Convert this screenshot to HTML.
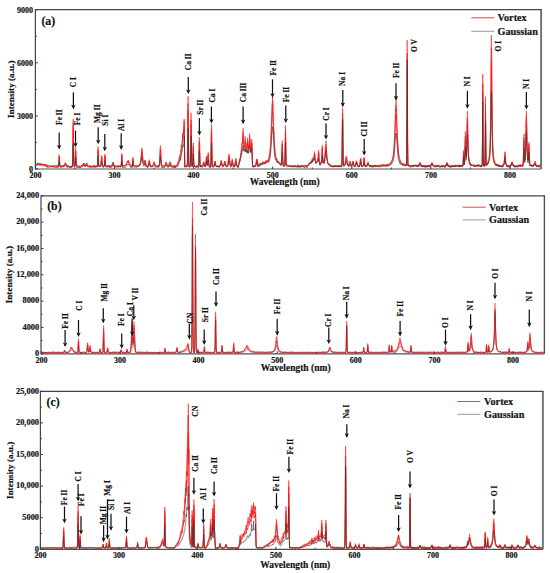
<!DOCTYPE html>
<html><head><meta charset="utf-8"><style>
html,body{margin:0;padding:0;background:#fff;width:550px;height:573px;overflow:hidden}
svg{display:block}
.b{font-family:"Liberation Serif",serif;font-weight:bold;fill:#111;stroke:#111;stroke-width:0.18px}
</style></head><body>
<svg width="550" height="573" viewBox="0 0 550 573">
<rect width="550" height="573" fill="#fff"/>
<g fill="none" stroke-width="0.95" stroke-linejoin="round">
<path d="M36.0,164.1 36.3,165.1 36.7,164.8 37.0,165.1 37.3,164.1 37.6,164.0 38.0,164.3 38.0,164.0 38.3,163.4 38.6,163.9 39.0,164.1 39.3,164.5 39.6,163.8 40.0,163.8 40.3,164.9 40.6,164.2 41.0,164.1 41.3,164.4 41.6,164.8 41.9,164.3 42.3,164.7 42.6,164.7 42.9,164.4 43.0,165.0 43.3,164.6 43.6,164.7 43.9,164.6 44.2,164.9 44.6,165.6 44.9,164.9 45.2,165.5 45.6,165.1 45.9,165.4 46.2,165.6 46.6,165.5 46.9,165.1 47.0,166.2 47.2,166.2 47.5,165.5 47.9,165.4 48.2,166.2 48.5,165.8 48.9,165.4 49.2,165.7 49.5,165.5 49.9,166.2 50.2,166.1 50.5,165.9 50.9,166.7 51.2,165.8 51.5,166.1 51.8,166.0 52.2,166.5 52.5,165.7 52.8,165.8 53.2,165.5 53.5,166.2 53.8,166.2 54.1,166.1 54.5,166.2 54.8,166.3 55.1,166.6 55.5,166.9 55.8,166.4 56.1,166.9 56.5,166.4 56.8,166.9 57.1,166.9 57.5,165.9 57.8,165.9 58.1,166.3 58.4,166.1 58.8,163.1 59.0,158.8 59.1,158.6 59.2,157.1 59.4,158.2 59.4,160.1 59.8,165.9 60.1,166.5 60.4,166.5 60.8,166.3 61.1,167.1 61.4,167.0 61.7,166.6 62.1,166.4 62.4,166.0 62.7,166.2 63.1,167.1 63.4,166.6 63.7,166.1 64.0,166.6 64.4,165.8 64.7,164.8 65.0,164.1 65.3,163.7 65.4,163.7 65.5,163.7 65.7,164.3 65.7,163.8 66.0,164.5 66.4,165.6 66.7,166.4 67.0,165.9 67.3,166.5 67.7,166.2 68.0,166.5 68.3,166.4 68.7,166.6 69.0,166.7 69.3,166.6 69.7,167.0 70.0,166.4 70.3,166.4 70.7,167.1 71.0,166.9 71.3,166.9 71.6,166.3 72.0,167.2 72.3,166.9 72.6,162.5 73.0,141.7 73.0,134.1 73.2,128.7 73.3,130.7 73.3,133.6 73.6,154.6 74.0,165.5 74.3,165.8 74.6,166.2 74.9,166.2 75.3,162.3 75.5,153.8 75.6,153.1 75.7,151.3 75.8,153.5 75.9,155.9 76.3,163.7 76.6,165.6 76.9,165.5 77.2,166.4 77.6,165.9 77.9,166.7 78.2,166.4 78.6,167.1 78.9,167.1 79.2,167.0 79.6,167.5 79.9,167.1 80.2,166.9 80.5,166.3 80.9,166.5 81.2,166.3 81.5,166.3 81.9,166.6 82.2,166.5 82.5,165.2 82.9,165.3 83.2,164.8 83.5,164.0 83.5,163.4 83.7,164.2 83.8,163.6 84.2,164.8 84.5,165.2 84.8,165.8 85.2,166.2 85.5,164.9 85.8,165.1 86.2,164.0 86.5,163.3 86.5,163.6 86.6,164.0 86.8,163.4 86.8,163.9 87.2,164.9 87.5,165.2 87.8,166.1 88.1,166.1 88.5,166.7 88.8,165.7 89.1,166.2 89.5,166.4 89.8,165.8 90.1,166.9 90.5,166.0 90.8,167.0 91.1,166.9 91.4,167.2 91.8,166.9 92.1,166.5 92.4,166.2 92.8,166.2 93.1,167.0 93.4,166.1 93.8,166.0 94.1,166.8 94.4,166.5 94.7,166.6 95.1,166.9 95.4,166.2 95.7,166.6 96.1,166.3 96.4,166.9 96.7,166.1 97.0,166.4 97.4,166.3 97.7,161.4 98.0,153.1 98.0,151.6 98.1,151.7 98.2,153.0 98.4,156.9 98.7,164.5 99.0,166.6 99.4,166.2 99.7,165.8 100.0,166.1 100.3,165.8 100.7,165.7 101.0,164.2 101.3,160.9 101.5,159.4 101.7,158.1 101.7,157.6 101.8,159.1 102.0,160.2 102.3,163.4 102.7,165.8 103.0,166.3 103.3,166.5 103.7,166.7 104.0,166.0 104.3,165.3 104.6,162.4 104.8,158.2 105.0,156.8 105.0,156.3 105.2,158.1 105.3,161.5 105.6,165.6 106.0,166.3 106.3,166.0 106.6,166.4 107.0,165.9 107.3,165.9 107.6,166.4 107.9,165.9 108.3,166.0 108.6,166.6 108.9,166.1 109.3,166.9 109.6,166.2 109.9,167.1 110.2,166.7 110.6,166.2 110.9,166.5 111.2,166.6 111.6,166.3 111.9,166.3 112.2,165.2 112.6,164.9 112.8,163.4 112.9,164.1 113.0,163.1 113.2,163.7 113.2,163.2 113.5,164.0 113.9,165.5 114.2,166.4 114.5,165.9 114.9,166.2 115.2,166.3 115.5,166.5 115.9,166.1 116.2,166.3 116.5,166.8 116.8,166.5 117.2,166.2 117.5,166.6 117.8,166.9 118.2,166.3 118.5,165.7 118.8,165.9 119.2,166.6 119.5,165.7 119.8,165.8 120.2,166.4 120.5,165.7 120.8,166.6 121.1,165.6 121.5,161.5 121.7,158.0 121.8,155.9 122.0,157.9 122.1,161.5 122.5,166.0 122.8,166.5 123.1,165.8 123.5,166.4 123.8,166.5 124.1,165.8 124.4,166.0 124.8,165.8 125.1,165.9 125.4,165.8 125.8,165.1 126.1,164.9 126.4,163.9 126.8,163.8 127.1,162.9 127.4,162.7 127.7,161.4 127.8,161.9 128.0,161.2 128.1,161.9 128.2,161.7 128.4,162.9 128.7,162.3 129.1,163.8 129.4,164.2 129.7,164.8 130.1,165.0 130.4,166.0 130.7,166.5 131.0,165.7 131.4,166.4 131.7,166.0 132.0,165.7 132.4,165.0 132.7,161.6 132.8,160.9 132.9,160.1 133.0,159.8 133.1,160.4 133.3,164.3 133.7,165.9 134.0,166.1 134.3,165.8 134.7,165.5 135.0,166.0 135.3,166.4 135.7,166.2 136.0,166.4 136.3,166.1 136.7,165.8 137.0,166.5 137.3,165.9 137.6,166.0 138.0,166.7 138.3,166.2 138.6,166.4 139.0,166.0 139.3,166.0 139.6,164.7 139.9,164.8 140.3,163.4 140.6,162.4 140.9,159.9 141.3,156.9 141.6,153.5 141.8,152.0 141.9,152.7 141.9,151.8 142.1,152.4 142.3,154.9 142.6,158.2 142.9,160.8 143.2,162.5 143.6,163.3 143.9,163.9 144.2,164.7 144.6,163.1 144.8,161.8 144.9,162.4 145.0,162.0 145.2,161.7 145.2,162.6 145.6,163.2 145.9,165.3 146.2,166.2 146.6,165.5 146.9,166.5 147.2,166.2 147.5,166.2 147.9,166.5 148.2,165.7 148.5,164.4 148.9,162.2 149.2,161.8 149.2,161.2 149.3,161.5 149.4,161.7 149.5,162.5 149.8,164.3 150.2,165.9 150.5,166.2 150.8,167.0 151.2,166.3 151.5,165.9 151.8,166.5 152.2,165.7 152.5,166.4 152.8,165.3 153.2,164.3 153.5,163.4 153.8,163.1 153.8,163.2 154.0,163.4 154.1,162.6 154.2,162.9 154.5,163.5 154.8,165.2 155.1,165.4 155.5,165.9 155.8,166.5 156.1,166.3 156.4,166.3 156.8,166.3 157.1,166.0 157.4,166.5 157.8,165.9 158.1,166.3 158.4,166.2 158.8,166.6 159.1,166.4 159.4,164.7 159.8,161.1 160.1,154.4 160.2,151.6 160.4,150.3 160.4,149.8 160.6,150.4 160.7,154.2 161.1,160.3 161.4,164.5 161.7,165.5 162.1,165.9 162.4,165.7 162.7,166.6 163.1,166.1 163.4,166.6 163.7,166.9 164.0,166.9 164.4,166.9 164.7,166.4 165.0,165.2 165.4,165.2 165.7,163.4 165.8,163.7 166.0,164.0 166.0,163.9 166.2,163.5 166.3,164.1 166.7,163.9 167.0,164.4 167.3,165.0 167.7,166.0 168.0,165.2 168.3,165.3 168.7,165.4 169.0,164.7 169.3,164.8 169.7,163.4 169.8,163.2 170.0,164.1 170.0,163.1 170.2,163.3 170.3,163.9 170.6,165.1 171.0,165.1 171.3,166.0 171.6,166.5 172.0,166.7 172.3,166.9 172.6,165.9 172.9,166.5 173.3,165.9 173.6,166.7 173.9,165.7 174.3,165.6 174.6,166.2 174.9,166.4 175.3,165.7 175.5,166.8 175.6,166.3 175.9,166.3 176.2,165.9 176.6,166.5 176.9,165.9 177.2,165.7 177.6,164.7 177.9,164.0 178.0,164.9 178.2,164.0 178.6,163.3 178.9,161.5 179.2,160.7 179.6,159.2 179.9,158.7 180.2,157.0 180.5,157.5 180.7,157.9 180.9,155.1 181.2,154.1 181.5,149.7 181.9,146.5 182.2,144.6 182.5,142.7 182.8,140.5 182.9,134.6 183.2,134.4 183.5,131.8 183.8,129.5 184.2,132.5 184.2,127.2 184.5,146.7 184.8,166.4 184.8,166.8 185.2,166.3 185.5,166.8 185.8,165.5 186.2,165.7 186.5,165.6 186.8,165.7 187.1,166.4 187.5,163.2 187.8,136.7 187.9,118.9 188.1,110.5 188.1,110.9 188.2,118.3 188.5,143.4 188.8,163.7 189.1,166.3 189.4,166.3 189.8,166.2 190.1,166.7 190.4,164.0 190.8,146.9 190.9,130.6 191.1,124.8 191.2,130.6 191.4,146.8 191.8,164.8 192.1,166.8 192.4,166.5 192.8,164.7 193.1,152.9 193.2,151.0 193.3,148.0 193.4,149.4 193.4,149.8 193.7,161.6 194.1,165.8 194.4,165.9 194.7,166.8 195.1,165.9 195.4,166.6 195.7,166.2 196.1,166.7 196.4,166.0 196.7,165.8 197.0,166.2 197.4,166.2 197.7,166.4 198.0,165.7 198.4,166.1 198.7,165.2 199.0,157.6 199.2,145.7 199.3,143.0 199.4,143.1 199.6,146.4 199.7,151.9 200.0,164.3 200.3,165.7 200.7,166.0 201.0,166.5 201.3,165.6 201.7,166.4 202.0,167.0 202.3,166.0 202.7,166.0 203.0,166.0 203.3,164.0 203.6,163.0 203.7,163.3 203.8,162.8 203.9,162.6 204.0,162.7 204.3,164.2 204.6,166.0 205.0,165.9 205.3,166.7 205.6,166.2 205.9,163.3 206.3,159.6 206.3,159.5 206.5,158.1 206.6,159.0 206.7,159.1 206.9,161.9 207.3,165.4 207.6,163.0 207.9,158.2 208.1,156.3 208.2,155.9 208.3,156.4 208.3,157.0 208.6,160.4 208.9,163.9 209.2,166.2 209.6,166.2 209.9,166.9 210.2,166.4 210.6,166.6 210.9,163.4 211.2,147.0 211.3,138.4 211.5,134.1 211.6,134.0 211.7,138.5 211.9,154.2 212.2,165.1 212.6,166.3 212.9,166.7 213.2,166.5 213.5,166.1 213.9,166.7 214.2,165.1 214.5,164.4 214.8,162.7 214.9,162.4 215.0,162.6 215.2,163.8 215.2,162.8 215.5,164.9 215.8,165.9 216.2,166.6 216.5,166.8 216.8,165.8 217.2,166.8 217.5,165.9 217.8,165.8 218.2,166.1 218.5,166.9 218.8,166.9 219.2,167.0 219.5,166.3 219.8,166.4 220.1,166.0 220.5,165.6 220.8,163.6 221.1,162.8 221.2,162.6 221.3,162.2 221.4,162.4 221.5,162.2 221.8,163.8 222.1,164.6 222.4,165.8 222.8,165.9 223.1,165.6 223.4,165.9 223.8,165.5 224.1,165.0 224.4,163.6 224.8,162.2 224.8,162.2 224.9,162.3 225.1,162.4 225.1,162.8 225.4,164.6 225.8,164.9 226.1,166.0 226.4,166.7 226.7,167.0 227.1,166.4 227.4,166.2 227.7,166.0 228.1,163.5 228.4,161.6 228.7,158.4 228.8,157.5 229.0,157.7 229.1,157.1 229.2,157.8 229.4,158.5 229.7,161.3 230.0,164.3 230.4,165.7 230.7,166.5 231.0,165.8 231.4,165.6 231.7,163.2 232.0,161.9 232.1,161.4 232.2,161.0 232.3,160.3 232.7,162.0 233.0,164.1 233.3,165.7 233.7,165.7 234.0,166.1 234.3,166.3 234.7,166.9 235.0,165.0 235.3,162.4 235.7,160.2 235.8,160.4 235.9,160.4 236.0,161.2 236.3,163.5 236.6,165.7 237.0,166.3 237.3,167.2 237.6,167.4 238.0,166.9 238.3,167.6 238.5,166.7 238.6,165.9 238.9,164.5 239.3,163.1 239.6,160.9 239.9,161.7 240.0,161.2 240.3,158.6 240.6,157.2 240.9,153.8 241.3,153.8 241.5,152.6 241.6,151.1 241.9,147.7 242.2,143.7 242.5,142.3 242.6,142.7 242.9,138.5 242.9,137.4 243.1,136.1 243.2,137.3 243.2,138.6 243.6,146.0 243.9,147.6 244.0,149.0 244.2,150.5 244.6,146.1 244.9,147.5 245.2,144.8 245.2,144.4 245.3,143.0 245.4,144.3 245.6,146.4 245.9,146.1 246.2,150.3 246.5,150.7 246.5,152.0 246.9,148.6 247.2,147.2 247.3,146.7 247.5,144.4 247.5,144.0 247.7,144.9 247.9,150.4 248.2,149.3 248.5,153.0 248.5,152.0 248.8,151.3 249.2,146.0 249.4,144.2 249.5,142.7 249.6,140.5 249.8,144.9 249.8,144.9 250.2,146.9 250.5,150.7 250.7,151.1 250.8,149.3 251.2,148.9 251.5,148.6 251.7,147.1 251.8,144.6 251.8,143.9 251.9,147.0 252.2,155.3 252.5,164.8 252.5,166.3 252.8,166.2 253.1,165.7 253.5,166.0 253.8,165.8 254.1,165.9 254.5,165.5 254.8,166.1 255.1,165.8 255.4,166.5 255.8,165.8 256.1,163.9 256.4,161.1 256.8,160.4 256.8,160.5 256.9,159.5 257.1,160.9 257.1,160.2 257.4,162.0 257.8,164.0 258.0,166.0 258.1,165.2 258.4,165.4 258.8,165.3 259.1,165.2 259.4,165.2 259.7,164.7 260.1,163.9 260.4,164.1 260.7,163.4 261.1,164.1 261.4,163.2 261.7,164.2 262.0,163.1 262.1,163.2 262.4,163.4 262.6,163.0 262.7,163.3 262.7,163.1 262.9,163.0 263.0,163.1 263.4,162.6 263.7,163.1 264.0,162.4 264.4,163.8 264.7,163.1 265.0,162.2 265.4,162.4 265.7,162.7 266.0,162.7 266.3,162.6 266.7,161.8 267.0,161.6 267.3,162.0 267.7,161.2 268.0,161.5 268.0,160.3 268.3,161.0 268.6,159.7 269.0,159.7 269.3,158.4 269.6,156.3 270.0,154.6 270.3,150.9 270.6,147.1 271.0,140.2 271.0,139.2 271.3,135.5 271.6,126.0 271.9,123.4 272.3,112.1 272.4,112.3 272.5,110.8 272.6,113.8 272.6,114.8 272.9,116.3 273.3,127.5 273.6,134.1 273.9,140.1 274.0,141.3 274.3,145.5 274.6,150.1 274.9,153.6 275.2,156.1 275.6,158.5 275.9,159.1 276.2,159.6 276.6,160.6 276.9,160.6 277.0,161.0 277.2,160.7 277.6,161.9 277.9,162.0 278.2,162.3 278.6,163.1 278.9,163.4 279.2,163.3 279.5,163.3 279.9,164.0 280.2,164.5 280.5,164.0 280.9,164.2 281.0,164.4 281.2,164.6 281.5,161.2 281.9,152.1 282.1,147.7 282.2,146.6 282.2,146.2 282.4,147.7 282.5,151.6 282.8,160.5 283.0,163.5 283.2,165.2 283.5,166.1 283.8,165.0 284.2,166.1 284.5,165.2 284.8,164.9 285.1,152.6 285.4,139.2 285.5,134.6 285.5,134.6 285.6,139.1 285.8,150.4 286.1,164.4 286.5,165.5 286.8,165.8 287.1,165.6 287.5,165.6 287.8,166.1 288.1,166.2 288.4,165.6 288.8,166.5 289.1,166.0 289.4,166.2 289.8,166.6 290.1,166.6 290.4,166.5 290.8,166.7 291.1,165.9 291.4,166.5 291.8,166.7 292.1,166.6 292.4,165.7 292.7,166.0 293.1,166.0 293.4,166.2 293.7,166.5 294.1,166.4 294.4,167.0 294.7,167.2 295.1,166.8 295.4,166.1 295.7,166.1 296.0,166.2 296.4,166.9 296.7,166.0 297.0,166.7 297.4,166.2 297.7,166.8 298.0,166.0 298.4,166.2 298.7,166.1 299.0,166.3 299.3,165.7 299.7,166.3 300.0,166.6 300.3,165.7 300.7,165.6 301.0,165.8 301.3,166.0 301.6,166.7 302.0,165.9 302.3,165.7 302.6,166.4 303.0,166.2 303.3,165.9 303.6,166.4 304.0,165.9 304.3,166.5 304.6,165.8 304.9,165.9 305.3,165.6 305.6,165.5 305.9,166.3 306.3,166.5 306.6,166.3 306.9,166.1 307.0,166.7 307.3,165.7 307.6,165.6 307.9,165.2 308.2,164.5 308.6,164.5 308.9,164.5 309.2,163.6 309.6,163.2 309.9,163.4 310.0,163.7 310.2,163.2 310.6,163.3 310.9,161.8 311.2,162.4 311.6,162.0 311.9,161.1 312.2,161.1 312.5,160.8 312.5,161.8 312.9,160.5 313.2,159.6 313.5,160.3 313.9,159.2 314.2,156.8 314.4,155.4 314.5,154.7 314.5,155.0 314.6,156.3 314.9,157.6 315.2,160.7 315.5,162.3 315.8,163.5 316.0,163.2 316.2,163.4 316.5,162.6 316.8,161.9 317.2,161.8 317.5,161.7 317.8,161.3 318.1,160.7 318.4,154.9 318.5,154.4 318.6,154.0 318.8,153.9 318.8,155.7 319.1,161.9 319.5,161.9 319.8,162.9 320.0,164.0 320.1,165.0 320.5,163.9 320.8,163.2 321.1,162.9 321.4,162.0 321.8,161.0 322.1,152.2 322.1,151.6 322.3,149.4 322.4,150.9 322.4,151.0 322.8,159.6 323.1,162.4 323.4,161.7 323.8,162.6 324.0,162.0 324.1,163.1 324.4,161.3 324.8,158.7 325.0,156.8 325.1,155.7 325.4,152.4 325.7,148.8 325.8,148.2 325.9,148.2 326.1,147.2 326.1,148.3 326.4,152.0 326.7,155.6 327.1,159.1 327.4,160.9 327.7,162.6 328.1,163.4 328.4,163.7 328.7,164.2 329.0,165.0 329.4,165.2 329.7,165.2 330.0,165.1 330.4,165.1 330.7,165.8 331.0,166.1 331.4,165.9 331.7,166.0 332.0,165.8 332.3,166.6 332.7,166.8 333.0,166.2 333.3,166.3 333.7,166.4 334.0,166.2 334.3,166.4 334.6,166.1 335.0,166.9 335.3,166.9 335.6,166.2 336.0,165.9 336.3,166.2 336.6,167.2 337.0,166.3 337.3,166.7 337.6,166.7 337.9,166.1 338.3,166.5 338.6,165.4 338.9,165.0 339.3,166.0 339.6,165.8 339.9,165.7 340.3,165.9 340.6,166.3 340.9,166.2 341.2,166.4 341.6,166.6 341.9,164.1 342.2,147.1 342.4,125.8 342.6,119.6 342.6,119.2 342.8,126.1 342.9,142.0 343.2,163.2 343.6,166.3 343.9,165.7 344.2,165.4 344.6,165.9 344.9,164.9 345.2,164.2 345.5,162.7 345.9,160.5 346.1,159.0 346.2,158.1 346.3,158.4 346.4,159.3 346.5,160.2 346.9,161.0 347.2,163.3 347.5,165.0 347.9,165.3 348.2,166.0 348.5,165.1 348.8,165.6 349.2,165.6 349.5,164.4 349.8,163.5 349.9,163.9 350.0,163.6 350.1,162.8 350.2,163.2 350.5,163.7 350.8,164.7 351.1,166.1 351.5,166.0 351.8,166.4 352.1,164.6 352.5,163.6 352.8,163.3 352.9,162.7 353.0,162.9 353.1,163.0 353.1,162.9 353.5,163.4 353.8,165.0 354.1,166.4 354.4,166.4 354.8,166.5 355.1,167.1 355.4,165.6 355.8,164.7 356.1,163.0 356.4,162.4 356.4,162.6 356.5,162.7 356.6,162.6 356.8,162.5 357.1,163.9 357.4,165.4 357.8,166.4 358.1,166.7 358.4,165.7 358.7,165.7 359.1,166.8 359.4,166.6 359.7,165.1 360.1,163.1 360.4,160.0 360.4,159.9 360.6,159.6 360.7,160.3 360.8,159.6 361.1,163.0 361.4,165.3 361.7,166.5 362.0,166.4 362.4,166.5 362.7,166.4 363.0,166.2 363.4,165.3 363.7,163.1 363.9,161.0 364.0,159.6 364.1,160.1 364.2,159.9 364.4,161.2 364.7,165.0 365.0,166.7 365.3,166.7 365.7,166.6 366.0,166.6 366.3,166.1 366.7,166.8 367.0,166.1 367.3,165.1 367.6,164.0 367.9,163.7 368.0,164.1 368.0,163.2 368.1,163.6 368.3,164.1 368.6,165.0 369.0,165.3 369.3,165.9 369.6,165.8 370.0,165.7 370.3,166.1 370.6,165.3 370.9,165.7 371.3,166.0 371.6,165.7 371.9,165.6 372.3,166.7 372.6,166.8 372.9,167.3 373.3,166.4 373.6,167.2 373.9,166.7 374.2,166.6 374.6,165.9 374.9,166.3 375.2,165.8 375.6,165.5 375.9,166.6 376.2,165.7 376.6,165.9 376.9,166.9 377.2,167.0 377.6,166.3 377.9,166.8 378.2,166.4 378.5,166.7 378.9,166.7 379.2,166.6 379.5,166.6 379.9,166.5 380.2,166.8 380.5,165.8 380.9,165.8 381.2,166.2 381.5,165.8 381.8,165.4 382.2,165.4 382.5,166.2 382.8,166.2 383.2,165.2 383.5,165.7 383.8,165.4 384.1,165.1 384.5,165.0 384.8,166.2 385.1,165.1 385.5,165.7 385.8,166.0 386.1,165.9 386.5,165.9 386.8,165.1 387.1,165.2 387.4,165.0 387.8,165.3 388.1,165.2 388.4,164.7 388.8,165.0 389.1,164.4 389.4,164.6 389.8,164.2 390.1,164.4 390.4,164.2 390.8,163.5 391.1,163.3 391.4,163.7 391.7,162.7 392.1,161.8 392.4,160.5 392.7,159.2 393.1,158.0 393.4,157.0 393.7,154.6 394.1,150.6 394.4,146.0 394.7,137.7 395.0,135.1 395.4,126.2 395.7,115.9 395.9,117.3 396.0,114.2 396.0,114.6 396.1,113.8 396.4,116.5 396.7,126.5 397.0,132.5 397.4,140.4 397.7,145.2 398.0,150.2 398.3,154.6 398.7,156.1 399.0,158.2 399.3,160.2 399.7,161.6 400.0,161.3 400.3,162.2 400.6,162.6 401.0,164.2 401.3,163.8 401.6,163.8 402.0,164.3 402.3,164.6 402.6,164.9 403.0,164.9 403.3,164.4 403.6,164.9 403.9,165.4 404.3,164.9 404.6,165.1 404.9,165.2 405.3,165.4 405.6,165.3 405.9,165.2 406.3,166.1 406.6,164.2 406.9,121.6 407.1,86.4 407.2,66.2 407.2,68.3 407.4,86.7 407.6,144.3 407.9,166.0 408.2,165.3 408.6,166.0 408.9,166.0 409.2,166.2 409.6,165.9 409.9,166.9 410.2,167.4 410.6,166.8 410.9,166.8 411.2,166.5 411.5,167.0 411.9,167.3 412.2,167.1 412.5,166.6 412.9,166.7 413.2,165.8 413.5,165.9 413.9,166.6 414.2,166.5 414.5,165.9 414.8,165.3 415.2,165.1 415.5,166.2 415.8,165.0 416.2,166.1 416.5,165.2 416.8,165.4 417.1,165.1 417.5,165.8 417.8,165.1 418.1,165.4 418.5,165.8 418.8,165.4 419.1,164.8 419.5,165.5 419.8,164.2 419.9,164.0 420.0,163.5 420.1,164.4 420.1,163.3 420.4,164.5 420.8,164.9 421.1,165.7 421.4,165.7 421.8,167.1 422.1,165.8 422.4,166.4 422.8,165.8 423.1,165.5 423.4,166.0 423.8,166.0 424.1,166.3 424.4,166.0 424.7,166.2 425.1,166.2 425.4,167.4 425.7,167.4 426.1,166.8 426.4,167.4 426.7,167.1 427.1,167.1 427.4,167.0 427.7,166.3 428.0,165.6 428.4,166.0 428.7,166.1 429.0,165.8 429.4,166.6 429.7,166.3 430.0,167.3 430.4,166.4 430.7,165.9 431.0,165.2 431.3,165.0 431.7,164.2 431.9,163.6 432.0,163.6 432.1,163.3 432.3,164.2 432.7,165.1 433.0,165.4 433.3,166.0 433.6,166.2 434.0,166.5 434.3,166.7 434.6,166.3 435.0,166.7 435.3,165.8 435.6,165.7 436.0,166.5 436.3,166.0 436.6,166.3 436.9,165.5 437.3,166.6 437.6,166.6 437.9,165.7 438.3,166.1 438.6,165.6 438.9,166.0 439.3,165.9 439.6,166.3 439.9,166.7 440.2,166.7 440.6,166.5 440.9,167.1 441.2,166.7 441.6,165.8 441.9,166.7 442.2,166.1 442.6,166.4 442.9,165.3 443.2,166.1 443.6,166.6 443.9,166.4 444.2,166.6 444.5,166.9 444.9,167.1 445.2,167.1 445.5,165.8 445.9,166.3 446.2,165.4 446.5,164.0 446.9,163.7 447.0,164.6 447.1,163.2 447.2,163.6 447.5,165.5 447.8,166.0 448.2,165.3 448.5,166.6 448.8,166.3 449.2,166.4 449.5,166.5 449.8,166.4 450.1,166.9 450.5,166.6 450.8,167.8 451.1,167.1 451.5,166.9 451.8,166.3 452.1,165.9 452.5,166.5 452.8,166.6 453.1,165.2 453.4,166.3 453.8,166.3 454.1,165.8 454.4,166.3 454.8,166.4 455.1,166.1 455.4,166.5 455.8,165.8 456.1,165.3 456.4,166.1 456.8,166.2 457.1,165.8 457.4,165.6 457.7,165.7 458.1,166.7 458.4,167.0 458.7,165.7 459.1,166.9 459.4,165.7 459.7,166.1 460.1,166.8 460.4,166.2 460.7,166.3 461.0,165.3 461.4,165.6 461.7,165.5 462.0,166.2 462.4,165.2 462.7,165.9 463.0,165.9 463.4,158.5 463.4,156.0 463.6,154.6 463.7,154.0 463.8,155.8 464.0,162.0 464.3,164.5 464.7,161.8 465.0,150.3 465.2,141.4 465.3,139.4 465.4,139.5 465.6,141.8 465.7,145.3 466.0,157.8 466.3,156.3 466.6,149.7 467.0,137.6 467.2,125.3 467.3,124.4 467.4,122.2 467.6,125.9 467.6,129.5 468.0,144.3 468.3,152.4 468.6,157.9 469.0,160.3 469.3,162.9 469.6,163.6 469.9,164.5 470.3,164.9 470.6,163.9 470.9,165.6 471.3,165.9 471.6,165.5 471.9,165.1 472.3,165.7 472.6,165.3 472.9,165.9 473.2,165.7 473.6,166.3 473.9,165.7 474.2,165.4 474.6,165.6 474.9,165.6 475.2,165.9 475.6,166.2 475.9,166.7 476.2,165.5 476.6,165.8 476.9,166.1 477.2,165.9 477.5,165.7 477.9,164.8 478.2,165.2 478.5,165.3 478.9,166.4 479.2,165.9 479.5,166.4 479.9,165.6 480.2,167.0 480.5,166.7 480.8,166.4 481.2,166.7 481.5,166.0 481.8,165.8 482.2,165.5 482.5,138.4 482.6,108.3 482.8,92.3 482.8,93.7 482.9,108.2 483.1,145.5 483.5,165.5 483.8,165.0 484.1,165.0 484.5,164.8 484.8,165.4 485.1,152.9 485.4,121.9 485.5,110.9 485.5,110.7 485.6,122.7 485.8,143.0 486.1,165.1 486.4,163.7 486.8,164.4 487.1,163.7 487.4,163.2 487.8,163.3 488.1,162.5 488.4,161.9 488.8,161.0 489.1,159.9 489.4,157.8 489.8,153.4 490.1,148.0 490.4,137.4 490.7,118.2 491.1,85.8 491.2,67.4 491.4,61.1 491.6,67.7 491.7,86.1 492.1,118.5 492.4,138.0 492.7,148.6 493.1,155.0 493.4,158.0 493.7,159.8 494.0,161.4 494.4,162.3 494.7,163.3 495.0,164.0 495.4,164.4 495.7,164.8 496.0,164.8 496.4,164.9 496.7,165.1 497.0,164.9 497.3,165.3 497.7,165.9 498.0,164.6 498.3,165.4 498.7,165.5 499.0,165.3 499.3,165.3 499.6,164.8 500.0,166.1 500.3,165.6 500.6,166.3 501.0,166.3 501.3,166.3 501.6,166.1 502.0,166.7 502.3,166.6 502.6,166.0 502.9,165.9 503.3,166.0 503.6,164.6 503.9,164.6 504.3,162.9 504.6,159.1 504.9,155.7 504.9,155.5 505.0,155.5 505.1,155.6 505.3,156.5 505.6,162.1 505.9,163.1 506.2,165.3 506.6,165.3 506.9,166.3 507.2,165.4 507.6,165.9 507.9,165.8 508.2,166.2 508.6,166.2 508.9,165.2 509.2,166.1 509.6,165.4 509.9,166.7 510.2,167.1 510.5,166.0 510.9,165.9 511.2,164.8 511.5,164.1 511.9,163.2 511.9,163.3 512.0,162.8 512.1,163.7 512.2,162.5 512.5,163.1 512.9,164.1 513.2,165.6 513.5,165.4 513.8,165.7 514.2,166.6 514.5,167.1 514.8,167.4 515.2,167.0 515.5,166.9 515.8,167.1 516.1,166.8 516.5,166.5 516.8,165.5 517.1,165.2 517.5,166.5 517.8,165.8 518.1,166.1 518.5,166.1 518.8,165.5 519.1,166.1 519.5,165.1 519.8,166.3 520.1,165.8 520.4,164.8 520.8,164.9 521.1,165.9 521.4,165.6 521.8,166.2 522.1,165.9 522.4,166.3 522.8,164.9 523.1,164.0 523.4,158.2 523.7,145.9 523.9,142.5 524.0,141.0 524.1,141.1 524.1,143.4 524.4,151.4 524.7,161.4 525.1,159.3 525.4,155.1 525.7,146.8 526.0,132.9 526.2,124.6 526.4,121.7 526.4,121.9 526.5,124.5 526.7,130.3 527.0,145.6 527.4,153.5 527.7,158.7 528.0,161.4 528.4,159.4 528.7,150.2 528.8,148.8 528.9,147.2 529.0,147.9 529.0,148.8 529.4,156.7 529.7,164.2 530.0,165.6 530.3,166.0 530.7,165.7 531.0,166.1 531.3,166.0 531.7,165.2 532.0,165.6 532.3,165.9 532.6,165.8 533.0,165.7 533.3,165.4 533.6,165.5 534.0,164.4 534.3,163.7 534.6,163.9 534.9,163.3 535.0,163.9 535.0,164.0 535.1,164.2 535.3,163.5 535.6,164.1 536.0,164.5 536.3,166.2 536.6,166.4 536.9,166.0 537.3,166.1 537.6,166.4 537.9,166.5 538.3,166.5 538.6,166.8 538.9,165.6 539.2,165.4 539.6,165.9 539.9,166.3 540.2,166.1" stroke="#f01010" stroke-opacity="0.62"/>
<path d="M36.0,164.6 36.3,164.5 36.7,164.3 37.0,164.0 37.3,163.7 37.6,163.8 38.0,163.8 38.0,164.2 38.3,164.1 38.6,164.2 39.0,164.2 39.3,164.1 39.6,163.5 40.0,163.9 40.3,163.7 40.6,165.1 41.0,164.1 41.3,165.1 41.6,164.2 41.9,165.1 42.3,164.3 42.6,164.4 42.9,164.7 43.0,163.7 43.3,163.9 43.6,165.2 43.9,164.5 44.2,164.1 44.6,164.9 44.9,164.9 45.2,164.1 45.6,164.6 45.9,164.4 46.2,164.7 46.6,165.2 46.9,164.8 47.0,166.3 47.2,165.8 47.5,165.8 47.9,166.6 48.2,166.2 48.5,166.0 48.9,166.2 49.2,165.9 49.5,165.8 49.9,165.6 50.2,166.3 50.5,166.6 50.9,166.8 51.2,166.7 51.5,166.4 51.8,166.1 52.2,166.5 52.5,166.5 52.8,166.0 53.2,165.9 53.5,166.1 53.8,166.2 54.1,166.6 54.5,166.3 54.8,165.5 55.1,166.3 55.5,166.1 55.8,166.2 56.1,166.0 56.5,166.3 56.8,166.2 57.1,166.7 57.5,165.9 57.8,166.5 58.1,165.9 58.4,166.2 58.8,162.8 59.0,157.1 59.1,156.5 59.2,156.1 59.4,157.0 59.4,159.2 59.8,165.0 60.1,166.3 60.4,166.5 60.8,166.9 61.1,166.4 61.4,166.6 61.7,165.6 62.1,166.2 62.4,165.5 62.7,165.2 63.1,166.0 63.4,166.1 63.7,165.0 64.0,165.0 64.4,165.2 64.7,164.4 65.0,163.8 65.3,163.0 65.4,163.3 65.5,164.0 65.7,164.7 65.7,164.8 66.0,164.5 66.4,164.4 66.7,165.3 67.0,166.0 67.3,166.3 67.7,166.3 68.0,165.6 68.3,166.1 68.7,166.2 69.0,166.4 69.3,166.0 69.7,166.9 70.0,166.8 70.3,166.3 70.7,166.5 71.0,167.3 71.3,166.8 71.6,167.7 72.0,167.1 72.3,166.9 72.6,162.3 73.0,137.7 73.0,129.9 73.2,123.5 73.3,126.3 73.3,129.9 73.6,153.0 74.0,165.6 74.3,165.9 74.6,165.7 74.9,165.7 75.3,161.8 75.5,152.0 75.6,151.0 75.7,150.4 75.8,152.7 75.9,155.0 76.3,164.1 76.6,166.1 76.9,166.4 77.2,166.5 77.6,166.1 77.9,166.2 78.2,166.2 78.6,166.5 78.9,166.6 79.2,165.9 79.6,166.4 79.9,166.7 80.2,166.6 80.5,166.8 80.9,167.0 81.2,166.3 81.5,166.5 81.9,166.0 82.2,165.4 82.5,165.1 82.9,164.3 83.2,164.2 83.5,163.4 83.5,163.2 83.7,163.4 83.8,163.0 84.2,164.0 84.5,165.1 84.8,165.6 85.2,165.8 85.5,165.6 85.8,164.7 86.2,164.3 86.5,163.0 86.5,163.0 86.6,163.3 86.8,163.9 86.8,164.3 87.2,164.8 87.5,166.1 87.8,166.3 88.1,166.3 88.5,166.7 88.8,166.5 89.1,165.9 89.5,166.4 89.8,166.1 90.1,165.9 90.5,165.8 90.8,166.7 91.1,165.7 91.4,166.3 91.8,166.3 92.1,166.1 92.4,166.4 92.8,166.2 93.1,166.8 93.4,166.2 93.8,166.3 94.1,165.5 94.4,165.9 94.7,166.2 95.1,166.3 95.4,165.9 95.7,166.2 96.1,166.8 96.4,167.0 96.7,166.2 97.0,166.4 97.4,166.4 97.7,160.2 98.0,151.6 98.0,149.4 98.1,149.1 98.2,151.2 98.4,155.5 98.7,164.2 99.0,166.0 99.4,165.7 99.7,165.8 100.0,165.8 100.3,165.6 100.7,165.4 101.0,163.6 101.3,159.8 101.5,156.9 101.7,156.2 101.7,157.1 101.8,157.3 102.0,159.7 102.3,163.9 102.7,166.1 103.0,167.0 103.3,167.1 103.7,166.2 104.0,166.0 104.3,166.0 104.6,162.3 104.8,157.2 105.0,156.1 105.0,155.5 105.2,157.5 105.3,160.6 105.6,165.8 106.0,166.4 106.3,166.4 106.6,166.3 107.0,166.8 107.3,165.8 107.6,165.6 107.9,165.7 108.3,166.3 108.6,165.6 108.9,165.3 109.3,166.1 109.6,166.3 109.9,166.2 110.2,165.7 110.6,166.1 110.9,165.6 111.2,165.4 111.6,166.2 111.9,165.8 112.2,164.5 112.6,164.3 112.8,162.7 112.9,163.0 113.0,162.5 113.2,162.6 113.2,162.5 113.5,164.1 113.9,164.6 114.2,165.4 114.5,165.8 114.9,165.9 115.2,166.7 115.5,166.5 115.9,165.7 116.2,166.5 116.5,166.3 116.8,166.4 117.2,166.7 117.5,166.6 117.8,166.7 118.2,166.4 118.5,166.5 118.8,166.4 119.2,166.3 119.5,165.9 119.8,165.9 120.2,166.2 120.5,166.6 120.8,166.0 121.1,165.9 121.5,160.5 121.7,156.5 121.8,154.8 122.0,156.6 122.1,160.6 122.5,165.1 122.8,165.7 123.1,165.9 123.5,165.9 123.8,165.9 124.1,165.4 124.4,165.5 124.8,165.4 125.1,165.3 125.4,165.0 125.8,164.6 126.1,164.5 126.4,163.6 126.8,163.1 127.1,162.7 127.4,162.2 127.7,162.2 127.8,161.8 128.0,161.9 128.1,160.6 128.2,160.9 128.4,161.6 128.7,161.7 129.1,162.2 129.4,163.6 129.7,164.1 130.1,164.6 130.4,164.7 130.7,165.0 131.0,165.2 131.4,165.9 131.7,166.3 132.0,166.4 132.4,165.2 132.7,160.9 132.8,159.2 132.9,158.0 133.0,159.5 133.1,159.8 133.3,164.3 133.7,165.5 134.0,165.7 134.3,166.0 134.7,166.3 135.0,166.6 135.3,166.4 135.7,165.9 136.0,165.9 136.3,166.4 136.7,166.7 137.0,166.2 137.3,165.8 137.6,166.4 138.0,166.4 138.3,166.0 138.6,165.9 139.0,165.9 139.3,165.7 139.6,164.7 139.9,164.5 140.3,164.1 140.6,162.4 140.9,159.7 141.3,156.4 141.6,151.8 141.8,151.0 141.9,150.2 141.9,149.6 142.1,150.8 142.3,153.0 142.6,157.0 142.9,160.2 143.2,161.9 143.6,163.1 143.9,164.4 144.2,163.5 144.6,161.8 144.8,160.7 144.9,160.0 145.0,160.4 145.2,160.4 145.2,160.7 145.6,162.1 145.9,163.9 146.2,165.9 146.6,165.7 146.9,165.9 147.2,166.4 147.5,166.2 147.9,166.4 148.2,166.4 148.5,164.6 148.9,163.1 149.2,160.9 149.2,160.9 149.3,161.4 149.4,162.0 149.5,161.6 149.8,163.1 150.2,165.2 150.5,165.7 150.8,166.6 151.2,165.9 151.5,165.7 151.8,166.2 152.2,166.0 152.5,165.5 152.8,165.1 153.2,164.7 153.5,163.4 153.8,163.4 153.8,162.9 154.0,162.9 154.1,163.1 154.2,163.2 154.5,163.8 154.8,163.9 155.1,165.1 155.5,166.2 155.8,166.4 156.1,166.6 156.4,166.6 156.8,167.0 157.1,166.7 157.4,166.5 157.8,165.9 158.1,166.9 158.4,166.6 158.8,166.3 159.1,166.5 159.4,165.2 159.8,159.9 160.1,153.1 160.2,149.5 160.4,148.6 160.4,148.4 160.6,149.7 160.7,152.6 161.1,159.8 161.4,164.1 161.7,165.5 162.1,165.3 162.4,165.3 162.7,166.1 163.1,165.7 163.4,166.1 163.7,166.2 164.0,166.6 164.4,165.8 164.7,165.5 165.0,165.5 165.4,164.5 165.7,163.7 165.8,163.1 166.0,162.9 166.0,162.4 166.2,163.5 166.3,163.6 166.7,164.3 167.0,165.5 167.3,165.6 167.7,166.1 168.0,167.0 168.3,166.0 168.7,166.4 169.0,165.4 169.3,165.2 169.7,164.3 169.8,163.5 170.0,162.9 170.0,162.2 170.2,162.7 170.3,162.7 170.6,163.4 171.0,164.0 171.3,165.7 171.6,165.8 172.0,165.9 172.3,166.2 172.6,166.2 172.9,165.7 173.3,165.8 173.6,166.2 173.9,165.6 174.3,166.5 174.6,165.7 174.9,166.7 175.3,166.6 175.5,166.9 175.6,167.1 175.9,166.1 176.2,166.1 176.6,166.0 176.9,165.5 177.2,164.6 177.6,164.4 177.9,164.0 178.0,164.2 178.2,163.2 178.6,161.3 178.9,160.2 179.2,159.6 179.6,157.9 179.9,155.3 180.2,155.7 180.5,153.5 180.7,153.4 180.9,152.2 181.2,150.1 181.5,147.9 181.9,143.8 182.2,143.7 182.5,137.7 182.8,140.2 182.9,134.9 183.2,135.2 183.5,133.3 183.8,130.5 184.2,130.4 184.2,121.2 184.5,143.0 184.8,167.1 184.8,167.2 185.2,166.7 185.5,167.0 185.8,166.7 186.2,166.1 186.5,165.8 186.8,166.2 187.1,165.5 187.5,160.9 187.8,131.9 187.9,112.1 188.1,103.3 188.1,104.2 188.2,112.9 188.5,141.0 188.8,165.0 189.1,167.0 189.4,166.2 189.8,166.7 190.1,166.0 190.4,164.2 190.8,143.3 190.9,125.5 191.1,119.7 191.2,126.0 191.4,144.4 191.8,163.8 192.1,166.0 192.4,167.0 192.8,163.5 193.1,151.2 193.2,148.5 193.3,145.8 193.4,147.1 193.4,148.9 193.7,161.0 194.1,165.5 194.4,166.5 194.7,166.1 195.1,165.9 195.4,167.1 195.7,166.9 196.1,166.5 196.4,166.4 196.7,166.2 197.0,166.2 197.4,166.0 197.7,165.8 198.0,166.5 198.4,167.2 198.7,166.6 199.0,157.2 199.2,144.3 199.3,140.9 199.4,141.0 199.6,144.7 199.7,151.9 200.0,165.1 200.3,166.9 200.7,167.0 201.0,166.4 201.3,166.7 201.7,166.5 202.0,166.5 202.3,166.4 202.7,166.3 203.0,165.2 203.3,164.3 203.6,162.6 203.7,163.5 203.8,162.9 203.9,163.0 204.0,162.9 204.3,164.3 204.6,165.3 205.0,166.9 205.3,167.0 205.6,166.1 205.9,163.3 206.3,158.4 206.3,157.9 206.5,157.0 206.6,157.4 206.7,157.9 206.9,160.7 207.3,164.3 207.6,162.5 207.9,156.6 208.1,155.2 208.2,153.7 208.3,153.8 208.3,155.7 208.6,158.8 208.9,164.1 209.2,166.1 209.6,166.2 209.9,167.3 210.2,166.6 210.6,166.9 210.9,163.3 211.2,144.0 211.3,134.9 211.5,129.3 211.6,130.7 211.7,134.6 211.9,152.7 212.2,164.4 212.6,165.7 212.9,166.5 213.2,166.4 213.5,166.3 213.9,165.7 214.2,164.3 214.5,163.7 214.8,161.3 214.9,161.4 215.0,161.3 215.2,161.9 215.2,161.1 215.5,162.9 215.8,165.3 216.2,165.4 216.5,166.3 216.8,165.8 217.2,166.0 217.5,166.0 217.8,165.9 218.2,166.6 218.5,166.3 218.8,166.1 219.2,165.5 219.5,165.6 219.8,165.5 220.1,165.6 220.5,164.6 220.8,162.2 221.1,161.5 221.2,162.3 221.3,161.2 221.4,161.5 221.5,161.9 221.8,163.5 222.1,164.3 222.4,166.0 222.8,165.5 223.1,166.5 223.4,165.5 223.8,165.3 224.1,164.5 224.4,163.1 224.8,161.5 224.8,162.5 224.9,161.6 225.1,162.3 225.1,162.5 225.4,163.9 225.8,164.3 226.1,165.5 226.4,166.3 226.7,166.7 227.1,166.2 227.4,166.6 227.7,165.5 228.1,162.9 228.4,159.8 228.7,156.7 228.8,156.1 229.0,156.3 229.1,155.7 229.2,156.3 229.4,158.2 229.7,161.0 230.0,163.9 230.4,165.4 230.7,166.2 231.0,165.6 231.4,165.3 231.7,162.3 232.0,160.8 232.1,161.1 232.2,160.9 232.3,161.1 232.7,162.5 233.0,164.8 233.3,166.3 233.7,165.9 234.0,167.0 234.3,166.5 234.7,166.5 235.0,165.0 235.3,162.8 235.7,160.0 235.8,159.4 235.9,159.4 236.0,159.6 236.3,162.3 236.6,165.1 237.0,165.1 237.3,165.9 237.6,165.8 238.0,166.0 238.3,166.1 238.5,165.9 238.6,164.6 238.9,162.9 239.3,161.5 239.6,159.8 239.9,160.2 240.0,159.4 240.3,158.1 240.6,156.3 240.9,153.4 241.3,152.2 241.5,149.7 241.6,150.2 241.9,147.2 242.2,142.9 242.5,143.4 242.6,140.6 242.9,135.7 242.9,133.9 243.1,131.7 243.2,134.3 243.2,134.3 243.6,142.4 243.9,143.5 244.0,146.4 244.2,145.5 244.6,146.1 244.9,142.4 245.2,141.0 245.2,140.5 245.3,140.5 245.4,144.3 245.6,143.2 245.9,149.6 246.2,150.3 246.5,149.2 246.5,149.1 246.9,147.4 247.2,143.3 247.3,144.9 247.5,141.1 247.5,141.8 247.7,144.0 247.9,145.3 248.2,148.6 248.5,147.6 248.5,148.5 248.8,147.5 249.2,144.9 249.4,141.6 249.5,139.2 249.6,136.6 249.8,140.8 249.8,142.8 250.2,144.3 250.5,148.0 250.7,150.2 250.8,150.4 251.2,150.5 251.5,144.4 251.7,145.3 251.8,142.0 251.8,142.4 251.9,145.8 252.2,153.2 252.5,165.1 252.5,165.5 252.8,166.5 253.1,165.8 253.5,166.2 253.8,166.3 254.1,166.8 254.5,166.1 254.8,166.0 255.1,165.9 255.4,166.5 255.8,165.2 256.1,163.8 256.4,161.7 256.8,159.7 256.8,159.6 256.9,160.0 257.1,160.1 257.1,160.3 257.4,162.1 257.8,164.9 258.0,165.5 258.1,166.5 258.4,165.7 258.8,166.0 259.1,166.0 259.4,165.9 259.7,164.3 260.1,165.3 260.4,163.8 260.7,164.8 261.1,164.1 261.4,163.1 261.7,163.4 262.0,163.8 262.1,163.6 262.4,163.4 262.6,162.9 262.7,163.0 262.7,163.2 262.9,162.0 263.0,162.9 263.4,162.9 263.7,162.8 264.0,162.6 264.4,162.5 264.7,162.4 265.0,162.1 265.4,162.6 265.7,161.6 266.0,162.6 266.3,161.1 266.7,160.5 267.0,160.6 267.3,160.6 267.7,161.1 268.0,161.3 268.0,160.4 268.3,160.0 268.6,159.1 269.0,159.1 269.3,156.6 269.6,155.3 270.0,152.5 270.3,149.1 270.6,145.0 271.0,140.5 271.0,137.8 271.3,130.4 271.6,120.9 271.9,115.4 272.3,103.6 272.4,110.1 272.5,105.1 272.6,103.4 272.6,100.9 272.9,106.2 273.3,119.5 273.6,127.4 273.9,134.2 274.0,136.9 274.3,141.1 274.6,146.7 274.9,150.8 275.2,154.8 275.6,157.0 275.9,157.3 276.2,159.2 276.6,159.5 276.9,160.5 277.0,161.1 277.2,161.8 277.6,161.8 277.9,162.6 278.2,161.9 278.6,161.6 278.9,162.3 279.2,162.8 279.5,163.4 279.9,163.9 280.2,163.7 280.5,164.7 280.9,164.7 281.0,164.7 281.2,164.7 281.5,160.5 281.9,150.1 282.1,144.1 282.2,143.9 282.2,143.8 282.4,144.6 282.5,149.0 282.8,159.7 283.0,163.2 283.2,164.5 283.5,165.4 283.8,165.1 284.2,165.9 284.5,166.1 284.8,165.1 285.1,150.7 285.4,134.5 285.5,130.1 285.5,129.3 285.6,134.7 285.8,147.4 286.1,164.6 286.5,164.8 286.8,165.3 287.1,165.4 287.5,166.0 287.8,165.2 288.1,165.9 288.4,165.8 288.8,165.4 289.1,165.8 289.4,165.6 289.8,165.0 290.1,165.3 290.4,165.0 290.8,166.0 291.1,165.7 291.4,165.9 291.8,166.3 292.1,166.7 292.4,165.8 292.7,166.4 293.1,165.9 293.4,166.4 293.7,166.3 294.1,166.5 294.4,166.2 294.7,165.8 295.1,166.8 295.4,165.6 295.7,166.2 296.0,166.5 296.4,165.8 296.7,166.3 297.0,166.5 297.4,166.4 297.7,166.1 298.0,166.4 298.4,166.9 298.7,166.6 299.0,166.0 299.3,166.6 299.7,166.7 300.0,166.3 300.3,166.5 300.7,165.6 301.0,165.5 301.3,166.2 301.6,165.3 302.0,165.2 302.3,165.2 302.6,166.4 303.0,166.3 303.3,165.5 303.6,165.9 304.0,165.3 304.3,165.8 304.6,165.1 304.9,165.7 305.3,166.1 305.6,165.9 305.9,166.1 306.3,165.5 306.6,166.0 306.9,166.6 307.0,166.0 307.3,166.2 307.6,165.5 307.9,165.6 308.2,164.9 308.6,163.9 308.9,163.6 309.2,163.8 309.6,163.1 309.9,163.1 310.0,162.7 310.2,162.9 310.6,161.9 310.9,162.1 311.2,161.9 311.6,162.8 311.9,161.3 312.2,160.5 312.5,159.8 312.5,159.6 312.9,159.2 313.2,158.9 313.5,158.3 313.9,157.5 314.2,155.8 314.4,153.6 314.5,154.1 314.5,154.0 314.6,154.1 314.9,156.2 315.2,160.3 315.5,161.3 315.8,161.8 316.0,162.1 316.2,162.4 316.5,162.0 316.8,162.1 317.2,161.8 317.5,159.7 317.8,159.3 318.1,159.4 318.4,152.8 318.5,152.7 318.6,151.9 318.8,152.9 318.8,154.8 319.1,161.1 319.5,161.8 319.8,164.2 320.0,164.2 320.1,163.9 320.5,163.3 320.8,162.3 321.1,161.8 321.4,160.7 321.8,159.6 322.1,150.0 322.1,149.2 322.3,147.1 322.4,149.7 322.4,149.5 322.8,159.2 323.1,163.3 323.4,162.0 323.8,162.5 324.0,162.6 324.1,162.6 324.4,160.2 324.8,157.1 325.0,155.4 325.1,154.6 325.4,149.2 325.7,146.6 325.8,145.5 325.9,144.2 326.1,145.7 326.1,146.1 326.4,150.1 326.7,155.8 327.1,158.6 327.4,160.4 327.7,162.6 328.1,163.7 328.4,163.5 328.7,163.8 329.0,163.7 329.4,164.6 329.7,164.1 330.0,164.3 330.4,164.8 330.7,165.5 331.0,166.2 331.4,166.4 331.7,166.4 332.0,165.9 332.3,167.0 332.7,166.9 333.0,167.0 333.3,167.1 333.7,167.0 334.0,166.8 334.3,166.9 334.6,165.8 335.0,166.9 335.3,165.7 335.6,166.0 336.0,166.3 336.3,166.4 336.6,166.2 337.0,166.5 337.3,166.4 337.6,167.0 337.9,166.2 338.3,166.4 338.6,166.7 338.9,166.5 339.3,165.7 339.6,166.3 339.9,166.7 340.3,166.3 340.6,166.6 340.9,165.9 341.2,166.7 341.6,166.1 341.9,164.7 342.2,144.4 342.4,121.0 342.6,113.2 342.6,113.6 342.8,121.2 342.9,138.1 343.2,163.1 343.6,165.2 343.9,165.2 344.2,165.7 344.6,165.1 344.9,164.1 345.2,163.2 345.5,161.1 345.9,159.8 346.1,157.2 346.2,157.6 346.3,157.0 346.4,157.8 346.5,157.8 346.9,160.2 347.2,162.8 347.5,164.1 347.9,164.7 348.2,166.1 348.5,165.2 348.8,165.9 349.2,165.4 349.5,164.1 349.8,162.9 349.9,162.9 350.0,162.2 350.1,162.8 350.2,162.3 350.5,163.6 350.8,164.4 351.1,165.7 351.5,166.4 351.8,165.5 352.1,164.7 352.5,163.2 352.8,161.5 352.9,162.3 353.0,161.3 353.1,161.6 353.1,162.0 353.5,162.9 353.8,164.7 354.1,165.3 354.4,165.9 354.8,166.2 355.1,166.2 355.4,165.4 355.8,163.4 356.1,162.4 356.4,161.8 356.4,161.3 356.5,161.8 356.6,161.8 356.8,162.2 357.1,162.9 357.4,164.8 357.8,165.8 358.1,166.1 358.4,166.3 358.7,166.3 359.1,167.0 359.4,166.2 359.7,165.6 360.1,162.9 360.4,159.6 360.4,159.0 360.6,158.8 360.7,158.5 360.8,159.1 361.1,162.7 361.4,165.7 361.7,165.9 362.0,166.2 362.4,166.9 362.7,166.8 363.0,166.1 363.4,165.6 363.7,161.9 363.9,158.8 364.0,159.5 364.1,158.3 364.2,159.8 364.4,159.7 364.7,163.7 365.0,165.3 365.3,166.3 365.7,166.0 366.0,165.5 366.3,165.3 366.7,165.7 367.0,165.9 367.3,164.8 367.6,163.7 367.9,164.0 368.0,163.3 368.0,163.3 368.1,163.8 368.3,163.4 368.6,164.7 369.0,165.1 369.3,165.4 369.6,165.5 370.0,166.1 370.3,164.8 370.6,165.8 370.9,165.3 371.3,166.3 371.6,166.1 371.9,166.4 372.3,166.2 372.6,166.5 372.9,166.6 373.3,165.6 373.6,165.7 373.9,166.5 374.2,165.7 374.6,165.9 374.9,165.7 375.2,166.3 375.6,166.7 375.9,165.5 376.2,166.3 376.6,165.3 376.9,165.6 377.2,165.7 377.6,165.5 377.9,165.2 378.2,165.5 378.5,166.0 378.9,165.2 379.2,165.1 379.5,166.0 379.9,165.1 380.2,164.9 380.5,166.1 380.9,166.0 381.2,165.5 381.5,166.0 381.8,166.5 382.2,165.8 382.5,166.0 382.8,165.6 383.2,165.7 383.5,166.0 383.8,165.9 384.1,166.3 384.5,165.7 384.8,165.4 385.1,165.3 385.5,164.7 385.8,165.0 386.1,164.9 386.5,164.1 386.8,164.6 387.1,165.3 387.4,164.9 387.8,164.4 388.1,165.0 388.4,164.4 388.8,164.4 389.1,165.3 389.4,164.9 389.8,164.7 390.1,164.6 390.4,163.5 390.8,163.4 391.1,162.3 391.4,162.3 391.7,161.5 392.1,160.1 392.4,159.9 392.7,158.5 393.1,157.3 393.4,154.9 393.7,152.5 394.1,148.4 394.4,142.8 394.7,136.2 395.0,128.0 395.4,119.5 395.7,112.1 395.9,105.4 396.0,109.8 396.0,111.8 396.1,109.1 396.4,114.1 396.7,124.1 397.0,133.2 397.4,139.7 397.7,143.9 398.0,148.4 398.3,152.5 398.7,154.0 399.0,157.3 399.3,158.3 399.7,159.7 400.0,160.4 400.3,161.0 400.6,162.0 401.0,162.9 401.3,163.1 401.6,163.0 402.0,163.4 402.3,163.7 402.6,164.1 403.0,164.3 403.3,163.8 403.6,163.9 403.9,165.5 404.3,165.2 404.6,165.1 404.9,165.0 405.3,165.9 405.6,166.2 405.9,165.9 406.3,165.5 406.6,163.8 406.9,116.1 407.1,76.9 407.2,53.0 407.2,55.0 407.4,75.5 407.6,140.0 407.9,165.7 408.2,166.2 408.6,166.1 408.9,165.6 409.2,165.5 409.6,166.1 409.9,165.9 410.2,165.6 410.6,165.3 410.9,165.7 411.2,165.2 411.5,165.2 411.9,166.0 412.2,166.3 412.5,165.6 412.9,166.0 413.2,166.3 413.5,166.4 413.9,165.2 414.2,166.4 414.5,165.9 414.8,165.5 415.2,165.5 415.5,165.9 415.8,166.0 416.2,165.5 416.5,166.4 416.8,165.6 417.1,166.8 417.5,167.0 417.8,166.4 418.1,165.7 418.5,165.8 418.8,166.1 419.1,164.9 419.5,164.6 419.8,163.4 419.9,163.0 420.0,163.0 420.1,164.4 420.1,163.9 420.4,164.1 420.8,164.0 421.1,165.0 421.4,165.8 421.8,165.9 422.1,165.2 422.4,165.4 422.8,166.4 423.1,165.6 423.4,166.5 423.8,167.0 424.1,166.6 424.4,166.7 424.7,167.3 425.1,166.4 425.4,166.9 425.7,166.8 426.1,166.9 426.4,165.8 426.7,167.0 427.1,166.3 427.4,165.7 427.7,166.7 428.0,165.7 428.4,165.9 428.7,165.8 429.0,165.2 429.4,165.6 429.7,166.1 430.0,166.2 430.4,166.5 430.7,165.1 431.0,164.8 431.3,164.6 431.7,163.4 431.9,163.9 432.0,163.6 432.1,163.5 432.3,163.2 432.7,164.9 433.0,166.0 433.3,166.1 433.6,165.4 434.0,166.1 434.3,166.0 434.6,165.7 435.0,165.7 435.3,166.5 435.6,165.9 436.0,166.8 436.3,165.8 436.6,165.9 436.9,165.6 437.3,166.1 437.6,166.9 437.9,166.4 438.3,166.2 438.6,165.8 438.9,166.4 439.3,166.2 439.6,166.3 439.9,166.7 440.2,166.6 440.6,167.2 440.9,166.9 441.2,166.8 441.6,166.2 441.9,166.4 442.2,166.1 442.6,166.4 442.9,167.2 443.2,166.5 443.6,166.2 443.9,166.4 444.2,166.6 444.5,166.4 444.9,165.7 445.2,165.0 445.5,164.9 445.9,164.3 446.2,164.7 446.5,164.0 446.9,163.0 447.0,163.3 447.1,162.5 447.2,163.3 447.5,163.3 447.8,164.2 448.2,165.7 448.5,165.6 448.8,166.4 449.2,166.4 449.5,167.1 449.8,166.5 450.1,166.3 450.5,167.1 450.8,166.0 451.1,166.9 451.5,166.9 451.8,166.8 452.1,166.2 452.5,165.7 452.8,165.8 453.1,166.4 453.4,166.4 453.8,166.9 454.1,166.1 454.4,166.4 454.8,166.4 455.1,165.6 455.4,166.8 455.8,165.4 456.1,166.1 456.4,165.4 456.8,165.8 457.1,165.7 457.4,165.9 457.7,166.4 458.1,166.8 458.4,166.8 458.7,166.9 459.1,165.8 459.4,167.0 459.7,166.0 460.1,166.1 460.4,166.3 460.7,165.5 461.0,165.3 461.4,165.6 461.7,165.4 462.0,165.9 462.4,165.9 462.7,165.5 463.0,164.2 463.4,157.3 463.4,154.4 463.6,152.3 463.7,151.8 463.8,154.3 464.0,161.6 464.3,164.3 464.7,160.2 465.0,147.2 465.2,137.8 465.3,136.6 465.4,136.1 465.6,138.7 465.7,142.3 466.0,156.6 466.3,156.3 466.6,148.0 467.0,133.7 467.2,120.5 467.3,118.7 467.4,117.9 467.6,119.8 467.6,124.9 468.0,140.1 468.3,152.0 468.6,156.5 469.0,160.2 469.3,162.2 469.6,163.7 469.9,163.5 470.3,164.5 470.6,165.8 470.9,166.1 471.3,164.9 471.6,165.0 471.9,165.4 472.3,165.4 472.6,165.6 472.9,165.9 473.2,165.4 473.6,165.0 473.9,165.2 474.2,165.4 474.6,165.3 474.9,166.8 475.2,166.6 475.6,166.1 475.9,166.1 476.2,166.6 476.6,165.7 476.9,166.2 477.2,166.6 477.5,165.5 477.9,165.8 478.2,165.6 478.5,166.0 478.9,166.4 479.2,166.1 479.5,165.7 479.9,166.0 480.2,165.5 480.5,165.9 480.8,165.8 481.2,166.1 481.5,165.2 481.8,166.0 482.2,164.2 482.5,135.5 482.6,101.2 482.8,83.7 482.8,84.1 482.9,100.3 483.1,142.5 483.5,165.6 483.8,165.9 484.1,165.0 484.5,165.7 484.8,166.1 485.1,152.0 485.4,117.1 485.5,104.8 485.5,104.3 485.6,117.2 485.8,140.7 486.1,165.1 486.4,164.1 486.8,165.4 487.1,165.2 487.4,163.6 487.8,163.3 488.1,163.9 488.4,161.9 488.8,160.7 489.1,159.1 489.4,157.0 489.8,152.1 490.1,146.2 490.4,134.6 490.7,112.5 491.1,75.1 491.2,55.0 491.4,48.2 491.6,54.8 491.7,75.1 492.1,112.8 492.4,134.6 492.7,145.2 493.1,152.6 493.4,156.4 493.7,158.3 494.0,160.0 494.4,161.1 494.7,163.2 495.0,163.6 495.4,164.1 495.7,164.7 496.0,164.9 496.4,164.2 496.7,164.0 497.0,165.1 497.3,164.5 497.7,164.8 498.0,164.6 498.3,165.7 498.7,166.2 499.0,165.0 499.3,166.1 499.6,165.4 500.0,165.6 500.3,166.3 500.6,165.7 501.0,165.6 501.3,165.9 501.6,166.4 502.0,166.2 502.3,166.2 502.6,164.8 502.9,164.6 503.3,165.5 503.6,164.4 503.9,162.8 504.3,161.8 504.6,158.0 504.9,154.7 504.9,153.7 505.0,152.8 505.1,154.8 505.3,156.6 505.6,160.3 505.9,162.9 506.2,164.4 506.6,164.7 506.9,166.4 507.2,165.8 507.6,165.8 507.9,166.1 508.2,166.1 508.6,166.4 508.9,166.9 509.2,167.7 509.6,166.9 509.9,167.0 510.2,167.5 510.5,166.5 510.9,165.9 511.2,165.4 511.5,163.9 511.9,162.9 511.9,163.6 512.0,162.8 512.1,162.5 512.2,162.5 512.5,163.3 512.9,165.1 513.2,165.1 513.5,165.4 513.8,165.8 514.2,167.0 514.5,166.5 514.8,167.2 515.2,166.3 515.5,165.9 515.8,166.0 516.1,166.6 516.5,166.1 516.8,167.0 517.1,167.2 517.5,166.6 517.8,166.0 518.1,166.6 518.5,166.6 518.8,165.9 519.1,165.4 519.5,165.8 519.8,165.2 520.1,164.9 520.4,166.4 520.8,165.7 521.1,165.5 521.4,166.5 521.8,166.5 522.1,165.6 522.4,165.8 522.8,166.1 523.1,164.7 523.4,157.2 523.7,144.0 523.9,139.1 524.0,137.9 524.1,137.7 524.1,139.1 524.4,149.3 524.7,160.3 525.1,158.8 525.4,153.7 525.7,144.9 526.0,129.4 526.2,119.4 526.4,116.2 526.4,115.5 526.5,119.8 526.7,127.5 527.0,143.1 527.4,152.2 527.7,158.2 528.0,159.9 528.4,156.7 528.7,146.5 528.8,145.8 528.9,144.2 529.0,144.7 529.0,145.7 529.4,154.4 529.7,163.1 530.0,164.5 530.3,165.5 530.7,165.2 531.0,165.2 531.3,166.1 531.7,166.7 532.0,166.1 532.3,166.0 532.6,166.3 533.0,166.1 533.3,166.5 533.6,166.4 534.0,165.4 534.3,163.6 534.6,163.2 534.9,163.0 535.0,162.8 535.0,162.9 535.1,163.9 535.3,163.7 535.6,165.2 536.0,166.0 536.3,165.5 536.6,166.1 536.9,166.9 537.3,165.7 537.6,166.3 537.9,165.9 538.3,166.9 538.6,166.6 538.9,167.3 539.2,167.3 539.6,167.2 539.9,166.2 540.2,166.8" stroke="#e81010" stroke-opacity="0.62"/>
<path d="M36.0,164.0 36.3,164.0 36.7,164.4 37.0,163.6 37.3,163.4 37.6,163.2 38.0,163.1 38.0,163.8 38.3,163.9 38.6,164.1 39.0,163.5 39.3,163.7 39.6,163.5 40.0,164.4 40.3,163.9 40.6,163.5 41.0,164.2 41.3,164.2 41.6,163.9 41.9,164.1 42.3,163.8 42.6,164.0 42.9,164.4 43.0,164.3 43.3,164.7 43.6,164.8 43.9,164.6 44.2,164.6 44.6,164.5 44.9,165.0 45.2,164.5 45.6,164.8 45.9,164.8 46.2,164.9 46.6,164.9 46.9,164.6 47.0,166.3 47.2,166.4 47.5,166.2 47.9,165.7 48.2,165.4 48.5,165.4 48.9,165.7 49.2,165.4 49.5,166.2 49.9,166.1 50.2,166.8 50.5,166.1 50.9,166.6 51.2,166.3 51.5,165.6 51.8,165.8 52.2,166.7 52.5,165.9 52.8,166.5 53.2,165.9 53.5,165.8 53.8,166.1 54.1,166.2 54.5,165.4 54.8,165.4 55.1,165.6 55.5,166.3 55.8,165.9 56.1,165.2 56.5,165.3 56.8,165.1 57.1,165.1 57.5,166.0 57.8,165.3 58.1,165.6 58.4,165.4 58.8,162.1 59.0,156.3 59.1,154.6 59.2,154.7 59.4,155.6 59.4,158.0 59.8,164.3 60.1,165.9 60.4,166.7 60.8,166.5 61.1,165.8 61.4,166.7 61.7,166.1 62.1,166.4 62.4,166.5 62.7,166.1 63.1,165.7 63.4,166.6 63.7,165.6 64.0,165.0 64.4,165.1 64.7,164.0 65.0,163.3 65.3,162.4 65.4,162.5 65.5,163.0 65.7,162.9 65.7,163.2 66.0,163.5 66.4,164.3 66.7,165.5 67.0,165.1 67.3,165.6 67.7,165.8 68.0,165.3 68.3,165.4 68.7,166.5 69.0,166.7 69.3,166.2 69.7,166.0 70.0,166.8 70.3,167.0 70.7,166.0 71.0,166.8 71.3,166.5 71.6,166.1 72.0,165.9 72.3,165.2 72.6,160.2 73.0,134.7 73.0,125.2 73.2,118.9 73.3,121.1 73.3,125.8 73.6,151.8 74.0,164.6 74.3,165.4 74.6,165.9 74.9,164.9 75.3,160.1 75.5,150.1 75.6,149.0 75.7,147.4 75.8,149.8 75.9,153.5 76.3,163.2 76.6,165.1 76.9,165.7 77.2,165.7 77.6,165.4 77.9,165.6 78.2,165.8 78.6,166.2 78.9,165.7 79.2,165.7 79.6,166.5 79.9,166.6 80.2,166.0 80.5,166.1 80.9,166.0 81.2,165.6 81.5,165.4 81.9,165.1 82.2,165.8 82.5,165.1 82.9,164.9 83.2,163.0 83.5,163.2 83.5,163.1 83.7,163.4 83.8,163.1 84.2,164.3 84.5,164.2 84.8,165.5 85.2,165.9 85.5,165.5 85.8,164.7 86.2,163.8 86.5,163.7 86.5,163.4 86.6,162.7 86.8,163.1 86.8,163.5 87.2,164.0 87.5,164.5 87.8,165.6 88.1,166.1 88.5,166.1 88.8,166.5 89.1,166.2 89.5,166.2 89.8,166.2 90.1,165.5 90.5,166.4 90.8,166.8 91.1,166.7 91.4,166.4 91.8,166.3 92.1,166.6 92.4,166.5 92.8,166.2 93.1,166.5 93.4,165.5 93.8,166.2 94.1,165.3 94.4,166.0 94.7,165.6 95.1,165.2 95.4,165.9 95.7,165.8 96.1,166.0 96.4,166.3 96.7,165.3 97.0,165.2 97.4,165.2 97.7,159.2 98.0,149.0 98.0,146.5 98.1,146.9 98.2,149.6 98.4,154.5 98.7,164.8 99.0,165.9 99.4,166.2 99.7,165.6 100.0,165.8 100.3,166.2 100.7,165.9 101.0,164.1 101.3,158.8 101.5,156.3 101.7,155.4 101.7,155.3 101.8,156.3 102.0,158.6 102.3,163.3 102.7,165.6 103.0,166.2 103.3,165.5 103.7,165.2 104.0,165.6 104.3,164.9 104.6,160.5 104.8,155.3 105.0,154.0 105.0,154.0 105.2,155.6 105.3,160.0 105.6,165.8 106.0,166.2 106.3,165.8 106.6,165.8 107.0,166.5 107.3,165.5 107.6,166.3 107.9,166.2 108.3,165.6 108.6,166.1 108.9,165.3 109.3,165.4 109.6,166.0 109.9,165.4 110.2,166.3 110.6,165.7 110.9,166.0 111.2,165.9 111.6,166.4 111.9,165.6 112.2,164.9 112.6,163.8 112.8,163.1 112.9,163.0 113.0,162.6 113.2,162.0 113.2,162.5 113.5,163.3 113.9,164.1 114.2,165.5 114.5,166.0 114.9,165.5 115.2,165.9 115.5,166.1 115.9,166.3 116.2,166.2 116.5,166.2 116.8,166.4 117.2,165.8 117.5,166.2 117.8,166.1 118.2,165.4 118.5,166.3 118.8,166.3 119.2,165.9 119.5,166.3 119.8,166.4 120.2,167.1 120.5,166.5 120.8,166.6 121.1,166.3 121.5,160.6 121.7,155.6 121.8,153.2 122.0,154.9 122.1,159.3 122.5,165.4 122.8,165.9 123.1,165.5 123.5,165.5 123.8,165.1 124.1,165.9 124.4,165.8 124.8,165.7 125.1,165.1 125.4,165.3 125.8,164.3 126.1,164.3 126.4,163.7 126.8,162.7 127.1,161.9 127.4,161.4 127.7,161.2 127.8,161.4 128.0,160.9 128.1,160.6 128.2,161.4 128.4,160.5 128.7,161.9 129.1,161.7 129.4,163.0 129.7,163.9 130.1,163.8 130.4,164.4 130.7,165.5 131.0,166.0 131.4,166.4 131.7,166.2 132.0,166.5 132.4,164.9 132.7,160.6 132.8,158.4 132.9,157.3 133.0,158.5 133.1,158.5 133.3,164.3 133.7,166.1 134.0,165.8 134.3,166.1 134.7,165.8 135.0,165.4 135.3,165.7 135.7,165.9 136.0,166.2 136.3,165.2 136.7,165.8 137.0,165.7 137.3,165.4 137.6,165.3 138.0,165.1 138.3,165.4 138.6,165.3 139.0,165.3 139.3,164.3 139.6,164.6 139.9,163.4 140.3,162.2 140.6,161.1 140.9,158.3 141.3,154.7 141.6,150.3 141.8,148.1 141.9,147.9 141.9,147.8 142.1,149.0 142.3,151.7 142.6,155.5 142.9,159.1 143.2,160.8 143.6,162.6 143.9,163.9 144.2,163.9 144.6,161.5 144.8,160.3 144.9,160.4 145.0,161.0 145.2,161.7 145.2,160.8 145.6,163.1 145.9,164.0 146.2,165.3 146.6,165.4 146.9,165.9 147.2,165.6 147.5,165.7 147.9,166.0 148.2,165.4 148.5,164.5 148.9,161.4 149.2,160.3 149.2,159.9 149.3,159.7 149.4,160.1 149.5,160.2 149.8,162.6 150.2,164.8 150.5,165.8 150.8,165.5 151.2,165.8 151.5,166.3 151.8,166.0 152.2,165.9 152.5,166.2 152.8,165.4 153.2,164.6 153.5,162.6 153.8,162.5 153.8,162.5 154.0,162.5 154.1,161.7 154.2,161.6 154.5,163.0 154.8,163.3 155.1,165.3 155.5,166.0 155.8,165.3 156.1,165.7 156.4,166.1 156.8,165.5 157.1,165.2 157.4,166.0 157.8,165.7 158.1,166.1 158.4,165.1 158.8,165.6 159.1,165.7 159.4,163.5 159.8,158.5 160.1,150.6 160.2,147.4 160.4,146.4 160.4,145.3 160.6,146.9 160.7,151.1 161.1,159.4 161.4,164.4 161.7,165.4 162.1,165.5 162.4,165.7 162.7,165.6 163.1,166.0 163.4,165.8 163.7,166.0 164.0,165.4 164.4,165.4 164.7,165.0 165.0,165.3 165.4,164.6 165.7,163.6 165.8,162.3 166.0,162.3 166.0,163.3 166.2,162.8 166.3,163.2 166.7,163.6 167.0,164.9 167.3,165.6 167.7,165.8 168.0,166.3 168.3,165.1 168.7,165.6 169.0,165.0 169.3,162.9 169.7,162.3 169.8,162.1 170.0,161.4 170.0,161.5 170.2,161.7 170.3,162.6 170.6,163.2 171.0,165.3 171.3,166.0 171.6,166.5 172.0,166.9 172.3,166.4 172.6,165.8 172.9,166.2 173.3,166.1 173.6,166.8 173.9,166.7 174.3,165.9 174.6,166.7 174.9,166.5 175.3,166.4 175.5,166.5 175.6,165.7 175.9,165.5 176.2,165.0 176.6,164.4 176.9,164.0 177.2,163.8 177.6,162.4 177.9,162.6 178.0,162.1 178.2,161.3 178.6,160.5 178.9,158.6 179.2,157.9 179.6,156.7 179.9,155.8 180.2,154.5 180.5,150.6 180.7,151.5 180.9,150.0 181.2,145.4 181.5,143.7 181.9,143.2 182.2,141.4 182.5,138.0 182.8,133.3 182.9,136.5 183.2,134.4 183.5,128.7 183.8,123.4 184.2,119.0 184.2,121.7 184.5,142.0 184.8,166.3 184.8,165.7 185.2,165.9 185.5,166.0 185.8,165.5 186.2,165.6 186.5,166.1 186.8,165.6 187.1,165.5 187.5,161.3 187.8,127.8 187.9,106.5 188.1,96.2 188.1,97.0 188.2,105.6 188.5,137.2 188.8,163.4 189.1,165.2 189.4,166.0 189.8,165.0 190.1,165.3 190.4,162.3 190.8,140.6 190.9,120.9 191.1,112.8 191.2,121.4 191.4,141.1 191.8,163.4 192.1,166.1 192.4,165.8 192.8,162.9 193.1,149.6 193.2,146.5 193.3,142.6 193.4,145.1 193.4,146.3 193.7,159.8 194.1,165.6 194.4,165.9 194.7,166.0 195.1,166.7 195.4,166.0 195.7,166.5 196.1,166.1 196.4,165.5 196.7,166.4 197.0,166.4 197.4,165.4 197.7,166.3 198.0,165.7 198.4,165.8 198.7,165.5 199.0,154.8 199.2,140.9 199.3,137.7 199.4,137.1 199.6,140.7 199.7,149.4 200.0,163.9 200.3,165.9 200.7,165.3 201.0,165.9 201.3,165.6 201.7,165.5 202.0,165.3 202.3,165.9 202.7,165.4 203.0,164.7 203.3,163.4 203.6,161.6 203.7,161.5 203.8,161.6 203.9,161.7 204.0,162.1 204.3,163.3 204.6,165.6 205.0,166.5 205.3,166.3 205.6,165.1 205.9,162.0 206.3,158.1 206.3,157.3 206.5,156.2 206.6,156.4 206.7,156.7 206.9,160.9 207.3,164.4 207.6,161.5 207.9,155.5 208.1,154.0 208.2,152.5 208.3,152.9 208.3,154.6 208.6,158.9 208.9,164.7 209.2,165.9 209.6,166.3 209.9,166.3 210.2,166.4 210.6,166.4 210.9,162.2 211.2,141.5 211.3,130.4 211.5,124.4 211.6,126.2 211.7,130.9 211.9,151.7 212.2,164.9 212.6,166.2 212.9,166.2 213.2,166.1 213.5,166.6 213.9,166.2 214.2,164.4 214.5,162.7 214.8,161.6 214.9,161.2 215.0,161.4 215.2,161.1 215.2,161.8 215.5,163.2 215.8,165.2 216.2,165.8 216.5,166.3 216.8,166.8 217.2,166.0 217.5,166.2 217.8,166.5 218.2,166.9 218.5,166.4 218.8,166.6 219.2,166.1 219.5,166.8 219.8,165.6 220.1,164.7 220.5,163.8 220.8,162.0 221.1,160.7 221.2,160.3 221.3,160.8 221.4,160.3 221.5,160.7 221.8,162.6 222.1,163.4 222.4,164.9 222.8,166.0 223.1,166.1 223.4,165.5 223.8,164.6 224.1,163.9 224.4,162.8 224.8,161.2 224.8,161.0 224.9,161.5 225.1,161.5 225.1,162.2 225.4,163.4 225.8,164.8 226.1,165.5 226.4,166.3 226.7,165.7 227.1,165.6 227.4,165.4 227.7,165.1 228.1,163.1 228.4,158.6 228.7,155.1 228.8,154.5 229.0,153.9 229.1,153.9 229.2,154.0 229.4,155.3 229.7,159.6 230.0,163.2 230.4,164.8 230.7,165.9 231.0,165.4 231.4,163.9 231.7,162.3 232.0,160.2 232.1,159.6 232.2,158.7 232.3,159.4 232.7,161.8 233.0,164.3 233.3,166.2 233.7,166.3 234.0,166.5 234.3,166.0 234.7,166.0 235.0,164.7 235.3,161.3 235.7,158.9 235.8,159.1 235.9,159.6 236.0,158.4 236.3,161.6 236.6,163.7 237.0,165.4 237.3,165.8 237.6,165.5 238.0,165.3 238.3,166.2 238.5,166.1 238.6,165.2 238.9,163.4 239.3,161.9 239.6,160.5 239.9,157.9 240.0,157.9 240.3,157.9 240.6,153.9 240.9,152.4 241.3,150.4 241.5,147.9 241.6,147.5 241.9,144.0 242.2,142.2 242.5,140.4 242.6,139.3 242.9,132.5 242.9,131.1 243.1,128.2 243.2,130.5 243.2,130.9 243.6,139.6 243.9,143.2 244.0,143.6 244.2,141.6 244.6,141.1 244.9,138.1 245.2,138.4 245.2,137.6 245.3,136.4 245.4,138.7 245.6,143.7 245.9,143.7 246.2,148.2 246.5,146.9 246.5,147.2 246.9,148.5 247.2,142.9 247.3,141.6 247.5,137.7 247.5,138.3 247.7,142.2 247.9,143.8 248.2,145.2 248.5,146.3 248.5,147.5 248.8,142.5 249.2,143.3 249.4,138.8 249.5,135.8 249.6,133.5 249.8,136.2 249.8,138.1 250.2,138.9 250.5,143.5 250.7,144.7 250.8,146.5 251.2,144.4 251.5,143.4 251.7,140.1 251.8,139.3 251.8,139.7 251.9,143.0 252.2,152.6 252.5,165.4 252.5,165.5 252.8,165.9 253.1,165.6 253.5,166.6 253.8,166.4 254.1,165.9 254.5,166.1 254.8,166.0 255.1,165.6 255.4,166.4 255.8,165.2 256.1,162.7 256.4,160.2 256.8,158.9 256.8,158.8 256.9,158.9 257.1,159.1 257.1,159.1 257.4,160.5 257.8,162.8 258.0,164.2 258.1,164.3 258.4,165.2 258.8,164.4 259.1,164.3 259.4,164.6 259.7,163.7 260.1,164.1 260.4,163.7 260.7,164.0 261.1,163.2 261.4,163.8 261.7,163.9 262.0,163.4 262.1,162.4 262.4,162.3 262.6,162.7 262.7,161.6 262.7,162.4 262.9,162.4 263.0,162.5 263.4,162.1 263.7,162.3 264.0,161.9 264.4,162.7 264.7,162.1 265.0,162.5 265.4,160.8 265.7,161.8 266.0,160.7 266.3,161.2 266.7,160.7 267.0,160.1 267.3,161.3 267.7,160.9 268.0,159.7 268.0,159.7 268.3,159.0 268.6,158.4 269.0,156.6 269.3,154.8 269.6,153.1 270.0,151.0 270.3,147.3 270.6,143.5 271.0,137.2 271.0,137.4 271.3,128.9 271.6,120.0 271.9,109.2 272.3,102.6 272.4,102.1 272.5,97.3 272.6,99.3 272.6,97.6 272.9,102.2 273.3,116.7 273.6,125.6 273.9,134.0 274.0,132.3 274.3,139.3 274.6,145.6 274.9,147.9 275.2,151.6 275.6,153.7 275.9,156.9 276.2,157.4 276.6,158.2 276.9,159.6 277.0,158.9 277.2,160.6 277.6,161.1 277.9,162.3 278.2,161.3 278.6,161.9 278.9,161.5 279.2,162.1 279.5,162.6 279.9,163.2 280.2,163.6 280.5,163.3 280.9,163.5 281.0,164.3 281.2,164.2 281.5,159.6 281.9,148.8 282.1,142.4 282.2,140.6 282.2,141.0 282.4,142.1 282.5,148.0 282.8,158.9 283.0,162.4 283.2,164.7 283.5,165.2 283.8,165.6 284.2,165.4 284.5,165.1 284.8,164.3 285.1,148.0 285.4,131.0 285.5,125.6 285.5,125.8 285.6,131.3 285.8,145.1 286.1,163.7 286.5,164.8 286.8,165.1 287.1,165.1 287.5,165.1 287.8,164.7 288.1,165.1 288.4,165.5 288.8,165.6 289.1,165.7 289.4,165.3 289.8,165.2 290.1,165.8 290.4,166.1 290.8,165.5 291.1,165.3 291.4,165.4 291.8,165.1 292.1,165.5 292.4,165.7 292.7,165.1 293.1,165.6 293.4,165.8 293.7,165.3 294.1,166.0 294.4,165.8 294.7,165.3 295.1,165.1 295.4,165.1 295.7,165.5 296.0,165.5 296.4,165.0 296.7,165.6 297.0,165.1 297.4,165.1 297.7,164.7 298.0,165.9 298.4,165.0 298.7,166.1 299.0,165.7 299.3,165.9 299.7,166.1 300.0,165.9 300.3,166.6 300.7,166.8 301.0,166.6 301.3,166.4 301.6,165.6 302.0,166.3 302.3,165.6 302.6,166.3 303.0,165.5 303.3,166.0 303.6,166.5 304.0,165.7 304.3,165.9 304.6,165.3 304.9,165.0 305.3,165.3 305.6,166.2 305.9,165.9 306.3,165.6 306.6,165.5 306.9,166.1 307.0,166.5 307.3,165.7 307.6,165.6 307.9,165.5 308.2,164.5 308.6,163.9 308.9,163.8 309.2,162.8 309.6,163.0 309.9,162.8 310.0,162.0 310.2,162.0 310.6,161.5 310.9,161.0 311.2,160.4 311.6,160.7 311.9,159.4 312.2,160.1 312.5,158.2 312.5,158.9 312.9,159.6 313.2,159.5 313.5,157.7 313.9,156.7 314.2,154.4 314.4,152.3 314.5,151.8 314.5,151.5 314.6,152.9 314.9,155.4 315.2,159.8 315.5,160.8 315.8,162.2 316.0,162.7 316.2,162.4 316.5,161.7 316.8,161.2 317.2,161.1 317.5,160.5 317.8,159.0 318.1,157.9 318.4,151.6 318.5,151.1 318.6,150.0 318.8,151.3 318.8,152.6 319.1,159.7 319.5,161.9 319.8,162.6 320.0,163.5 320.1,163.9 320.5,163.2 320.8,162.2 321.1,161.6 321.4,162.0 321.8,159.5 322.1,148.1 322.1,147.0 322.3,145.3 322.4,146.7 322.4,146.7 322.8,157.8 323.1,161.0 323.4,159.8 323.8,160.1 324.0,160.7 324.1,161.0 324.4,158.9 324.8,156.7 325.0,154.2 325.1,153.3 325.4,146.7 325.7,143.6 325.8,143.3 325.9,141.3 326.1,141.5 326.1,140.6 326.4,147.3 326.7,153.1 327.1,156.6 327.4,159.4 327.7,162.1 328.1,163.0 328.4,163.0 328.7,163.8 329.0,164.4 329.4,164.0 329.7,164.1 330.0,165.0 330.4,164.4 330.7,165.0 331.0,165.6 331.4,165.8 331.7,165.6 332.0,165.5 332.3,165.7 332.7,166.7 333.0,166.5 333.3,165.5 333.7,166.0 334.0,165.4 334.3,165.5 334.6,165.0 335.0,165.6 335.3,166.0 335.6,165.2 336.0,165.6 336.3,165.0 336.6,165.9 337.0,165.3 337.3,165.4 337.6,165.9 337.9,165.5 338.3,166.4 338.6,166.5 338.9,166.2 339.3,165.2 339.6,166.1 339.9,166.2 340.3,165.7 340.6,165.0 340.9,165.0 341.2,165.1 341.6,165.9 341.9,163.2 342.2,141.6 342.4,115.4 342.6,108.1 342.6,107.8 342.8,115.9 342.9,134.6 343.2,162.6 343.6,165.0 343.9,164.1 344.2,163.9 344.6,164.4 344.9,163.1 345.2,161.5 345.5,160.5 345.9,157.7 346.1,157.2 346.2,156.0 346.3,155.9 346.4,156.3 346.5,156.2 346.9,159.0 347.2,160.7 347.5,162.0 347.9,163.6 348.2,163.3 348.5,164.0 348.8,164.9 349.2,163.5 349.5,162.2 349.8,161.3 349.9,160.9 350.0,161.8 350.1,161.8 350.2,160.8 350.5,162.4 350.8,164.1 351.1,164.6 351.5,165.9 351.8,165.0 352.1,163.6 352.5,162.5 352.8,161.5 352.9,161.0 353.0,161.3 353.1,161.5 353.1,161.2 353.5,162.4 353.8,164.6 354.1,165.2 354.4,165.7 354.8,166.4 355.1,165.2 355.4,165.3 355.8,163.1 356.1,161.8 356.4,160.5 356.4,160.7 356.5,161.3 356.6,161.5 356.8,161.5 357.1,162.6 357.4,164.5 357.8,165.5 358.1,166.4 358.4,166.3 358.7,165.8 359.1,166.8 359.4,166.8 359.7,166.0 360.1,163.8 360.4,159.2 360.4,158.7 360.6,158.0 360.7,158.6 360.8,158.7 361.1,161.9 361.4,164.5 361.7,166.2 362.0,165.2 362.4,166.1 362.7,165.7 363.0,165.5 363.4,164.5 363.7,160.5 363.9,157.4 364.0,157.5 364.1,157.1 364.2,158.0 364.4,159.3 364.7,163.2 365.0,165.2 365.3,166.3 365.7,165.4 366.0,166.1 366.3,165.4 366.7,165.1 367.0,164.2 367.3,163.8 367.6,162.6 367.9,162.1 368.0,161.3 368.0,161.9 368.1,162.0 368.3,162.4 368.6,164.5 369.0,164.5 369.3,165.8 369.6,166.2 370.0,166.6 370.3,165.8 370.6,166.0 370.9,166.4 371.3,165.5 371.6,165.7 371.9,166.3 372.3,165.3 372.6,165.5 372.9,165.6 373.3,166.0 373.6,165.5 373.9,165.4 374.2,166.4 374.6,165.8 374.9,165.9 375.2,165.0 375.6,165.0 375.9,165.5 376.2,165.1 376.6,165.7 376.9,166.2 377.2,165.5 377.6,165.4 377.9,166.0 378.2,165.6 378.5,164.9 378.9,165.2 379.2,165.8 379.5,165.2 379.9,165.5 380.2,166.0 380.5,165.9 380.9,165.3 381.2,165.4 381.5,164.7 381.8,164.4 382.2,165.1 382.5,164.3 382.8,165.0 383.2,164.5 383.5,164.7 383.8,164.4 384.1,165.1 384.5,164.7 384.8,165.0 385.1,165.0 385.5,165.2 385.8,165.1 386.1,165.5 386.5,166.2 386.8,165.5 387.1,165.7 387.4,164.8 387.8,164.7 388.1,163.8 388.4,164.3 388.8,163.6 389.1,163.5 389.4,162.9 389.8,162.7 390.1,162.4 390.4,162.4 390.8,162.7 391.1,162.1 391.4,161.0 391.7,160.2 392.1,159.3 392.4,159.5 392.7,158.0 393.1,156.5 393.4,153.9 393.7,152.4 394.1,146.6 394.4,141.1 394.7,135.0 395.0,122.6 395.4,111.7 395.7,108.4 395.9,100.7 396.0,98.5 396.0,96.0 396.1,99.7 396.4,102.0 396.7,111.0 397.0,126.3 397.4,135.1 397.7,140.3 398.0,145.2 398.3,151.0 398.7,154.0 399.0,155.6 399.3,157.6 399.7,158.3 400.0,159.9 400.3,161.0 400.6,160.7 401.0,161.2 401.3,161.9 401.6,163.2 402.0,163.0 402.3,163.0 402.6,164.0 403.0,163.6 403.3,163.5 403.6,163.8 403.9,163.8 404.3,163.4 404.6,163.8 404.9,164.5 405.3,164.3 405.6,165.0 405.9,165.1 406.3,164.5 406.6,163.6 406.9,110.4 407.1,65.6 407.2,40.3 407.2,43.4 407.4,66.7 407.6,138.1 407.9,164.5 408.2,165.3 408.6,164.6 408.9,165.3 409.2,165.5 409.6,165.2 409.9,165.4 410.2,165.6 410.6,166.0 410.9,166.1 411.2,165.5 411.5,165.6 411.9,165.5 412.2,165.2 412.5,166.1 412.9,165.4 413.2,165.0 413.5,165.6 413.9,165.6 414.2,165.3 414.5,166.0 414.8,166.0 415.2,165.6 415.5,165.9 415.8,165.0 416.2,165.7 416.5,165.9 416.8,165.2 417.1,165.3 417.5,164.7 417.8,165.6 418.1,165.6 418.5,165.3 418.8,164.6 419.1,163.8 419.5,162.5 419.8,162.6 419.9,163.2 420.0,162.5 420.1,162.1 420.1,162.8 420.4,162.8 420.8,164.5 421.1,165.4 421.4,166.6 421.8,166.5 422.1,166.6 422.4,167.2 422.8,166.8 423.1,166.4 423.4,166.3 423.8,165.9 424.1,165.6 424.4,165.4 424.7,166.3 425.1,166.5 425.4,166.0 425.7,167.0 426.1,165.6 426.4,165.9 426.7,166.4 427.1,165.8 427.4,165.5 427.7,166.5 428.0,165.3 428.4,165.4 428.7,165.3 429.0,165.9 429.4,165.2 429.7,165.1 430.0,165.9 430.4,165.2 430.7,164.5 431.0,164.4 431.3,163.7 431.7,163.1 431.9,162.7 432.0,162.4 432.1,162.9 432.3,163.4 432.7,163.2 433.0,164.2 433.3,165.6 433.6,165.0 434.0,165.8 434.3,166.1 434.6,166.1 435.0,166.3 435.3,166.1 435.6,164.8 436.0,165.8 436.3,165.6 436.6,165.3 436.9,165.1 437.3,165.2 437.6,166.0 437.9,165.6 438.3,165.0 438.6,164.9 438.9,165.5 439.3,165.3 439.6,165.9 439.9,165.6 440.2,165.8 440.6,165.7 440.9,165.9 441.2,166.4 441.6,165.6 441.9,165.7 442.2,165.8 442.6,165.3 442.9,164.8 443.2,165.9 443.6,166.2 443.9,165.2 444.2,165.9 444.5,166.6 444.9,167.1 445.2,166.6 445.5,166.7 445.9,165.5 446.2,165.0 446.5,163.2 446.9,162.4 447.0,162.9 447.1,163.2 447.2,163.2 447.5,163.5 447.8,164.5 448.2,165.9 448.5,166.2 448.8,166.5 449.2,166.2 449.5,165.0 449.8,165.5 450.1,165.7 450.5,164.9 450.8,165.0 451.1,165.0 451.5,165.9 451.8,166.7 452.1,166.4 452.5,165.5 452.8,166.5 453.1,165.8 453.4,166.1 453.8,165.7 454.1,166.5 454.4,166.5 454.8,164.8 455.1,165.7 455.4,165.2 455.8,165.1 456.1,165.6 456.4,166.1 456.8,166.5 457.1,165.3 457.4,165.4 457.7,165.0 458.1,165.4 458.4,165.2 458.7,164.8 459.1,164.9 459.4,165.6 459.7,165.5 460.1,164.9 460.4,165.3 460.7,165.7 461.0,165.9 461.4,166.3 461.7,165.6 462.0,166.0 462.4,165.6 462.7,165.9 463.0,164.5 463.4,155.7 463.4,152.0 463.6,150.5 463.7,150.2 463.8,152.2 464.0,160.4 464.3,163.5 464.7,158.5 465.0,145.1 465.2,133.4 465.3,132.5 465.4,131.4 465.6,133.6 465.7,138.1 466.0,154.3 466.3,153.0 466.6,144.4 467.0,129.2 467.2,115.7 467.3,112.9 467.4,111.3 467.6,114.7 467.6,119.2 468.0,138.0 468.3,148.6 468.6,155.7 469.0,158.2 469.3,160.0 469.6,161.8 469.9,162.4 470.3,162.9 470.6,163.9 470.9,164.3 471.3,164.7 471.6,164.5 471.9,165.4 472.3,165.3 472.6,165.6 472.9,165.0 473.2,165.6 473.6,165.3 473.9,164.5 474.2,164.6 474.6,164.7 474.9,164.6 475.2,164.7 475.6,165.1 475.9,165.7 476.2,165.3 476.6,165.6 476.9,165.1 477.2,165.2 477.5,166.1 477.9,164.9 478.2,165.7 478.5,166.4 478.9,166.1 479.2,166.0 479.5,165.8 479.9,166.4 480.2,166.7 480.5,166.9 480.8,166.9 481.2,165.9 481.5,166.8 481.8,165.9 482.2,165.3 482.5,131.8 482.6,94.0 482.8,74.1 482.8,75.1 482.9,93.2 483.1,140.1 483.5,165.4 483.8,165.9 484.1,165.8 484.5,164.8 484.8,164.9 485.1,148.9 485.4,110.9 485.5,98.5 485.5,96.7 485.6,110.7 485.8,136.8 486.1,164.8 486.4,163.8 486.8,163.9 487.1,163.1 487.4,162.4 487.8,161.3 488.1,160.7 488.4,159.6 488.8,158.7 489.1,157.0 489.4,153.7 489.8,150.4 490.1,143.1 490.4,130.2 490.7,106.4 491.1,65.6 491.2,41.6 491.4,35.1 491.6,41.8 491.7,65.0 492.1,105.1 492.4,130.5 492.7,142.4 493.1,150.7 493.4,153.9 493.7,157.0 494.0,159.5 494.4,160.0 494.7,160.9 495.0,162.6 495.4,163.4 495.7,162.9 496.0,163.0 496.4,163.7 496.7,165.1 497.0,164.4 497.3,165.3 497.7,165.2 498.0,165.8 498.3,165.4 498.7,166.0 499.0,166.4 499.3,166.4 499.6,165.9 500.0,165.8 500.3,166.0 500.6,165.1 501.0,166.3 501.3,166.1 501.6,165.8 502.0,166.4 502.3,165.6 502.6,165.2 502.9,164.9 503.3,165.3 503.6,164.5 503.9,163.4 504.3,160.3 504.6,157.4 504.9,152.7 504.9,152.2 505.0,151.6 505.1,153.6 505.3,154.1 505.6,159.9 505.9,163.4 506.2,164.5 506.6,164.6 506.9,165.6 507.2,165.8 507.6,165.4 507.9,166.5 508.2,165.1 508.6,166.5 508.9,165.7 509.2,165.2 509.6,166.3 509.9,165.9 510.2,166.0 510.5,166.0 510.9,165.4 511.2,163.9 511.5,163.8 511.9,161.8 511.9,163.1 512.0,162.8 512.1,161.9 512.2,162.5 512.5,162.9 512.9,164.0 513.2,165.4 513.5,165.1 513.8,165.9 514.2,166.7 514.5,166.0 514.8,166.6 515.2,166.8 515.5,166.3 515.8,165.8 516.1,166.4 516.5,166.2 516.8,166.2 517.1,165.9 517.5,166.3 517.8,165.9 518.1,164.8 518.5,165.1 518.8,164.9 519.1,164.3 519.5,164.7 519.8,165.5 520.1,165.8 520.4,165.0 520.8,164.8 521.1,164.7 521.4,165.7 521.8,165.6 522.1,166.1 522.4,164.6 522.8,165.6 523.1,163.9 523.4,156.2 523.7,141.1 523.9,136.8 524.0,133.8 524.1,134.9 524.1,136.2 524.4,145.7 524.7,159.5 525.1,156.5 525.4,151.6 525.7,141.4 526.0,125.1 526.2,114.6 526.4,111.0 526.4,110.8 526.5,115.2 526.7,123.4 527.0,140.3 527.4,150.8 527.7,157.5 528.0,160.1 528.4,156.2 528.7,144.2 528.8,144.0 528.9,142.1 529.0,143.3 529.0,143.4 529.4,152.9 529.7,162.6 530.0,164.7 530.3,165.6 530.7,165.4 531.0,166.0 531.3,165.1 531.7,165.5 532.0,165.7 532.3,166.4 532.6,165.5 533.0,166.0 533.3,165.3 533.6,165.9 534.0,164.5 534.3,164.0 534.6,161.7 534.9,162.1 535.0,161.7 535.0,161.3 535.1,161.9 535.3,161.2 535.6,163.0 536.0,164.4 536.3,165.1 536.6,164.9 536.9,165.9 537.3,165.9 537.6,166.3 537.9,167.0 538.3,165.7 538.6,166.2 538.9,166.2 539.2,165.5 539.6,165.4 539.9,165.0 540.2,166.3" stroke="#ff1a1a" stroke-opacity="0.62"/>
<path d="M36.0,165.3 36.3,165.3 36.7,165.6 37.0,165.8 37.3,164.8 37.6,165.0 38.0,164.5 38.0,164.7 38.3,165.0 38.6,165.0 39.0,165.4 39.3,165.1 39.6,165.3 40.0,165.5 40.3,165.8 40.6,165.5 41.0,164.6 41.3,164.9 41.6,164.8 41.9,165.5 42.3,165.7 42.6,165.9 42.9,165.9 43.0,165.8 43.3,166.2 43.6,166.0 43.9,165.7 44.2,166.1 44.6,165.9 44.9,166.2 45.2,166.2 45.6,165.9 45.9,165.9 46.2,165.9 46.6,166.2 46.9,166.1 47.0,167.7 47.2,167.7 47.5,167.9 47.9,167.7 48.2,167.6 48.5,167.6 48.9,167.1 49.2,167.4 49.5,167.0 49.9,166.6 50.2,166.5 50.5,166.9 50.9,166.6 51.2,166.7 51.5,166.9 51.8,166.8 52.2,166.7 52.5,167.2 52.8,167.0 53.2,167.2 53.5,167.1 53.8,167.2 54.1,166.9 54.5,167.4 54.8,167.6 55.1,167.2 55.5,167.5 55.8,167.7 56.1,167.0 56.5,167.1 56.8,167.8 57.1,167.7 57.5,167.5 57.8,167.1 58.1,167.2 58.4,167.4 58.8,165.9 59.0,162.2 59.1,161.3 59.2,161.3 59.4,161.6 59.4,163.0 59.8,166.1 60.1,167.3 60.4,166.9 60.8,167.2 61.1,166.7 61.4,167.3 61.7,167.1 62.1,167.1 62.4,166.9 62.7,167.1 63.1,166.6 63.4,166.7 63.7,166.3 64.0,166.7 64.4,166.1 64.7,165.9 65.0,165.3 65.3,165.7 65.4,165.7 65.5,165.8 65.7,165.5 65.7,165.8 66.0,166.0 66.4,166.3 66.7,166.5 67.0,167.5 67.3,166.8 67.7,166.9 68.0,166.9 68.3,167.3 68.7,166.8 69.0,167.3 69.3,167.3 69.7,167.7 70.0,167.0 70.3,167.3 70.7,167.4 71.0,167.7 71.3,167.2 71.6,167.0 72.0,167.1 72.3,166.9 72.6,164.3 73.0,151.2 73.0,147.5 73.2,143.9 73.3,144.7 73.3,147.3 73.6,160.4 74.0,166.3 74.3,167.2 74.6,167.0 74.9,166.8 75.3,164.4 75.5,158.5 75.6,158.0 75.7,157.2 75.8,158.9 75.9,160.1 76.3,166.4 76.6,167.4 76.9,167.1 77.2,167.6 77.6,167.0 77.9,167.4 78.2,167.7 78.6,167.4 78.9,167.2 79.2,167.2 79.6,167.0 79.9,167.7 80.2,167.1 80.5,167.5 80.9,167.2 81.2,167.1 81.5,167.2 81.9,166.7 82.2,166.6 82.5,166.5 82.9,166.2 83.2,166.1 83.5,166.1 83.5,165.2 83.7,165.7 83.8,165.2 84.2,166.0 84.5,166.0 84.8,166.7 85.2,166.6 85.5,166.0 85.8,165.4 86.2,165.4 86.5,165.9 86.5,165.3 86.6,165.6 86.8,165.4 86.8,165.5 87.2,166.2 87.5,166.0 87.8,166.8 88.1,166.8 88.5,167.1 88.8,166.8 89.1,167.2 89.5,166.8 89.8,167.0 90.1,167.1 90.5,167.3 90.8,167.6 91.1,167.0 91.4,166.9 91.8,167.2 92.1,167.2 92.4,167.0 92.8,167.0 93.1,167.5 93.4,166.8 93.8,166.9 94.1,167.0 94.4,167.0 94.7,167.4 95.1,166.7 95.4,167.3 95.7,167.3 96.1,167.3 96.4,167.0 96.7,166.9 97.0,167.0 97.4,166.9 97.7,163.3 98.0,157.5 98.0,156.5 98.1,155.8 98.2,157.5 98.4,160.8 98.7,165.9 99.0,166.6 99.4,167.1 99.7,167.0 100.0,166.6 100.3,166.4 100.7,166.6 101.0,165.5 101.3,163.6 101.5,161.4 101.7,161.5 101.7,161.7 101.8,161.8 102.0,163.4 102.3,165.9 102.7,166.9 103.0,167.0 103.3,167.2 103.7,167.3 104.0,166.8 104.3,166.3 104.6,164.1 104.8,161.4 105.0,160.4 105.0,160.8 105.2,161.4 105.3,164.2 105.6,166.9 106.0,167.1 106.3,167.3 106.6,166.9 107.0,167.4 107.3,167.0 107.6,167.0 107.9,167.1 108.3,166.7 108.6,167.2 108.9,167.1 109.3,166.9 109.6,167.4 109.9,166.6 110.2,167.5 110.6,166.8 110.9,167.5 111.2,167.1 111.6,166.9 111.9,166.9 112.2,166.7 112.6,165.5 112.8,165.3 112.9,165.2 113.0,164.9 113.2,165.0 113.2,164.6 113.5,165.6 113.9,166.5 114.2,166.5 114.5,166.9 114.9,166.6 115.2,167.1 115.5,166.9 115.9,167.3 116.2,167.2 116.5,166.6 116.8,167.1 117.2,167.2 117.5,167.4 117.8,167.4 118.2,167.3 118.5,167.1 118.8,167.0 119.2,167.1 119.5,166.7 119.8,166.4 120.2,167.2 120.5,167.2 120.8,166.9 121.1,167.1 121.5,163.9 121.7,161.3 121.8,160.7 122.0,161.8 122.1,164.0 122.5,167.5 122.8,167.6 123.1,167.7 123.5,167.6 123.8,168.0 124.1,167.5 124.4,167.9 124.8,167.0 125.1,167.2 125.4,167.4 125.8,166.8 126.1,166.1 126.4,165.3 126.8,165.2 127.1,164.9 127.4,165.0 127.7,164.9 127.8,165.1 128.0,164.2 128.1,164.4 128.2,164.3 128.4,165.0 128.7,164.5 129.1,164.9 129.4,165.2 129.7,165.8 130.1,166.3 130.4,167.2 130.7,166.8 131.0,167.4 131.4,166.9 131.7,166.8 132.0,167.7 132.4,166.1 132.7,163.1 132.8,162.5 132.9,161.7 133.0,162.6 133.1,162.7 133.3,165.5 133.7,166.4 134.0,167.3 134.3,166.9 134.7,167.2 135.0,167.4 135.3,167.7 135.7,167.4 136.0,167.6 136.3,167.5 136.7,167.5 137.0,167.3 137.3,166.6 137.6,166.5 138.0,166.8 138.3,166.5 138.6,166.3 139.0,166.3 139.3,165.6 139.6,166.0 139.9,165.4 140.3,164.9 140.6,163.9 140.9,162.5 141.3,161.0 141.6,158.3 141.8,157.7 141.9,156.8 141.9,157.2 142.1,157.2 142.3,159.1 142.6,161.1 142.9,163.8 143.2,165.2 143.6,165.4 143.9,166.3 144.2,165.5 144.6,164.6 144.8,163.7 144.9,164.1 145.0,163.6 145.2,164.3 145.2,164.4 145.6,165.3 145.9,166.6 146.2,166.8 146.6,167.1 146.9,167.2 147.2,166.8 147.5,167.8 147.9,167.0 148.2,166.9 148.5,166.8 148.9,165.3 149.2,163.9 149.2,164.0 149.3,163.4 149.4,163.2 149.5,163.8 149.8,164.7 150.2,165.9 150.5,167.1 150.8,166.3 151.2,166.8 151.5,167.2 151.8,167.1 152.2,166.6 152.5,166.9 152.8,166.6 153.2,166.4 153.5,166.0 153.8,165.5 153.8,165.1 154.0,165.3 154.1,165.3 154.2,165.4 154.5,165.7 154.8,166.2 155.1,166.5 155.5,166.6 155.8,167.4 156.1,167.0 156.4,166.9 156.8,166.9 157.1,167.1 157.4,167.0 157.8,167.6 158.1,167.4 158.4,167.1 158.8,167.3 159.1,166.8 159.4,166.0 159.8,163.4 160.1,158.7 160.2,156.8 160.4,156.5 160.4,156.5 160.6,157.1 160.7,158.9 161.1,163.7 161.4,166.6 161.7,167.4 162.1,168.0 162.4,167.0 162.7,167.1 163.1,167.6 163.4,167.1 163.7,167.5 164.0,166.9 164.4,167.4 164.7,167.0 165.0,166.7 165.4,165.7 165.7,165.8 165.8,165.8 166.0,165.6 166.0,165.2 166.2,165.1 166.3,164.9 166.7,165.9 167.0,166.1 167.3,166.9 167.7,167.1 168.0,167.2 168.3,167.6 168.7,166.9 169.0,167.1 169.3,165.7 169.7,165.9 169.8,165.4 170.0,165.0 170.0,165.6 170.2,165.1 170.3,165.5 170.6,165.6 171.0,166.8 171.3,167.1 171.6,167.0 172.0,166.9 172.3,167.3 172.6,167.7 172.9,167.7 173.3,167.2 173.6,166.8 173.9,167.6 174.3,166.8 174.6,167.4 174.9,167.2 175.3,167.7 175.5,167.0 175.6,167.5 175.9,167.3 176.2,166.7 176.6,166.8 176.9,166.3 177.2,166.6 177.6,166.8 177.9,166.3 178.0,165.7 178.2,164.9 178.6,163.8 178.9,162.9 179.2,161.4 179.6,161.3 179.9,160.3 180.2,160.8 180.5,158.3 180.7,159.5 180.9,156.1 181.2,155.7 181.5,154.8 181.9,152.0 182.2,151.9 182.5,146.1 182.8,147.5 182.9,145.1 183.2,145.8 183.5,144.6 183.8,145.2 184.2,139.4 184.2,135.8 184.5,151.6 184.8,167.0 184.8,167.1 185.2,166.9 185.5,166.4 185.8,167.1 186.2,166.9 186.5,166.7 186.8,167.3 187.1,166.6 187.5,164.1 187.8,146.2 187.9,134.3 188.1,128.3 188.1,128.8 188.2,133.9 188.5,151.5 188.8,166.2 189.1,167.2 189.4,167.6 189.8,167.4 190.1,167.1 190.4,165.4 190.8,152.4 190.9,140.4 191.1,135.6 191.2,139.5 191.4,152.2 191.8,165.3 192.1,166.8 192.4,166.5 192.8,165.2 193.1,158.0 193.2,155.8 193.3,153.8 193.4,155.5 193.4,155.8 193.7,162.9 194.1,166.7 194.4,166.1 194.7,166.5 195.1,166.7 195.4,166.9 195.7,167.0 196.1,166.6 196.4,167.2 196.7,167.7 197.0,167.2 197.4,167.7 197.7,167.4 198.0,167.6 198.4,167.8 198.7,166.5 199.0,161.2 199.2,153.2 199.3,151.4 199.4,151.1 199.6,153.5 199.7,157.7 200.0,165.6 200.3,167.2 200.7,166.4 201.0,167.1 201.3,166.6 201.7,166.9 202.0,167.2 202.3,166.9 202.7,167.3 203.0,166.4 203.3,165.3 203.6,164.4 203.7,165.1 203.8,164.6 203.9,164.4 204.0,164.5 204.3,166.0 204.6,166.2 205.0,166.8 205.3,166.5 205.6,165.9 205.9,164.9 206.3,161.9 206.3,161.5 206.5,161.8 206.6,162.1 206.7,161.5 206.9,164.6 207.3,165.8 207.6,164.6 207.9,161.4 208.1,160.8 208.2,160.1 208.3,160.3 208.3,160.3 208.6,163.0 208.9,165.2 209.2,167.3 209.6,166.7 209.9,166.7 210.2,167.5 210.6,167.5 210.9,165.3 211.2,152.0 211.3,146.5 211.5,142.7 211.6,143.1 211.7,145.9 211.9,158.9 212.2,166.1 212.6,167.2 212.9,167.1 213.2,167.4 213.5,167.2 213.9,166.9 214.2,166.1 214.5,164.6 214.8,164.2 214.9,163.9 215.0,164.5 215.2,164.7 215.2,163.9 215.5,165.6 215.8,165.9 216.2,166.2 216.5,167.1 216.8,166.8 217.2,166.5 217.5,167.0 217.8,166.5 218.2,167.0 218.5,167.4 218.8,167.3 219.2,166.5 219.5,167.2 219.8,166.2 220.1,165.9 220.5,165.3 220.8,164.1 221.1,163.5 221.2,163.9 221.3,163.6 221.4,163.6 221.5,164.2 221.8,164.6 222.1,166.1 222.4,166.9 222.8,167.0 223.1,167.2 223.4,166.8 223.8,166.2 224.1,165.7 224.4,164.7 224.8,164.1 224.8,164.3 224.9,164.1 225.1,163.9 225.1,164.1 225.4,165.3 225.8,165.7 226.1,166.8 226.4,166.9 226.7,167.0 227.1,166.8 227.4,166.8 227.7,166.3 228.1,165.4 228.4,163.9 228.7,160.9 228.8,160.6 229.0,161.0 229.1,161.1 229.2,161.0 229.4,162.0 229.7,163.4 230.0,165.9 230.4,166.4 230.7,167.3 231.0,167.0 231.4,166.3 231.7,164.8 232.0,163.2 232.1,163.7 232.2,163.8 232.3,163.6 232.7,164.5 233.0,165.8 233.3,166.4 233.7,166.5 234.0,167.0 234.3,167.2 234.7,166.2 235.0,165.5 235.3,164.0 235.7,163.3 235.8,162.7 235.9,162.8 236.0,162.7 236.3,164.0 236.6,165.6 237.0,166.4 237.3,167.0 237.6,167.4 238.0,166.7 238.3,166.8 238.5,167.0 238.6,165.3 238.9,164.5 239.3,163.6 239.6,161.9 239.9,160.8 240.0,160.9 240.3,159.5 240.6,158.2 240.9,158.1 241.3,156.3 241.5,154.8 241.6,153.1 241.9,153.5 242.2,150.0 242.5,149.7 242.6,150.6 242.9,148.4 242.9,147.8 243.1,146.5 243.2,147.2 243.2,146.5 243.6,150.3 243.9,150.2 244.0,150.2 244.2,151.4 244.6,151.5 244.9,150.2 245.2,148.9 245.2,149.3 245.3,150.4 245.4,151.6 245.6,148.8 245.9,151.3 246.2,151.8 246.5,152.6 246.5,152.8 246.9,152.4 247.2,150.7 247.3,152.4 247.5,150.7 247.5,150.2 247.7,153.3 247.9,153.4 248.2,152.5 248.5,153.2 248.5,152.3 248.8,152.2 249.2,148.8 249.4,146.8 249.5,147.0 249.6,145.4 249.8,148.1 249.8,148.6 250.2,148.3 250.5,152.1 250.7,151.1 250.8,152.8 251.2,150.1 251.5,150.3 251.7,148.3 251.8,149.1 251.8,152.0 251.9,151.8 252.2,158.1 252.5,165.9 252.5,166.9 252.8,167.3 253.1,166.9 253.5,166.7 253.8,167.1 254.1,167.3 254.5,166.4 254.8,166.5 255.1,166.5 255.4,166.2 255.8,165.5 256.1,165.0 256.4,162.9 256.8,162.4 256.8,162.1 256.9,162.6 257.1,163.2 257.1,162.4 257.4,163.9 257.8,166.1 258.0,167.0 258.1,166.5 258.4,166.1 258.8,166.2 259.1,166.6 259.4,166.1 259.7,165.7 260.1,165.8 260.4,164.7 260.7,164.9 261.1,165.2 261.4,164.9 261.7,164.2 262.0,164.4 262.1,164.5 262.4,164.4 262.6,163.3 262.7,163.4 262.7,164.2 262.9,163.9 263.0,164.1 263.4,163.8 263.7,164.4 264.0,163.8 264.4,163.7 264.7,162.9 265.0,163.0 265.4,162.9 265.7,163.7 266.0,163.4 266.3,162.9 266.7,162.6 267.0,162.1 267.3,162.6 267.7,162.2 268.0,162.8 268.0,162.7 268.3,162.5 268.6,161.1 269.0,161.5 269.3,161.0 269.6,159.9 270.0,158.4 270.3,156.1 270.6,153.4 271.0,148.7 271.0,148.5 271.3,143.8 271.6,138.8 271.9,132.2 272.3,131.3 272.4,127.0 272.5,126.8 272.6,126.6 272.6,127.5 272.9,129.1 273.3,135.8 273.6,140.3 273.9,147.7 274.0,149.2 274.3,152.8 274.6,154.4 274.9,156.5 275.2,159.2 275.6,159.5 275.9,159.1 276.2,160.9 276.6,160.7 276.9,161.3 277.0,162.7 277.2,161.8 277.6,162.1 277.9,162.2 278.2,162.7 278.6,162.7 278.9,163.5 279.2,163.4 279.5,163.6 279.9,164.4 280.2,165.0 280.5,165.2 280.9,165.7 281.0,165.5 281.2,165.5 281.5,164.5 281.9,158.3 282.1,154.3 282.2,153.5 282.2,152.9 282.4,153.6 282.5,156.1 282.8,163.0 283.0,165.2 283.2,166.4 283.5,166.5 283.8,167.0 284.2,166.5 284.5,166.4 284.8,165.6 285.1,156.7 285.4,145.8 285.5,142.1 285.5,142.2 285.6,146.0 285.8,153.4 286.1,165.1 286.5,166.4 286.8,166.7 287.1,166.6 287.5,166.9 287.8,166.9 288.1,166.8 288.4,166.8 288.8,166.2 289.1,166.5 289.4,166.5 289.8,166.7 290.1,166.5 290.4,166.5 290.8,166.8 291.1,167.0 291.4,166.8 291.8,166.8 292.1,166.3 292.4,167.1 292.7,167.0 293.1,166.8 293.4,166.9 293.7,166.6 294.1,166.3 294.4,166.8 294.7,166.6 295.1,166.7 295.4,166.9 295.7,166.5 296.0,166.6 296.4,167.0 296.7,167.2 297.0,167.1 297.4,167.3 297.7,167.5 298.0,167.4 298.4,166.3 298.7,167.3 299.0,166.4 299.3,166.7 299.7,166.7 300.0,167.4 300.3,166.7 300.7,166.5 301.0,167.3 301.3,166.8 301.6,166.8 302.0,166.7 302.3,166.6 302.6,166.2 303.0,167.0 303.3,166.8 303.6,167.1 304.0,167.9 304.3,167.9 304.6,167.0 304.9,167.2 305.3,166.9 305.6,167.3 305.9,166.9 306.3,166.8 306.6,167.7 306.9,167.5 307.0,167.7 307.3,166.7 307.6,166.2 307.9,166.2 308.2,166.0 308.6,164.8 308.9,164.8 309.2,164.7 309.6,164.1 309.9,164.0 310.0,163.7 310.2,163.6 310.6,162.8 310.9,162.8 311.2,163.4 311.6,162.2 311.9,162.6 312.2,160.7 312.5,161.5 312.5,160.3 312.9,161.3 313.2,160.7 313.5,160.0 313.9,160.2 314.2,158.2 314.4,157.5 314.5,158.2 314.5,158.2 314.6,159.4 314.9,159.2 315.2,160.8 315.5,162.3 315.8,163.4 316.0,163.6 316.2,163.1 316.5,162.7 316.8,162.7 317.2,161.7 317.5,161.1 317.8,160.4 318.1,160.7 318.4,158.7 318.5,159.0 318.6,158.5 318.8,158.7 318.8,159.1 319.1,162.7 319.5,163.6 319.8,163.7 320.0,165.5 320.1,164.5 320.5,163.8 320.8,163.9 321.1,163.5 321.4,163.4 321.8,163.0 322.1,156.7 322.1,156.7 322.3,155.8 322.4,156.1 322.4,157.2 322.8,162.6 323.1,162.0 323.4,162.0 323.8,162.2 324.0,162.2 324.1,163.7 324.4,162.6 324.8,160.6 325.0,158.1 325.1,157.8 325.4,155.1 325.7,151.7 325.8,151.6 325.9,151.1 326.1,151.2 326.1,150.8 326.4,155.4 326.7,158.9 327.1,161.2 327.4,162.7 327.7,163.9 328.1,164.2 328.4,164.4 328.7,165.0 329.0,165.1 329.4,165.4 329.7,166.2 330.0,166.6 330.4,166.2 330.7,166.4 331.0,166.3 331.4,165.9 331.7,166.7 332.0,165.8 332.3,165.9 332.7,166.5 333.0,166.1 333.3,166.6 333.7,166.6 334.0,166.3 334.3,166.8 334.6,166.1 335.0,166.4 335.3,166.2 335.6,166.9 336.0,166.1 336.3,166.3 336.6,166.5 337.0,166.1 337.3,166.9 337.6,166.1 337.9,166.1 338.3,166.0 338.6,166.8 338.9,166.9 339.3,166.9 339.6,166.6 339.9,167.2 340.3,166.6 340.6,166.3 340.9,166.4 341.2,167.0 341.6,166.9 341.9,164.6 342.2,147.1 342.4,127.2 342.6,120.9 342.6,119.9 342.8,126.7 342.9,141.1 343.2,163.7 343.6,165.8 343.9,166.2 344.2,165.5 344.6,165.5 344.9,165.0 345.2,164.8 345.5,164.4 345.9,162.6 346.1,162.1 346.2,161.7 346.3,161.1 346.4,161.1 346.5,161.7 346.9,163.0 347.2,163.6 347.5,164.9 347.9,165.0 348.2,165.7 348.5,166.4 348.8,166.9 349.2,165.7 349.5,164.8 349.8,164.2 349.9,164.3 350.0,164.7 350.1,164.6 350.2,164.5 350.5,165.2 350.8,165.8 351.1,166.3 351.5,167.0 351.8,166.3 352.1,165.8 352.5,165.0 352.8,163.7 352.9,163.5 353.0,163.1 353.1,163.7 353.1,163.7 353.5,164.4 353.8,165.5 354.1,166.5 354.4,166.8 354.8,166.8 355.1,166.7 355.4,166.0 355.8,165.3 356.1,164.1 356.4,163.5 356.4,162.9 356.5,163.4 356.6,162.9 356.8,164.1 357.1,164.3 357.4,165.9 357.8,166.4 358.1,166.5 358.4,167.2 358.7,166.3 359.1,167.0 359.4,166.3 359.7,166.1 360.1,164.8 360.4,162.7 360.4,162.5 360.6,162.1 360.7,162.8 360.8,162.1 361.1,164.1 361.4,165.9 361.7,166.6 362.0,166.6 362.4,166.6 362.7,166.1 363.0,166.3 363.4,165.9 363.7,163.7 363.9,162.4 364.0,162.3 364.1,162.7 364.2,162.7 364.4,162.7 364.7,164.8 365.0,166.1 365.3,166.0 365.7,166.9 366.0,167.0 366.3,166.8 366.7,166.2 367.0,166.2 367.3,165.1 367.6,164.6 367.9,164.3 368.0,164.4 368.0,164.3 368.1,164.5 368.3,164.4 368.6,165.2 369.0,166.0 369.3,166.4 369.6,166.3 370.0,166.6 370.3,166.9 370.6,165.9 370.9,166.6 371.3,166.2 371.6,167.3 371.9,167.1 372.3,166.3 372.6,166.2 372.9,167.0 373.3,166.2 373.6,166.3 373.9,166.1 374.2,165.7 374.6,165.2 374.9,166.1 375.2,165.6 375.6,165.7 375.9,166.4 376.2,166.5 376.6,165.7 376.9,165.9 377.2,166.4 377.6,166.3 377.9,166.9 378.2,166.2 378.5,166.1 378.9,166.5 379.2,167.1 379.5,166.5 379.9,166.9 380.2,166.9 380.5,166.7 380.9,166.0 381.2,166.1 381.5,165.5 381.8,166.0 382.2,165.6 382.5,166.2 382.8,165.2 383.2,165.5 383.5,165.1 383.8,165.4 384.1,166.0 384.5,165.8 384.8,166.1 385.1,166.6 385.5,166.3 385.8,165.8 386.1,166.2 386.5,166.0 386.8,165.8 387.1,165.8 387.4,166.4 387.8,166.1 388.1,165.2 388.4,166.1 388.8,166.0 389.1,165.3 389.4,165.7 389.8,165.7 390.1,165.3 390.4,164.9 390.8,165.0 391.1,163.6 391.4,163.5 391.7,163.6 392.1,163.3 392.4,162.6 392.7,162.0 393.1,161.0 393.4,160.1 393.7,158.8 394.1,156.1 394.4,153.6 394.7,149.4 395.0,144.2 395.4,139.4 395.7,134.6 395.9,134.0 396.0,134.7 396.0,133.3 396.1,135.4 396.4,135.7 396.7,140.1 397.0,144.9 397.4,148.8 397.7,154.8 398.0,156.7 398.3,159.4 398.7,159.8 399.0,161.4 399.3,161.5 399.7,163.4 400.0,162.9 400.3,163.7 400.6,164.4 401.0,164.7 401.3,164.5 401.6,164.5 402.0,165.1 402.3,164.5 402.6,164.7 403.0,165.6 403.3,164.8 403.6,165.5 403.9,165.3 404.3,165.7 404.6,165.4 404.9,164.7 405.3,164.6 405.6,164.8 405.9,164.6 406.3,165.2 406.6,163.2 406.9,117.6 407.1,80.0 407.2,59.5 407.2,61.4 407.4,80.3 407.6,142.0 407.9,164.6 408.2,164.9 408.6,166.1 408.9,165.7 409.2,165.6 409.6,165.5 409.9,166.5 410.2,166.0 410.6,166.4 410.9,166.4 411.2,166.8 411.5,166.3 411.9,165.9 412.2,166.7 412.5,166.1 412.9,165.3 413.2,164.9 413.5,166.3 413.9,165.4 414.2,165.3 414.5,165.8 414.8,164.6 415.2,164.9 415.5,165.4 415.8,166.1 416.2,165.3 416.5,166.0 416.8,166.5 417.1,165.8 417.5,166.3 417.8,165.2 418.1,166.1 418.5,166.2 418.8,166.7 419.1,165.7 419.5,165.9 419.8,165.6 419.9,165.5 420.0,164.9 420.1,164.7 420.1,165.0 420.4,164.6 420.8,164.5 421.1,166.2 421.4,165.6 421.8,165.7 422.1,166.8 422.4,166.0 422.8,165.9 423.1,166.8 423.4,165.4 423.8,165.7 424.1,166.9 424.4,165.6 424.7,166.6 425.1,165.3 425.4,166.1 425.7,166.2 426.1,166.4 426.4,166.4 426.7,166.3 427.1,165.6 427.4,166.7 427.7,165.4 428.0,166.0 428.4,165.7 428.7,166.8 429.0,166.7 429.4,166.3 429.7,166.8 430.0,165.8 430.4,166.6 430.7,166.1 431.0,165.1 431.3,165.4 431.7,164.3 431.9,165.2 432.0,165.1 432.1,164.2 432.3,164.7 432.7,165.2 433.0,165.3 433.3,166.3 433.6,166.7 434.0,167.0 434.3,166.6 434.6,166.8 435.0,166.7 435.3,166.9 435.6,166.7 436.0,167.2 436.3,166.8 436.6,166.5 436.9,165.5 437.3,165.6 437.6,165.1 437.9,165.9 438.3,165.9 438.6,165.7 438.9,166.8 439.3,167.1 439.6,167.3 439.9,166.5 440.2,166.8 440.6,167.2 440.9,166.6 441.2,166.9 441.6,165.9 441.9,167.1 442.2,166.1 442.6,165.9 442.9,166.3 443.2,165.5 443.6,166.2 443.9,166.3 444.2,167.0 444.5,166.6 444.9,167.6 445.2,167.2 445.5,165.6 445.9,165.9 446.2,165.4 446.5,164.3 446.9,165.3 447.0,165.0 447.1,165.6 447.2,164.8 447.5,164.4 447.8,165.8 448.2,166.8 448.5,165.8 448.8,166.6 449.2,166.0 449.5,166.1 449.8,167.0 450.1,166.6 450.5,167.0 450.8,167.1 451.1,167.0 451.5,165.9 451.8,166.9 452.1,165.8 452.5,166.6 452.8,166.5 453.1,165.6 453.4,166.3 453.8,166.8 454.1,166.0 454.4,165.7 454.8,167.1 455.1,166.3 455.4,165.6 455.8,165.7 456.1,165.7 456.4,165.7 456.8,166.1 457.1,165.4 457.4,166.4 457.7,165.5 458.1,165.4 458.4,165.6 458.7,166.5 459.1,165.4 459.4,165.4 459.7,166.8 460.1,166.6 460.4,165.5 460.7,166.0 461.0,165.6 461.4,166.8 461.7,166.9 462.0,165.3 462.4,166.4 462.7,165.6 463.0,166.1 463.4,159.9 463.4,159.3 463.6,156.6 463.7,157.4 463.8,158.2 464.0,163.6 464.3,164.4 464.7,162.5 465.0,155.0 465.2,148.9 465.3,146.9 465.4,147.6 465.6,148.5 465.7,152.1 466.0,160.3 466.3,159.6 466.6,154.0 467.0,144.6 467.2,135.4 467.3,135.1 467.4,133.7 467.6,136.1 467.6,138.8 468.0,150.0 468.3,156.7 468.6,159.3 469.0,161.4 469.3,162.5 469.6,163.6 469.9,162.9 470.3,164.3 470.6,164.1 470.9,164.7 471.3,164.4 471.6,164.6 471.9,165.7 472.3,165.9 472.6,165.2 472.9,165.5 473.2,165.4 473.6,166.1 473.9,166.0 474.2,166.0 474.6,167.1 474.9,166.2 475.2,165.7 475.6,165.8 475.9,165.2 476.2,165.5 476.6,165.3 476.9,165.9 477.2,165.4 477.5,164.9 477.9,164.7 478.2,165.6 478.5,164.7 478.9,164.5 479.2,164.7 479.5,165.3 479.9,165.2 480.2,166.1 480.5,165.8 480.8,166.7 481.2,165.7 481.5,165.8 481.8,166.5 482.2,165.9 482.5,142.7 482.6,115.1 482.8,101.5 482.8,102.1 482.9,115.8 483.1,147.8 483.5,165.4 483.8,166.3 484.1,166.0 484.5,166.7 484.8,165.5 485.1,156.1 485.4,131.4 485.5,121.8 485.5,122.0 485.6,131.2 485.8,148.3 486.1,165.7 486.4,165.8 486.8,164.8 487.1,165.0 487.4,164.6 487.8,163.2 488.1,163.8 488.4,162.2 488.8,162.3 489.1,160.8 489.4,159.9 489.8,157.2 490.1,153.2 490.4,146.8 490.7,132.7 491.1,109.6 491.2,96.3 491.4,91.8 491.6,97.3 491.7,109.8 492.1,133.0 492.4,147.1 492.7,153.0 493.1,157.5 493.4,160.7 493.7,161.9 494.0,163.0 494.4,162.8 494.7,163.7 495.0,164.8 495.4,165.1 495.7,165.0 496.0,165.6 496.4,164.8 496.7,165.5 497.0,166.2 497.3,165.1 497.7,166.2 498.0,165.8 498.3,166.1 498.7,166.9 499.0,166.1 499.3,165.6 499.6,166.1 500.0,166.2 500.3,165.9 500.6,167.0 501.0,166.3 501.3,166.6 501.6,166.6 502.0,165.9 502.3,167.2 502.6,166.5 502.9,165.6 503.3,166.4 503.6,165.9 503.9,165.0 504.3,163.9 504.6,162.0 504.9,159.2 504.9,158.7 505.0,157.4 505.1,158.3 505.3,160.2 505.6,163.1 505.9,164.9 506.2,165.1 506.6,166.1 506.9,166.6 507.2,166.5 507.6,166.8 507.9,165.7 508.2,166.9 508.6,166.5 508.9,165.8 509.2,165.9 509.6,165.4 509.9,165.2 510.2,165.6 510.5,165.9 510.9,164.9 511.2,164.9 511.5,163.6 511.9,164.4 511.9,164.9 512.0,164.7 512.1,163.9 512.2,165.2 512.5,165.1 512.9,165.5 513.2,166.1 513.5,165.7 513.8,166.1 514.2,165.7 514.5,165.1 514.8,166.6 515.2,165.7 515.5,166.0 515.8,165.9 516.1,166.1 516.5,166.9 516.8,166.8 517.1,166.2 517.5,167.2 517.8,167.1 518.1,166.9 518.5,165.9 518.8,165.8 519.1,166.4 519.5,166.1 519.8,165.9 520.1,165.5 520.4,166.5 520.8,165.7 521.1,165.3 521.4,165.7 521.8,166.1 522.1,166.2 522.4,165.7 522.8,165.9 523.1,165.5 523.4,160.2 523.7,152.4 523.9,150.3 524.0,148.6 524.1,149.3 524.1,149.1 524.4,155.4 524.7,162.6 525.1,161.0 525.4,156.8 525.7,152.0 526.0,140.5 526.2,133.8 526.4,133.0 526.4,132.3 526.5,134.4 526.7,139.6 527.0,151.4 527.4,156.4 527.7,160.0 528.0,162.9 528.4,160.2 528.7,154.7 528.8,153.4 528.9,152.5 529.0,153.6 529.0,153.3 529.4,159.5 529.7,164.8 530.0,165.7 530.3,165.0 530.7,165.1 531.0,164.7 531.3,166.1 531.7,164.8 532.0,166.0 532.3,165.9 532.6,165.9 533.0,165.0 533.3,166.2 533.6,164.8 534.0,164.8 534.3,164.9 534.6,164.0 534.9,163.4 535.0,164.3 535.0,164.1 535.1,165.0 535.3,165.1 535.6,164.5 536.0,166.1 536.3,165.9 536.6,165.8 536.9,167.0 537.3,166.7 537.6,166.2 537.9,166.4 538.3,166.0 538.6,165.0 538.9,165.8 539.2,165.9 539.6,165.1 539.9,165.2 540.2,166.1" stroke="#303030" stroke-opacity="0.65" stroke-width="0.9"/>
</g>
<path d="M541.1,9.7 V169.0" stroke="#707070" stroke-width="1.9" fill="none"/>
<path d="M35.4,169.0 V9.7 H541.1" stroke="#454545" stroke-width="1.2" fill="none" stroke-linecap="square"/>
<path d="M35.4,169.0 H541.1" stroke="#505050" stroke-width="1.2" fill="none"/>
<line x1="35.4" y1="169.00" x2="37.9" y2="169.00" stroke="#3a3a3a" stroke-width="1"/>
<line x1="35.4" y1="115.90" x2="37.9" y2="115.90" stroke="#3a3a3a" stroke-width="1"/>
<line x1="35.4" y1="62.80" x2="37.9" y2="62.80" stroke="#3a3a3a" stroke-width="1"/>
<line x1="35.4" y1="9.70" x2="37.9" y2="9.70" stroke="#3a3a3a" stroke-width="1"/>
<line x1="35.4" y1="142.45" x2="36.9" y2="142.45" stroke="#3a3a3a" stroke-width="1"/>
<line x1="35.4" y1="89.35" x2="36.9" y2="89.35" stroke="#3a3a3a" stroke-width="1"/>
<line x1="35.4" y1="36.25" x2="36.9" y2="36.25" stroke="#3a3a3a" stroke-width="1"/>
<line x1="35.40" y1="169.0" x2="35.40" y2="166.5" stroke="#3a3a3a" stroke-width="1"/>
<line x1="114.50" y1="169.0" x2="114.50" y2="166.5" stroke="#3a3a3a" stroke-width="1"/>
<line x1="193.60" y1="169.0" x2="193.60" y2="166.5" stroke="#3a3a3a" stroke-width="1"/>
<line x1="272.70" y1="169.0" x2="272.70" y2="166.5" stroke="#3a3a3a" stroke-width="1"/>
<line x1="351.80" y1="169.0" x2="351.80" y2="166.5" stroke="#3a3a3a" stroke-width="1"/>
<line x1="430.90" y1="169.0" x2="430.90" y2="166.5" stroke="#3a3a3a" stroke-width="1"/>
<line x1="510.00" y1="169.0" x2="510.00" y2="166.5" stroke="#3a3a3a" stroke-width="1"/>
<line x1="74.95" y1="169.0" x2="74.95" y2="167.5" stroke="#3a3a3a" stroke-width="1"/>
<line x1="154.05" y1="169.0" x2="154.05" y2="167.5" stroke="#3a3a3a" stroke-width="1"/>
<line x1="233.15" y1="169.0" x2="233.15" y2="167.5" stroke="#3a3a3a" stroke-width="1"/>
<line x1="312.25" y1="169.0" x2="312.25" y2="167.5" stroke="#3a3a3a" stroke-width="1"/>
<line x1="391.35" y1="169.0" x2="391.35" y2="167.5" stroke="#3a3a3a" stroke-width="1"/>
<line x1="470.45" y1="169.0" x2="470.45" y2="167.5" stroke="#3a3a3a" stroke-width="1"/>
<text x="33.0" y="171.80" text-anchor="end" font-size="8" class="b">0</text>
<text x="33.0" y="118.70" text-anchor="end" font-size="8" class="b">3000</text>
<text x="33.0" y="65.60" text-anchor="end" font-size="8" class="b">6000</text>
<text x="33.0" y="12.50" text-anchor="end" font-size="8" class="b">9000</text>
<text x="35.40" y="178.0" text-anchor="middle" font-size="8" class="b">200</text>
<text x="114.50" y="178.0" text-anchor="middle" font-size="8" class="b">300</text>
<text x="193.60" y="178.0" text-anchor="middle" font-size="8" class="b">400</text>
<text x="272.70" y="178.0" text-anchor="middle" font-size="8" class="b">500</text>
<text x="351.80" y="178.0" text-anchor="middle" font-size="8" class="b">600</text>
<text x="430.90" y="178.0" text-anchor="middle" font-size="8" class="b">700</text>
<text x="510.00" y="178.0" text-anchor="middle" font-size="8" class="b">800</text>
<text x="41.4" y="25.4" font-size="11.8" class="b">(a)</text>
<line x1="471.3" y1="17.8" x2="494.2" y2="17.8" stroke="#ff3b3b" stroke-width="1"/>
<line x1="471.3" y1="31.3" x2="494.2" y2="31.3" stroke="#999" stroke-width="1"/>
<text x="497.6" y="21.10" font-size="10.2" class="b">Vortex</text>
<text x="497.6" y="34.60" font-size="10.2" class="b">Gaussian</text>
<text transform="translate(13.7,89.25) rotate(-90)" text-anchor="middle" font-size="9.2" class="b">Intensity (a.u.)</text>
<text x="284.7" y="184.5" text-anchor="middle" font-size="9.5" class="b">Wavelength (nm)</text>
<line x1="59.2" y1="132.4" x2="59.2" y2="146.10" stroke="#111" stroke-width="1.25"/>
<polygon points="57.00,145.00 59.20,146.00 61.40,145.00 59.20,149.60" fill="#111"/>
<text transform="translate(61.50,117.10) rotate(-90)" text-anchor="middle" font-size="7.5" class="b">Fe II</text>
<line x1="73.4" y1="92.3" x2="73.4" y2="105.90" stroke="#111" stroke-width="1.25"/>
<polygon points="71.20,104.80 73.40,105.80 75.60,104.80 73.40,109.40" fill="#111"/>
<text transform="translate(75.90,82.20) rotate(-90)" text-anchor="middle" font-size="7.5" class="b">C I</text>
<line x1="75.5" y1="130.6" x2="75.5" y2="143.80" stroke="#111" stroke-width="1.25"/>
<polygon points="73.30,142.70 75.50,143.70 77.70,142.70 75.50,147.30" fill="#111"/>
<text transform="translate(79.80,118.85) rotate(-90)" text-anchor="middle" font-size="7.5" class="b">Fe I</text>
<line x1="98.2" y1="127.2" x2="98.2" y2="140.80" stroke="#111" stroke-width="1.25"/>
<polygon points="96.00,139.70 98.20,140.70 100.40,139.70 98.20,144.30" fill="#111"/>
<text transform="translate(99.80,113.70) rotate(-90)" text-anchor="middle" font-size="7.5" class="b">Mg II</text>
<line x1="104.8" y1="134" x2="104.8" y2="147.80" stroke="#111" stroke-width="1.25"/>
<polygon points="102.60,146.70 104.80,147.70 107.00,146.70 104.80,151.30" fill="#111"/>
<text transform="translate(107.70,120.20) rotate(-90)" text-anchor="middle" font-size="7.5" class="b">Si I</text>
<line x1="121.2" y1="133.3" x2="121.2" y2="146.40" stroke="#111" stroke-width="1.25"/>
<polygon points="119.00,145.30 121.20,146.30 123.40,145.30 121.20,149.90" fill="#111"/>
<text transform="translate(124.20,124.95) rotate(-90)" text-anchor="middle" font-size="7.5" class="b">Al I</text>
<line x1="188.3" y1="77.1" x2="188.3" y2="90.60" stroke="#111" stroke-width="1.25"/>
<polygon points="186.10,89.50 188.30,90.50 190.50,89.50 188.30,94.10" fill="#111"/>
<text transform="translate(191.00,61.85) rotate(-90)" text-anchor="middle" font-size="7.5" class="b">Ca II</text>
<line x1="199.4" y1="118.1" x2="199.4" y2="132.00" stroke="#111" stroke-width="1.25"/>
<polygon points="197.20,130.90 199.40,131.90 201.60,130.90 199.40,135.50" fill="#111"/>
<text transform="translate(202.60,107.10) rotate(-90)" text-anchor="middle" font-size="7.5" class="b">Sr II</text>
<line x1="211.4" y1="106.5" x2="211.4" y2="120.00" stroke="#111" stroke-width="1.25"/>
<polygon points="209.20,118.90 211.40,119.90 213.60,118.90 211.40,123.50" fill="#111"/>
<text transform="translate(214.60,95.60) rotate(-90)" text-anchor="middle" font-size="7.5" class="b">Ca I</text>
<line x1="243.1" y1="106.5" x2="243.1" y2="120.70" stroke="#111" stroke-width="1.25"/>
<polygon points="240.90,119.60 243.10,120.60 245.30,119.60 243.10,124.20" fill="#111"/>
<text transform="translate(246.20,92.35) rotate(-90)" text-anchor="middle" font-size="7.5" class="b">Ca III</text>
<line x1="272.5" y1="79.3" x2="272.5" y2="94.30" stroke="#111" stroke-width="1.25"/>
<polygon points="270.30,93.20 272.50,94.20 274.70,93.20 272.50,97.80" fill="#111"/>
<text transform="translate(276.10,67.80) rotate(-90)" text-anchor="middle" font-size="7.5" class="b">Fe II</text>
<line x1="285.8" y1="105.5" x2="285.8" y2="119.60" stroke="#111" stroke-width="1.25"/>
<polygon points="283.60,118.50 285.80,119.50 288.00,118.50 285.80,123.10" fill="#111"/>
<text transform="translate(289.20,94.55) rotate(-90)" text-anchor="middle" font-size="7.5" class="b">Fe II</text>
<line x1="326.0" y1="123.6" x2="326.0" y2="136.10" stroke="#111" stroke-width="1.25"/>
<polygon points="323.80,135.00 326.00,136.00 328.20,135.00 326.00,139.60" fill="#111"/>
<text transform="translate(328.50,114.00) rotate(-90)" text-anchor="middle" font-size="7.5" class="b">Cr I</text>
<line x1="342.8" y1="90.1" x2="342.8" y2="103.70" stroke="#111" stroke-width="1.25"/>
<polygon points="340.60,102.60 342.80,103.60 345.00,102.60 342.80,107.20" fill="#111"/>
<text transform="translate(345.20,78.90) rotate(-90)" text-anchor="middle" font-size="7.5" class="b">Na I</text>
<line x1="364.2" y1="139" x2="364.2" y2="152.10" stroke="#111" stroke-width="1.25"/>
<polygon points="362.00,151.00 364.20,152.00 366.40,151.00 364.20,155.60" fill="#111"/>
<text transform="translate(366.70,129.00) rotate(-90)" text-anchor="middle" font-size="7.5" class="b">Cl II</text>
<line x1="396.0" y1="83.3" x2="396.0" y2="97.10" stroke="#111" stroke-width="1.25"/>
<polygon points="393.80,96.00 396.00,97.00 398.20,96.00 396.00,100.60" fill="#111"/>
<text transform="translate(398.50,70.30) rotate(-90)" text-anchor="middle" font-size="7.5" class="b">Fe II</text>
<text transform="translate(417.10,45.50) rotate(-90)" text-anchor="middle" font-size="7.5" class="b">O V</text>
<line x1="467.4" y1="90.8" x2="467.4" y2="105.30" stroke="#111" stroke-width="1.25"/>
<polygon points="465.20,104.20 467.40,105.20 469.60,104.20 467.40,108.80" fill="#111"/>
<text transform="translate(469.90,81.45) rotate(-90)" text-anchor="middle" font-size="7.5" class="b">N I</text>
<text transform="translate(500.90,46.10) rotate(-90)" text-anchor="middle" font-size="7.5" class="b">O I</text>
<line x1="526.4" y1="92" x2="526.4" y2="106.00" stroke="#111" stroke-width="1.25"/>
<polygon points="524.20,104.90 526.40,105.90 528.60,104.90 526.40,109.50" fill="#111"/>
<text transform="translate(528.90,84.00) rotate(-90)" text-anchor="middle" font-size="7.5" class="b">N I</text>
<g fill="none" stroke-width="0.8" stroke-linejoin="round">
<path d="M41.6,352.6 41.9,352.8 42.3,352.5 42.6,353.0 42.9,352.6 43.2,353.0 43.6,352.5 43.9,352.9 44.2,352.5 44.6,352.7 44.9,352.8 45.2,352.7 45.6,352.6 45.9,352.9 46.2,352.9 46.5,352.4 46.9,352.8 47.2,353.0 47.5,353.0 47.9,352.8 48.2,352.7 48.5,353.1 48.9,352.6 49.2,352.8 49.5,352.8 49.9,352.3 50.2,352.2 50.5,352.3 50.8,352.5 51.2,352.5 51.5,353.0 51.8,352.9 52.2,352.7 52.5,353.1 52.8,352.6 53.1,352.5 53.5,352.8 53.8,352.7 54.1,352.8 54.5,352.9 54.8,352.9 55.1,352.4 55.5,352.8 55.8,352.9 56.1,352.5 56.5,352.6 56.8,352.5 57.1,352.4 57.4,352.7 57.8,352.7 58.1,352.9 58.4,352.4 58.8,352.6 59.1,352.8 59.4,352.7 59.8,352.4 60.1,352.3 60.4,352.5 60.7,352.3 61.1,352.5 61.4,352.6 61.7,352.4 62.1,352.6 62.4,352.5 62.7,352.5 63.0,352.7 63.4,352.4 63.7,352.2 64.0,352.1 64.3,351.0 64.4,351.2 64.5,350.6 64.7,351.0 64.7,350.8 65.0,352.2 65.4,352.3 65.7,352.3 66.0,352.6 66.3,352.2 66.7,352.6 67.0,352.6 67.3,352.7 67.7,352.5 68.0,352.6 68.3,352.4 68.7,352.2 69.0,351.9 69.3,351.5 69.7,351.1 70.0,350.6 70.3,350.1 70.6,349.7 71.0,349.0 71.3,348.4 71.3,348.6 71.5,348.5 71.6,348.5 71.7,348.2 72.0,349.0 72.3,349.7 72.6,349.8 73.0,350.5 73.3,351.4 73.6,351.4 73.9,352.0 74.3,352.0 74.6,352.0 74.9,352.4 75.3,352.1 75.6,352.7 75.9,352.8 76.2,352.6 76.6,352.8 76.9,352.4 77.2,352.6 77.6,352.5 77.9,351.4 78.2,346.3 78.3,343.2 78.5,342.3 78.6,342.2 78.7,343.6 78.9,348.6 79.2,352.6 79.5,353.0 79.9,352.5 80.2,352.6 80.5,352.6 80.9,352.9 81.2,352.5 81.5,353.1 81.9,352.7 82.2,352.8 82.5,352.4 82.8,352.8 83.2,352.6 83.5,352.6 83.8,352.3 84.2,352.8 84.5,352.9 84.8,353.0 85.2,352.6 85.5,352.6 85.8,352.6 86.2,352.6 86.5,352.9 86.8,351.5 87.1,348.9 87.5,345.4 87.5,345.4 87.6,344.9 87.8,345.4 87.8,346.0 88.1,349.4 88.5,352.0 88.8,352.2 89.1,352.0 89.5,350.2 89.8,347.8 89.8,347.9 90.0,347.3 90.1,347.6 90.2,347.6 90.4,349.9 90.8,351.9 91.1,352.3 91.4,352.4 91.8,352.5 92.1,352.8 92.4,352.8 92.8,352.4 93.1,352.4 93.4,352.5 93.7,352.6 94.1,352.7 94.4,352.5 94.7,352.6 95.1,352.6 95.4,353.0 95.7,352.9 96.0,353.2 96.4,352.7 96.7,352.9 97.0,352.7 97.4,352.8 97.7,352.4 98.0,352.2 98.4,352.6 98.7,352.7 99.0,352.4 99.3,352.2 99.7,350.8 99.8,350.0 100.0,349.8 100.0,349.3 100.2,349.8 100.3,351.1 100.7,352.1 101.0,352.1 101.3,352.5 101.7,352.9 102.0,353.0 102.3,352.7 102.7,352.9 103.0,351.4 103.3,340.8 103.5,334.4 103.6,331.1 103.6,331.5 103.8,334.2 104.0,343.9 104.3,351.5 104.6,352.2 105.0,352.6 105.3,352.7 105.6,352.5 106.0,352.5 106.3,352.7 106.6,352.4 106.9,352.4 107.3,350.8 107.5,349.4 107.6,348.4 107.8,349.4 107.9,350.4 108.3,352.3 108.6,352.6 108.9,352.0 109.2,352.3 109.6,352.0 109.9,352.4 110.2,352.4 110.6,352.8 110.9,352.7 111.2,353.0 111.6,352.9 111.9,353.0 112.2,352.6 112.5,352.3 112.9,352.5 113.2,352.2 113.5,352.4 113.9,352.1 114.2,352.3 114.5,352.5 114.9,352.6 115.2,352.1 115.5,352.1 115.8,352.3 116.2,352.7 116.5,352.4 116.8,352.6 117.2,352.7 117.5,352.6 117.8,352.9 118.2,352.7 118.5,352.8 118.8,352.9 119.2,352.8 119.5,352.5 119.8,352.7 120.1,352.6 120.5,352.5 120.8,350.7 120.8,350.6 121.0,350.4 121.1,350.6 121.2,350.7 121.5,351.9 121.8,352.3 122.1,352.5 122.5,352.6 122.8,352.6 123.1,352.7 123.4,352.5 123.8,352.4 124.1,352.5 124.4,352.9 124.8,352.8 125.1,352.8 125.4,352.4 125.8,352.4 126.1,352.7 126.4,352.5 126.7,350.9 126.8,350.7 127.0,349.9 127.1,350.5 127.2,350.6 127.4,352.1 127.7,352.8 128.1,352.4 128.4,352.5 128.7,352.7 129.1,352.4 129.4,352.3 129.7,352.5 130.0,352.4 130.4,352.2 130.7,350.9 131.0,347.5 131.4,341.5 131.7,333.2 131.9,329.1 132.0,328.6 132.1,328.1 132.2,328.7 132.3,330.7 132.7,337.3 133.0,345.1 133.3,339.4 133.7,331.6 133.8,329.1 134.0,328.3 134.2,329.3 134.3,331.8 134.7,339.4 135.0,346.2 135.3,350.4 135.7,351.8 136.0,352.8 136.3,352.9 136.6,353.0 137.0,353.1 137.3,352.9 137.6,352.9 138.0,352.6 138.3,352.4 138.6,352.9 138.9,353.0 139.3,353.0 139.6,352.5 139.9,352.4 140.3,352.8 140.6,352.4 140.9,352.6 141.3,352.7 141.6,352.6 141.9,352.7 142.2,352.7 142.6,352.5 142.9,352.7 143.2,353.2 143.6,353.1 143.9,352.5 144.2,353.0 144.6,352.6 144.9,353.1 145.2,353.2 145.6,353.1 145.9,353.1 146.2,353.1 146.5,352.8 146.9,352.4 147.2,352.4 147.5,352.8 147.9,352.8 148.2,353.1 148.5,352.6 148.8,353.0 149.2,352.8 149.5,352.9 149.8,352.5 150.2,352.5 150.5,352.5 150.8,352.8 151.2,352.8 151.5,352.8 151.8,352.8 152.2,352.5 152.5,352.6 152.8,353.0 153.1,352.9 153.5,352.7 153.8,352.9 154.1,352.8 154.5,352.7 154.8,352.8 155.1,352.4 155.4,352.8 155.8,352.7 156.1,352.5 156.4,352.6 156.8,352.5 157.1,353.1 157.4,353.2 157.8,352.8 158.1,353.0 158.4,352.5 158.8,352.8 159.1,353.0 159.4,352.7 159.7,352.3 160.1,352.6 160.4,352.2 160.7,352.6 161.1,352.5 161.4,352.5 161.7,352.5 162.1,352.1 162.4,352.6 162.7,352.5 163.0,352.6 163.4,352.1 163.7,352.2 164.0,352.5 164.4,352.5 164.7,350.8 164.8,349.4 165.0,349.1 165.0,349.1 165.2,349.7 165.3,351.5 165.7,352.7 166.0,352.5 166.3,353.0 166.7,353.0 167.0,352.7 167.3,352.4 167.7,352.9 168.0,352.7 168.3,352.5 168.7,353.1 169.0,352.7 169.3,352.4 169.6,352.5 170.0,352.7 170.3,352.2 170.6,352.3 171.0,352.1 171.3,352.1 171.6,352.3 171.9,352.2 172.3,352.4 172.6,352.6 172.9,352.7 173.3,352.7 173.6,352.7 173.9,352.2 174.3,352.5 174.6,352.3 174.9,352.4 175.2,352.4 175.6,352.5 175.9,352.7 176.2,351.8 176.6,350.0 176.8,348.8 176.9,348.4 177.0,348.8 177.2,348.5 177.2,348.8 177.6,350.9 177.9,352.2 178.2,352.6 178.6,352.2 178.9,352.5 179.2,352.7 179.5,352.3 179.9,352.4 180.2,352.3 180.5,352.4 180.9,352.3 181.2,352.1 181.5,351.7 181.8,351.5 182.2,351.4 182.5,351.3 182.8,351.7 183.2,351.4 183.5,351.1 183.8,351.2 184.2,350.8 184.5,350.8 184.8,350.7 185.2,350.2 185.5,349.8 185.8,349.6 186.1,348.8 186.5,348.9 186.8,348.2 187.1,347.6 187.5,347.1 187.8,346.1 187.8,346.3 188.0,345.0 188.1,346.0 188.2,345.3 188.4,347.1 188.8,349.3 189.1,351.5 189.4,352.4 189.8,352.7 190.1,352.6 190.4,353.0 190.8,352.5 191.1,352.7 191.4,352.1 191.8,347.5 192.1,307.5 192.3,246.7 192.4,237.7 192.5,232.7 192.7,246.4 192.7,265.3 193.1,332.4 193.4,351.1 193.7,352.1 194.1,352.1 194.4,352.5 194.7,349.1 195.1,321.6 195.3,269.2 195.4,265.2 195.5,258.1 195.7,269.4 195.7,278.5 196.0,333.9 196.4,351.3 196.7,352.7 197.0,353.0 197.4,353.0 197.7,351.7 197.8,350.8 198.0,350.0 198.0,350.4 198.2,350.4 198.3,351.7 198.7,352.5 199.0,353.0 199.3,352.6 199.7,352.7 200.0,352.9 200.3,352.8 200.7,352.6 201.0,352.5 201.3,352.6 201.7,352.3 202.0,352.3 202.3,352.3 202.6,352.4 203.0,352.5 203.3,352.5 203.6,352.7 204.0,351.5 204.2,348.3 204.3,348.0 204.4,347.7 204.6,348.6 204.6,349.3 204.9,352.4 205.3,352.9 205.6,352.7 205.9,352.5 206.3,352.8 206.6,352.7 206.9,352.6 207.3,353.0 207.6,352.5 207.9,352.6 208.2,352.9 208.6,352.6 208.9,352.8 209.2,352.3 209.6,352.6 209.9,352.7 210.2,352.6 210.6,352.5 210.9,352.6 211.2,352.8 211.6,352.9 211.9,353.2 212.2,352.7 212.5,353.1 212.9,353.2 213.2,352.9 213.5,352.7 213.9,352.9 214.2,353.1 214.5,352.6 214.8,352.2 215.2,342.9 215.4,325.0 215.5,322.1 215.6,320.6 215.8,325.4 215.8,331.0 216.2,349.0 216.5,352.5 216.8,352.8 217.2,352.9 217.5,352.6 217.8,352.7 218.2,352.4 218.5,352.2 218.8,352.7 219.1,352.3 219.5,352.1 219.8,352.3 220.1,352.4 220.5,352.6 220.8,352.3 221.1,352.2 221.4,351.9 221.8,348.4 221.8,347.5 222.0,346.4 222.1,347.2 222.2,347.4 222.4,350.9 222.8,352.7 223.1,352.4 223.4,352.6 223.8,352.7 224.1,352.8 224.4,352.9 224.8,352.6 225.1,352.8 225.4,352.8 225.7,352.5 226.1,352.9 226.4,352.5 226.7,352.5 227.1,352.6 227.4,352.8 227.7,352.6 228.1,352.3 228.4,352.3 228.7,352.7 229.0,352.5 229.4,352.8 229.7,352.4 230.0,352.6 230.4,352.3 230.7,352.3 231.0,352.4 231.3,352.4 231.7,352.7 232.0,352.5 232.3,352.5 232.7,352.8 233.0,352.5 233.3,349.8 233.6,346.6 233.7,345.2 233.7,345.2 233.8,346.7 234.0,348.7 234.3,352.2 234.7,352.6 235.0,353.0 235.3,352.5 235.6,352.9 236.0,352.9 236.3,352.7 236.6,352.8 237.0,352.5 237.3,352.6 237.6,352.3 237.9,352.6 238.3,352.3 238.6,352.3 238.9,352.7 239.3,352.5 239.6,352.2 239.9,352.6 240.3,352.4 240.6,352.3 240.9,352.0 241.2,351.7 241.6,351.9 241.9,351.8 242.2,351.4 242.6,351.6 242.9,351.6 243.2,351.6 243.6,351.5 243.9,351.1 244.2,350.7 244.6,350.3 244.9,349.8 245.2,349.7 245.5,349.2 245.9,348.8 246.2,347.9 246.5,347.3 246.8,347.1 246.9,347.5 247.0,347.1 247.2,347.4 247.2,347.2 247.5,347.7 247.8,348.3 248.2,348.9 248.5,349.4 248.8,349.8 249.2,350.3 249.5,350.4 249.8,350.7 250.2,351.2 250.5,351.5 250.8,351.8 251.2,351.7 251.5,351.8 251.8,351.8 252.1,351.5 252.5,351.8 252.8,351.8 253.1,351.8 253.5,352.0 253.8,352.1 254.1,351.8 254.4,351.8 254.8,352.2 255.1,352.5 255.4,352.6 255.8,352.5 256.1,352.4 256.4,352.4 256.8,352.1 257.1,352.4 257.4,352.7 257.8,352.6 258.1,352.6 258.4,352.3 258.7,352.6 259.1,352.4 259.4,352.3 259.7,352.1 260.1,352.1 260.4,352.4 260.7,352.1 261.1,352.3 261.4,352.3 261.7,352.2 262.0,352.5 262.4,352.4 262.7,352.2 263.0,352.3 263.4,352.4 263.7,352.1 264.0,352.3 264.4,352.2 264.7,352.7 265.0,352.3 265.3,352.5 265.7,352.2 266.0,352.1 266.3,352.7 266.7,352.6 267.0,352.4 267.3,352.7 267.6,352.4 268.0,352.4 268.3,352.6 268.6,352.6 269.0,352.6 269.3,352.1 269.6,352.4 270.0,352.5 270.3,352.4 270.6,352.2 270.9,352.6 271.3,352.6 271.6,352.1 271.9,352.3 272.3,352.5 272.6,352.3 272.9,352.1 273.3,351.6 273.6,351.8 273.9,351.1 274.2,350.7 274.6,350.5 274.9,349.7 275.2,348.3 275.6,346.3 275.9,344.1 276.2,341.4 276.4,341.8 276.6,341.1 276.6,341.0 276.8,340.8 276.9,341.5 277.2,343.7 277.6,346.0 277.9,347.6 278.2,349.0 278.5,350.2 278.9,350.9 279.2,351.1 279.5,351.1 279.9,351.6 280.2,351.6 280.5,352.2 280.9,352.3 281.2,352.1 281.5,352.5 281.8,352.4 282.2,352.6 282.5,352.3 282.8,352.6 283.2,352.3 283.5,352.8 283.8,352.4 284.1,352.7 284.5,352.4 284.8,352.3 285.1,352.3 285.5,352.4 285.8,352.8 286.1,352.7 286.5,352.5 286.8,353.0 287.1,352.8 287.4,352.5 287.8,352.7 288.1,352.9 288.4,352.6 288.8,352.5 289.1,352.8 289.4,352.9 289.8,353.0 290.1,352.9 290.4,352.7 290.8,352.7 291.1,352.4 291.4,352.8 291.7,352.9 292.1,352.3 292.4,352.1 292.7,352.2 293.1,352.2 293.4,352.4 293.7,352.2 294.1,352.1 294.4,352.3 294.7,352.5 295.0,352.4 295.4,352.4 295.7,352.5 296.0,352.6 296.4,352.8 296.7,352.6 297.0,352.9 297.4,352.7 297.7,352.9 298.0,352.6 298.3,352.8 298.7,352.0 299.0,352.2 299.3,352.5 299.7,352.8 300.0,352.4 300.3,352.4 300.6,352.6 301.0,353.0 301.3,352.3 301.6,352.2 302.0,352.7 302.3,352.4 302.6,352.8 303.0,352.3 303.3,352.6 303.6,352.4 303.9,352.6 304.3,352.6 304.6,352.5 304.9,352.5 305.3,352.9 305.6,352.5 305.9,352.5 306.3,352.4 306.6,352.8 306.9,352.5 307.2,352.8 307.6,352.6 307.9,352.5 308.2,352.8 308.6,352.8 308.9,352.5 309.2,352.7 309.6,352.7 309.9,352.5 310.2,352.7 310.6,352.7 310.9,352.6 311.2,353.0 311.5,352.7 311.9,353.0 312.2,352.9 312.5,352.5 312.9,352.5 313.2,352.7 313.5,352.6 313.9,352.7 314.2,352.5 314.5,352.7 314.8,352.7 315.2,352.7 315.5,352.7 315.8,352.7 316.2,352.4 316.5,352.9 316.8,352.5 317.1,352.6 317.5,352.5 317.8,352.7 318.1,352.4 318.5,352.4 318.8,352.6 319.1,352.5 319.5,352.4 319.8,352.9 320.1,352.4 320.4,352.6 320.8,352.8 321.1,352.8 321.4,352.6 321.8,352.6 322.1,352.4 322.4,352.8 322.8,352.4 323.1,353.0 323.4,352.5 323.8,352.5 324.1,352.3 324.4,352.4 324.7,352.4 325.1,352.5 325.4,352.1 325.7,352.0 326.1,352.1 326.4,352.5 326.7,352.0 327.1,352.0 327.4,352.2 327.7,352.0 328.0,351.5 328.4,351.4 328.7,350.4 329.0,349.8 329.4,349.0 329.6,348.6 329.7,348.6 329.7,348.8 329.9,348.5 330.0,349.0 330.4,349.5 330.7,350.7 331.0,351.2 331.3,351.3 331.7,351.7 332.0,351.8 332.3,352.2 332.7,351.8 333.0,351.9 333.3,352.5 333.6,352.4 334.0,352.4 334.3,352.9 334.6,352.9 335.0,352.5 335.3,352.8 335.6,352.6 336.0,352.3 336.3,352.4 336.6,352.2 336.9,352.3 337.3,352.1 337.6,352.6 337.9,352.1 338.3,352.2 338.6,352.6 338.9,352.5 339.3,352.4 339.6,352.1 339.9,352.1 340.2,352.4 340.6,352.3 340.9,352.0 341.2,352.1 341.6,352.3 341.9,352.4 342.2,352.6 342.6,352.4 342.9,352.7 343.2,352.7 343.6,352.3 343.9,352.4 344.2,353.0 344.5,352.8 344.9,352.9 345.2,353.1 345.5,352.4 345.9,352.5 346.2,348.6 346.5,332.5 346.6,331.4 346.7,327.5 346.9,331.5 347.2,347.5 347.5,352.0 347.8,352.6 348.2,352.5 348.5,352.5 348.8,353.0 349.2,352.5 349.5,352.8 349.8,352.7 350.1,352.8 350.5,352.8 350.8,352.6 351.1,352.7 351.5,352.4 351.8,352.7 352.1,352.6 352.5,352.2 352.8,352.2 353.1,352.7 353.4,352.7 353.8,352.9 354.1,352.7 354.4,352.5 354.8,353.1 355.1,352.7 355.4,352.8 355.8,352.5 356.1,352.6 356.4,352.9 356.8,352.6 357.1,352.4 357.4,352.7 357.7,352.5 358.1,352.7 358.4,352.5 358.7,352.9 359.1,353.0 359.4,352.7 359.7,352.7 360.1,352.6 360.4,352.5 360.7,352.4 361.0,352.4 361.4,352.5 361.7,352.6 362.0,352.3 362.4,352.1 362.7,352.4 363.0,351.8 363.4,350.6 363.6,348.9 363.7,348.3 363.7,348.3 363.9,348.9 364.0,350.7 364.3,352.5 364.7,352.7 365.0,352.6 365.3,353.0 365.7,352.7 366.0,352.9 366.3,352.6 366.6,352.4 367.0,352.4 367.3,351.2 367.6,346.5 367.6,346.8 367.8,346.0 367.9,347.1 368.0,347.2 368.3,351.7 368.6,353.0 369.0,352.7 369.3,352.9 369.6,352.3 369.9,352.1 370.3,352.5 370.6,352.5 370.9,352.1 371.3,352.2 371.6,352.5 371.9,352.7 372.3,352.8 372.6,352.7 372.9,352.7 373.2,353.1 373.6,353.2 373.9,352.7 374.2,353.1 374.6,353.1 374.9,353.0 375.2,352.7 375.6,352.6 375.9,352.8 376.2,352.8 376.6,352.5 376.9,352.3 377.2,352.3 377.5,352.4 377.9,352.6 378.2,352.4 378.5,352.5 378.9,352.5 379.2,352.4 379.5,352.4 379.9,352.2 380.2,352.4 380.5,352.8 380.8,352.9 381.2,352.4 381.5,352.6 381.8,352.6 382.2,352.3 382.5,352.4 382.8,352.3 383.1,352.1 383.5,352.2 383.8,352.1 384.1,352.4 384.5,352.5 384.8,352.4 385.1,352.7 385.5,352.5 385.8,352.4 386.1,352.5 386.4,352.6 386.8,352.4 387.1,352.5 387.4,352.3 387.8,352.1 388.1,352.4 388.4,352.1 388.8,351.4 389.1,347.6 389.1,347.0 389.3,346.1 389.4,346.6 389.4,346.8 389.8,350.7 390.1,352.2 390.4,352.2 390.7,352.2 391.1,352.4 391.4,349.6 391.6,347.9 391.7,347.3 391.7,346.8 391.9,347.9 392.1,350.2 392.4,352.0 392.7,351.8 393.1,351.8 393.4,351.8 393.7,351.8 394.0,352.2 394.4,352.1 394.7,351.5 395.0,351.8 395.4,351.6 395.7,351.4 396.0,351.0 396.4,351.2 396.7,350.6 397.0,350.0 397.3,349.9 397.7,349.2 398.0,348.2 398.3,346.9 398.7,346.5 399.0,344.9 399.3,344.2 399.6,342.6 399.9,342.3 400.0,342.4 400.1,342.5 400.2,342.4 400.3,341.9 400.6,342.7 401.0,344.2 401.3,345.3 401.6,347.1 402.0,347.6 402.3,348.3 402.6,348.7 402.9,349.4 403.3,349.9 403.6,350.4 403.9,350.5 404.3,350.4 404.6,350.7 404.9,351.3 405.3,351.2 405.6,351.3 405.9,351.5 406.2,351.9 406.6,351.4 406.9,352.1 407.2,351.9 407.6,352.0 407.9,352.1 408.2,352.2 408.6,352.2 408.9,352.2 409.2,352.0 409.6,352.1 409.9,352.7 410.2,352.1 410.5,351.4 410.9,347.4 410.9,347.4 411.0,347.0 411.1,347.6 411.2,348.3 411.5,351.5 411.9,352.4 412.2,352.0 412.5,352.4 412.9,352.3 413.2,352.6 413.5,352.7 413.8,352.8 414.2,352.4 414.5,352.7 414.8,352.9 415.2,352.6 415.5,352.4 415.8,352.9 416.1,352.8 416.5,352.6 416.8,352.6 417.1,352.7 417.5,352.5 417.8,352.6 418.1,352.6 418.5,352.5 418.8,352.8 419.1,352.6 419.4,352.7 419.8,352.7 420.1,352.2 420.4,352.5 420.8,352.2 421.1,352.4 421.4,352.7 421.8,353.0 422.1,352.9 422.4,353.0 422.8,352.5 423.1,352.7 423.4,352.6 423.7,352.5 424.1,352.8 424.4,352.5 424.7,352.6 425.1,352.6 425.4,352.6 425.7,352.6 426.1,352.7 426.4,352.8 426.7,352.5 427.0,352.3 427.4,352.5 427.7,352.3 428.0,352.3 428.4,352.3 428.7,352.4 429.0,352.2 429.4,352.6 429.7,352.3 430.0,352.3 430.3,352.7 430.7,352.6 431.0,352.7 431.3,352.7 431.7,352.6 432.0,352.6 432.3,352.8 432.6,352.5 433.0,352.5 433.3,353.0 433.6,352.6 434.0,352.5 434.3,352.3 434.6,352.6 435.0,352.6 435.3,352.8 435.6,352.7 435.9,352.9 436.3,353.0 436.6,352.9 436.9,352.5 437.3,352.8 437.6,352.6 437.9,352.6 438.3,352.5 438.6,352.5 438.9,353.0 439.2,352.7 439.6,352.8 439.9,352.6 440.2,353.0 440.6,352.8 440.9,352.3 441.2,352.4 441.6,352.5 441.9,352.3 442.2,352.4 442.6,352.5 442.9,352.8 443.2,352.9 443.5,352.8 443.9,352.7 444.2,352.9 444.5,353.0 444.9,352.6 445.2,350.7 445.4,349.1 445.5,348.6 445.5,348.3 445.6,348.9 445.9,350.8 446.2,352.9 446.5,353.1 446.8,352.5 447.2,352.8 447.5,352.8 447.8,353.0 448.2,353.1 448.5,352.9 448.8,352.5 449.1,353.0 449.5,352.6 449.8,352.3 450.1,352.4 450.5,352.7 450.8,352.9 451.1,352.7 451.5,352.8 451.8,352.3 452.1,352.6 452.4,352.9 452.8,352.6 453.1,352.4 453.4,352.7 453.8,352.6 454.1,352.7 454.4,352.6 454.8,352.8 455.1,352.8 455.4,353.0 455.8,352.7 456.1,352.9 456.4,353.0 456.7,353.0 457.1,352.7 457.4,352.7 457.7,352.5 458.1,352.4 458.4,352.6 458.7,352.5 459.1,352.9 459.4,352.9 459.7,353.0 460.0,352.5 460.4,352.7 460.7,352.8 461.0,352.7 461.4,352.4 461.7,352.2 462.0,352.4 462.4,352.3 462.7,352.5 463.0,352.7 463.3,352.6 463.7,352.6 464.0,352.7 464.3,352.8 464.7,353.0 465.0,352.6 465.3,352.4 465.6,352.6 466.0,352.6 466.3,352.3 466.6,352.3 467.0,352.6 467.3,351.3 467.6,348.7 467.9,345.1 468.0,345.0 468.1,344.3 468.2,345.0 468.3,345.0 468.6,348.6 468.9,351.1 469.3,350.6 469.6,349.6 469.9,348.8 470.3,346.5 470.6,343.5 470.9,339.1 471.1,337.8 471.2,337.0 471.3,337.4 471.4,337.5 471.6,340.8 471.9,345.3 472.2,348.1 472.6,349.3 472.9,349.9 473.2,350.8 473.6,351.1 473.9,351.6 474.2,352.0 474.6,352.1 474.9,352.0 475.2,352.5 475.6,352.4 475.9,352.2 476.2,352.2 476.5,352.3 476.9,352.5 477.2,352.4 477.5,352.1 477.9,352.7 478.2,352.3 478.5,352.8 478.9,352.2 479.2,352.6 479.5,352.6 479.8,352.2 480.2,352.3 480.5,352.3 480.8,352.3 481.2,352.3 481.5,352.3 481.8,352.2 482.1,352.4 482.5,352.3 482.8,352.3 483.1,352.6 483.5,352.4 483.8,352.7 484.1,352.5 484.5,352.7 484.8,352.8 485.1,352.5 485.4,352.9 485.8,352.3 486.1,351.8 486.4,347.3 486.4,346.8 486.6,346.2 486.8,347.0 486.8,347.1 487.1,351.7 487.4,352.7 487.8,352.2 488.1,352.6 488.4,350.6 488.6,347.8 488.8,347.2 488.8,346.8 488.9,347.4 489.1,349.3 489.4,352.2 489.7,352.2 490.1,352.1 490.4,352.2 490.7,352.0 491.1,351.8 491.4,351.6 491.7,351.1 492.1,351.0 492.4,350.4 492.7,349.7 493.0,349.2 493.4,347.6 493.7,345.7 494.0,341.6 494.4,334.5 494.7,321.9 494.9,315.9 495.0,313.4 495.0,313.5 495.1,315.7 495.4,323.5 495.7,335.4 496.0,342.2 496.3,345.8 496.7,347.8 497.0,349.3 497.3,349.7 497.7,350.5 498.0,351.2 498.3,351.3 498.6,351.4 499.0,351.9 499.3,351.9 499.6,351.8 500.0,351.5 500.3,351.6 500.6,352.0 501.0,352.0 501.3,352.2 501.6,352.5 501.9,352.6 502.3,352.4 502.6,352.5 502.9,352.6 503.3,352.7 503.6,352.2 503.9,352.6 504.3,352.4 504.6,352.4 504.9,352.8 505.2,352.4 505.6,352.5 505.9,352.8 506.2,352.4 506.6,352.6 506.9,352.2 507.2,352.4 507.6,352.7 507.9,352.5 508.2,352.4 508.6,352.3 508.9,351.0 509.1,350.0 509.2,349.6 509.2,349.4 509.4,350.1 509.5,351.2 509.9,352.4 510.2,352.3 510.5,352.2 510.9,352.1 511.2,352.0 511.5,352.5 511.9,352.1 512.2,352.0 512.5,351.9 512.8,352.2 513.2,352.6 513.5,352.5 513.8,352.4 514.2,352.5 514.5,352.3 514.8,352.4 515.1,352.7 515.5,352.4 515.8,352.5 516.1,352.8 516.5,352.6 516.8,352.5 517.1,352.8 517.5,352.4 517.8,352.9 518.1,352.6 518.5,352.5 518.8,352.3 519.1,352.5 519.4,352.4 519.8,352.5 520.1,352.6 520.4,352.7 520.8,352.2 521.1,352.8 521.4,352.3 521.8,352.2 522.1,352.7 522.4,352.7 522.7,352.3 523.1,352.3 523.4,352.6 523.7,352.6 524.1,352.6 524.4,352.4 524.7,352.1 525.0,351.9 525.4,352.4 525.7,351.9 526.0,351.8 526.4,351.8 526.7,351.5 527.0,350.8 527.4,347.5 527.6,344.3 527.7,344.1 527.8,344.2 528.0,344.6 528.0,345.2 528.4,349.4 528.7,349.1 529.0,347.7 529.3,344.6 529.7,339.7 529.9,338.3 530.0,337.4 530.1,337.9 530.3,339.7 530.7,344.1 531.0,347.6 531.3,349.1 531.6,349.9 532.0,350.5 532.3,351.3 532.6,351.6 533.0,351.7 533.3,352.1 533.6,351.9 534.0,351.9 534.3,352.1 534.6,352.2 535.0,352.3 535.3,352.6 535.6,352.5 535.9,352.7 536.3,352.9 536.6,352.7 536.9,352.7 537.3,352.6 537.6,352.7 537.9,352.7 538.2,352.4 538.6,352.2 538.9,352.7 539.2,352.7 539.6,352.9 539.9,352.4 540.2,352.8 540.6,352.9 540.9,352.7 541.2,352.9 541.5,352.7 541.9,352.6 542.2,352.6 542.5,352.5 542.9,352.6 543.2,352.4 543.5,352.3" stroke="#f01010" stroke-opacity="0.65"/>
<path d="M41.6,352.7 41.9,352.1 42.3,352.0 42.6,352.6 42.9,352.1 43.2,351.9 43.6,352.4 43.9,352.3 44.2,352.7 44.6,352.4 44.9,352.9 45.2,352.4 45.6,352.7 45.9,352.8 46.2,352.7 46.5,353.0 46.9,352.7 47.2,352.3 47.5,352.8 47.9,352.6 48.2,352.4 48.5,352.3 48.9,352.7 49.2,352.7 49.5,352.9 49.9,352.9 50.2,353.0 50.5,352.9 50.8,352.9 51.2,352.7 51.5,352.4 51.8,352.7 52.2,352.3 52.5,352.7 52.8,352.6 53.1,352.6 53.5,352.4 53.8,352.9 54.1,352.8 54.5,352.4 54.8,352.3 55.1,352.5 55.5,352.2 55.8,352.5 56.1,352.3 56.5,352.3 56.8,352.2 57.1,352.3 57.4,352.6 57.8,352.3 58.1,352.3 58.4,352.4 58.8,352.1 59.1,352.4 59.4,352.5 59.8,352.4 60.1,352.7 60.4,352.7 60.7,352.6 61.1,353.2 61.4,352.7 61.7,352.8 62.1,352.6 62.4,352.9 62.7,353.0 63.0,352.6 63.4,352.5 63.7,352.2 64.0,352.1 64.3,350.5 64.4,350.6 64.5,350.1 64.7,350.4 64.7,350.7 65.0,352.0 65.4,352.1 65.7,352.5 66.0,352.7 66.3,352.6 66.7,352.4 67.0,352.5 67.3,352.0 67.7,352.2 68.0,352.4 68.3,352.3 68.7,351.8 69.0,351.7 69.3,351.2 69.7,350.5 70.0,350.2 70.3,349.6 70.6,348.8 71.0,348.3 71.3,347.7 71.3,347.7 71.5,347.5 71.6,347.8 71.7,348.0 72.0,348.1 72.3,348.7 72.6,349.1 73.0,350.0 73.3,350.6 73.6,351.0 73.9,351.1 74.3,351.8 74.6,351.9 74.9,351.9 75.3,351.9 75.6,352.6 75.9,352.4 76.2,352.2 76.6,352.4 76.9,352.4 77.2,352.9 77.6,352.5 77.9,351.6 78.2,345.2 78.3,342.6 78.5,340.6 78.6,341.0 78.7,342.7 78.9,348.8 79.2,352.5 79.5,352.4 79.9,352.6 80.2,353.0 80.5,352.6 80.9,352.6 81.2,352.7 81.5,352.6 81.9,352.8 82.2,352.7 82.5,352.3 82.8,352.1 83.2,352.0 83.5,352.0 83.8,352.0 84.2,352.3 84.5,352.1 84.8,352.6 85.2,352.6 85.5,352.4 85.8,352.6 86.2,352.7 86.5,352.2 86.8,351.3 87.1,347.8 87.5,344.7 87.5,343.9 87.6,343.8 87.8,344.5 87.8,344.9 88.1,348.6 88.5,351.6 88.8,352.0 89.1,351.9 89.5,350.4 89.8,347.7 89.8,346.7 90.0,346.4 90.1,346.8 90.2,346.7 90.4,349.3 90.8,351.8 91.1,352.3 91.4,352.3 91.8,352.7 92.1,352.5 92.4,352.4 92.8,352.4 93.1,352.3 93.4,352.8 93.7,352.7 94.1,352.7 94.4,352.8 94.7,352.9 95.1,352.4 95.4,352.6 95.7,352.8 96.0,352.6 96.4,352.4 96.7,352.5 97.0,352.2 97.4,352.2 97.7,352.2 98.0,352.3 98.4,352.3 98.7,352.6 99.0,352.9 99.3,352.1 99.7,350.8 99.8,349.7 100.0,349.1 100.0,348.9 100.2,349.4 100.3,350.4 100.7,352.4 101.0,352.5 101.3,352.6 101.7,352.6 102.0,352.2 102.3,352.3 102.7,352.2 103.0,350.8 103.3,339.2 103.5,332.1 103.6,328.4 103.6,328.9 103.8,332.2 104.0,343.1 104.3,352.1 104.6,352.9 105.0,352.7 105.3,352.9 105.6,352.8 106.0,352.6 106.3,352.4 106.6,352.3 106.9,351.9 107.3,350.0 107.5,348.8 107.6,347.7 107.8,348.2 107.9,350.2 108.3,352.0 108.6,352.5 108.9,352.4 109.2,352.2 109.6,352.4 109.9,352.4 110.2,352.4 110.6,352.6 110.9,352.4 111.2,352.7 111.6,353.0 111.9,353.0 112.2,352.6 112.5,352.3 112.9,352.9 113.2,352.6 113.5,352.4 113.9,352.3 114.2,352.4 114.5,352.5 114.9,352.4 115.2,352.3 115.5,352.8 115.8,352.6 116.2,352.1 116.5,352.3 116.8,352.4 117.2,352.2 117.5,351.9 117.8,352.1 118.2,352.3 118.5,352.6 118.8,352.5 119.2,352.6 119.5,352.6 119.8,352.3 120.1,352.8 120.5,352.4 120.8,350.8 120.8,350.4 121.0,349.9 121.1,350.0 121.2,350.0 121.5,351.4 121.8,352.3 122.1,352.6 122.5,352.2 122.8,352.4 123.1,352.6 123.4,352.6 123.8,352.4 124.1,353.0 124.4,352.8 124.8,352.6 125.1,352.5 125.4,352.8 125.8,352.9 126.1,352.5 126.4,352.1 126.7,350.6 126.8,349.8 127.0,349.4 127.1,349.8 127.2,349.8 127.4,351.4 127.7,352.0 128.1,352.5 128.4,352.5 128.7,352.1 129.1,352.3 129.4,352.4 129.7,352.3 130.0,352.3 130.4,351.6 130.7,350.4 131.0,346.6 131.4,339.6 131.7,330.5 131.9,326.1 132.0,325.4 132.1,325.1 132.2,325.9 132.3,327.1 132.7,335.6 133.0,343.7 133.3,337.7 133.7,328.8 133.8,326.1 134.0,325.0 134.2,326.2 134.3,329.2 134.7,337.6 135.0,345.3 135.3,350.1 135.7,352.1 136.0,352.3 136.3,352.3 136.6,352.4 137.0,352.6 137.3,352.3 137.6,352.9 138.0,352.4 138.3,352.2 138.6,352.2 138.9,352.4 139.3,352.4 139.6,352.3 139.9,352.3 140.3,352.6 140.6,352.4 140.9,352.7 141.3,352.6 141.6,352.7 141.9,352.5 142.2,352.3 142.6,352.3 142.9,352.8 143.2,352.3 143.6,352.3 143.9,352.2 144.2,352.7 144.6,352.5 144.9,352.7 145.2,352.4 145.6,352.2 145.9,352.2 146.2,352.5 146.5,352.3 146.9,352.7 147.2,352.5 147.5,352.2 147.9,352.5 148.2,352.6 148.5,352.2 148.8,352.6 149.2,352.7 149.5,352.3 149.8,352.6 150.2,352.4 150.5,352.4 150.8,352.3 151.2,352.9 151.5,352.9 151.8,352.8 152.2,352.7 152.5,352.6 152.8,352.8 153.1,352.8 153.5,352.4 153.8,352.3 154.1,352.5 154.5,352.6 154.8,352.1 155.1,352.3 155.4,352.7 155.8,352.5 156.1,353.0 156.4,352.7 156.8,353.2 157.1,353.0 157.4,352.7 157.8,352.5 158.1,352.4 158.4,352.4 158.8,352.6 159.1,352.4 159.4,352.3 159.7,352.2 160.1,352.4 160.4,352.5 160.7,352.4 161.1,352.2 161.4,352.5 161.7,352.4 162.1,352.4 162.4,352.5 162.7,352.5 163.0,352.8 163.4,352.5 163.7,352.8 164.0,352.6 164.4,351.9 164.7,350.7 164.8,349.3 165.0,348.6 165.0,348.8 165.2,349.1 165.3,350.4 165.7,352.1 166.0,352.3 166.3,352.7 166.7,352.7 167.0,352.3 167.3,352.5 167.7,352.3 168.0,352.2 168.3,352.2 168.7,352.1 169.0,352.1 169.3,352.4 169.6,352.2 170.0,352.7 170.3,352.5 170.6,352.4 171.0,352.7 171.3,352.4 171.6,352.4 171.9,352.2 172.3,352.3 172.6,352.4 172.9,352.8 173.3,352.4 173.6,352.5 173.9,352.4 174.3,352.3 174.6,352.5 174.9,352.4 175.2,352.6 175.6,352.2 175.9,352.1 176.2,351.4 176.6,349.7 176.8,348.3 176.9,348.1 177.0,347.7 177.2,348.0 177.2,348.6 177.6,351.0 177.9,352.1 178.2,352.4 178.6,352.6 178.9,352.1 179.2,352.4 179.5,352.4 179.9,352.3 180.2,352.1 180.5,352.0 180.9,352.0 181.2,351.6 181.5,351.7 181.8,351.6 182.2,351.6 182.5,351.4 182.8,351.4 183.2,351.1 183.5,351.3 183.8,350.9 184.2,351.0 184.5,350.4 184.8,350.0 185.2,349.6 185.5,349.6 185.8,349.2 186.1,348.6 186.5,347.6 186.8,346.9 187.1,345.8 187.5,345.3 187.8,344.8 187.8,344.5 188.0,343.4 188.1,344.4 188.2,344.2 188.4,345.9 188.8,348.7 189.1,350.8 189.4,352.0 189.8,352.1 190.1,352.2 190.4,352.5 190.8,352.1 191.1,352.2 191.4,352.3 191.8,346.9 192.1,302.2 192.3,233.5 192.4,223.7 192.5,217.7 192.7,233.4 192.7,254.4 193.1,330.5 193.4,351.3 193.7,352.3 194.1,352.3 194.4,352.5 194.7,349.3 195.1,318.3 195.3,258.8 195.4,254.5 195.5,246.3 195.7,258.8 195.7,269.2 196.0,331.8 196.4,351.2 196.7,352.4 197.0,352.6 197.4,352.3 197.7,351.1 197.8,350.5 198.0,349.9 198.0,349.9 198.2,350.4 198.3,351.3 198.7,352.6 199.0,352.9 199.3,352.9 199.7,352.9 200.0,353.1 200.3,352.9 200.7,352.6 201.0,352.7 201.3,352.5 201.7,352.7 202.0,352.3 202.3,352.3 202.6,352.1 203.0,352.3 203.3,352.3 203.6,352.1 204.0,351.1 204.2,347.7 204.3,347.5 204.4,347.0 204.6,347.8 204.6,348.5 204.9,351.4 205.3,352.4 205.6,352.6 205.9,352.6 206.3,352.6 206.6,352.0 206.9,352.5 207.3,352.3 207.6,352.4 207.9,352.7 208.2,352.5 208.6,352.5 208.9,352.3 209.2,352.2 209.6,352.4 209.9,352.4 210.2,352.6 210.6,352.2 210.9,352.2 211.2,352.2 211.6,352.7 211.9,352.8 212.2,352.7 212.5,352.6 212.9,352.3 213.2,352.7 213.5,352.3 213.9,352.2 214.2,352.3 214.5,352.5 214.8,351.5 215.2,341.9 215.4,321.4 215.5,318.6 215.6,316.5 215.8,321.8 215.8,328.3 216.2,348.7 216.5,352.1 216.8,352.6 217.2,352.6 217.5,352.7 217.8,352.4 218.2,352.7 218.5,352.6 218.8,352.5 219.1,352.5 219.5,352.8 219.8,352.7 220.1,352.6 220.5,352.5 220.8,352.4 221.1,352.3 221.4,351.4 221.8,347.5 221.8,346.6 222.0,345.7 222.1,346.5 222.2,347.0 222.4,350.9 222.8,352.8 223.1,352.8 223.4,352.4 223.8,352.6 224.1,352.6 224.4,352.7 224.8,352.6 225.1,352.4 225.4,352.5 225.7,352.6 226.1,352.6 226.4,352.4 226.7,352.2 227.1,352.0 227.4,352.2 227.7,352.4 228.1,352.1 228.4,352.4 228.7,352.4 229.0,352.3 229.4,352.1 229.7,351.9 230.0,351.9 230.4,352.1 230.7,352.4 231.0,352.2 231.3,352.6 231.7,352.5 232.0,352.5 232.3,352.3 232.7,352.2 233.0,352.2 233.3,349.0 233.6,345.1 233.7,344.5 233.7,344.2 233.8,345.3 234.0,347.8 234.3,351.8 234.7,352.6 235.0,352.6 235.3,352.3 235.6,352.4 236.0,352.4 236.3,352.2 236.6,352.2 237.0,352.3 237.3,352.3 237.6,352.0 237.9,352.3 238.3,352.3 238.6,352.5 238.9,352.5 239.3,352.5 239.6,352.5 239.9,352.1 240.3,352.2 240.6,352.0 240.9,352.3 241.2,351.8 241.6,351.9 241.9,352.0 242.2,351.7 242.6,351.3 242.9,351.4 243.2,351.2 243.6,351.1 243.9,351.2 244.2,350.7 244.6,350.5 244.9,350.1 245.2,349.3 245.5,348.5 245.9,348.0 246.2,347.6 246.5,346.4 246.8,346.5 246.9,346.0 247.0,346.8 247.2,347.0 247.2,347.1 247.5,347.0 247.8,348.3 248.2,348.0 248.5,349.2 248.8,349.5 249.2,350.0 249.5,349.6 249.8,349.8 250.2,350.6 250.5,350.5 250.8,351.0 251.2,351.2 251.5,351.7 251.8,351.8 252.1,351.9 252.5,351.8 252.8,351.9 253.1,351.8 253.5,351.9 253.8,352.0 254.1,352.3 254.4,352.4 254.8,352.2 255.1,352.4 255.4,352.4 255.8,352.0 256.1,352.5 256.4,352.6 256.8,352.2 257.1,352.4 257.4,352.5 257.8,352.4 258.1,352.3 258.4,351.9 258.7,352.0 259.1,352.4 259.4,352.2 259.7,352.2 260.1,352.3 260.4,352.2 260.7,352.4 261.1,352.4 261.4,352.6 261.7,352.6 262.0,352.2 262.4,352.5 262.7,352.6 263.0,352.6 263.4,352.4 263.7,352.5 264.0,352.3 264.4,352.4 264.7,352.4 265.0,352.5 265.3,352.5 265.7,351.9 266.0,352.3 266.3,352.2 266.7,352.2 267.0,352.1 267.3,352.7 267.6,352.8 268.0,352.6 268.3,352.6 268.6,352.3 269.0,352.7 269.3,352.6 269.6,352.2 270.0,352.4 270.3,352.7 270.6,352.1 270.9,352.2 271.3,352.0 271.6,352.0 271.9,351.7 272.3,351.8 272.6,351.4 272.9,351.6 273.3,351.2 273.6,351.4 273.9,351.0 274.2,350.7 274.6,349.6 274.9,349.4 275.2,348.1 275.6,346.6 275.9,343.4 276.2,340.8 276.4,338.5 276.6,338.2 276.6,339.1 276.8,339.6 276.9,340.4 277.2,342.4 277.6,345.5 277.9,347.3 278.2,349.0 278.5,349.6 278.9,350.5 279.2,350.9 279.5,350.9 279.9,351.6 280.2,351.8 280.5,351.9 280.9,352.0 281.2,352.0 281.5,352.1 281.8,351.9 282.2,352.4 282.5,352.5 282.8,352.2 283.2,352.4 283.5,352.8 283.8,352.8 284.1,352.2 284.5,352.1 284.8,352.4 285.1,352.2 285.5,352.5 285.8,352.3 286.1,352.5 286.5,352.0 286.8,352.5 287.1,352.3 287.4,352.3 287.8,352.4 288.1,352.3 288.4,352.2 288.8,352.4 289.1,352.2 289.4,352.2 289.8,352.3 290.1,352.5 290.4,352.3 290.8,352.6 291.1,352.6 291.4,352.1 291.7,352.6 292.1,352.6 292.4,352.4 292.7,352.4 293.1,352.7 293.4,352.6 293.7,352.5 294.1,352.8 294.4,352.5 294.7,352.5 295.0,352.4 295.4,352.5 295.7,352.7 296.0,352.4 296.4,352.3 296.7,352.5 297.0,352.6 297.4,352.5 297.7,352.4 298.0,352.5 298.3,352.9 298.7,352.9 299.0,352.8 299.3,352.6 299.7,352.8 300.0,352.4 300.3,352.7 300.6,352.6 301.0,352.9 301.3,352.8 301.6,352.8 302.0,352.8 302.3,352.8 302.6,352.7 303.0,352.4 303.3,352.7 303.6,352.7 303.9,352.9 304.3,352.4 304.6,352.8 304.9,352.7 305.3,352.4 305.6,352.3 305.9,352.4 306.3,352.3 306.6,352.2 306.9,352.2 307.2,352.0 307.6,352.1 307.9,352.0 308.2,352.3 308.6,352.2 308.9,351.9 309.2,352.2 309.6,352.0 309.9,352.3 310.2,352.5 310.6,352.5 310.9,352.1 311.2,352.4 311.5,352.2 311.9,352.4 312.2,352.4 312.5,352.3 312.9,352.5 313.2,352.2 313.5,352.3 313.9,352.1 314.2,352.2 314.5,352.4 314.8,352.1 315.2,352.5 315.5,352.2 315.8,352.1 316.2,352.5 316.5,352.0 316.8,352.1 317.1,352.5 317.5,352.1 317.8,352.6 318.1,352.5 318.5,352.9 318.8,352.6 319.1,352.9 319.5,353.0 319.8,352.7 320.1,352.4 320.4,352.4 320.8,352.6 321.1,352.1 321.4,352.4 321.8,352.4 322.1,352.4 322.4,352.3 322.8,352.7 323.1,352.2 323.4,352.3 323.8,352.3 324.1,352.4 324.4,352.2 324.7,352.2 325.1,352.2 325.4,352.4 325.7,351.9 326.1,352.0 326.4,351.9 326.7,352.3 327.1,352.2 327.4,351.7 327.7,351.9 328.0,351.7 328.4,351.1 328.7,350.5 329.0,349.6 329.4,348.8 329.6,347.8 329.7,348.3 329.7,347.8 329.9,347.7 330.0,348.5 330.4,349.2 330.7,350.3 331.0,350.8 331.3,351.2 331.7,351.4 332.0,352.0 332.3,352.4 332.7,351.9 333.0,351.8 333.3,352.2 333.6,352.4 334.0,352.0 334.3,352.0 334.6,352.4 335.0,352.5 335.3,352.4 335.6,352.8 336.0,352.8 336.3,353.1 336.6,352.7 336.9,352.6 337.3,352.7 337.6,352.6 337.9,352.6 338.3,352.7 338.6,352.5 338.9,352.1 339.3,352.5 339.6,352.6 339.9,352.8 340.2,352.4 340.6,352.1 340.9,352.4 341.2,352.3 341.6,352.4 341.9,352.3 342.2,352.7 342.6,352.3 342.9,352.7 343.2,352.9 343.6,352.7 343.9,352.4 344.2,352.6 344.5,352.6 344.9,352.5 345.2,352.5 345.5,352.5 345.9,352.0 346.2,347.4 346.5,330.1 346.6,328.5 346.7,324.8 346.9,328.6 347.2,346.8 347.5,352.0 347.8,352.6 348.2,352.7 348.5,352.6 348.8,352.5 349.2,352.4 349.5,352.2 349.8,352.3 350.1,352.2 350.5,352.2 350.8,352.3 351.1,352.2 351.5,352.6 351.8,352.6 352.1,352.7 352.5,352.3 352.8,352.5 353.1,352.6 353.4,352.5 353.8,352.6 354.1,352.9 354.4,352.4 354.8,352.5 355.1,352.1 355.4,352.3 355.8,352.3 356.1,352.6 356.4,352.7 356.8,352.8 357.1,352.7 357.4,352.9 357.7,353.0 358.1,352.8 358.4,352.5 358.7,352.5 359.1,352.7 359.4,352.6 359.7,352.3 360.1,352.4 360.4,352.3 360.7,352.1 361.0,352.4 361.4,352.4 361.7,352.1 362.0,352.4 362.4,352.7 362.7,352.4 363.0,352.3 363.4,350.4 363.6,348.4 363.7,347.9 363.7,347.8 363.9,348.6 364.0,350.5 364.3,352.2 364.7,352.8 365.0,352.6 365.3,352.6 365.7,352.5 366.0,352.3 366.3,352.6 366.6,352.5 367.0,352.2 367.3,350.9 367.6,345.8 367.6,345.8 367.8,344.6 367.9,345.7 368.0,346.0 368.3,351.3 368.6,352.4 369.0,352.5 369.3,352.4 369.6,351.9 369.9,352.2 370.3,352.3 370.6,352.3 370.9,352.4 371.3,352.4 371.6,352.4 371.9,352.2 372.3,352.1 372.6,352.4 372.9,352.1 373.2,352.3 373.6,352.2 373.9,352.3 374.2,352.6 374.6,352.4 374.9,352.7 375.2,352.6 375.6,352.8 375.9,352.7 376.2,352.8 376.6,352.5 376.9,352.5 377.2,352.8 377.5,352.6 377.9,352.4 378.2,352.7 378.5,352.7 378.9,352.5 379.2,352.0 379.5,352.6 379.9,352.2 380.2,352.2 380.5,352.5 380.8,352.5 381.2,352.5 381.5,352.6 381.8,352.6 382.2,352.6 382.5,352.7 382.8,352.4 383.1,352.4 383.5,352.3 383.8,352.1 384.1,352.5 384.5,352.6 384.8,352.2 385.1,352.5 385.5,352.5 385.8,352.6 386.1,352.2 386.4,352.4 386.8,352.4 387.1,352.3 387.4,352.5 387.8,352.0 388.1,352.3 388.4,352.5 388.8,351.6 389.1,347.1 389.1,346.7 389.3,345.8 389.4,346.6 389.4,346.9 389.8,351.1 390.1,352.0 390.4,352.1 390.7,352.2 391.1,351.9 391.4,348.9 391.6,346.5 391.7,345.8 391.7,345.7 391.9,346.7 392.1,349.7 392.4,351.4 392.7,351.4 393.1,351.2 393.4,351.3 393.7,351.4 394.0,351.2 394.4,351.1 394.7,351.0 395.0,350.9 395.4,350.8 395.7,350.7 396.0,350.0 396.4,350.3 396.7,349.8 397.0,349.7 397.3,349.0 397.7,348.5 398.0,347.5 398.3,345.8 398.7,345.4 399.0,342.8 399.3,341.7 399.6,342.0 399.9,341.3 400.0,340.6 400.1,339.7 400.2,340.7 400.3,341.1 400.6,341.7 401.0,343.3 401.3,344.5 401.6,345.1 402.0,346.7 402.3,348.3 402.6,348.4 402.9,349.3 403.3,349.8 403.6,349.8 403.9,350.9 404.3,350.5 404.6,350.9 404.9,350.9 405.3,351.3 405.6,351.3 405.9,351.8 406.2,351.6 406.6,352.0 406.9,352.0 407.2,351.5 407.6,351.6 407.9,351.7 408.2,352.0 408.6,352.1 408.9,352.2 409.2,352.3 409.6,352.2 409.9,352.1 410.2,352.3 410.5,351.1 410.9,347.1 410.9,346.8 411.0,345.9 411.1,346.5 411.2,347.4 411.5,351.5 411.9,352.4 412.2,352.3 412.5,352.5 412.9,352.5 413.2,352.4 413.5,352.8 413.8,352.6 414.2,352.6 414.5,352.6 414.8,352.6 415.2,352.7 415.5,352.8 415.8,352.5 416.1,352.5 416.5,352.4 416.8,352.6 417.1,352.5 417.5,352.3 417.8,352.2 418.1,352.4 418.5,352.5 418.8,352.1 419.1,352.3 419.4,352.2 419.8,352.5 420.1,352.3 420.4,351.9 420.8,352.6 421.1,352.2 421.4,352.1 421.8,352.0 422.1,352.1 422.4,352.3 422.8,352.3 423.1,352.7 423.4,352.3 423.7,352.5 424.1,352.7 424.4,352.5 424.7,352.4 425.1,352.5 425.4,352.5 425.7,352.6 426.1,352.6 426.4,352.5 426.7,352.6 427.0,352.7 427.4,352.6 427.7,352.3 428.0,352.0 428.4,351.9 428.7,352.0 429.0,352.4 429.4,352.5 429.7,352.4 430.0,352.0 430.3,352.1 430.7,352.0 431.0,352.2 431.3,352.4 431.7,352.0 432.0,352.3 432.3,352.2 432.6,352.2 433.0,352.3 433.3,352.1 433.6,352.4 434.0,352.7 434.3,352.5 434.6,352.9 435.0,352.5 435.3,352.6 435.6,352.8 435.9,352.5 436.3,352.4 436.6,352.5 436.9,352.3 437.3,352.0 437.6,351.9 437.9,352.0 438.3,352.0 438.6,352.0 438.9,352.4 439.2,352.7 439.6,352.5 439.9,352.3 440.2,352.3 440.6,352.6 440.9,352.2 441.2,352.3 441.6,351.8 441.9,352.3 442.2,352.3 442.6,352.1 442.9,352.4 443.2,352.3 443.5,352.5 443.9,352.4 444.2,352.5 444.5,352.4 444.9,352.4 445.2,350.1 445.4,348.0 445.5,347.7 445.5,347.3 445.6,348.4 445.9,350.6 446.2,352.7 446.5,352.7 446.8,352.6 447.2,352.5 447.5,352.4 447.8,352.5 448.2,352.6 448.5,352.7 448.8,352.4 449.1,352.8 449.5,352.4 449.8,352.4 450.1,352.4 450.5,352.6 450.8,352.8 451.1,352.4 451.5,352.9 451.8,352.5 452.1,352.5 452.4,352.2 452.8,352.8 453.1,352.5 453.4,352.4 453.8,352.6 454.1,352.4 454.4,352.8 454.8,352.9 455.1,352.4 455.4,352.4 455.8,352.5 456.1,352.5 456.4,352.8 456.7,352.9 457.1,352.6 457.4,352.8 457.7,352.8 458.1,352.8 458.4,352.3 458.7,352.6 459.1,352.1 459.4,352.6 459.7,352.0 460.0,352.3 460.4,352.1 460.7,352.4 461.0,352.1 461.4,352.5 461.7,352.2 462.0,352.7 462.4,352.6 462.7,352.4 463.0,352.4 463.3,352.9 463.7,352.3 464.0,352.2 464.3,352.6 464.7,352.5 465.0,352.4 465.3,352.2 465.6,352.2 466.0,352.2 466.3,352.2 466.6,351.9 467.0,351.7 467.3,351.3 467.6,347.9 467.9,344.0 468.0,343.6 468.1,343.3 468.2,344.3 468.3,344.2 468.6,348.5 468.9,351.2 469.3,350.8 469.6,350.2 469.9,348.7 470.3,346.2 470.6,342.7 470.9,337.4 471.1,335.8 471.2,334.9 471.3,335.3 471.4,336.0 471.6,339.3 471.9,344.4 472.2,347.1 472.6,349.0 472.9,350.7 473.2,350.8 473.6,351.2 473.9,351.8 474.2,351.8 474.6,352.0 474.9,351.8 475.2,352.3 475.6,351.9 475.9,352.3 476.2,352.2 476.5,352.3 476.9,352.0 477.2,352.7 477.5,352.1 477.9,352.7 478.2,352.3 478.5,352.5 478.9,352.6 479.2,352.6 479.5,352.3 479.8,352.8 480.2,352.3 480.5,352.3 480.8,352.6 481.2,352.4 481.5,352.4 481.8,352.6 482.1,352.5 482.5,352.3 482.8,352.7 483.1,352.6 483.5,352.1 483.8,352.4 484.1,352.8 484.5,352.6 484.8,352.5 485.1,352.6 485.4,352.9 485.8,352.5 486.1,351.6 486.4,346.6 486.4,346.5 486.6,345.2 486.8,345.9 486.8,346.3 487.1,351.3 487.4,352.0 487.8,352.3 488.1,352.1 488.4,350.0 488.6,347.0 488.8,346.2 488.8,345.9 488.9,346.7 489.1,348.4 489.4,351.9 489.7,351.9 490.1,352.0 490.4,351.7 490.7,351.5 491.1,351.6 491.4,351.6 491.7,351.2 492.1,350.6 492.4,350.5 492.7,349.6 493.0,348.8 493.4,347.3 493.7,344.8 494.0,340.4 494.4,332.0 494.7,318.1 494.9,311.3 495.0,308.9 495.0,309.0 495.1,311.2 495.4,319.9 495.7,333.6 496.0,341.1 496.3,345.3 496.7,347.6 497.0,348.7 497.3,349.7 497.7,350.1 498.0,350.7 498.3,351.2 498.6,351.5 499.0,351.7 499.3,351.7 499.6,351.8 500.0,351.8 500.3,352.1 500.6,351.6 501.0,351.9 501.3,352.4 501.6,352.5 501.9,352.6 502.3,352.7 502.6,352.2 502.9,352.3 503.3,352.7 503.6,352.3 503.9,352.4 504.3,352.2 504.6,352.0 504.9,352.5 505.2,352.4 505.6,352.4 505.9,352.4 506.2,352.1 506.6,352.3 506.9,352.4 507.2,352.2 507.6,352.4 507.9,352.2 508.2,352.4 508.6,352.6 508.9,350.6 509.1,349.8 509.2,349.0 509.2,349.1 509.4,349.3 509.5,350.6 509.9,352.6 510.2,352.4 510.5,352.5 510.9,352.6 511.2,352.5 511.5,352.5 511.9,352.4 512.2,352.3 512.5,352.7 512.8,352.4 513.2,352.3 513.5,352.5 513.8,352.2 514.2,351.9 514.5,352.3 514.8,352.0 515.1,352.0 515.5,352.4 515.8,352.2 516.1,352.3 516.5,352.5 516.8,352.4 517.1,352.3 517.5,352.2 517.8,352.2 518.1,352.2 518.5,352.5 518.8,352.3 519.1,352.4 519.4,352.2 519.8,352.1 520.1,352.7 520.4,352.4 520.8,352.4 521.1,352.4 521.4,351.9 521.8,352.3 522.1,352.4 522.4,352.0 522.7,352.4 523.1,352.6 523.4,352.2 523.7,352.7 524.1,352.2 524.4,352.6 524.7,352.6 525.0,352.1 525.4,352.2 525.7,351.8 526.0,352.2 526.4,351.8 526.7,351.7 527.0,350.9 527.4,347.1 527.6,343.6 527.7,343.0 527.8,342.5 528.0,343.2 528.0,344.0 528.4,348.7 528.7,348.5 529.0,346.5 529.3,343.3 529.7,337.9 529.9,335.8 530.0,334.7 530.1,335.6 530.3,338.4 530.7,343.4 531.0,346.6 531.3,349.1 531.6,349.6 532.0,350.7 532.3,351.1 532.6,351.3 533.0,351.4 533.3,351.3 533.6,351.8 534.0,352.1 534.3,352.2 534.6,352.2 535.0,352.0 535.3,352.2 535.6,352.0 535.9,352.3 536.3,352.4 536.6,352.7 536.9,352.4 537.3,352.3 537.6,352.6 537.9,352.6 538.2,352.2 538.6,352.5 538.9,352.2 539.2,352.6 539.6,352.7 539.9,352.3 540.2,352.6 540.6,352.9 540.9,353.0 541.2,352.4 541.5,352.5 541.9,352.2 542.2,352.7 542.5,352.5 542.9,352.1 543.2,352.3 543.5,352.0" stroke="#e81010" stroke-opacity="0.65"/>
<path d="M41.6,352.1 41.9,352.4 42.3,352.3 42.6,352.2 42.9,352.1 43.2,352.4 43.6,352.5 43.9,352.3 44.2,352.3 44.6,352.3 44.9,352.1 45.2,352.2 45.6,352.4 45.9,352.1 46.2,352.6 46.5,352.3 46.9,352.3 47.2,352.2 47.5,352.9 47.9,352.6 48.2,352.6 48.5,352.2 48.9,351.9 49.2,352.1 49.5,352.2 49.9,352.0 50.2,352.6 50.5,352.3 50.8,352.2 51.2,352.4 51.5,351.9 51.8,352.2 52.2,351.9 52.5,351.9 52.8,351.7 53.1,351.8 53.5,351.6 53.8,351.6 54.1,352.2 54.5,351.9 54.8,352.2 55.1,352.0 55.5,352.6 55.8,352.7 56.1,352.6 56.5,352.5 56.8,352.3 57.1,352.3 57.4,351.9 57.8,352.0 58.1,352.2 58.4,351.8 58.8,352.2 59.1,352.3 59.4,352.2 59.8,352.2 60.1,352.2 60.4,352.2 60.7,352.6 61.1,352.4 61.4,352.1 61.7,352.1 62.1,352.5 62.4,352.7 62.7,352.3 63.0,352.3 63.4,352.4 63.7,352.4 64.0,351.5 64.3,350.5 64.4,350.3 64.5,350.1 64.7,350.2 64.7,350.5 65.0,352.1 65.4,352.7 65.7,352.3 66.0,352.4 66.3,352.2 66.7,352.0 67.0,351.8 67.3,352.2 67.7,352.2 68.0,351.9 68.3,352.1 68.7,351.9 69.0,351.6 69.3,351.2 69.7,350.2 70.0,349.7 70.3,349.0 70.6,347.5 71.0,347.5 71.3,347.1 71.3,347.1 71.5,347.1 71.6,347.5 71.7,347.2 72.0,347.1 72.3,348.5 72.6,348.8 73.0,349.1 73.3,350.0 73.6,350.5 73.9,351.1 74.3,351.4 74.6,351.6 74.9,351.8 75.3,351.8 75.6,352.0 75.9,352.3 76.2,352.4 76.6,352.4 76.9,352.4 77.2,352.3 77.6,352.7 77.9,351.3 78.2,344.4 78.3,340.6 78.5,338.8 78.6,339.4 78.7,340.9 78.9,347.6 79.2,351.6 79.5,351.9 79.9,351.9 80.2,352.1 80.5,351.8 80.9,352.1 81.2,352.0 81.5,352.3 81.9,352.0 82.2,352.4 82.5,352.5 82.8,351.8 83.2,352.0 83.5,352.0 83.8,352.2 84.2,352.0 84.5,351.9 84.8,352.1 85.2,352.5 85.5,352.5 85.8,352.1 86.2,351.9 86.5,351.9 86.8,350.5 87.1,347.3 87.5,343.0 87.5,343.3 87.6,342.6 87.8,343.0 87.8,343.8 88.1,348.0 88.5,351.0 88.8,351.8 89.1,351.4 89.5,349.4 89.8,346.2 89.8,345.8 90.0,345.4 90.1,345.3 90.2,345.8 90.4,348.4 90.8,351.0 91.1,352.0 91.4,351.7 91.8,351.9 92.1,351.7 92.4,352.2 92.8,351.9 93.1,352.3 93.4,351.9 93.7,352.4 94.1,352.1 94.4,352.0 94.7,352.1 95.1,352.0 95.4,352.5 95.7,352.2 96.0,352.2 96.4,352.3 96.7,352.4 97.0,352.0 97.4,352.3 97.7,352.2 98.0,352.4 98.4,352.6 98.7,352.2 99.0,352.5 99.3,352.2 99.7,350.6 99.8,348.8 100.0,348.6 100.0,348.6 100.2,348.7 100.3,350.1 100.7,352.1 101.0,351.8 101.3,351.8 101.7,351.9 102.0,352.4 102.3,352.4 102.7,352.2 103.0,350.4 103.3,337.0 103.5,329.5 103.6,325.5 103.6,325.9 103.8,329.4 104.0,341.9 104.3,351.4 104.6,352.0 105.0,352.4 105.3,352.2 105.6,352.4 106.0,352.4 106.3,352.3 106.6,352.0 106.9,351.7 107.3,349.7 107.5,348.0 107.6,347.6 107.8,348.4 107.9,349.7 108.3,352.0 108.6,352.2 108.9,352.4 109.2,352.5 109.6,352.3 109.9,352.3 110.2,352.4 110.6,352.5 110.9,352.7 111.2,352.4 111.6,352.2 111.9,351.9 112.2,352.3 112.5,351.9 112.9,352.0 113.2,352.0 113.5,352.1 113.9,352.3 114.2,351.7 114.5,352.0 114.9,352.1 115.2,352.1 115.5,351.9 115.8,352.3 116.2,352.0 116.5,352.1 116.8,352.3 117.2,352.2 117.5,352.2 117.8,352.1 118.2,352.6 118.5,352.5 118.8,352.2 119.2,352.3 119.5,352.5 119.8,352.3 120.1,352.0 120.5,352.0 120.8,349.8 120.8,349.7 121.0,349.6 121.1,349.6 121.2,350.0 121.5,351.3 121.8,352.0 122.1,351.9 122.5,351.8 122.8,352.2 123.1,351.9 123.4,352.0 123.8,352.2 124.1,352.1 124.4,352.1 124.8,352.3 125.1,352.3 125.4,352.2 125.8,352.6 126.1,352.1 126.4,352.1 126.7,350.4 126.8,349.6 127.0,348.7 127.1,349.1 127.2,349.1 127.4,351.2 127.7,352.4 128.1,352.1 128.4,351.9 128.7,352.2 129.1,351.9 129.4,352.0 129.7,352.1 130.0,352.4 130.4,351.6 130.7,350.0 131.0,346.4 131.4,338.3 131.7,328.1 131.9,322.4 132.0,321.6 132.1,321.5 132.2,322.4 132.3,323.7 132.7,333.0 133.0,342.5 133.3,335.6 133.7,326.1 133.8,322.2 134.0,321.7 134.2,322.4 134.3,326.4 134.7,335.8 135.0,344.6 135.3,349.3 135.7,351.4 136.0,352.3 136.3,352.1 136.6,352.1 137.0,352.0 137.3,352.2 137.6,351.9 138.0,351.9 138.3,352.0 138.6,352.0 138.9,352.1 139.3,352.3 139.6,351.7 139.9,351.7 140.3,351.9 140.6,351.9 140.9,351.8 141.3,351.8 141.6,351.7 141.9,351.7 142.2,352.1 142.6,352.3 142.9,352.5 143.2,352.1 143.6,352.2 143.9,352.6 144.2,352.5 144.6,352.4 144.9,352.5 145.2,352.3 145.6,352.3 145.9,351.8 146.2,352.3 146.5,351.9 146.9,351.6 147.2,351.8 147.5,352.0 147.9,351.9 148.2,351.8 148.5,352.2 148.8,352.1 149.2,352.0 149.5,352.5 149.8,352.6 150.2,352.7 150.5,352.4 150.8,352.0 151.2,352.3 151.5,352.4 151.8,352.2 152.2,352.4 152.5,352.4 152.8,352.2 153.1,352.5 153.5,352.6 153.8,352.4 154.1,351.9 154.5,352.2 154.8,352.5 155.1,352.4 155.4,352.6 155.8,352.5 156.1,352.3 156.4,352.7 156.8,352.4 157.1,352.5 157.4,352.2 157.8,352.6 158.1,352.3 158.4,352.5 158.8,352.5 159.1,352.5 159.4,352.2 159.7,351.9 160.1,352.1 160.4,352.0 160.7,352.1 161.1,352.3 161.4,352.1 161.7,352.1 162.1,352.1 162.4,352.3 162.7,352.5 163.0,352.3 163.4,352.6 163.7,352.3 164.0,352.2 164.4,352.4 164.7,350.4 164.8,349.0 165.0,348.1 165.0,347.8 165.2,348.5 165.3,350.3 165.7,352.0 166.0,352.1 166.3,352.2 166.7,352.1 167.0,352.0 167.3,352.1 167.7,351.9 168.0,352.0 168.3,351.9 168.7,352.1 169.0,352.1 169.3,351.9 169.6,352.3 170.0,352.4 170.3,352.6 170.6,352.6 171.0,352.5 171.3,352.7 171.6,352.3 171.9,352.2 172.3,351.9 172.6,352.3 172.9,352.1 173.3,352.1 173.6,352.4 173.9,352.0 174.3,352.1 174.6,352.4 174.9,352.4 175.2,352.2 175.6,352.0 175.9,352.1 176.2,351.6 176.6,349.3 176.8,347.4 176.9,347.2 177.0,347.3 177.2,347.6 177.2,348.1 177.6,350.7 177.9,352.1 178.2,352.1 178.6,351.9 178.9,352.1 179.2,352.0 179.5,352.1 179.9,351.6 180.2,352.1 180.5,352.0 180.9,351.6 181.2,351.6 181.5,351.7 181.8,351.2 182.2,351.4 182.5,350.9 182.8,350.9 183.2,350.3 183.5,350.0 183.8,350.0 184.2,349.9 184.5,349.9 184.8,349.3 185.2,349.4 185.5,348.8 185.8,348.5 186.1,347.6 186.5,347.3 186.8,346.6 187.1,345.6 187.5,344.6 187.8,344.2 187.8,343.7 188.0,343.8 188.1,343.9 188.2,344.2 188.4,346.1 188.8,348.7 189.1,350.9 189.4,351.8 189.8,352.5 190.1,352.4 190.4,352.4 190.8,352.3 191.1,352.1 191.4,351.7 191.8,345.7 192.1,296.0 192.3,219.7 192.4,208.7 192.5,202.1 192.7,220.1 192.7,243.0 193.1,327.7 193.4,350.6 193.7,352.2 194.1,352.5 194.4,352.4 194.7,348.2 195.1,314.1 195.3,247.9 195.4,243.5 195.5,234.0 195.7,247.9 195.7,259.6 196.0,328.7 196.4,350.5 196.7,352.1 197.0,352.3 197.4,352.3 197.7,350.4 197.8,349.2 198.0,349.0 198.0,348.7 198.2,349.5 198.3,351.0 198.7,351.9 199.0,352.3 199.3,352.2 199.7,351.9 200.0,352.0 200.3,352.1 200.7,351.9 201.0,352.1 201.3,352.3 201.7,352.5 202.0,352.4 202.3,352.5 202.6,352.1 203.0,352.2 203.3,352.3 203.6,352.5 204.0,350.5 204.2,347.1 204.3,346.4 204.4,346.1 204.6,347.3 204.6,348.0 204.9,351.7 205.3,352.2 205.6,352.6 205.9,352.0 206.3,352.4 206.6,352.2 206.9,352.1 207.3,351.9 207.6,351.6 207.9,351.8 208.2,352.0 208.6,352.1 208.9,352.0 209.2,352.3 209.6,351.9 209.9,352.2 210.2,352.0 210.6,352.1 210.9,352.5 211.2,352.5 211.6,352.2 211.9,352.3 212.2,352.1 212.5,352.3 212.9,352.1 213.2,351.9 213.5,352.1 213.9,352.4 214.2,352.0 214.5,352.1 214.8,351.3 215.2,340.2 215.4,317.7 215.5,313.9 215.6,311.7 215.8,317.7 215.8,325.0 216.2,347.8 216.5,351.9 216.8,352.5 217.2,352.3 217.5,352.1 217.8,352.0 218.2,352.1 218.5,352.4 218.8,352.1 219.1,352.3 219.5,352.0 219.8,352.3 220.1,352.0 220.5,352.3 220.8,352.3 221.1,352.2 221.4,351.2 221.8,347.2 221.8,346.3 222.0,345.2 222.1,345.5 222.2,345.8 222.4,350.3 222.8,352.0 223.1,351.5 223.4,351.9 223.8,352.1 224.1,352.2 224.4,352.4 224.8,352.4 225.1,352.1 225.4,352.6 225.7,352.3 226.1,352.2 226.4,352.4 226.7,351.9 227.1,351.9 227.4,352.1 227.7,351.9 228.1,351.9 228.4,352.3 228.7,352.3 229.0,352.5 229.4,352.5 229.7,352.5 230.0,352.4 230.4,352.3 230.7,352.3 231.0,352.1 231.3,352.1 231.7,352.0 232.0,352.3 232.3,352.0 232.7,351.9 233.0,352.0 233.3,348.4 233.6,344.0 233.7,342.9 233.7,342.6 233.8,344.0 234.0,347.0 234.3,351.7 234.7,352.4 235.0,351.9 235.3,352.4 235.6,352.1 236.0,352.2 236.3,351.9 236.6,351.7 237.0,351.9 237.3,351.8 237.6,351.6 237.9,351.9 238.3,351.4 238.6,351.7 238.9,352.1 239.3,352.1 239.6,352.2 239.9,351.8 240.3,351.8 240.6,351.6 240.9,351.7 241.2,351.7 241.6,351.4 241.9,351.3 242.2,351.6 242.6,351.0 242.9,351.1 243.2,351.2 243.6,350.5 243.9,350.4 244.2,349.7 244.6,349.4 244.9,349.0 245.2,348.8 245.5,347.7 245.9,347.1 246.2,346.7 246.5,345.7 246.8,345.2 246.9,345.7 247.0,345.6 247.2,346.1 247.2,345.7 247.5,345.5 247.8,346.5 248.2,346.7 248.5,348.3 248.8,348.5 249.2,349.0 249.5,349.1 249.8,349.7 250.2,350.1 250.5,350.4 250.8,350.7 251.2,350.9 251.5,350.9 251.8,351.1 252.1,351.1 252.5,351.3 252.8,351.7 253.1,351.8 253.5,351.3 253.8,351.8 254.1,351.9 254.4,351.7 254.8,351.9 255.1,351.9 255.4,351.4 255.8,351.7 256.1,351.9 256.4,351.8 256.8,351.9 257.1,351.4 257.4,351.8 257.8,351.7 258.1,352.0 258.4,351.7 258.7,352.0 259.1,351.7 259.4,352.2 259.7,352.3 260.1,351.8 260.4,352.0 260.7,351.7 261.1,351.9 261.4,351.9 261.7,351.6 262.0,351.9 262.4,352.1 262.7,351.8 263.0,351.9 263.4,351.8 263.7,352.0 264.0,352.0 264.4,352.1 264.7,352.2 265.0,351.8 265.3,352.0 265.7,352.4 266.0,352.1 266.3,352.0 266.7,352.4 267.0,351.9 267.3,352.1 267.6,352.0 268.0,351.8 268.3,351.8 268.6,351.7 269.0,351.4 269.3,351.8 269.6,351.4 270.0,351.5 270.3,351.5 270.6,351.5 270.9,351.7 271.3,351.7 271.6,351.9 271.9,351.8 272.3,351.5 272.6,351.6 272.9,351.3 273.3,350.9 273.6,350.8 273.9,350.7 274.2,350.2 274.6,349.7 274.9,348.8 275.2,347.7 275.6,345.1 275.9,342.7 276.2,338.9 276.4,336.7 276.6,336.7 276.6,336.4 276.8,337.8 276.9,337.1 277.2,340.7 277.6,344.8 277.9,347.1 278.2,348.0 278.5,349.1 278.9,350.1 279.2,350.2 279.5,350.8 279.9,350.6 280.2,350.8 280.5,351.5 280.9,351.1 281.2,351.4 281.5,351.7 281.8,351.6 282.2,351.8 282.5,352.0 282.8,351.8 283.2,351.6 283.5,351.7 283.8,351.8 284.1,352.0 284.5,351.9 284.8,351.8 285.1,352.1 285.5,351.9 285.8,351.7 286.1,351.7 286.5,351.9 286.8,351.9 287.1,352.2 287.4,352.4 287.8,352.4 288.1,352.4 288.4,352.5 288.8,352.3 289.1,352.3 289.4,352.5 289.8,351.9 290.1,352.2 290.4,352.0 290.8,351.9 291.1,352.0 291.4,351.9 291.7,352.2 292.1,352.4 292.4,351.8 292.7,351.9 293.1,352.0 293.4,352.3 293.7,352.0 294.1,352.3 294.4,352.0 294.7,352.4 295.0,352.5 295.4,352.5 295.7,352.2 296.0,352.7 296.4,352.7 296.7,352.4 297.0,352.6 297.4,352.4 297.7,352.1 298.0,352.2 298.3,352.4 298.7,352.2 299.0,351.9 299.3,351.9 299.7,352.1 300.0,352.2 300.3,352.2 300.6,352.1 301.0,352.1 301.3,352.6 301.6,352.2 302.0,352.3 302.3,352.2 302.6,352.3 303.0,352.1 303.3,351.9 303.6,351.9 303.9,351.8 304.3,352.1 304.6,352.2 304.9,352.1 305.3,352.2 305.6,352.2 305.9,352.0 306.3,352.3 306.6,352.1 306.9,352.4 307.2,352.6 307.6,352.4 307.9,352.2 308.2,352.3 308.6,352.5 308.9,352.3 309.2,352.1 309.6,352.2 309.9,352.3 310.2,352.5 310.6,352.4 310.9,352.5 311.2,352.6 311.5,352.4 311.9,352.6 312.2,352.3 312.5,352.8 312.9,352.7 313.2,352.4 313.5,352.4 313.9,352.2 314.2,352.4 314.5,352.1 314.8,352.2 315.2,352.3 315.5,352.2 315.8,352.0 316.2,352.0 316.5,352.4 316.8,352.4 317.1,352.1 317.5,352.0 317.8,352.2 318.1,352.3 318.5,352.0 318.8,352.1 319.1,352.4 319.5,351.8 319.8,351.9 320.1,352.3 320.4,352.3 320.8,352.3 321.1,352.0 321.4,352.1 321.8,352.2 322.1,351.8 322.4,351.6 322.8,351.7 323.1,352.0 323.4,351.6 323.8,351.8 324.1,352.1 324.4,351.8 324.7,352.2 325.1,352.0 325.4,352.3 325.7,352.0 326.1,352.0 326.4,352.2 326.7,352.0 327.1,351.6 327.4,351.7 327.7,351.2 328.0,351.5 328.4,350.7 328.7,349.9 329.0,349.0 329.4,348.1 329.6,347.4 329.7,347.5 329.7,346.9 329.9,347.8 330.0,347.2 330.4,348.4 330.7,349.4 331.0,350.5 331.3,351.0 331.7,351.5 332.0,351.2 332.3,351.2 332.7,351.6 333.0,351.4 333.3,351.9 333.6,351.9 334.0,351.7 334.3,351.7 334.6,351.6 335.0,351.8 335.3,351.8 335.6,351.8 336.0,352.0 336.3,352.1 336.6,352.2 336.9,351.8 337.3,352.2 337.6,351.9 337.9,352.4 338.3,352.0 338.6,352.1 338.9,352.1 339.3,352.3 339.6,352.3 339.9,352.5 340.2,352.4 340.6,352.3 340.9,352.5 341.2,352.0 341.6,352.5 341.9,352.2 342.2,352.3 342.6,351.9 342.9,352.1 343.2,352.0 343.6,352.0 343.9,352.0 344.2,352.3 344.5,352.1 344.9,352.1 345.2,352.3 345.5,352.2 345.9,351.5 346.2,346.9 346.5,327.3 346.6,325.7 346.7,321.0 346.9,325.5 347.2,345.9 347.5,351.7 347.8,352.2 348.2,352.2 348.5,352.4 348.8,352.0 349.2,352.3 349.5,352.1 349.8,352.0 350.1,352.0 350.5,352.2 350.8,352.1 351.1,352.3 351.5,351.9 351.8,352.2 352.1,352.3 352.5,352.3 352.8,352.6 353.1,352.2 353.4,352.2 353.8,351.9 354.1,352.1 354.4,352.0 354.8,351.6 355.1,352.0 355.4,351.8 355.8,351.6 356.1,352.2 356.4,352.2 356.8,352.0 357.1,352.4 357.4,352.0 357.7,352.2 358.1,352.4 358.4,352.7 358.7,352.3 359.1,352.4 359.4,352.3 359.7,352.6 360.1,352.1 360.4,352.5 360.7,352.1 361.0,352.3 361.4,352.5 361.7,352.0 362.0,352.3 362.4,352.5 362.7,352.4 363.0,352.0 363.4,350.4 363.6,347.9 363.7,347.1 363.7,346.9 363.9,348.0 364.0,349.7 364.3,352.2 364.7,352.1 365.0,352.5 365.3,352.4 365.7,352.4 366.0,352.6 366.3,352.3 366.6,352.3 367.0,352.4 367.3,350.5 367.6,345.3 367.6,345.0 367.8,343.4 367.9,344.9 368.0,345.3 368.3,350.9 368.6,352.0 369.0,351.9 369.3,352.2 369.6,351.8 369.9,351.6 370.3,351.8 370.6,351.9 370.9,351.9 371.3,351.6 371.6,352.0 371.9,352.3 372.3,352.2 372.6,352.1 372.9,352.4 373.2,352.4 373.6,352.5 373.9,352.2 374.2,352.3 374.6,352.0 374.9,352.3 375.2,352.2 375.6,352.1 375.9,352.0 376.2,352.1 376.6,352.1 376.9,351.9 377.2,352.4 377.5,352.2 377.9,352.3 378.2,352.2 378.5,352.0 378.9,352.3 379.2,352.0 379.5,352.2 379.9,351.8 380.2,351.9 380.5,352.1 380.8,352.3 381.2,352.0 381.5,352.3 381.8,352.0 382.2,352.3 382.5,352.4 382.8,352.3 383.1,351.8 383.5,352.1 383.8,351.6 384.1,351.9 384.5,351.7 384.8,352.0 385.1,351.7 385.5,352.2 385.8,351.9 386.1,352.0 386.4,352.1 386.8,352.3 387.1,351.8 387.4,352.0 387.8,351.7 388.1,351.8 388.4,351.5 388.8,350.8 389.1,346.2 389.1,345.7 389.3,344.5 389.4,345.5 389.4,345.4 389.8,350.5 390.1,352.0 390.4,351.6 390.7,352.0 391.1,351.9 391.4,348.6 391.6,346.1 391.7,345.2 391.7,345.1 391.9,346.3 392.1,349.4 392.4,351.7 392.7,351.5 393.1,351.6 393.4,351.2 393.7,350.8 394.0,350.5 394.4,350.5 394.7,350.5 395.0,350.7 395.4,350.3 395.7,350.2 396.0,350.0 396.4,349.7 396.7,349.2 397.0,348.4 397.3,348.4 397.7,347.0 398.0,346.4 398.3,345.2 398.7,343.0 399.0,342.4 399.3,340.9 399.6,339.6 399.9,337.8 400.0,338.7 400.1,338.2 400.2,339.8 400.3,339.8 400.6,339.9 401.0,341.9 401.3,343.2 401.6,344.9 402.0,345.9 402.3,346.8 402.6,347.8 402.9,348.1 403.3,348.8 403.6,349.3 403.9,349.6 404.3,350.1 404.6,350.3 404.9,350.8 405.3,350.7 405.6,350.8 405.9,350.6 406.2,350.8 406.6,350.7 406.9,351.2 407.2,350.9 407.6,351.5 407.9,351.4 408.2,351.5 408.6,351.3 408.9,351.7 409.2,351.7 409.6,351.5 409.9,352.1 410.2,351.7 410.5,350.5 410.9,346.0 410.9,345.8 411.0,345.1 411.1,346.5 411.2,346.7 411.5,351.2 411.9,352.0 412.2,352.0 412.5,351.7 412.9,351.7 413.2,351.4 413.5,351.6 413.8,351.7 414.2,352.0 414.5,351.8 414.8,351.9 415.2,352.2 415.5,352.0 415.8,352.1 416.1,351.8 416.5,352.0 416.8,351.9 417.1,352.0 417.5,352.0 417.8,351.9 418.1,352.2 418.5,351.9 418.8,352.3 419.1,352.0 419.4,352.0 419.8,352.0 420.1,352.4 420.4,352.3 420.8,352.2 421.1,351.9 421.4,351.9 421.8,352.0 422.1,352.3 422.4,352.3 422.8,351.9 423.1,351.9 423.4,352.5 423.7,351.9 424.1,351.6 424.4,351.9 424.7,351.8 425.1,352.3 425.4,352.1 425.7,352.3 426.1,352.4 426.4,352.0 426.7,352.0 427.0,352.2 427.4,352.0 427.7,351.8 428.0,351.8 428.4,352.1 428.7,352.3 429.0,352.3 429.4,352.3 429.7,352.4 430.0,351.9 430.3,351.7 430.7,352.2 431.0,351.9 431.3,352.1 431.7,352.1 432.0,352.4 432.3,352.1 432.6,352.0 433.0,352.1 433.3,352.5 433.6,352.4 434.0,352.0 434.3,352.6 434.6,352.3 435.0,352.4 435.3,352.3 435.6,352.4 435.9,352.3 436.3,351.9 436.6,352.2 436.9,352.4 437.3,352.2 437.6,352.4 437.9,352.2 438.3,352.1 438.6,352.2 438.9,352.2 439.2,352.3 439.6,352.6 439.9,352.3 440.2,352.4 440.6,351.9 440.9,351.9 441.2,351.9 441.6,351.8 441.9,351.8 442.2,352.4 442.6,351.9 442.9,352.3 443.2,352.5 443.5,352.2 443.9,352.0 444.2,351.9 444.5,352.1 444.9,351.9 445.2,348.9 445.4,347.0 445.5,346.6 445.5,346.2 445.6,347.4 445.9,349.8 446.2,351.6 446.5,351.7 446.8,352.2 447.2,352.5 447.5,352.3 447.8,352.2 448.2,352.0 448.5,352.4 448.8,352.2 449.1,352.2 449.5,352.0 449.8,352.2 450.1,352.2 450.5,352.0 450.8,351.9 451.1,351.9 451.5,351.9 451.8,351.8 452.1,352.5 452.4,351.8 452.8,352.3 453.1,352.1 453.4,352.1 453.8,352.0 454.1,352.6 454.4,352.4 454.8,352.1 455.1,352.2 455.4,352.5 455.8,351.8 456.1,352.3 456.4,352.2 456.7,352.1 457.1,352.1 457.4,352.0 457.7,351.7 458.1,351.9 458.4,351.9 458.7,351.9 459.1,352.0 459.4,352.3 459.7,352.1 460.0,352.4 460.4,352.2 460.7,352.4 461.0,351.8 461.4,351.8 461.7,351.9 462.0,352.1 462.4,351.8 462.7,352.1 463.0,352.1 463.3,352.3 463.7,352.1 464.0,352.2 464.3,352.6 464.7,351.9 465.0,352.3 465.3,352.2 465.6,351.8 466.0,351.7 466.3,351.9 466.6,352.0 467.0,351.5 467.3,351.2 467.6,347.6 467.9,342.8 468.0,342.9 468.1,342.0 468.2,342.7 468.3,343.3 468.6,347.8 468.9,350.6 469.3,349.9 469.6,348.8 469.9,347.8 470.3,344.8 470.6,341.2 470.9,335.1 471.1,333.9 471.2,332.9 471.3,332.9 471.4,333.4 471.6,337.4 471.9,342.8 472.2,346.4 472.6,348.1 472.9,349.5 473.2,350.2 473.6,350.7 473.9,350.9 474.2,351.2 474.6,351.2 474.9,351.6 475.2,351.5 475.6,351.9 475.9,351.9 476.2,351.9 476.5,351.7 476.9,351.9 477.2,351.9 477.5,352.1 477.9,352.0 478.2,352.0 478.5,352.3 478.9,351.8 479.2,352.4 479.5,352.4 479.8,352.3 480.2,351.9 480.5,352.0 480.8,352.0 481.2,352.2 481.5,352.4 481.8,351.9 482.1,352.0 482.5,352.4 482.8,351.8 483.1,352.5 483.5,352.0 483.8,352.5 484.1,352.2 484.5,352.4 484.8,352.4 485.1,352.5 485.4,352.1 485.8,352.1 486.1,350.8 486.4,344.9 486.4,344.7 486.6,343.9 486.8,345.1 486.8,345.4 487.1,350.6 487.4,351.8 487.8,351.6 488.1,352.0 488.4,349.2 488.6,345.8 488.8,344.7 488.8,344.9 488.9,346.3 489.1,347.6 489.4,351.4 489.7,351.4 490.1,351.7 490.4,351.3 490.7,351.0 491.1,351.2 491.4,351.0 491.7,350.3 492.1,349.8 492.4,349.5 492.7,349.1 493.0,347.5 493.4,346.0 493.7,343.7 494.0,338.9 494.4,329.3 494.7,313.4 494.9,306.3 495.0,303.1 495.0,303.1 495.1,305.8 495.4,315.8 495.7,330.4 496.0,339.3 496.3,344.3 496.7,346.6 497.0,348.3 497.3,349.6 497.7,350.1 498.0,350.4 498.3,350.9 498.6,351.5 499.0,351.5 499.3,351.8 499.6,351.3 500.0,351.5 500.3,351.8 500.6,351.6 501.0,352.1 501.3,351.8 501.6,351.9 501.9,352.2 502.3,352.0 502.6,352.1 502.9,351.7 503.3,351.9 503.6,352.0 503.9,351.9 504.3,351.5 504.6,351.9 504.9,351.8 505.2,352.1 505.6,351.7 505.9,352.0 506.2,351.5 506.6,352.0 506.9,352.2 507.2,351.9 507.6,351.9 507.9,352.3 508.2,352.4 508.6,352.2 508.9,350.0 509.1,348.3 509.2,348.1 509.2,347.7 509.4,348.3 509.5,350.1 509.9,352.1 510.2,351.9 510.5,352.4 510.9,352.3 511.2,352.3 511.5,351.8 511.9,351.9 512.2,352.4 512.5,352.2 512.8,351.7 513.2,351.8 513.5,352.4 513.8,351.9 514.2,351.9 514.5,352.0 514.8,352.4 515.1,352.3 515.5,352.6 515.8,352.0 516.1,352.4 516.5,352.4 516.8,352.1 517.1,352.2 517.5,352.4 517.8,352.0 518.1,352.6 518.5,352.4 518.8,352.4 519.1,352.5 519.4,351.8 519.8,351.9 520.1,351.6 520.4,351.9 520.8,351.6 521.1,351.9 521.4,352.0 521.8,352.3 522.1,351.8 522.4,352.0 522.7,352.4 523.1,352.2 523.4,352.0 523.7,352.3 524.1,352.2 524.4,351.9 524.7,351.7 525.0,351.4 525.4,351.4 525.7,351.7 526.0,351.3 526.4,351.7 526.7,351.3 527.0,350.6 527.4,346.5 527.6,342.5 527.7,342.0 527.8,341.3 528.0,342.1 528.0,342.6 528.4,347.9 528.7,348.0 529.0,345.5 529.3,341.8 529.7,336.0 529.9,333.6 530.0,332.7 530.1,333.9 530.3,336.4 530.7,342.2 531.0,345.7 531.3,348.2 531.6,349.5 532.0,350.0 532.3,350.9 532.6,351.4 533.0,351.3 533.3,351.6 533.6,351.9 534.0,351.7 534.3,352.0 534.6,351.8 535.0,351.8 535.3,352.1 535.6,351.8 535.9,352.1 536.3,352.1 536.6,351.9 536.9,351.8 537.3,351.9 537.6,352.3 537.9,352.0 538.2,352.2 538.6,352.0 538.9,352.3 539.2,352.3 539.6,352.3 539.9,352.0 540.2,351.8 540.6,352.1 540.9,351.9 541.2,352.2 541.5,351.9 541.9,351.8 542.2,352.1 542.5,352.0 542.9,352.1 543.2,352.2 543.5,352.4" stroke="#ff1a1a" stroke-opacity="0.65"/>
<path d="M41.6,353.0 41.9,353.1 42.3,353.0 42.6,352.6 42.9,352.9 43.2,352.9 43.6,352.9 43.9,352.6 44.2,352.6 44.6,352.8 44.9,352.7 45.2,352.8 45.6,352.7 45.9,352.6 46.2,353.0 46.5,352.8 46.9,352.8 47.2,353.1 47.5,352.9 47.9,352.6 48.2,353.1 48.5,352.9 48.9,353.0 49.2,352.9 49.5,353.0 49.9,352.6 50.2,352.7 50.5,352.5 50.8,352.8 51.2,352.8 51.5,352.7 51.8,352.6 52.2,352.7 52.5,352.9 52.8,352.8 53.1,352.8 53.5,352.8 53.8,352.6 54.1,352.6 54.5,352.8 54.8,353.0 55.1,352.7 55.5,352.6 55.8,352.7 56.1,352.7 56.5,352.9 56.8,352.9 57.1,353.0 57.4,352.7 57.8,352.7 58.1,352.6 58.4,352.7 58.8,352.9 59.1,352.9 59.4,352.7 59.8,352.7 60.1,353.1 60.4,353.0 60.7,353.1 61.1,352.8 61.4,352.9 61.7,353.0 62.1,353.0 62.4,353.2 62.7,352.8 63.0,353.2 63.4,352.8 63.7,352.9 64.0,352.4 64.3,352.0 64.4,351.8 64.5,351.8 64.7,351.8 64.7,352.0 65.0,352.6 65.4,353.0 65.7,353.0 66.0,352.7 66.3,353.0 66.7,352.8 67.0,352.6 67.3,352.6 67.7,352.7 68.0,352.6 68.3,353.0 68.7,352.8 69.0,352.3 69.3,352.0 69.7,351.8 70.0,351.3 70.3,351.2 70.6,350.9 71.0,350.3 71.3,350.1 71.3,350.4 71.5,350.1 71.6,350.2 71.7,350.3 72.0,350.4 72.3,350.8 72.6,351.1 73.0,351.3 73.3,352.0 73.6,352.4 73.9,352.5 74.3,352.5 74.6,352.6 74.9,352.7 75.3,353.0 75.6,352.8 75.9,352.8 76.2,353.0 76.6,352.6 76.9,352.9 77.2,352.7 77.6,352.6 77.9,352.2 78.2,348.5 78.3,347.2 78.5,345.9 78.6,346.3 78.7,347.1 78.9,350.3 79.2,352.6 79.5,352.7 79.9,352.7 80.2,352.8 80.5,352.5 80.9,352.7 81.2,352.9 81.5,352.6 81.9,352.9 82.2,352.7 82.5,352.9 82.8,352.7 83.2,352.9 83.5,352.8 83.8,352.7 84.2,353.0 84.5,352.9 84.8,353.0 85.2,353.0 85.5,352.9 85.8,352.9 86.2,352.7 86.5,352.9 86.8,351.8 87.1,350.4 87.5,348.4 87.5,348.2 87.6,348.2 87.8,348.5 87.8,348.8 88.1,350.8 88.5,352.4 88.8,352.7 89.1,352.4 89.5,351.7 89.8,349.8 89.8,349.6 90.0,349.4 90.1,349.8 90.2,349.7 90.4,351.1 90.8,352.2 91.1,352.6 91.4,352.5 91.8,352.6 92.1,352.6 92.4,352.8 92.8,352.7 93.1,352.5 93.4,352.6 93.7,352.5 94.1,352.6 94.4,352.5 94.7,352.9 95.1,352.6 95.4,352.9 95.7,352.6 96.0,352.9 96.4,352.7 96.7,352.4 97.0,352.7 97.4,352.5 97.7,352.6 98.0,352.5 98.4,353.0 98.7,352.8 99.0,353.2 99.3,352.9 99.7,352.3 99.8,351.4 100.0,351.0 100.0,351.4 100.2,351.4 100.3,351.9 100.7,352.9 101.0,353.0 101.3,352.7 101.7,352.7 102.0,353.0 102.3,352.8 102.7,353.0 103.0,352.0 103.3,345.4 103.5,341.5 103.6,339.5 103.6,339.6 103.8,341.3 104.0,347.5 104.3,352.1 104.6,352.5 105.0,352.5 105.3,352.9 105.6,352.5 106.0,352.7 106.3,352.6 106.6,352.8 106.9,352.6 107.3,351.8 107.5,350.6 107.6,350.3 107.8,350.7 107.9,351.7 108.3,352.8 108.6,352.7 108.9,353.0 109.2,353.0 109.6,353.1 109.9,352.8 110.2,352.9 110.6,353.1 110.9,353.1 111.2,352.7 111.6,352.9 111.9,353.0 112.2,353.0 112.5,352.9 112.9,352.7 113.2,352.7 113.5,352.5 113.9,352.7 114.2,352.7 114.5,352.9 114.9,352.7 115.2,352.7 115.5,352.7 115.8,352.8 116.2,352.9 116.5,352.9 116.8,352.7 117.2,353.0 117.5,352.9 117.8,353.0 118.2,352.8 118.5,352.9 118.8,352.8 119.2,353.0 119.5,353.1 119.8,353.1 120.1,352.9 120.5,352.5 120.8,351.5 120.8,351.6 121.0,351.2 121.1,351.3 121.2,351.2 121.5,352.2 121.8,352.6 122.1,352.9 122.5,352.8 122.8,352.8 123.1,352.9 123.4,352.7 123.8,352.5 124.1,352.8 124.4,352.7 124.8,353.0 125.1,353.0 125.4,352.9 125.8,352.7 126.1,352.6 126.4,352.6 126.7,351.5 126.8,351.3 127.0,350.9 127.1,351.2 127.2,351.4 127.4,352.3 127.7,352.9 128.1,352.7 128.4,352.8 128.7,353.1 129.1,352.6 129.4,352.7 129.7,352.6 130.0,352.6 130.4,352.6 130.7,351.6 131.0,349.8 131.4,345.4 131.7,340.8 131.9,338.1 132.0,337.9 132.1,337.4 132.2,338.1 132.3,339.0 132.7,343.3 133.0,347.8 133.3,344.7 133.7,339.8 133.8,337.7 134.0,337.6 134.2,337.8 134.3,339.5 134.7,344.6 135.0,348.9 135.3,351.7 135.7,352.5 136.0,352.7 136.3,352.7 136.6,352.7 137.0,353.0 137.3,352.8 137.6,353.0 138.0,352.7 138.3,353.0 138.6,353.0 138.9,352.7 139.3,353.0 139.6,352.8 139.9,352.8 140.3,352.7 140.6,353.0 140.9,352.7 141.3,353.0 141.6,352.6 141.9,353.0 142.2,352.9 142.6,352.8 142.9,352.7 143.2,352.9 143.6,353.0 143.9,352.7 144.2,352.9 144.6,352.8 144.9,352.9 145.2,352.8 145.6,352.9 145.9,352.6 146.2,352.7 146.5,352.4 146.9,352.4 147.2,352.6 147.5,352.5 147.9,352.7 148.2,352.4 148.5,352.8 148.8,352.8 149.2,352.4 149.5,352.4 149.8,352.7 150.2,352.9 150.5,352.8 150.8,352.6 151.2,352.8 151.5,352.9 151.8,352.8 152.2,352.8 152.5,352.8 152.8,353.0 153.1,352.9 153.5,352.8 153.8,352.6 154.1,352.7 154.5,352.9 154.8,352.8 155.1,352.9 155.4,353.0 155.8,352.6 156.1,352.8 156.4,352.8 156.8,352.6 157.1,352.8 157.4,353.0 157.8,352.9 158.1,352.7 158.4,352.6 158.8,352.7 159.1,353.1 159.4,352.8 159.7,352.7 160.1,352.8 160.4,352.6 160.7,352.6 161.1,352.8 161.4,352.9 161.7,352.8 162.1,352.7 162.4,352.5 162.7,352.7 163.0,352.7 163.4,352.9 163.7,352.8 164.0,352.6 164.4,352.8 164.7,351.4 164.8,351.0 165.0,350.6 165.0,350.6 165.2,350.7 165.3,351.7 165.7,352.7 166.0,352.9 166.3,353.1 166.7,352.8 167.0,353.0 167.3,352.8 167.7,352.9 168.0,352.6 168.3,352.8 168.7,352.8 169.0,352.4 169.3,352.8 169.6,352.8 170.0,352.8 170.3,352.5 170.6,352.9 171.0,352.9 171.3,352.8 171.6,353.1 171.9,353.0 172.3,352.8 172.6,353.0 172.9,352.6 173.3,352.7 173.6,352.7 173.9,352.6 174.3,352.9 174.6,352.7 174.9,352.7 175.2,352.7 175.6,352.8 175.9,352.6 176.2,352.4 176.6,351.2 176.8,350.2 176.9,350.1 177.0,349.9 177.2,350.1 177.2,350.4 177.6,351.7 177.9,352.5 178.2,352.8 178.6,352.7 178.9,352.9 179.2,352.9 179.5,352.8 179.9,352.8 180.2,352.5 180.5,352.6 180.9,352.8 181.2,352.5 181.5,352.7 181.8,352.3 182.2,352.4 182.5,351.9 182.8,351.8 183.2,351.9 183.5,351.9 183.8,351.7 184.2,351.9 184.5,351.9 184.8,351.6 185.2,351.7 185.5,351.4 185.8,350.6 186.1,350.7 186.5,350.4 186.8,350.2 187.1,349.5 187.5,349.2 187.8,348.6 187.8,348.6 188.0,348.1 188.1,348.2 188.2,348.2 188.4,349.5 188.8,350.6 189.1,351.8 189.4,352.3 189.8,352.6 190.1,352.8 190.4,353.0 190.8,352.7 191.1,352.6 191.4,352.6 191.8,347.1 192.1,305.1 192.3,240.6 192.4,231.1 192.5,225.8 192.7,240.6 192.7,260.7 193.1,332.2 193.4,351.8 193.7,353.1 194.1,352.8 194.4,352.8 194.7,349.5 195.1,319.3 195.3,261.2 195.4,257.0 195.5,249.0 195.7,261.2 195.7,271.5 196.0,331.9 196.4,351.2 196.7,352.9 197.0,353.1 197.4,353.0 197.7,352.0 197.8,351.3 198.0,351.4 198.0,351.2 198.2,351.2 198.3,351.8 198.7,352.8 199.0,352.8 199.3,352.6 199.7,353.1 200.0,352.9 200.3,352.9 200.7,352.8 201.0,352.6 201.3,352.8 201.7,352.6 202.0,352.8 202.3,352.8 202.6,353.1 203.0,352.8 203.3,352.8 203.6,352.9 204.0,352.0 204.2,350.4 204.3,350.4 204.4,350.2 204.6,350.3 204.6,351.0 204.9,352.5 205.3,352.8 205.6,352.9 205.9,352.7 206.3,352.5 206.6,352.4 206.9,352.5 207.3,352.6 207.6,353.0 207.9,352.6 208.2,352.9 208.6,352.8 208.9,353.1 209.2,352.7 209.6,352.8 209.9,353.0 210.2,352.7 210.6,352.8 210.9,352.7 211.2,352.7 211.6,352.7 211.9,352.5 212.2,352.9 212.5,352.6 212.9,352.8 213.2,352.5 213.5,352.5 213.9,352.5 214.2,352.5 214.5,352.5 214.8,351.9 215.2,342.8 215.4,324.8 215.5,321.7 215.6,320.0 215.8,324.7 215.8,330.8 216.2,349.0 216.5,352.4 216.8,352.8 217.2,352.4 217.5,352.7 217.8,352.7 218.2,352.8 218.5,352.5 218.8,352.6 219.1,352.6 219.5,352.8 219.8,352.6 220.1,353.0 220.5,353.1 220.8,353.0 221.1,353.1 221.4,352.7 221.8,350.5 221.8,349.9 222.0,349.3 222.1,349.3 222.2,349.8 222.4,351.9 222.8,352.7 223.1,352.5 223.4,352.9 223.8,352.6 224.1,352.6 224.4,352.7 224.8,352.6 225.1,352.7 225.4,353.1 225.7,352.7 226.1,353.1 226.4,352.7 226.7,352.8 227.1,352.7 227.4,352.7 227.7,352.2 228.1,352.2 228.4,352.5 228.7,352.4 229.0,352.5 229.4,352.5 229.7,352.4 230.0,352.8 230.4,352.4 230.7,352.4 231.0,352.6 231.3,352.5 231.7,352.8 232.0,352.9 232.3,352.3 232.7,352.8 233.0,352.4 233.3,351.1 233.6,348.7 233.7,348.4 233.7,348.5 233.8,348.8 234.0,350.1 234.3,352.4 234.7,352.8 235.0,352.8 235.3,352.4 235.6,352.7 236.0,352.6 236.3,352.7 236.6,352.7 237.0,352.4 237.3,352.7 237.6,352.3 237.9,352.4 238.3,352.6 238.6,352.5 238.9,352.4 239.3,352.5 239.6,352.5 239.9,352.7 240.3,352.6 240.6,352.5 240.9,352.5 241.2,352.3 241.6,352.5 241.9,352.4 242.2,352.4 242.6,352.2 242.9,352.4 243.2,352.1 243.6,352.3 243.9,352.1 244.2,352.0 244.6,351.9 244.9,351.2 245.2,351.1 245.5,350.9 245.9,350.6 246.2,350.2 246.5,349.7 246.8,349.8 246.9,349.1 247.0,349.4 247.2,349.4 247.2,349.7 247.5,349.5 247.8,349.7 248.2,350.0 248.5,350.3 248.8,351.1 249.2,351.3 249.5,351.4 249.8,351.4 250.2,351.8 250.5,351.7 250.8,351.9 251.2,351.9 251.5,352.1 251.8,352.2 252.1,352.1 252.5,352.1 252.8,352.3 253.1,352.5 253.5,352.3 253.8,352.3 254.1,352.4 254.4,352.5 254.8,352.6 255.1,352.8 255.4,352.5 255.8,352.9 256.1,352.7 256.4,352.7 256.8,352.7 257.1,352.8 257.4,352.5 257.8,352.7 258.1,352.7 258.4,352.9 258.7,353.0 259.1,353.0 259.4,353.2 259.7,352.8 260.1,352.7 260.4,352.7 260.7,353.0 261.1,352.7 261.4,352.9 261.7,352.7 262.0,352.7 262.4,353.0 262.7,352.6 263.0,352.9 263.4,353.1 263.7,353.0 264.0,352.8 264.4,353.0 264.7,352.8 265.0,353.0 265.3,352.8 265.7,352.8 266.0,352.9 266.3,353.0 266.7,353.0 267.0,352.8 267.3,352.9 267.6,352.9 268.0,352.8 268.3,352.8 268.6,353.1 269.0,352.8 269.3,352.8 269.6,352.5 270.0,352.8 270.3,352.6 270.6,352.2 270.9,352.6 271.3,352.5 271.6,352.3 271.9,352.4 272.3,352.3 272.6,351.9 272.9,352.1 273.3,351.8 273.6,351.8 273.9,352.0 274.2,351.5 274.6,351.2 274.9,350.8 275.2,349.8 275.6,348.8 275.9,347.1 276.2,345.7 276.4,344.9 276.6,345.1 276.6,345.2 276.8,346.1 276.9,346.2 277.2,347.5 277.6,349.4 277.9,349.8 278.2,350.7 278.5,351.6 278.9,351.8 279.2,352.0 279.5,352.3 279.9,352.5 280.2,352.5 280.5,352.5 280.9,352.7 281.2,352.7 281.5,352.8 281.8,352.6 282.2,352.8 282.5,352.7 282.8,352.4 283.2,352.7 283.5,352.6 283.8,352.8 284.1,352.6 284.5,353.0 284.8,352.6 285.1,352.8 285.5,352.8 285.8,352.5 286.1,352.7 286.5,352.6 286.8,352.8 287.1,352.8 287.4,352.9 287.8,352.9 288.1,352.7 288.4,352.9 288.8,352.8 289.1,352.7 289.4,352.7 289.8,352.9 290.1,352.8 290.4,352.9 290.8,352.8 291.1,352.8 291.4,352.8 291.7,352.9 292.1,352.7 292.4,352.6 292.7,352.6 293.1,352.6 293.4,352.5 293.7,352.7 294.1,352.7 294.4,352.7 294.7,352.6 295.0,352.6 295.4,352.6 295.7,352.7 296.0,352.6 296.4,352.8 296.7,352.8 297.0,352.5 297.4,352.6 297.7,352.8 298.0,353.0 298.3,352.8 298.7,352.6 299.0,353.0 299.3,352.8 299.7,352.8 300.0,352.8 300.3,352.4 300.6,352.6 301.0,353.0 301.3,352.7 301.6,352.9 302.0,352.5 302.3,352.9 302.6,352.8 303.0,352.6 303.3,352.8 303.6,352.8 303.9,352.7 304.3,352.7 304.6,353.0 304.9,352.6 305.3,352.8 305.6,352.6 305.9,352.5 306.3,352.6 306.6,352.5 306.9,352.7 307.2,352.8 307.6,352.6 307.9,352.8 308.2,352.8 308.6,352.7 308.9,352.8 309.2,352.6 309.6,352.3 309.9,352.7 310.2,352.8 310.6,352.3 310.9,352.6 311.2,352.6 311.5,352.6 311.9,352.7 312.2,352.6 312.5,352.7 312.9,352.8 313.2,352.5 313.5,352.5 313.9,352.9 314.2,352.8 314.5,352.7 314.8,353.0 315.2,352.6 315.5,353.0 315.8,352.9 316.2,353.2 316.5,353.1 316.8,353.2 317.1,352.9 317.5,353.1 317.8,353.0 318.1,353.1 318.5,353.0 318.8,352.5 319.1,352.6 319.5,352.4 319.8,352.2 320.1,352.3 320.4,352.2 320.8,352.5 321.1,352.6 321.4,352.8 321.8,352.8 322.1,352.9 322.4,352.7 322.8,352.8 323.1,352.8 323.4,352.7 323.8,352.6 324.1,352.7 324.4,353.1 324.7,352.6 325.1,352.7 325.4,352.5 325.7,352.9 326.1,352.5 326.4,352.8 326.7,352.7 327.1,352.4 327.4,352.1 327.7,352.4 328.0,351.7 328.4,352.0 328.7,351.6 329.0,351.0 329.4,350.6 329.6,350.3 329.7,350.4 329.7,350.6 329.9,350.7 330.0,350.6 330.4,351.2 330.7,351.3 331.0,351.8 331.3,351.8 331.7,351.8 332.0,352.3 332.3,352.2 332.7,352.4 333.0,352.7 333.3,352.6 333.6,352.3 334.0,352.6 334.3,352.6 334.6,352.8 335.0,352.6 335.3,352.7 335.6,353.1 336.0,352.9 336.3,352.9 336.6,353.0 336.9,353.0 337.3,352.7 337.6,352.9 337.9,352.7 338.3,352.6 338.6,352.7 338.9,353.2 339.3,353.1 339.6,353.1 339.9,352.9 340.2,353.1 340.6,352.8 340.9,352.9 341.2,352.8 341.6,352.7 341.9,353.1 342.2,353.0 342.6,352.8 342.9,353.2 343.2,352.8 343.6,352.9 343.9,352.9 344.2,352.7 344.5,352.8 344.9,352.8 345.2,352.8 345.5,353.0 345.9,352.8 346.2,348.2 346.5,331.7 346.6,330.0 346.7,326.3 346.9,330.1 347.2,347.4 347.5,352.2 347.8,353.0 348.2,352.6 348.5,352.9 348.8,353.1 349.2,353.1 349.5,352.9 349.8,352.6 350.1,352.6 350.5,352.7 350.8,352.8 351.1,352.9 351.5,352.9 351.8,352.5 352.1,352.6 352.5,353.0 352.8,352.8 353.1,353.0 353.4,352.9 353.8,352.9 354.1,352.8 354.4,353.1 354.8,352.8 355.1,352.8 355.4,352.6 355.8,352.8 356.1,352.7 356.4,352.9 356.8,352.6 357.1,352.7 357.4,352.9 357.7,352.9 358.1,352.7 358.4,352.8 358.7,352.9 359.1,352.7 359.4,352.7 359.7,352.8 360.1,352.6 360.4,352.5 360.7,352.6 361.0,352.5 361.4,352.8 361.7,352.7 362.0,352.6 362.4,352.6 362.7,352.6 363.0,352.5 363.4,351.5 363.6,350.6 363.7,350.4 363.7,350.2 363.9,350.6 364.0,351.3 364.3,352.3 364.7,352.7 365.0,352.8 365.3,352.4 365.7,352.6 366.0,352.8 366.3,352.9 366.6,352.6 367.0,352.6 367.3,351.9 367.6,349.1 367.6,349.0 367.8,348.1 367.9,348.8 368.0,349.2 368.3,351.6 368.6,352.3 369.0,352.7 369.3,352.7 369.6,352.6 369.9,352.6 370.3,352.6 370.6,352.9 370.9,352.8 371.3,353.0 371.6,353.1 371.9,352.9 372.3,352.8 372.6,352.7 372.9,352.7 373.2,352.9 373.6,352.9 373.9,352.6 374.2,352.5 374.6,352.8 374.9,352.7 375.2,352.8 375.6,352.6 375.9,352.9 376.2,352.9 376.6,353.1 376.9,352.8 377.2,352.8 377.5,352.9 377.9,353.0 378.2,352.7 378.5,352.6 378.9,352.9 379.2,352.9 379.5,352.6 379.9,352.8 380.2,352.4 380.5,352.6 380.8,352.8 381.2,352.7 381.5,352.9 381.8,352.5 382.2,352.8 382.5,352.5 382.8,352.4 383.1,352.5 383.5,352.5 383.8,352.2 384.1,352.2 384.5,352.4 384.8,352.7 385.1,352.4 385.5,353.0 385.8,352.6 386.1,353.1 386.4,353.1 386.8,352.9 387.1,353.1 387.4,352.7 387.8,353.0 388.1,352.9 388.4,353.1 388.8,352.6 389.1,350.3 389.1,349.8 389.3,349.0 389.4,349.2 389.4,349.4 389.8,352.0 390.1,352.7 390.4,352.6 390.7,352.6 391.1,352.3 391.4,351.1 391.6,349.8 391.7,349.2 391.7,349.3 391.9,349.9 392.1,351.2 392.4,352.6 392.7,352.6 393.1,352.3 393.4,352.6 393.7,352.5 394.0,352.3 394.4,352.2 394.7,352.2 395.0,352.0 395.4,351.7 395.7,352.1 396.0,351.9 396.4,351.8 396.7,351.6 397.0,351.0 397.3,350.9 397.7,350.3 398.0,349.7 398.3,349.3 398.7,348.6 399.0,347.7 399.3,347.0 399.6,347.0 399.9,346.1 400.0,346.2 400.1,345.7 400.2,346.2 400.3,346.4 400.6,346.3 401.0,347.2 401.3,348.1 401.6,348.4 402.0,349.2 402.3,350.2 402.6,350.5 402.9,351.0 403.3,351.0 403.6,351.1 403.9,351.3 404.3,351.6 404.6,352.0 404.9,352.2 405.3,352.0 405.6,352.3 405.9,352.7 406.2,352.5 406.6,352.4 406.9,352.4 407.2,352.2 407.6,352.5 407.9,352.2 408.2,352.4 408.6,352.2 408.9,352.3 409.2,352.6 409.6,352.6 409.9,352.5 410.2,352.6 410.5,352.1 410.9,349.6 410.9,349.4 411.0,349.2 411.1,349.8 411.2,349.9 411.5,352.1 411.9,352.6 412.2,352.5 412.5,352.8 412.9,352.4 413.2,352.4 413.5,352.6 413.8,352.7 414.2,352.7 414.5,352.7 414.8,352.4 415.2,352.9 415.5,353.1 415.8,352.7 416.1,352.7 416.5,352.8 416.8,352.8 417.1,352.7 417.5,352.7 417.8,352.7 418.1,352.7 418.5,352.7 418.8,352.7 419.1,352.8 419.4,352.9 419.8,352.8 420.1,352.8 420.4,352.6 420.8,352.7 421.1,352.6 421.4,352.9 421.8,352.9 422.1,352.5 422.4,352.5 422.8,352.6 423.1,352.8 423.4,352.9 423.7,352.7 424.1,352.8 424.4,352.7 424.7,353.0 425.1,352.7 425.4,352.9 425.7,352.8 426.1,352.9 426.4,353.0 426.7,352.9 427.0,352.8 427.4,352.9 427.7,352.8 428.0,352.7 428.4,352.5 428.7,352.5 429.0,352.5 429.4,352.5 429.7,352.6 430.0,352.5 430.3,352.5 430.7,352.7 431.0,352.7 431.3,352.9 431.7,353.2 432.0,352.9 432.3,353.2 432.6,353.1 433.0,353.2 433.3,352.9 433.6,353.1 434.0,353.1 434.3,352.8 434.6,352.7 435.0,353.2 435.3,352.9 435.6,353.0 435.9,353.0 436.3,352.9 436.6,352.7 436.9,352.5 437.3,352.7 437.6,352.8 437.9,352.5 438.3,353.0 438.6,352.7 438.9,352.8 439.2,353.1 439.6,353.2 439.9,353.1 440.2,353.1 440.6,353.0 440.9,352.9 441.2,352.9 441.6,352.9 441.9,352.8 442.2,352.8 442.6,352.8 442.9,352.5 443.2,352.9 443.5,352.7 443.9,352.9 444.2,352.6 444.5,352.7 444.9,352.8 445.2,351.7 445.4,350.7 445.5,350.2 445.5,350.1 445.6,350.4 445.9,351.6 446.2,352.7 446.5,352.9 446.8,353.0 447.2,352.6 447.5,353.0 447.8,353.0 448.2,353.1 448.5,353.1 448.8,353.0 449.1,352.9 449.5,352.7 449.8,352.7 450.1,352.9 450.5,352.9 450.8,353.0 451.1,352.7 451.5,353.0 451.8,352.7 452.1,353.0 452.4,352.9 452.8,352.9 453.1,353.2 453.4,352.6 453.8,353.0 454.1,352.9 454.4,353.0 454.8,352.6 455.1,352.8 455.4,352.7 455.8,352.7 456.1,352.6 456.4,352.4 456.7,352.6 457.1,352.4 457.4,352.3 457.7,352.6 458.1,352.3 458.4,352.9 458.7,352.6 459.1,353.0 459.4,352.6 459.7,352.8 460.0,352.6 460.4,352.8 460.7,352.5 461.0,352.5 461.4,352.4 461.7,352.8 462.0,352.7 462.4,352.5 462.7,352.7 463.0,352.7 463.3,352.4 463.7,352.6 464.0,352.5 464.3,352.7 464.7,352.7 465.0,352.7 465.3,352.7 465.6,352.5 466.0,352.6 466.3,352.4 466.6,352.3 467.0,352.5 467.3,351.7 467.6,350.3 467.9,347.5 468.0,347.6 468.1,347.5 468.2,348.0 468.3,348.1 468.6,350.6 468.9,352.1 469.3,351.9 469.6,351.2 469.9,350.7 470.3,349.3 470.6,347.4 470.9,344.3 471.1,343.7 471.2,343.1 471.3,343.2 471.4,343.4 471.6,345.2 471.9,347.9 472.2,350.0 472.6,350.9 472.9,351.3 473.2,351.4 473.6,351.7 473.9,352.3 474.2,352.1 474.6,352.4 474.9,352.3 475.2,352.6 475.6,352.6 475.9,353.0 476.2,353.0 476.5,352.7 476.9,352.8 477.2,352.6 477.5,352.6 477.9,352.7 478.2,352.3 478.5,352.4 478.9,352.7 479.2,352.6 479.5,352.8 479.8,352.7 480.2,352.9 480.5,352.6 480.8,352.6 481.2,352.7 481.5,353.1 481.8,352.8 482.1,352.9 482.5,352.9 482.8,352.6 483.1,352.8 483.5,352.9 483.8,352.7 484.1,352.6 484.5,352.5 484.8,352.5 485.1,352.3 485.4,352.4 485.8,352.5 486.1,351.6 486.4,349.0 486.4,348.9 486.6,348.4 486.8,349.4 486.8,349.4 487.1,351.8 487.4,352.6 487.8,352.5 488.1,352.4 488.4,351.3 488.6,349.8 488.8,349.3 488.8,349.4 488.9,349.8 489.1,350.8 489.4,352.4 489.7,352.4 490.1,352.0 490.4,352.3 490.7,352.0 491.1,351.7 491.4,351.7 491.7,351.7 492.1,350.9 492.4,350.9 492.7,350.2 493.0,349.3 493.4,348.1 493.7,345.3 494.0,341.3 494.4,333.3 494.7,320.1 494.9,313.6 495.0,311.1 495.0,311.5 495.1,314.0 495.4,321.8 495.7,334.7 496.0,342.2 496.3,345.8 496.7,348.1 497.0,349.6 497.3,350.3 497.7,351.0 498.0,351.6 498.3,351.8 498.6,351.7 499.0,352.0 499.3,352.0 499.6,352.0 500.0,352.1 500.3,352.3 500.6,352.2 501.0,352.5 501.3,352.4 501.6,352.4 501.9,352.8 502.3,352.5 502.6,352.6 502.9,352.7 503.3,352.6 503.6,352.4 503.9,352.8 504.3,352.9 504.6,352.7 504.9,352.6 505.2,352.6 505.6,352.7 505.9,352.7 506.2,352.7 506.6,352.7 506.9,352.4 507.2,352.5 507.6,352.6 507.9,352.7 508.2,352.7 508.6,352.9 508.9,351.5 509.1,351.0 509.2,350.8 509.2,350.6 509.4,350.9 509.5,351.6 509.9,352.6 510.2,352.7 510.5,352.6 510.9,352.7 511.2,352.6 511.5,352.7 511.9,353.0 512.2,353.0 512.5,352.7 512.8,352.7 513.2,352.5 513.5,352.7 513.8,352.7 514.2,352.2 514.5,352.5 514.8,352.6 515.1,352.5 515.5,352.7 515.8,352.9 516.1,352.7 516.5,353.1 516.8,352.8 517.1,352.7 517.5,352.9 517.8,352.6 518.1,352.7 518.5,352.8 518.8,352.7 519.1,352.6 519.4,352.8 519.8,353.0 520.1,352.7 520.4,352.9 520.8,353.0 521.1,352.7 521.4,352.8 521.8,353.0 522.1,352.9 522.4,352.9 522.7,352.9 523.1,352.5 523.4,352.6 523.7,352.6 524.1,352.4 524.4,352.6 524.7,352.7 525.0,352.7 525.4,352.6 525.7,352.5 526.0,352.6 526.4,352.3 526.7,352.2 527.0,351.8 527.4,349.6 527.6,347.9 527.7,347.5 527.8,347.6 528.0,347.8 528.0,348.2 528.4,350.9 528.7,350.6 529.0,349.7 529.3,347.7 529.7,344.9 529.9,343.6 530.0,343.3 530.1,343.7 530.3,344.8 530.7,347.8 531.0,349.6 531.3,350.7 531.6,351.3 532.0,351.8 532.3,351.7 532.6,351.9 533.0,352.2 533.3,352.6 533.6,352.4 534.0,352.4 534.3,352.5 534.6,352.6 535.0,353.0 535.3,352.6 535.6,352.6 535.9,352.8 536.3,352.4 536.6,352.6 536.9,352.8 537.3,352.6 537.6,352.8 537.9,352.8 538.2,353.1 538.6,353.2 538.9,353.2 539.2,353.2 539.6,353.1 539.9,353.0 540.2,352.8 540.6,352.8 540.9,352.7 541.2,352.8 541.5,352.8 541.9,352.5 542.2,352.7 542.5,352.9 542.9,352.8 543.2,352.5 543.5,352.6" stroke="#303030" stroke-opacity="0.38" stroke-width="0.9"/>
</g>
<path d="M544.4,195.8 V353.8" stroke="#505050" stroke-width="1.4" fill="none"/>
<path d="M41.0,353.8 V195.8 H544.4" stroke="#454545" stroke-width="1.2" fill="none" stroke-linecap="square"/>
<path d="M41.0,353.8 H544.4" stroke="#505050" stroke-width="1.2" fill="none"/>
<line x1="41.0" y1="353.80" x2="43.5" y2="353.80" stroke="#3a3a3a" stroke-width="1"/>
<line x1="41.0" y1="327.47" x2="43.5" y2="327.47" stroke="#3a3a3a" stroke-width="1"/>
<line x1="41.0" y1="301.13" x2="43.5" y2="301.13" stroke="#3a3a3a" stroke-width="1"/>
<line x1="41.0" y1="274.80" x2="43.5" y2="274.80" stroke="#3a3a3a" stroke-width="1"/>
<line x1="41.0" y1="248.47" x2="43.5" y2="248.47" stroke="#3a3a3a" stroke-width="1"/>
<line x1="41.0" y1="222.13" x2="43.5" y2="222.13" stroke="#3a3a3a" stroke-width="1"/>
<line x1="41.0" y1="195.80" x2="43.5" y2="195.80" stroke="#3a3a3a" stroke-width="1"/>
<line x1="41.0" y1="340.63" x2="42.5" y2="340.63" stroke="#3a3a3a" stroke-width="1"/>
<line x1="41.0" y1="314.30" x2="42.5" y2="314.30" stroke="#3a3a3a" stroke-width="1"/>
<line x1="41.0" y1="287.97" x2="42.5" y2="287.97" stroke="#3a3a3a" stroke-width="1"/>
<line x1="41.0" y1="261.63" x2="42.5" y2="261.63" stroke="#3a3a3a" stroke-width="1"/>
<line x1="41.0" y1="235.30" x2="42.5" y2="235.30" stroke="#3a3a3a" stroke-width="1"/>
<line x1="41.0" y1="208.97" x2="42.5" y2="208.97" stroke="#3a3a3a" stroke-width="1"/>
<line x1="41.40" y1="353.8" x2="41.40" y2="351.3" stroke="#3a3a3a" stroke-width="1"/>
<line x1="120.00" y1="353.8" x2="120.00" y2="351.3" stroke="#3a3a3a" stroke-width="1"/>
<line x1="198.60" y1="353.8" x2="198.60" y2="351.3" stroke="#3a3a3a" stroke-width="1"/>
<line x1="277.20" y1="353.8" x2="277.20" y2="351.3" stroke="#3a3a3a" stroke-width="1"/>
<line x1="355.80" y1="353.8" x2="355.80" y2="351.3" stroke="#3a3a3a" stroke-width="1"/>
<line x1="434.40" y1="353.8" x2="434.40" y2="351.3" stroke="#3a3a3a" stroke-width="1"/>
<line x1="513.00" y1="353.8" x2="513.00" y2="351.3" stroke="#3a3a3a" stroke-width="1"/>
<line x1="80.70" y1="353.8" x2="80.70" y2="352.3" stroke="#3a3a3a" stroke-width="1"/>
<line x1="159.30" y1="353.8" x2="159.30" y2="352.3" stroke="#3a3a3a" stroke-width="1"/>
<line x1="237.90" y1="353.8" x2="237.90" y2="352.3" stroke="#3a3a3a" stroke-width="1"/>
<line x1="316.50" y1="353.8" x2="316.50" y2="352.3" stroke="#3a3a3a" stroke-width="1"/>
<line x1="395.10" y1="353.8" x2="395.10" y2="352.3" stroke="#3a3a3a" stroke-width="1"/>
<line x1="473.70" y1="353.8" x2="473.70" y2="352.3" stroke="#3a3a3a" stroke-width="1"/>
<text x="39.2" y="356.10" text-anchor="end" font-size="8.4" class="b">0</text>
<text x="39.2" y="329.77" text-anchor="end" font-size="8.4" class="b">4000</text>
<text x="39.2" y="303.43" text-anchor="end" font-size="8.4" class="b">8000</text>
<text x="39.2" y="277.10" text-anchor="end" font-size="8.4" class="b">12,000</text>
<text x="39.2" y="250.77" text-anchor="end" font-size="8.4" class="b">16,000</text>
<text x="39.2" y="224.43" text-anchor="end" font-size="8.4" class="b">20,000</text>
<text x="39.2" y="198.10" text-anchor="end" font-size="8.4" class="b">24,000</text>
<text x="41.40" y="362.8" text-anchor="middle" font-size="8" class="b">200</text>
<text x="120.00" y="362.8" text-anchor="middle" font-size="8" class="b">300</text>
<text x="198.60" y="362.8" text-anchor="middle" font-size="8" class="b">400</text>
<text x="277.20" y="362.8" text-anchor="middle" font-size="8" class="b">500</text>
<text x="355.80" y="362.8" text-anchor="middle" font-size="8" class="b">600</text>
<text x="434.40" y="362.8" text-anchor="middle" font-size="8" class="b">700</text>
<text x="513.00" y="362.8" text-anchor="middle" font-size="8" class="b">800</text>
<text x="47.2" y="210.0" font-size="11.8" class="b">(b)</text>
<line x1="462.7" y1="207.2" x2="485.8" y2="207.2" stroke="#ff3b3b" stroke-width="1"/>
<line x1="462.7" y1="219.9" x2="485.8" y2="219.9" stroke="#999" stroke-width="1"/>
<text x="489.0" y="210.50" font-size="10.2" class="b">Vortex</text>
<text x="489.0" y="223.20" font-size="10.2" class="b">Gaussian</text>
<text transform="translate(11.6,274.6) rotate(-90)" text-anchor="middle" font-size="9.2" class="b">Intensity (a.u.)</text>
<text x="295.6" y="371.3" text-anchor="middle" font-size="9.5" class="b">Wavelength (nm)</text>
<line x1="65.1" y1="330" x2="65.1" y2="343.50" stroke="#111" stroke-width="1.25"/>
<polygon points="62.90,342.40 65.10,343.40 67.30,342.40 65.10,347.00" fill="#111"/>
<text transform="translate(67.60,320.90) rotate(-90)" text-anchor="middle" font-size="7.5" class="b">Fe II</text>
<line x1="78.5" y1="320" x2="78.5" y2="333.50" stroke="#111" stroke-width="1.25"/>
<polygon points="76.30,332.40 78.50,333.40 80.70,332.40 78.50,337.00" fill="#111"/>
<text transform="translate(81.90,305.75) rotate(-90)" text-anchor="middle" font-size="7.5" class="b">C I</text>
<line x1="103.3" y1="308.2" x2="103.3" y2="319.80" stroke="#111" stroke-width="1.25"/>
<polygon points="101.10,318.70 103.30,319.70 105.50,318.70 103.30,323.30" fill="#111"/>
<text transform="translate(106.50,292.30) rotate(-90)" text-anchor="middle" font-size="7.5" class="b">Mg II</text>
<line x1="121.7" y1="333.6" x2="121.7" y2="345.30" stroke="#111" stroke-width="1.25"/>
<polygon points="119.50,344.20 121.70,345.20 123.90,344.20 121.70,348.80" fill="#111"/>
<text transform="translate(124.40,319.75) rotate(-90)" text-anchor="middle" font-size="7.5" class="b">Fe I</text>
<line x1="132.1" y1="318.4" x2="132.1" y2="332.70" stroke="#111" stroke-width="1.25"/>
<polygon points="129.90,331.60 132.10,332.60 134.30,331.60 132.10,336.20" fill="#111"/>
<text transform="translate(132.60,309.15) rotate(-90)" text-anchor="middle" font-size="7.5" class="b">Ca I</text>
<line x1="133.8" y1="305.2" x2="133.8" y2="316.80" stroke="#111" stroke-width="1.25"/>
<polygon points="131.60,315.70 133.80,316.70 136.00,315.70 133.80,320.30" fill="#111"/>
<text transform="translate(137.70,293.95) rotate(-90)" text-anchor="middle" font-size="7.5" class="b">V II</text>
<line x1="189.3" y1="324.1" x2="189.3" y2="336.10" stroke="#111" stroke-width="1.25"/>
<polygon points="187.10,335.00 189.30,336.00 191.50,335.00 189.30,339.60" fill="#111"/>
<text transform="translate(192.70,318.30) rotate(-90)" text-anchor="middle" font-size="7.5" class="b">CN</text>
<line x1="204.2" y1="329.5" x2="204.2" y2="341.40" stroke="#111" stroke-width="1.25"/>
<polygon points="202.00,340.30 204.20,341.30 206.40,340.30 204.20,344.90" fill="#111"/>
<text transform="translate(207.50,314.60) rotate(-90)" text-anchor="middle" font-size="7.5" class="b">Sr II</text>
<text transform="translate(207.30,207.05) rotate(-90)" text-anchor="middle" font-size="7.5" class="b">Ca II</text>
<line x1="216.0" y1="291.5" x2="216.0" y2="303.40" stroke="#111" stroke-width="1.25"/>
<polygon points="213.80,302.30 216.00,303.30 218.20,302.30 216.00,306.90" fill="#111"/>
<text transform="translate(218.50,276.50) rotate(-90)" text-anchor="middle" font-size="7.5" class="b">Ca II</text>
<line x1="277.2" y1="318.7" x2="277.2" y2="332.20" stroke="#111" stroke-width="1.25"/>
<polygon points="275.00,331.10 277.20,332.10 279.40,331.10 277.20,335.70" fill="#111"/>
<text transform="translate(279.70,306.35) rotate(-90)" text-anchor="middle" font-size="7.5" class="b">Fe II</text>
<line x1="328.8" y1="327.4" x2="328.8" y2="340.60" stroke="#111" stroke-width="1.25"/>
<polygon points="326.60,339.50 328.80,340.50 331.00,339.50 328.80,344.10" fill="#111"/>
<text transform="translate(331.30,320.30) rotate(-90)" text-anchor="middle" font-size="7.5" class="b">Cr I</text>
<line x1="346.7" y1="301.7" x2="346.7" y2="315.20" stroke="#111" stroke-width="1.25"/>
<polygon points="344.50,314.10 346.70,315.10 348.90,314.10 346.70,318.70" fill="#111"/>
<text transform="translate(349.20,293.20) rotate(-90)" text-anchor="middle" font-size="7.5" class="b">Na I</text>
<line x1="400.1" y1="321" x2="400.1" y2="332.90" stroke="#111" stroke-width="1.25"/>
<polygon points="397.90,331.80 400.10,332.80 402.30,331.80 400.10,336.40" fill="#111"/>
<text transform="translate(402.60,308.75) rotate(-90)" text-anchor="middle" font-size="7.5" class="b">Fe II</text>
<line x1="445.5" y1="329.6" x2="445.5" y2="342.20" stroke="#111" stroke-width="1.25"/>
<polygon points="443.30,341.10 445.50,342.10 447.70,341.10 445.50,345.70" fill="#111"/>
<text transform="translate(448.00,322.70) rotate(-90)" text-anchor="middle" font-size="7.5" class="b">O I</text>
<line x1="470.6" y1="314.2" x2="470.6" y2="326.70" stroke="#111" stroke-width="1.25"/>
<polygon points="468.40,325.60 470.60,326.60 472.80,325.60 470.60,330.20" fill="#111"/>
<text transform="translate(473.10,305.40) rotate(-90)" text-anchor="middle" font-size="7.5" class="b">N I</text>
<line x1="495.0" y1="282.7" x2="495.0" y2="295.80" stroke="#111" stroke-width="1.25"/>
<polygon points="492.80,294.70 495.00,295.70 497.20,294.70 495.00,299.30" fill="#111"/>
<text transform="translate(497.50,273.55) rotate(-90)" text-anchor="middle" font-size="7.5" class="b">O I</text>
<line x1="529.3" y1="309.6" x2="529.3" y2="323.70" stroke="#111" stroke-width="1.25"/>
<polygon points="527.10,322.60 529.30,323.60 531.50,322.60 529.30,327.20" fill="#111"/>
<text transform="translate(531.80,296.40) rotate(-90)" text-anchor="middle" font-size="7.5" class="b">N I</text>
<g fill="none" stroke-width="0.95" stroke-linejoin="round">
<path d="M41.0,547.6 41.3,547.7 41.7,548.1 42.0,548.2 42.3,548.2 42.6,547.9 43.0,548.3 43.3,548.0 43.6,547.9 44.0,547.6 44.3,547.9 44.6,547.8 45.0,547.9 45.3,548.2 45.6,548.2 46.0,548.4 46.3,547.9 46.6,547.9 46.9,548.0 47.3,548.1 47.6,548.1 47.9,548.2 48.3,548.2 48.6,548.0 48.9,548.0 49.2,547.8 49.6,547.8 49.9,547.8 50.2,548.0 50.6,548.1 50.9,548.0 51.2,547.9 51.6,547.8 51.9,547.9 52.2,548.1 52.5,547.9 52.9,548.1 53.2,548.1 53.5,547.8 53.9,547.7 54.2,547.8 54.5,548.2 54.9,548.2 55.2,547.9 55.5,548.2 55.9,547.9 56.2,548.3 56.5,547.8 56.8,548.2 57.2,548.4 57.5,548.1 57.8,548.1 58.2,547.8 58.5,547.9 58.8,547.7 59.1,547.8 59.5,547.6 59.8,547.9 60.1,547.8 60.5,548.1 60.8,548.0 61.1,547.8 61.5,548.4 61.8,547.9 62.1,548.0 62.5,548.2 62.8,548.0 63.1,546.8 63.4,538.1 63.5,534.5 63.7,531.6 63.8,532.7 63.9,534.2 64.1,542.6 64.4,547.8 64.8,548.0 65.1,547.7 65.4,547.9 65.8,547.8 66.1,548.4 66.4,548.1 66.7,548.0 67.1,548.3 67.4,548.1 67.7,548.1 68.1,548.1 68.4,548.3 68.7,548.3 69.0,548.2 69.4,548.3 69.7,547.8 70.0,548.2 70.4,548.5 70.7,547.9 71.0,548.3 71.4,548.2 71.7,547.7 72.0,548.1 72.3,548.2 72.7,547.5 73.0,547.7 73.3,547.7 73.7,548.0 74.0,547.7 74.3,548.1 74.7,548.0 75.0,548.1 75.3,548.1 75.7,548.4 76.0,548.1 76.3,548.1 76.6,547.9 77.0,548.1 77.3,547.7 77.6,541.1 78.0,520.0 78.0,519.1 78.1,515.2 78.2,520.2 78.3,522.3 78.6,543.2 79.0,547.8 79.3,547.7 79.6,545.8 79.9,539.5 80.0,539.5 80.1,537.5 80.2,539.3 80.3,539.9 80.6,546.4 80.9,547.9 81.3,547.9 81.6,548.2 81.9,548.2 82.2,548.2 82.6,547.8 82.9,548.2 83.2,548.1 83.6,547.9 83.9,548.2 84.2,547.8 84.6,548.0 84.9,548.0 85.2,548.4 85.5,548.3 85.9,548.1 86.2,548.3 86.5,547.9 86.9,548.2 87.2,548.2 87.5,548.0 87.9,547.7 88.2,547.6 88.5,547.6 88.8,547.8 89.2,547.4 89.5,547.5 89.8,547.6 90.2,548.2 90.5,548.0 90.8,548.1 91.2,548.2 91.5,548.2 91.8,548.2 92.2,547.9 92.5,547.8 92.8,547.5 93.1,547.7 93.5,547.5 93.8,547.7 94.1,548.2 94.5,548.2 94.8,548.2 95.1,547.7 95.5,548.5 95.8,548.2 96.1,548.3 96.4,548.2 96.8,548.6 97.1,548.1 97.4,548.0 97.8,548.1 98.1,547.8 98.4,547.7 98.8,547.7 99.1,548.0 99.4,548.1 99.7,547.7 100.1,548.1 100.4,547.6 100.7,548.2 101.1,547.6 101.4,547.8 101.7,547.8 102.0,548.1 102.4,547.8 102.7,546.9 103.0,545.6 103.0,545.3 103.2,544.6 103.3,545.4 103.4,545.8 103.7,547.6 104.0,548.3 104.4,548.0 104.7,547.8 105.0,547.6 105.3,548.3 105.7,547.6 106.0,547.1 106.3,544.8 106.3,544.4 106.5,544.5 106.7,544.8 106.7,544.6 107.0,547.5 107.3,548.0 107.7,547.8 108.0,548.0 108.3,548.2 108.7,547.5 109.0,544.2 109.2,542.0 109.3,540.3 109.3,540.4 109.5,541.2 109.6,544.5 110.0,547.5 110.3,547.7 110.6,547.6 111.0,547.7 111.3,548.2 111.6,548.2 112.0,548.4 112.3,547.8 112.6,548.6 112.9,548.3 113.3,548.4 113.6,548.3 113.9,547.6 114.3,548.0 114.6,547.7 114.9,547.4 115.2,547.9 115.6,547.3 115.9,548.0 116.2,547.7 116.6,548.3 116.9,547.8 117.2,548.0 117.6,548.5 117.9,548.2 118.2,548.3 118.5,548.3 118.9,548.4 119.2,548.1 119.5,548.1 119.9,548.3 120.2,548.5 120.5,548.1 120.9,548.3 121.2,548.4 121.5,548.4 121.8,548.3 122.2,548.3 122.5,548.3 122.8,548.1 123.2,547.5 123.5,547.3 123.8,547.6 124.2,547.6 124.5,547.5 124.8,547.0 125.2,547.6 125.5,547.5 125.8,547.2 126.1,543.5 126.3,539.9 126.5,538.7 126.5,538.6 126.7,539.4 126.8,542.3 127.1,547.5 127.5,547.9 127.8,548.2 128.1,547.7 128.4,548.1 128.8,547.6 129.1,547.7 129.4,548.2 129.8,548.1 130.1,548.1 130.4,548.2 130.8,548.3 131.1,548.2 131.4,547.9 131.8,548.2 132.1,547.9 132.4,548.3 132.7,547.6 133.1,547.8 133.4,547.3 133.7,547.5 134.1,547.5 134.4,547.6 134.7,548.1 135.1,548.3 135.4,548.1 135.7,548.3 136.0,548.2 136.4,547.8 136.7,547.9 137.0,547.3 137.4,545.0 137.4,543.9 137.6,543.8 137.7,543.9 137.8,543.9 138.0,546.3 138.3,547.6 138.7,547.8 139.0,547.7 139.3,547.8 139.7,548.2 140.0,547.8 140.3,547.7 140.7,548.2 141.0,548.1 141.3,548.2 141.7,547.6 142.0,548.3 142.3,548.5 142.6,548.2 143.0,548.0 143.3,547.7 143.6,547.5 144.0,548.2 144.3,548.2 144.6,547.5 144.9,547.5 145.3,546.5 145.6,544.4 145.9,541.4 146.2,539.7 146.3,539.3 146.4,539.2 146.6,539.3 146.6,539.9 146.9,541.7 147.3,544.9 147.6,546.7 147.9,547.1 148.2,547.3 148.6,547.7 148.9,547.5 149.2,547.8 149.6,547.9 149.9,547.4 150.2,547.3 150.6,547.8 150.9,548.0 151.2,547.7 151.6,547.2 151.9,547.5 152.2,547.7 152.5,548.1 152.9,547.5 153.2,547.6 153.5,547.7 153.9,547.9 154.2,547.7 154.5,548.0 154.8,547.6 155.2,547.8 155.5,547.3 155.8,547.9 156.2,547.8 156.5,547.6 156.8,547.5 157.2,547.9 157.5,547.7 157.8,547.7 158.2,547.9 158.5,547.1 158.8,547.6 159.1,547.2 159.5,547.2 159.8,547.2 160.1,546.2 160.5,545.7 160.8,545.2 161.1,545.2 161.4,543.9 161.8,542.5 162.1,541.8 162.3,541.3 162.4,541.0 162.5,541.6 162.7,541.4 162.8,542.0 163.1,542.8 163.4,544.0 163.8,545.1 164.1,545.6 164.4,536.0 164.7,519.5 164.8,516.0 164.8,514.9 164.9,519.5 165.1,528.5 165.4,545.2 165.7,546.9 166.1,547.4 166.4,547.5 166.7,547.6 167.1,547.5 167.4,547.6 167.7,547.5 168.1,547.9 168.4,547.9 168.7,547.8 169.0,548.1 169.4,548.4 169.7,548.3 170.0,548.3 170.4,548.0 170.7,548.4 171.0,547.8 171.3,547.7 171.7,547.6 172.0,547.8 172.3,547.9 172.7,548.0 173.0,547.9 173.3,548.1 173.7,547.9 174.0,547.7 174.0,547.8 174.3,547.8 174.7,547.9 175.0,546.9 175.3,547.1 175.6,546.7 176.0,545.7 176.3,545.6 176.6,545.2 177.0,544.4 177.3,544.9 177.6,544.1 177.9,544.6 178.3,543.4 178.6,543.5 178.7,542.6 178.9,542.5 179.3,541.1 179.6,539.6 179.9,538.5 180.3,538.1 180.6,538.2 180.9,536.1 181.2,535.5 181.6,533.9 181.9,533.6 182.2,531.4 182.3,531.3 182.6,528.2 182.9,526.5 183.2,526.3 183.6,521.8 183.9,523.0 184.0,519.9 184.2,521.7 184.6,515.5 184.9,507.1 185.1,506.6 185.2,506.3 185.5,501.1 185.9,494.2 185.9,493.1 186.2,485.3 186.5,481.8 186.6,491.8 186.9,486.5 187.2,472.7 187.3,475.4 187.5,470.4 187.8,447.7 187.9,456.7 188.2,443.3 188.2,439.9 188.3,433.4 188.4,442.8 188.5,441.4 188.8,462.1 188.8,469.8 189.2,519.4 189.3,525.2 189.5,531.1 189.8,537.0 190.2,539.9 190.5,541.9 190.8,543.6 191.2,545.0 191.5,545.0 191.8,537.8 192.1,522.9 192.1,519.7 192.2,519.4 192.3,523.1 192.5,530.1 192.8,545.4 193.1,547.0 193.5,537.7 193.8,514.7 193.8,512.1 193.9,509.5 194.1,514.9 194.1,519.8 194.4,543.0 194.8,547.3 195.1,547.5 195.4,547.2 195.8,547.2 196.1,547.7 196.4,547.4 196.8,547.8 197.1,547.8 197.4,546.6 197.8,545.3 197.8,544.8 198.0,544.9 198.1,544.2 198.2,544.2 198.4,546.0 198.7,546.8 199.1,547.2 199.4,547.5 199.7,547.6 200.1,547.0 200.4,547.9 200.7,547.6 201.1,548.0 201.4,547.3 201.7,547.7 202.0,547.3 202.4,547.9 202.7,547.2 203.0,547.3 203.4,539.4 203.6,531.6 203.7,528.9 203.7,529.1 203.8,531.8 204.0,538.7 204.3,547.4 204.7,548.3 205.0,547.9 205.3,548.6 205.7,548.1 206.0,548.4 206.3,548.1 206.7,547.2 207.0,546.1 207.3,545.5 207.7,544.2 208.0,542.9 208.3,542.1 208.6,540.4 209.0,540.7 209.0,539.5 209.3,539.6 209.6,539.2 210.0,538.3 210.3,529.7 210.4,527.0 210.6,525.9 210.6,526.3 210.8,526.9 210.9,530.7 211.3,536.6 211.6,534.1 211.9,536.1 212.0,534.3 212.3,532.9 212.4,520.6 212.6,516.4 212.8,521.1 212.9,532.5 213.3,533.7 213.6,533.6 213.9,517.2 213.9,515.3 214.1,509.1 214.2,514.6 214.5,530.3 214.6,532.5 214.9,538.5 215.2,544.7 215.5,548.4 215.6,548.1 215.9,548.3 216.2,548.1 216.6,548.5 216.9,547.7 217.2,548.2 217.6,548.3 217.9,548.3 218.2,547.4 218.5,547.9 218.9,547.9 219.2,546.9 219.5,545.5 219.8,544.6 219.9,544.5 220.0,544.8 220.2,544.0 220.2,544.4 220.5,545.5 220.8,547.3 221.2,547.3 221.5,548.2 221.8,547.6 222.2,547.6 222.5,547.6 222.8,547.6 223.2,547.3 223.5,547.6 223.8,548.1 224.2,547.3 224.5,547.6 224.8,547.4 225.1,546.7 225.5,545.8 225.8,544.8 225.8,545.1 226.0,545.3 226.1,545.1 226.2,545.0 226.5,545.5 226.8,547.2 227.1,547.4 227.4,547.5 227.8,548.0 228.1,548.0 228.4,548.2 228.8,547.7 229.1,547.9 229.4,548.2 229.8,547.8 230.1,547.6 230.4,548.2 230.8,548.1 231.1,547.4 231.4,548.2 231.7,547.7 232.1,547.8 232.4,548.3 232.7,547.5 233.1,547.9 233.4,547.4 233.7,547.9 234.1,547.6 234.4,547.6 234.7,548.2 235.0,548.1 235.4,547.9 235.7,547.8 236.0,548.2 236.4,547.8 236.7,548.2 237.0,548.0 237.3,548.3 237.7,548.1 238.0,548.5 238.3,547.5 238.3,547.6 238.7,546.6 239.0,545.4 239.3,545.0 239.7,543.2 240.0,540.3 240.0,539.9 240.1,538.8 240.2,537.9 240.3,538.9 240.3,539.1 240.7,542.0 241.0,541.6 241.3,542.2 241.6,540.4 242.0,540.0 242.3,538.0 242.6,537.9 243.0,537.4 243.3,536.3 243.6,536.4 243.9,536.3 244.3,536.4 244.6,535.1 244.9,532.7 245.3,534.2 245.6,533.4 245.9,531.6 246.3,531.3 246.5,533.5 246.6,530.3 246.9,528.5 247.2,528.1 247.6,529.8 247.9,528.8 248.2,526.7 248.6,524.9 248.9,525.5 249.2,523.1 249.6,523.5 249.9,523.8 250.2,523.9 250.4,522.4 250.6,519.3 250.9,519.2 251.2,522.1 251.4,520.0 251.5,516.1 251.6,515.4 251.8,518.5 251.9,518.6 252.2,514.7 252.5,512.6 252.9,511.7 253.2,514.1 253.3,514.8 253.5,511.5 253.5,511.7 253.7,513.5 253.8,517.6 254.2,516.2 254.5,517.5 254.8,516.6 255.2,515.9 255.3,516.0 255.5,516.3 255.7,520.8 255.8,533.3 256.1,545.6 256.2,546.0 256.5,547.8 256.8,547.7 257.1,547.9 257.5,548.1 257.8,548.0 258.1,548.2 258.5,547.8 258.8,548.2 259.1,547.6 259.5,547.7 259.8,547.5 260.1,547.5 260.4,547.5 260.8,547.9 261.1,547.8 261.4,547.2 261.8,548.0 261.8,547.5 262.1,547.7 262.4,548.1 262.8,548.2 263.1,548.1 263.4,547.6 263.8,547.2 264.1,547.3 264.4,547.0 264.7,546.9 265.1,546.9 265.4,546.8 265.7,546.6 266.1,545.8 266.4,545.3 266.7,545.8 267.1,545.0 267.4,546.1 267.7,544.7 268.0,545.1 268.0,545.0 268.4,545.2 268.7,545.3 269.0,544.7 269.4,543.8 269.7,544.0 270.0,543.3 270.4,543.1 270.7,542.4 271.0,542.6 271.3,542.9 271.7,542.3 272.0,543.1 272.3,541.7 272.7,541.4 273.0,540.4 273.0,541.3 273.3,541.5 273.6,542.3 274.0,540.0 274.3,539.6 274.6,539.4 275.0,540.3 275.0,540.5 275.3,538.8 275.6,535.9 276.0,531.5 276.3,528.3 276.4,527.6 276.5,526.3 276.6,525.3 276.6,527.6 276.9,531.2 277.3,534.4 277.6,536.8 277.9,538.7 278.0,538.5 278.3,539.5 278.6,540.3 278.9,540.1 279.3,541.2 279.6,543.1 279.9,543.5 280.2,543.2 280.3,543.5 280.6,543.1 280.9,542.7 281.2,542.5 281.6,541.7 281.9,541.2 282.2,540.5 282.6,540.4 282.9,538.8 283.0,538.4 283.2,539.1 283.6,536.6 283.9,538.0 284.2,536.7 284.5,536.4 284.9,536.1 285.2,535.7 285.5,534.9 285.9,519.7 285.9,519.0 286.0,515.0 286.1,520.3 286.2,522.4 286.5,533.6 286.9,532.7 287.2,530.6 287.5,531.5 287.8,530.3 288.2,530.5 288.5,518.1 288.6,501.7 288.8,493.9 288.8,494.1 288.9,501.2 289.2,525.4 289.5,545.7 289.5,546.5 289.8,548.0 290.1,548.0 290.5,548.0 290.8,547.9 291.1,547.7 291.5,547.7 291.8,547.9 292.1,547.6 292.5,547.8 292.8,547.3 293.1,547.4 293.4,547.6 293.8,548.0 294.1,547.9 294.4,547.8 294.8,548.4 295.1,547.8 295.4,548.5 295.8,547.9 296.1,547.8 296.4,547.6 296.8,548.2 297.1,548.2 297.4,548.2 297.7,548.1 298.1,548.0 298.4,548.0 298.7,548.0 299.1,548.4 299.4,548.2 299.5,548.1 299.7,548.2 300.1,548.1 300.4,547.7 300.7,547.4 301.0,548.0 301.4,547.4 301.7,547.1 302.0,547.6 302.4,547.1 302.7,547.7 303.0,547.2 303.4,546.8 303.7,546.8 304.0,546.2 304.3,545.8 304.7,545.9 305.0,544.9 305.3,545.2 305.7,544.7 306.0,545.2 306.3,545.2 306.6,545.4 307.0,545.4 307.3,544.6 307.6,545.1 308.0,544.4 308.3,544.5 308.6,543.8 309.0,543.5 309.3,543.2 309.6,544.2 309.9,543.6 310.0,544.2 310.3,544.0 310.6,543.2 310.9,542.9 311.3,544.1 311.6,543.2 311.9,540.8 311.9,540.9 312.0,540.3 312.1,540.5 312.3,542.1 312.6,542.8 312.9,541.1 313.2,541.8 313.6,542.6 313.9,540.5 314.2,541.2 314.6,541.2 314.9,540.0 314.9,540.5 315.0,539.5 315.1,540.1 315.2,540.7 315.6,541.4 315.9,540.8 316.2,539.6 316.6,540.2 316.9,541.0 317.2,539.8 317.5,539.9 317.9,539.6 318.0,539.7 318.2,537.3 318.4,535.2 318.5,534.4 318.5,534.3 318.6,534.7 318.9,538.9 319.2,539.6 319.5,538.4 319.9,539.2 320.2,539.0 320.5,539.8 320.8,539.1 321.2,538.7 321.5,531.3 321.6,527.6 321.8,526.0 321.8,526.0 321.9,527.9 322.0,529.2 322.2,533.4 322.5,538.0 322.8,538.2 323.1,538.3 323.5,537.6 323.8,538.4 324.1,538.9 324.5,538.4 324.8,538.2 325.1,540.1 325.5,536.2 325.8,527.0 325.8,526.9 325.9,526.0 326.0,526.8 326.1,527.8 326.1,528.8 326.4,539.2 326.8,545.8 327.0,546.5 327.1,546.2 327.4,546.4 327.8,546.1 328.1,545.0 328.4,543.5 328.8,542.8 328.9,542.2 329.1,541.9 329.1,541.7 329.2,542.2 329.4,543.2 329.8,544.2 330.1,546.0 330.4,547.0 330.7,547.8 331.1,547.8 331.4,548.1 331.7,547.1 332.1,548.2 332.4,548.1 332.7,547.8 333.1,547.2 333.4,548.1 333.7,547.5 334.0,548.4 334.4,548.1 334.7,547.5 335.0,548.4 335.4,548.5 335.7,548.3 336.0,548.1 336.4,548.4 336.7,547.3 337.0,548.1 337.3,548.4 337.7,547.2 338.0,547.6 338.3,548.2 338.7,547.4 339.0,548.4 339.3,547.6 339.6,548.4 340.0,548.2 340.3,548.7 340.6,548.1 341.0,548.7 341.3,548.3 341.6,548.7 342.0,548.1 342.3,547.5 342.6,547.4 342.9,547.4 343.3,548.4 343.6,548.4 343.9,547.4 344.3,548.5 344.6,548.0 344.9,545.0 345.3,511.7 345.4,477.8 345.6,466.8 345.6,467.4 345.8,478.1 345.9,507.5 346.2,543.7 346.6,547.4 346.9,548.2 347.2,547.8 347.6,547.4 347.9,547.8 348.2,548.2 348.6,547.6 348.9,547.4 349.2,547.7 349.6,546.2 349.9,544.5 350.1,543.1 350.2,543.2 350.2,543.5 350.4,543.6 350.5,544.7 350.9,546.6 351.2,547.5 351.5,547.4 351.9,547.7 352.2,547.6 352.5,547.4 352.9,547.5 353.2,548.0 353.5,547.7 353.8,547.8 354.2,548.0 354.5,547.3 354.8,547.3 355.2,545.7 355.4,545.0 355.5,545.0 355.5,545.3 355.6,545.3 355.8,544.9 356.1,546.3 356.5,547.4 356.8,547.4 357.1,548.4 357.5,548.2 357.8,547.6 358.1,547.7 358.5,547.0 358.8,544.8 358.9,545.1 359.0,544.9 359.1,545.5 359.1,545.2 359.4,547.0 359.8,547.9 360.1,547.8 360.4,548.1 360.8,548.5 361.1,547.9 361.4,548.0 361.8,548.0 362.1,547.6 362.4,547.9 362.8,548.4 363.1,547.9 363.4,547.6 363.7,545.7 363.9,545.3 364.0,545.5 364.1,544.7 364.1,545.4 364.4,546.3 364.7,546.7 365.1,547.3 365.4,548.3 365.7,548.0 366.1,547.8 366.4,548.3 366.7,547.7 367.0,548.1 367.4,547.5 367.7,547.7 368.0,548.2 368.4,547.9 368.7,548.1 369.0,547.7 369.4,547.7 369.7,547.4 370.0,548.2 370.3,548.2 370.7,548.5 371.0,547.6 371.3,548.1 371.7,548.5 372.0,548.0 372.3,547.8 372.6,547.4 373.0,547.3 373.3,547.6 373.6,547.0 374.0,548.3 374.3,547.7 374.6,548.7 375.0,548.2 375.3,548.7 375.6,548.2 375.9,548.4 376.3,548.6 376.6,547.4 376.9,547.2 377.3,547.1 377.6,548.0 377.9,548.0 378.3,547.5 378.6,548.4 378.9,547.7 379.2,547.9 379.6,548.4 379.9,548.6 380.2,548.3 380.6,548.2 380.9,548.5 381.2,547.9 381.6,548.7 381.9,548.0 382.2,548.7 382.6,548.7 382.9,548.5 383.2,548.3 383.5,548.7 383.9,547.6 384.2,547.6 384.5,547.5 384.9,548.4 385.2,547.7 385.5,547.6 385.9,547.7 386.2,548.2 386.5,547.7 386.8,548.2 387.2,547.6 387.5,547.7 387.8,547.9 388.2,548.2 388.5,547.2 388.8,548.0 389.1,546.9 389.5,547.1 389.8,547.6 390.1,547.9 390.5,547.1 390.8,547.8 391.1,548.1 391.5,547.3 391.8,548.0 392.1,547.9 392.4,547.6 392.8,547.3 393.1,548.3 393.4,547.1 393.8,546.7 394.1,547.0 394.4,546.0 394.8,546.7 395.1,545.5 395.4,546.3 395.8,546.1 396.1,545.5 396.4,544.6 396.7,543.2 397.1,542.7 397.4,541.3 397.7,540.7 398.1,539.1 398.4,537.8 398.4,537.2 398.5,538.0 398.6,538.3 398.7,539.2 399.1,539.9 399.4,540.8 399.7,541.6 400.0,543.5 400.4,544.0 400.7,546.0 401.0,546.4 401.4,546.3 401.7,547.5 402.0,547.9 402.4,546.9 402.7,547.0 403.0,548.0 403.3,548.4 403.7,547.7 404.0,548.3 404.3,547.1 404.7,547.1 405.0,547.2 405.3,547.6 405.6,547.8 406.0,547.6 406.3,547.0 406.6,547.2 407.0,547.7 407.3,547.3 407.6,546.7 408.0,546.6 408.3,546.9 408.6,548.2 408.9,548.5 409.3,548.0 409.6,544.7 409.9,515.7 409.9,515.2 410.1,505.3 410.2,515.1 410.3,516.6 410.6,544.8 410.9,548.6 411.3,547.4 411.6,547.3 411.9,547.6 412.2,547.5 412.6,547.9 412.9,548.5 413.2,547.7 413.6,548.7 413.9,548.0 414.2,548.0 414.6,547.1 414.9,547.0 415.2,548.1 415.6,547.3 415.9,547.1 416.2,547.6 416.5,548.3 416.9,548.4 417.2,547.1 417.5,548.7 417.9,547.4 418.2,547.4 418.5,547.6 418.9,547.7 419.2,547.2 419.5,547.4 419.8,545.8 419.9,546.1 420.0,545.4 420.1,545.7 420.2,546.1 420.5,546.8 420.8,546.6 421.2,547.8 421.5,547.7 421.8,548.6 422.1,547.9 422.5,548.7 422.8,548.7 423.1,547.6 423.5,548.5 423.8,547.9 424.1,548.6 424.5,548.3 424.8,548.2 425.1,547.4 425.4,548.5 425.8,548.4 426.1,548.7 426.4,547.8 426.8,547.4 427.1,547.8 427.4,548.1 427.8,548.1 428.1,548.7 428.4,548.2 428.8,548.4 429.1,547.8 429.4,548.7 429.7,547.8 430.1,547.2 430.4,548.7 430.7,548.3 431.1,547.4 431.4,546.7 431.7,545.7 431.9,545.7 432.0,546.1 432.1,546.2 432.1,545.7 432.4,546.5 432.7,546.9 433.0,548.1 433.4,547.6 433.7,548.7 434.0,548.2 434.4,548.7 434.7,547.8 435.0,548.1 435.4,548.4 435.7,548.7 436.0,548.7 436.3,548.3 436.7,547.9 437.0,548.7 437.3,547.3 437.7,547.6 438.0,547.9 438.3,548.0 438.6,546.6 439.0,548.1 439.3,547.8 439.6,547.3 440.0,548.5 440.3,548.6 440.6,548.1 441.0,548.3 441.3,548.7 441.6,548.7 441.9,548.7 442.3,548.5 442.6,547.5 442.9,548.7 443.3,548.5 443.6,548.7 443.9,548.3 444.3,548.3 444.6,548.1 444.9,548.1 445.2,548.0 445.6,548.2 445.9,547.2 446.2,547.2 446.6,548.7 446.9,548.1 447.2,547.6 447.6,547.3 447.9,548.0 448.2,547.8 448.6,547.8 448.9,547.5 449.2,547.5 449.5,546.7 449.9,545.9 449.9,545.7 450.0,546.8 450.1,546.0 450.2,545.9 450.5,547.2 450.9,547.6 451.2,546.9 451.5,546.7 451.9,547.1 452.2,547.5 452.5,547.9 452.8,547.2 453.2,547.1 453.5,548.3 453.8,547.9 454.2,548.1 454.5,547.9 454.8,548.7 455.1,548.3 455.5,546.9 455.8,547.4 456.1,546.5 456.5,546.7 456.8,547.8 457.1,547.7 457.5,547.3 457.8,547.3 458.1,548.0 458.4,547.5 458.8,547.1 459.1,547.5 459.4,547.8 459.8,547.7 460.1,548.3 460.4,547.9 460.8,547.8 461.1,547.5 461.4,548.7 461.8,547.9 462.1,548.7 462.4,548.7 462.7,548.5 463.1,548.2 463.4,548.7 463.7,547.4 464.1,548.6 464.4,548.5 464.7,547.8 465.1,548.3 465.4,547.8 465.7,547.5 466.0,547.6 466.4,547.3 466.7,548.0 467.0,545.9 467.4,544.2 467.6,543.4 467.7,542.9 467.7,543.2 467.9,542.9 468.0,543.7 468.4,544.1 468.7,541.7 469.0,540.5 469.3,537.7 469.4,537.3 469.6,537.7 469.7,537.8 469.8,537.3 470.0,538.5 470.3,541.4 470.7,543.9 471.0,544.5 471.3,545.9 471.6,546.1 472.0,546.6 472.3,546.9 472.6,546.7 473.0,547.3 473.3,548.2 473.6,547.4 474.0,547.3 474.3,547.7 474.6,548.4 474.9,548.3 475.3,548.1 475.6,548.7 475.9,548.3 476.3,548.7 476.6,547.6 476.9,547.7 477.3,547.3 477.6,547.5 477.9,547.3 478.2,548.0 478.6,548.7 478.9,547.8 479.2,548.2 479.6,547.9 479.9,547.0 480.2,548.2 480.6,547.1 480.9,548.2 481.2,547.7 481.6,548.7 481.9,548.7 482.2,548.7 482.5,548.7 482.9,548.3 483.2,548.2 483.5,548.1 483.9,548.7 484.2,548.2 484.5,548.3 484.9,542.2 485.1,537.6 485.2,534.6 485.2,534.7 485.4,536.4 485.5,540.6 485.8,546.5 486.2,547.0 486.5,546.4 486.8,547.1 487.2,546.7 487.5,541.1 487.6,540.5 487.7,539.3 487.8,540.7 487.9,540.8 488.1,545.7 488.5,546.2 488.8,547.5 489.1,547.4 489.5,546.5 489.8,546.4 490.1,546.6 490.5,546.1 490.8,547.1 491.1,546.0 491.4,545.4 491.8,545.2 492.1,542.9 492.4,541.8 492.8,538.7 493.1,534.0 493.4,528.7 493.6,525.1 493.8,524.7 493.8,525.2 493.9,524.6 494.1,527.7 494.4,533.7 494.8,537.4 495.1,541.8 495.4,542.9 495.7,544.6 496.1,545.4 496.4,545.4 496.7,546.1 497.1,547.0 497.4,546.3 497.7,546.4 498.1,547.2 498.4,547.0 498.7,546.7 499.0,546.9 499.4,546.3 499.7,545.2 499.9,545.1 500.0,545.0 500.0,545.8 500.1,545.0 500.4,545.9 500.7,546.7 501.0,547.0 501.4,547.3 501.7,547.6 502.0,547.4 502.3,547.4 502.7,547.7 503.0,546.7 503.3,546.7 503.7,547.7 504.0,546.4 504.3,547.2 504.6,545.7 504.9,546.3 505.0,546.1 505.0,545.8 505.1,546.4 505.3,546.0 505.6,546.9 506.0,547.4 506.3,547.5 506.6,547.3 507.0,547.2 507.3,547.5 507.6,547.8 507.9,547.1 508.3,546.6 508.6,548.0 508.9,547.8 509.3,547.0 509.6,548.2 509.9,547.3 510.3,547.6 510.6,548.3 510.9,547.7 511.2,547.4 511.6,547.5 511.9,546.5 511.9,546.3 512.0,546.3 512.1,545.5 512.2,546.1 512.6,547.0 512.9,546.9 513.2,547.7 513.6,547.7 513.9,548.7 514.2,548.7 514.5,548.5 514.9,547.6 515.2,547.3 515.5,548.4 515.9,547.9 516.2,547.2 516.5,547.1 516.9,547.2 517.2,546.2 517.5,546.2 517.9,545.3 518.0,546.4 518.1,545.8 518.2,546.2 518.5,547.3 518.8,547.6 519.2,548.4 519.5,548.6 519.8,547.8 520.2,547.6 520.5,548.4 520.8,548.1 521.1,547.5 521.5,547.5 521.8,547.5 522.1,548.6 522.5,547.8 522.8,548.0 523.1,547.3 523.5,547.1 523.8,547.7 524.1,547.4 524.5,546.2 524.8,546.9 525.1,546.5 525.4,547.0 525.8,545.7 526.1,544.3 526.4,542.5 526.8,538.9 526.8,539.7 526.9,538.7 527.0,538.9 527.1,538.9 527.4,541.2 527.8,543.8 528.1,543.5 528.4,541.8 528.6,539.3 528.7,540.0 528.8,540.6 529.0,540.3 529.1,541.9 529.4,543.8 529.7,545.9 530.1,546.2 530.4,547.5 530.7,547.3 531.0,547.2 531.4,547.6 531.7,548.3 532.0,548.3 532.4,547.0 532.7,547.3 533.0,548.2 533.4,548.4 533.7,547.3 534.0,547.3 534.4,546.2 534.7,545.4 534.9,546.0 535.0,545.6 535.0,545.7 535.1,546.3 535.3,546.3 535.7,546.8 536.0,547.4 536.3,546.8 536.7,547.1 537.0,547.6 537.3,547.6 537.6,547.3 538.0,547.9 538.3,548.2 538.6,548.0 539.0,548.7 539.3,548.7 539.6,548.4 540.0,548.5 540.3,548.3 540.6,548.3 541.0,548.2 541.3,548.0 541.6,547.5 541.9,547.8 542.3,548.2" stroke="#f01010" stroke-opacity="0.62"/>
<path d="M41.0,547.6 41.3,547.6 41.7,547.6 42.0,548.0 42.3,547.8 42.6,547.9 43.0,547.5 43.3,547.7 43.6,547.9 44.0,547.6 44.3,547.9 44.6,547.8 45.0,547.7 45.3,547.5 45.6,548.2 46.0,547.8 46.3,547.9 46.6,548.2 46.9,548.2 47.3,548.2 47.6,548.3 47.9,547.7 48.3,547.6 48.6,547.5 48.9,548.1 49.2,547.6 49.6,547.6 49.9,547.5 50.2,547.7 50.6,547.6 50.9,547.8 51.2,547.7 51.6,547.8 51.9,548.2 52.2,547.8 52.5,548.1 52.9,548.1 53.2,548.0 53.5,548.1 53.9,548.1 54.2,548.0 54.5,547.8 54.9,547.9 55.2,548.0 55.5,547.9 55.9,548.5 56.2,548.1 56.5,547.9 56.8,548.1 57.2,548.2 57.5,548.1 57.8,548.3 58.2,547.9 58.5,547.8 58.8,548.2 59.1,547.7 59.5,547.9 59.8,547.8 60.1,547.8 60.5,547.6 60.8,547.6 61.1,548.3 61.5,548.1 61.8,548.3 62.1,548.1 62.5,548.4 62.8,548.4 63.1,546.5 63.4,536.7 63.5,532.5 63.7,529.7 63.8,530.3 63.9,532.5 64.1,541.6 64.4,547.7 64.8,548.0 65.1,548.0 65.4,548.2 65.8,548.1 66.1,547.7 66.4,547.6 66.7,547.5 67.1,547.5 67.4,548.1 67.7,547.9 68.1,548.1 68.4,548.1 68.7,548.0 69.0,548.3 69.4,548.1 69.7,547.9 70.0,547.8 70.4,548.0 70.7,547.8 71.0,547.7 71.4,547.7 71.7,548.2 72.0,548.4 72.3,547.8 72.7,548.2 73.0,548.1 73.3,548.1 73.7,548.4 74.0,548.1 74.3,548.3 74.7,547.9 75.0,548.3 75.3,547.9 75.7,547.7 76.0,548.2 76.3,548.0 76.6,547.9 77.0,547.9 77.3,547.2 77.6,539.3 78.0,516.0 78.0,515.8 78.1,511.2 78.2,516.0 78.3,519.0 78.6,542.0 79.0,547.8 79.3,547.4 79.6,545.8 79.9,538.1 80.0,538.2 80.1,536.3 80.2,537.9 80.3,539.0 80.6,546.1 80.9,548.3 81.3,548.2 81.6,548.0 81.9,547.4 82.2,547.7 82.6,548.0 82.9,547.5 83.2,547.4 83.6,547.6 83.9,548.1 84.2,548.3 84.6,547.9 84.9,548.0 85.2,548.4 85.5,548.2 85.9,547.8 86.2,548.5 86.5,548.1 86.9,547.7 87.2,547.5 87.5,547.7 87.9,547.9 88.2,547.6 88.5,547.4 88.8,548.0 89.2,548.1 89.5,547.6 89.8,547.8 90.2,547.9 90.5,547.8 90.8,547.7 91.2,547.8 91.5,547.6 91.8,547.7 92.2,547.5 92.5,547.6 92.8,547.5 93.1,547.9 93.5,547.5 93.8,548.0 94.1,547.8 94.5,547.4 94.8,547.5 95.1,547.8 95.5,547.7 95.8,547.9 96.1,547.5 96.4,548.0 96.8,548.3 97.1,548.0 97.4,547.9 97.8,548.2 98.1,547.7 98.4,548.2 98.8,548.1 99.1,547.6 99.4,548.0 99.7,547.8 100.1,548.3 100.4,547.9 100.7,547.8 101.1,548.3 101.4,548.2 101.7,548.1 102.0,548.1 102.4,547.6 102.7,547.7 103.0,544.8 103.0,545.0 103.2,544.3 103.3,544.7 103.4,544.6 103.7,547.5 104.0,547.9 104.4,547.9 104.7,548.1 105.0,548.1 105.3,548.0 105.7,547.9 106.0,546.7 106.3,543.7 106.3,543.9 106.5,543.5 106.7,544.4 106.7,544.5 107.0,547.1 107.3,548.0 107.7,548.2 108.0,547.9 108.3,547.8 108.7,547.8 109.0,543.8 109.2,540.8 109.3,539.9 109.3,539.9 109.5,540.8 109.6,544.2 110.0,547.5 110.3,548.0 110.6,548.2 111.0,548.0 111.3,547.8 111.6,548.1 112.0,547.9 112.3,547.9 112.6,548.0 112.9,547.6 113.3,548.0 113.6,548.2 113.9,547.6 114.3,548.2 114.6,548.0 114.9,547.7 115.2,548.0 115.6,547.4 115.9,547.3 116.2,548.0 116.6,547.7 116.9,547.3 117.2,547.3 117.6,547.5 117.9,547.7 118.2,548.2 118.5,547.6 118.9,548.0 119.2,548.0 119.5,548.1 119.9,548.6 120.2,547.8 120.5,548.3 120.9,548.0 121.2,547.6 121.5,547.4 121.8,547.9 122.2,548.0 122.5,547.6 122.8,547.4 123.2,547.8 123.5,547.9 123.8,547.9 124.2,547.7 124.5,547.4 124.8,547.4 125.2,547.5 125.5,547.9 125.8,547.2 126.1,543.2 126.3,538.7 126.5,537.0 126.5,537.2 126.7,539.1 126.8,542.1 127.1,547.2 127.5,547.5 127.8,547.9 128.1,548.2 128.4,547.9 128.8,547.8 129.1,547.6 129.4,548.0 129.8,548.1 130.1,547.9 130.4,548.0 130.8,548.0 131.1,547.4 131.4,547.7 131.8,547.8 132.1,547.6 132.4,547.3 132.7,547.8 133.1,548.1 133.4,548.2 133.7,548.3 134.1,548.3 134.4,548.5 134.7,548.3 135.1,548.0 135.4,547.8 135.7,548.2 136.0,548.2 136.4,547.6 136.7,547.6 137.0,547.1 137.4,544.4 137.4,543.7 137.6,543.3 137.7,543.1 137.8,543.7 138.0,546.8 138.3,548.5 138.7,547.9 139.0,547.7 139.3,547.8 139.7,548.1 140.0,547.8 140.3,548.4 140.7,547.8 141.0,547.8 141.3,547.5 141.7,547.7 142.0,547.4 142.3,547.4 142.6,547.2 143.0,547.2 143.3,547.6 143.6,547.6 144.0,547.5 144.3,547.2 144.6,547.9 144.9,547.5 145.3,546.4 145.6,543.8 145.9,540.3 146.2,537.9 146.3,537.8 146.4,537.9 146.6,538.3 146.6,539.1 146.9,541.1 147.3,544.7 147.6,546.8 147.9,547.7 148.2,547.8 148.6,547.4 148.9,547.3 149.2,547.6 149.6,547.5 149.9,547.8 150.2,547.9 150.6,547.3 150.9,547.1 151.2,547.6 151.6,547.0 151.9,547.8 152.2,547.2 152.5,547.6 152.9,547.9 153.2,547.3 153.5,547.4 153.9,547.9 154.2,547.9 154.5,547.2 154.8,547.3 155.2,547.7 155.5,547.8 155.8,547.6 156.2,547.4 156.5,547.9 156.8,547.8 157.2,547.9 157.5,547.7 157.8,547.7 158.2,547.6 158.5,547.3 158.8,547.3 159.1,547.4 159.5,547.1 159.8,546.5 160.1,546.7 160.5,545.9 160.8,545.6 161.1,544.7 161.4,543.7 161.8,542.8 162.1,541.9 162.3,541.2 162.4,540.3 162.5,540.3 162.7,540.3 162.8,541.5 163.1,541.7 163.4,543.2 163.8,544.7 164.1,545.3 164.4,534.0 164.7,516.3 164.8,511.5 164.8,510.8 164.9,516.6 165.1,526.3 165.4,544.9 165.7,547.4 166.1,547.4 166.4,547.1 166.7,547.2 167.1,547.5 167.4,547.5 167.7,547.7 168.1,547.8 168.4,547.5 168.7,547.9 169.0,548.0 169.4,548.0 169.7,548.0 170.0,547.3 170.4,547.4 170.7,547.2 171.0,547.8 171.3,547.7 171.7,547.6 172.0,547.4 172.3,547.8 172.7,547.8 173.0,547.3 173.3,547.8 173.7,547.8 174.0,548.1 174.0,548.4 174.3,547.7 174.7,547.2 175.0,546.7 175.3,546.6 175.6,546.1 176.0,545.0 176.3,545.1 176.6,545.1 177.0,544.7 177.3,543.5 177.6,543.9 177.9,543.8 178.3,542.4 178.6,542.8 178.7,541.8 178.9,541.5 179.3,540.4 179.6,538.2 179.9,537.8 180.3,536.0 180.6,534.9 180.9,533.5 181.2,531.5 181.6,533.6 181.9,530.6 182.2,532.0 182.3,529.0 182.6,527.5 182.9,527.3 183.2,525.0 183.6,522.7 183.9,518.7 184.0,516.6 184.2,513.0 184.6,504.9 184.9,499.5 185.1,498.4 185.2,503.0 185.5,488.0 185.9,491.6 185.9,495.9 186.2,482.6 186.5,480.3 186.6,482.9 186.9,483.4 187.2,465.7 187.3,459.2 187.5,459.6 187.8,440.8 187.9,439.6 188.2,429.2 188.2,425.2 188.3,414.9 188.4,429.1 188.5,437.2 188.8,463.5 188.8,449.6 189.2,515.7 189.3,521.7 189.5,528.7 189.8,535.3 190.2,539.0 190.5,541.1 190.8,542.9 191.2,544.0 191.5,544.9 191.8,536.5 192.1,520.1 192.1,515.6 192.2,514.6 192.3,519.6 192.5,527.8 192.8,545.2 193.1,546.9 193.5,536.5 193.8,511.2 193.8,508.3 193.9,505.0 194.1,511.2 194.1,517.1 194.4,542.9 194.8,547.5 195.1,547.9 195.4,547.6 195.8,547.4 196.1,547.7 196.4,547.3 196.8,547.8 197.1,547.6 197.4,546.2 197.8,544.5 197.8,544.2 198.0,543.9 198.1,543.7 198.2,544.1 198.4,545.1 198.7,547.2 199.1,547.1 199.4,547.6 199.7,547.0 200.1,547.1 200.4,547.5 200.7,547.7 201.1,547.2 201.4,547.1 201.7,548.0 202.0,547.4 202.4,547.1 202.7,547.5 203.0,546.9 203.4,538.0 203.6,529.2 203.7,526.5 203.7,526.6 203.8,530.3 204.0,537.9 204.3,546.6 204.7,547.9 205.0,548.0 205.3,547.4 205.7,547.3 206.0,547.6 206.3,547.0 206.7,545.7 207.0,545.1 207.3,544.4 207.7,542.9 208.0,542.0 208.3,540.9 208.6,540.0 209.0,538.7 209.0,538.6 209.3,537.4 209.6,536.7 210.0,535.7 210.3,526.9 210.4,523.6 210.6,523.2 210.6,523.3 210.8,524.2 210.9,528.2 211.3,535.7 211.6,532.2 211.9,532.2 212.0,529.9 212.3,530.6 212.4,517.1 212.6,512.5 212.8,517.6 212.9,529.1 213.3,530.4 213.6,529.7 213.9,513.0 213.9,511.0 214.1,504.6 214.2,511.0 214.5,531.6 214.6,530.5 214.9,536.3 215.2,543.7 215.5,548.2 215.6,547.7 215.9,547.8 216.2,547.7 216.6,548.3 216.9,547.7 217.2,548.1 217.6,548.2 217.9,548.1 218.2,548.0 218.5,547.5 218.9,547.2 219.2,546.9 219.5,545.6 219.8,544.4 219.9,543.9 220.0,543.6 220.2,544.1 220.2,544.3 220.5,545.4 220.8,547.4 221.2,548.1 221.5,548.3 221.8,548.5 222.2,547.8 222.5,548.4 222.8,547.8 223.2,548.1 223.5,548.2 223.8,547.5 224.2,547.6 224.5,548.0 224.8,547.5 225.1,546.7 225.5,545.7 225.8,545.0 225.8,544.4 226.0,544.4 226.1,544.6 226.2,545.0 226.5,545.5 226.8,546.7 227.1,547.4 227.4,547.8 227.8,548.2 228.1,548.2 228.4,548.3 228.8,548.4 229.1,548.5 229.4,547.7 229.8,548.0 230.1,547.4 230.4,547.2 230.8,547.8 231.1,547.8 231.4,547.6 231.7,547.8 232.1,548.1 232.4,548.0 232.7,547.7 233.1,548.4 233.4,547.7 233.7,548.0 234.1,548.2 234.4,548.1 234.7,548.0 235.0,548.1 235.4,548.4 235.7,547.7 236.0,547.7 236.4,547.8 236.7,548.4 237.0,547.7 237.3,548.2 237.7,548.4 238.0,548.6 238.3,548.0 238.3,548.6 238.7,547.1 239.0,546.1 239.3,545.2 239.7,543.5 240.0,539.5 240.0,538.6 240.1,537.4 240.2,536.2 240.3,537.3 240.3,537.5 240.7,540.2 241.0,540.3 241.3,538.8 241.6,539.3 242.0,538.7 242.3,537.5 242.6,535.5 243.0,536.4 243.3,534.4 243.6,535.5 243.9,533.0 244.3,534.1 244.6,532.8 244.9,531.0 245.3,531.1 245.6,530.2 245.9,531.0 246.3,527.2 246.5,529.3 246.6,529.1 246.9,527.8 247.2,526.8 247.6,523.0 247.9,521.8 248.2,523.0 248.6,520.8 248.9,524.6 249.2,524.1 249.6,521.3 249.9,517.8 250.2,516.9 250.4,514.5 250.6,516.5 250.9,517.4 251.2,514.7 251.4,514.5 251.5,511.9 251.6,510.7 251.8,516.4 251.9,513.0 252.2,511.4 252.5,510.7 252.9,511.8 253.2,511.5 253.3,506.4 253.5,506.9 253.5,507.4 253.7,504.7 253.8,509.3 254.2,512.8 254.5,510.8 254.8,512.9 255.2,516.5 255.3,513.0 255.5,512.3 255.7,517.4 255.8,531.0 256.1,545.3 256.2,546.2 256.5,547.3 256.8,547.9 257.1,547.6 257.5,547.9 257.8,547.2 258.1,547.7 258.5,547.8 258.8,547.8 259.1,547.9 259.5,547.5 259.8,547.3 260.1,547.3 260.4,547.2 260.8,547.5 261.1,547.6 261.4,547.6 261.8,547.5 261.8,548.0 262.1,548.0 262.4,547.9 262.8,547.7 263.1,547.6 263.4,547.2 263.8,547.3 264.1,546.5 264.4,546.8 264.7,546.2 265.1,546.0 265.4,545.6 265.7,545.6 266.1,545.3 266.4,545.4 266.7,544.6 267.1,545.4 267.4,544.5 267.7,544.4 268.0,544.0 268.0,544.5 268.4,544.1 268.7,544.2 269.0,543.5 269.4,543.8 269.7,542.4 270.0,542.5 270.4,543.2 270.7,541.6 271.0,541.2 271.3,541.2 271.7,541.2 272.0,541.3 272.3,541.7 272.7,540.2 273.0,539.8 273.0,540.8 273.3,541.2 273.6,540.3 274.0,539.6 274.3,538.7 274.6,537.6 275.0,537.8 275.0,535.8 275.3,536.9 275.6,533.5 276.0,528.4 276.3,523.4 276.4,522.9 276.5,523.5 276.6,525.4 276.6,526.5 276.9,526.3 277.3,531.8 277.6,535.8 277.9,538.8 278.0,538.3 278.3,539.3 278.6,540.5 278.9,541.1 279.3,542.4 279.6,542.3 279.9,543.4 280.2,543.8 280.3,544.4 280.6,543.0 280.9,542.6 281.2,541.6 281.6,541.2 281.9,539.3 282.2,539.5 282.6,538.9 282.9,537.3 283.0,537.7 283.2,537.1 283.6,533.8 283.9,534.2 284.2,533.7 284.5,533.6 284.9,532.2 285.2,530.5 285.5,528.4 285.9,515.8 285.9,515.0 286.0,511.0 286.1,516.3 286.2,519.3 286.5,531.7 286.9,533.4 287.2,530.0 287.5,531.2 287.8,528.2 288.2,524.6 288.5,514.4 288.6,495.2 288.8,486.9 288.8,487.5 288.9,495.6 289.2,522.9 289.5,545.7 289.5,546.4 289.8,547.9 290.1,547.5 290.5,547.2 290.8,548.0 291.1,547.7 291.5,548.0 291.8,547.7 292.1,548.5 292.5,548.4 292.8,548.2 293.1,547.9 293.4,547.9 293.8,548.0 294.1,547.9 294.4,548.0 294.8,547.4 295.1,547.6 295.4,548.2 295.8,547.3 296.1,547.1 296.4,547.7 296.8,547.2 297.1,547.7 297.4,547.1 297.7,547.9 298.1,547.1 298.4,547.4 298.7,548.1 299.1,547.7 299.4,547.8 299.5,547.9 299.7,548.2 300.1,548.2 300.4,547.7 300.7,547.1 301.0,546.6 301.4,547.4 301.7,546.6 302.0,546.0 302.4,546.4 302.7,545.6 303.0,546.2 303.4,545.8 303.7,546.1 304.0,545.5 304.3,546.6 304.7,546.0 305.0,545.5 305.3,544.8 305.7,544.3 306.0,545.1 306.3,544.5 306.6,544.2 307.0,543.9 307.3,544.0 307.6,543.5 308.0,543.5 308.3,543.5 308.6,543.3 309.0,542.7 309.3,542.1 309.6,542.8 309.9,542.4 310.0,542.2 310.3,541.6 310.6,541.2 310.9,541.7 311.3,541.5 311.6,541.7 311.9,539.0 311.9,538.8 312.0,538.8 312.1,539.4 312.3,541.0 312.6,542.2 312.9,542.1 313.2,540.4 313.6,541.6 313.9,540.0 314.2,539.9 314.6,539.2 314.9,538.7 314.9,537.6 315.0,537.7 315.1,538.6 315.2,539.3 315.6,540.0 315.9,539.2 316.2,538.3 316.6,538.5 316.9,537.6 317.2,539.3 317.5,537.3 317.9,537.0 318.0,537.7 318.2,536.1 318.4,532.7 318.5,532.0 318.5,531.7 318.6,532.7 318.9,537.2 319.2,538.2 319.5,536.5 319.9,536.7 320.2,536.0 320.5,536.5 320.8,536.7 321.2,537.7 321.5,529.2 321.6,525.5 321.8,523.2 321.8,523.9 321.9,525.6 322.0,525.7 322.2,531.5 322.5,538.3 322.8,538.2 323.1,536.4 323.5,536.9 323.8,537.6 324.1,537.2 324.5,537.7 324.8,537.4 325.1,538.1 325.5,534.3 325.8,525.1 325.8,524.4 325.9,523.1 326.0,523.9 326.1,525.3 326.1,526.5 326.4,538.4 326.8,545.3 327.0,547.2 327.1,546.8 327.4,546.4 327.8,545.3 328.1,545.1 328.4,544.3 328.8,543.0 328.9,542.3 329.1,541.3 329.1,541.4 329.2,541.9 329.4,542.3 329.8,543.9 330.1,544.7 330.4,546.0 330.7,546.2 331.1,547.3 331.4,547.4 331.7,547.0 332.1,547.5 332.4,547.4 332.7,547.3 333.1,547.0 333.4,547.2 333.7,546.8 334.0,547.7 334.4,546.9 334.7,547.1 335.0,547.4 335.4,547.5 335.7,547.2 336.0,547.8 336.4,547.9 336.7,547.2 337.0,547.0 337.3,546.8 337.7,547.4 338.0,547.3 338.3,547.1 338.7,547.8 339.0,548.2 339.3,548.0 339.6,547.6 340.0,548.2 340.3,548.0 340.6,548.2 341.0,547.2 341.3,548.0 341.6,548.0 342.0,547.7 342.3,547.6 342.6,547.8 342.9,548.0 343.3,548.3 343.6,547.8 343.9,547.6 344.3,547.9 344.6,547.4 344.9,543.3 345.3,506.5 345.4,469.7 345.6,456.2 345.6,457.0 345.8,469.1 345.9,502.2 346.2,542.3 346.6,548.0 346.9,548.2 347.2,548.1 347.6,547.4 347.9,547.8 348.2,547.6 348.6,548.4 348.9,548.0 349.2,547.6 349.6,546.9 349.9,543.6 350.1,543.2 350.2,542.0 350.2,543.0 350.4,542.7 350.5,544.4 350.9,546.2 351.2,547.6 351.5,548.3 351.9,548.6 352.2,548.1 352.5,547.7 352.9,548.7 353.2,547.7 353.5,548.5 353.8,548.0 354.2,548.4 354.5,547.5 354.8,546.7 355.2,545.6 355.4,544.8 355.5,544.4 355.5,544.9 355.6,545.2 355.8,546.2 356.1,547.1 356.5,547.2 356.8,548.4 357.1,548.4 357.5,547.3 357.8,548.3 358.1,548.2 358.5,547.6 358.8,546.1 358.9,545.6 359.0,545.9 359.1,546.0 359.1,545.4 359.4,546.4 359.8,548.2 360.1,548.2 360.4,548.5 360.8,547.5 361.1,547.4 361.4,548.4 361.8,548.1 362.1,548.1 362.4,548.5 362.8,548.7 363.1,547.8 363.4,547.2 363.7,545.1 363.9,545.2 364.0,544.6 364.1,544.1 364.1,545.0 364.4,546.0 364.7,548.0 365.1,548.4 365.4,547.5 365.7,547.6 366.1,548.2 366.4,547.2 366.7,547.3 367.0,548.7 367.4,547.9 367.7,548.1 368.0,548.5 368.4,548.4 368.7,548.3 369.0,548.2 369.4,547.6 369.7,548.3 370.0,547.8 370.3,547.6 370.7,547.5 371.0,547.8 371.3,548.7 371.7,548.1 372.0,548.4 372.3,547.7 372.6,547.8 373.0,548.5 373.3,548.0 373.6,547.5 374.0,547.3 374.3,548.4 374.6,547.2 375.0,548.0 375.3,547.2 375.6,547.6 375.9,547.5 376.3,547.5 376.6,548.6 376.9,548.6 377.3,548.7 377.6,548.0 377.9,548.7 378.3,548.4 378.6,548.4 378.9,548.0 379.2,548.6 379.6,548.7 379.9,548.7 380.2,547.2 380.6,547.6 380.9,547.8 381.2,548.4 381.6,547.5 381.9,548.4 382.2,547.6 382.6,548.1 382.9,548.3 383.2,547.7 383.5,547.3 383.9,547.3 384.2,548.2 384.5,548.0 384.9,546.9 385.2,546.7 385.5,547.5 385.9,548.1 386.2,548.3 386.5,547.2 386.8,547.7 387.2,548.6 387.5,548.4 387.8,548.5 388.2,548.7 388.5,547.7 388.8,548.1 389.1,547.8 389.5,548.1 389.8,548.4 390.1,547.2 390.5,547.6 390.8,547.2 391.1,546.8 391.5,547.8 391.8,547.0 392.1,546.7 392.4,547.4 392.8,546.5 393.1,547.4 393.4,546.5 393.8,546.6 394.1,547.0 394.4,546.2 394.8,547.1 395.1,546.5 395.4,545.6 395.8,545.3 396.1,545.6 396.4,544.7 396.7,542.9 397.1,542.9 397.4,540.9 397.7,539.2 398.1,538.3 398.4,536.9 398.4,537.6 398.5,536.3 398.6,535.5 398.7,535.7 399.1,538.5 399.4,540.8 399.7,541.5 400.0,542.9 400.4,543.4 400.7,544.4 401.0,545.3 401.4,545.9 401.7,545.0 402.0,546.4 402.4,546.3 402.7,546.2 403.0,546.7 403.3,547.3 403.7,546.8 404.0,547.9 404.3,547.3 404.7,546.8 405.0,547.8 405.3,548.1 405.6,547.9 406.0,547.9 406.3,547.7 406.6,548.0 407.0,548.5 407.3,548.7 407.6,548.6 408.0,548.1 408.3,547.2 408.6,548.1 408.9,547.2 409.3,548.0 409.6,543.6 409.9,510.2 409.9,508.7 410.1,499.2 410.2,509.8 410.3,511.6 410.6,545.0 410.9,548.4 411.3,547.9 411.6,547.9 411.9,547.0 412.2,548.2 412.6,547.1 412.9,548.5 413.2,547.6 413.6,548.6 413.9,548.7 414.2,547.7 414.6,548.0 414.9,548.7 415.2,548.7 415.6,548.7 415.9,548.7 416.2,548.7 416.5,548.7 416.9,548.4 417.2,548.7 417.5,548.7 417.9,548.1 418.2,547.8 418.5,548.7 418.9,547.8 419.2,547.5 419.5,546.5 419.8,545.3 419.9,546.6 420.0,545.5 420.1,545.5 420.2,545.3 420.5,545.9 420.8,547.7 421.2,548.0 421.5,548.3 421.8,547.8 422.1,547.2 422.5,547.3 422.8,547.5 423.1,547.5 423.5,546.5 423.8,546.8 424.1,547.3 424.5,547.1 424.8,547.5 425.1,547.0 425.4,548.5 425.8,547.1 426.1,548.2 426.4,548.0 426.8,548.4 427.1,548.1 427.4,547.4 427.8,547.5 428.1,548.7 428.4,548.3 428.8,548.6 429.1,548.3 429.4,547.9 429.7,548.5 430.1,548.1 430.4,547.4 430.7,547.2 431.1,547.2 431.4,546.0 431.7,545.0 431.9,545.0 432.0,544.8 432.1,544.7 432.1,545.0 432.4,546.6 432.7,547.7 433.0,547.2 433.4,547.7 433.7,548.7 434.0,548.7 434.4,548.6 434.7,548.7 435.0,548.1 435.4,548.7 435.7,548.0 436.0,548.1 436.3,548.0 436.7,548.2 437.0,547.8 437.3,547.7 437.7,548.7 438.0,548.2 438.3,548.5 438.6,548.6 439.0,548.4 439.3,546.9 439.6,547.3 440.0,546.8 440.3,547.2 440.6,547.0 441.0,547.3 441.3,548.4 441.6,547.2 441.9,548.7 442.3,548.7 442.6,548.2 442.9,548.7 443.3,548.7 443.6,548.1 443.9,547.8 444.3,547.9 444.6,547.2 444.9,547.7 445.2,547.1 445.6,547.4 445.9,547.7 446.2,546.7 446.6,546.7 446.9,547.7 447.2,547.0 447.6,547.2 447.9,547.1 448.2,547.5 448.6,547.8 448.9,546.6 449.2,546.7 449.5,546.4 449.9,545.3 449.9,547.1 450.0,545.7 450.1,546.3 450.2,546.1 450.5,547.6 450.9,548.1 451.2,548.0 451.5,548.7 451.9,548.7 452.2,548.6 452.5,547.7 452.8,547.6 453.2,548.7 453.5,547.7 453.8,548.3 454.2,548.0 454.5,548.4 454.8,548.2 455.1,548.3 455.5,548.6 455.8,548.4 456.1,548.6 456.5,548.6 456.8,548.3 457.1,548.1 457.5,547.9 457.8,548.7 458.1,547.2 458.4,548.3 458.8,547.8 459.1,547.9 459.4,547.2 459.8,548.3 460.1,547.5 460.4,548.1 460.8,547.1 461.1,548.2 461.4,547.1 461.8,547.2 462.1,546.8 462.4,548.2 462.7,547.9 463.1,548.6 463.4,547.8 463.7,548.4 464.1,547.4 464.4,547.7 464.7,548.1 465.1,547.5 465.4,546.6 465.7,547.3 466.0,546.9 466.4,547.2 466.7,547.5 467.0,544.8 467.4,543.1 467.6,542.2 467.7,541.5 467.7,541.3 467.9,542.6 468.0,541.9 468.4,543.6 468.7,542.8 469.0,540.6 469.3,537.5 469.4,537.9 469.6,537.4 469.7,538.4 469.8,537.3 470.0,539.4 470.3,541.2 470.7,542.5 471.0,543.9 471.3,545.1 471.6,545.1 472.0,545.2 472.3,546.4 472.6,546.7 473.0,546.8 473.3,546.6 473.6,546.7 474.0,547.5 474.3,547.3 474.6,547.1 474.9,548.0 475.3,548.1 475.6,548.6 475.9,548.7 476.3,548.7 476.6,547.3 476.9,547.7 477.3,548.0 477.6,547.9 477.9,547.9 478.2,547.4 478.6,548.2 478.9,548.3 479.2,548.7 479.6,547.9 479.9,548.7 480.2,548.7 480.6,548.5 480.9,547.4 481.2,547.9 481.6,548.3 481.9,548.2 482.2,548.4 482.5,548.0 482.9,546.8 483.2,546.9 483.5,546.6 483.9,546.9 484.2,547.4 484.5,546.4 484.9,541.4 485.1,535.3 485.2,534.3 485.2,532.8 485.4,534.9 485.5,540.8 485.8,546.9 486.2,547.3 486.5,546.3 486.8,547.1 487.2,545.7 487.5,541.6 487.6,540.2 487.7,539.3 487.8,539.1 487.9,540.5 488.1,546.2 488.5,548.0 488.8,547.4 489.1,547.5 489.5,548.2 489.8,547.4 490.1,546.3 490.5,547.2 490.8,545.4 491.1,546.2 491.4,545.3 491.8,543.8 492.1,542.9 492.4,541.2 492.8,537.7 493.1,533.1 493.4,527.1 493.6,523.4 493.8,521.6 493.8,522.0 493.9,524.1 494.1,526.0 494.4,533.2 494.8,537.3 495.1,540.5 495.4,542.7 495.7,543.6 496.1,544.2 496.4,544.5 496.7,545.6 497.1,545.2 497.4,545.8 497.7,546.9 498.1,546.1 498.4,547.2 498.7,546.7 499.0,547.3 499.4,546.5 499.7,545.6 499.9,546.3 500.0,545.9 500.0,545.0 500.1,546.6 500.4,546.6 500.7,548.3 501.0,548.6 501.4,548.7 501.7,547.9 502.0,548.7 502.3,548.2 502.7,548.2 503.0,548.7 503.3,547.9 503.7,548.3 504.0,547.1 504.3,546.4 504.6,546.3 504.9,546.4 505.0,546.2 505.0,545.7 505.1,546.0 505.3,545.7 505.6,546.4 506.0,547.9 506.3,547.5 506.6,548.4 507.0,548.5 507.3,547.7 507.6,547.0 507.9,547.3 508.3,548.3 508.6,547.7 508.9,547.5 509.3,547.3 509.6,547.9 509.9,548.5 510.3,548.4 510.6,548.5 510.9,547.7 511.2,548.0 511.6,546.9 511.9,546.2 511.9,546.7 512.0,546.5 512.1,547.1 512.2,546.4 512.6,548.1 512.9,547.5 513.2,548.0 513.6,548.7 513.9,548.7 514.2,548.7 514.5,548.2 514.9,548.7 515.2,548.7 515.5,548.7 515.9,548.7 516.2,548.5 516.5,547.5 516.9,548.5 517.2,547.4 517.5,545.8 517.9,544.9 518.0,545.3 518.1,546.0 518.2,545.7 518.5,546.2 518.8,546.5 519.2,547.4 519.5,548.6 519.8,547.1 520.2,547.2 520.5,547.7 520.8,546.7 521.1,546.3 521.5,547.5 521.8,547.1 522.1,547.3 522.5,547.7 522.8,547.8 523.1,548.2 523.5,548.7 523.8,548.4 524.1,547.1 524.5,547.3 524.8,547.0 525.1,545.8 525.4,545.5 525.8,544.6 526.1,543.0 526.4,541.0 526.8,538.3 526.8,537.0 526.9,536.5 527.0,538.3 527.1,537.2 527.4,541.6 527.8,543.4 528.1,542.8 528.4,541.1 528.6,540.7 528.7,540.4 528.8,539.9 529.0,539.2 529.1,541.3 529.4,542.9 529.7,544.4 530.1,546.7 530.4,546.7 530.7,547.1 531.0,547.5 531.4,547.8 531.7,548.6 532.0,548.7 532.4,548.0 532.7,547.2 533.0,548.0 533.4,547.3 533.7,547.7 534.0,547.0 534.4,546.4 534.7,545.3 534.9,545.7 535.0,545.7 535.0,546.2 535.1,545.9 535.3,545.1 535.7,545.5 536.0,547.5 536.3,547.5 536.7,547.8 537.0,547.4 537.3,547.8 537.6,548.6 538.0,548.2 538.3,548.2 538.6,548.5 539.0,547.4 539.3,547.7 539.6,547.4 540.0,547.8 540.3,547.9 540.6,547.9 541.0,547.8 541.3,547.8 541.6,548.2 541.9,548.7 542.3,547.6" stroke="#e81010" stroke-opacity="0.62"/>
<path d="M41.0,547.4 41.3,547.5 41.7,547.6 42.0,547.8 42.3,547.4 42.6,547.5 43.0,547.5 43.3,547.7 43.6,547.2 44.0,547.8 44.3,547.6 44.6,547.3 45.0,547.5 45.3,547.5 45.6,547.6 46.0,547.9 46.3,547.3 46.6,547.3 46.9,547.8 47.3,547.4 47.6,547.2 47.9,547.3 48.3,547.6 48.6,547.9 48.9,547.3 49.2,547.3 49.6,547.6 49.9,547.6 50.2,547.9 50.6,547.8 50.9,547.5 51.2,547.5 51.6,548.0 51.9,548.2 52.2,547.5 52.5,547.8 52.9,547.9 53.2,547.8 53.5,547.4 53.9,547.6 54.2,547.5 54.5,547.1 54.9,547.4 55.2,547.1 55.5,547.1 55.9,547.5 56.2,547.6 56.5,547.6 56.8,547.8 57.2,548.1 57.5,548.1 57.8,548.0 58.2,548.0 58.5,547.7 58.8,547.5 59.1,547.4 59.5,547.6 59.8,547.6 60.1,547.8 60.5,547.5 60.8,547.5 61.1,547.9 61.5,547.7 61.8,547.9 62.1,547.4 62.5,547.5 62.8,547.7 63.1,545.9 63.4,535.3 63.5,530.2 63.7,527.4 63.8,528.4 63.9,530.5 64.1,541.2 64.4,547.4 64.8,547.5 65.1,547.5 65.4,548.0 65.8,547.3 66.1,547.4 66.4,547.4 66.7,547.6 67.1,547.8 67.4,547.5 67.7,547.6 68.1,547.7 68.4,547.3 68.7,547.3 69.0,547.4 69.4,547.5 69.7,547.2 70.0,547.2 70.4,547.2 70.7,547.7 71.0,547.8 71.4,547.8 71.7,547.6 72.0,547.1 72.3,547.5 72.7,547.7 73.0,547.2 73.3,547.0 73.7,547.3 74.0,547.3 74.3,547.2 74.7,547.2 75.0,547.4 75.3,547.9 75.7,547.3 76.0,547.7 76.3,547.5 76.6,547.4 77.0,547.7 77.3,546.8 77.6,538.0 78.0,512.1 78.0,511.5 78.1,506.2 78.2,512.3 78.3,515.3 78.6,540.9 79.0,547.2 79.3,547.3 79.6,545.2 79.9,536.8 80.0,536.5 80.1,534.5 80.2,537.0 80.3,537.4 80.6,545.7 80.9,547.7 81.3,547.9 81.6,547.4 81.9,547.9 82.2,547.2 82.6,547.5 82.9,547.2 83.2,547.4 83.6,547.3 83.9,547.5 84.2,547.7 84.6,547.7 84.9,547.3 85.2,547.6 85.5,547.6 85.9,547.7 86.2,547.1 86.5,547.6 86.9,547.8 87.2,547.4 87.5,547.4 87.9,547.9 88.2,547.5 88.5,547.4 88.8,547.6 89.2,547.5 89.5,547.3 89.8,547.3 90.2,547.4 90.5,547.7 90.8,547.7 91.2,548.0 91.5,547.4 91.8,547.7 92.2,548.0 92.5,547.9 92.8,547.9 93.1,548.2 93.5,547.7 93.8,547.7 94.1,547.5 94.5,547.8 94.8,547.7 95.1,547.9 95.5,547.5 95.8,547.4 96.1,547.7 96.4,547.9 96.8,547.5 97.1,548.0 97.4,547.7 97.8,547.7 98.1,548.1 98.4,547.8 98.8,548.1 99.1,548.4 99.4,548.0 99.7,547.7 100.1,547.6 100.4,547.8 100.7,547.4 101.1,547.6 101.4,547.6 101.7,547.9 102.0,547.9 102.4,547.5 102.7,547.2 103.0,544.5 103.0,544.4 103.2,544.2 103.3,544.7 103.4,544.4 103.7,547.0 104.0,547.8 104.4,547.3 104.7,547.8 105.0,547.3 105.3,547.9 105.7,547.8 106.0,546.7 106.3,544.2 106.3,543.9 106.5,542.6 106.7,543.3 106.7,543.6 107.0,547.0 107.3,547.1 107.7,547.2 108.0,547.5 108.3,547.2 108.7,547.2 109.0,543.2 109.2,539.8 109.3,538.3 109.3,538.1 109.5,540.0 109.6,543.3 110.0,547.0 110.3,547.6 110.6,547.6 111.0,547.9 111.3,547.9 111.6,547.9 112.0,547.6 112.3,547.4 112.6,547.2 112.9,547.8 113.3,547.3 113.6,547.6 113.9,547.8 114.3,547.6 114.6,547.8 114.9,547.8 115.2,548.2 115.6,548.0 115.9,548.2 116.2,547.4 116.6,548.1 116.9,547.7 117.2,547.7 117.6,548.2 117.9,548.0 118.2,548.0 118.5,547.9 118.9,548.0 119.2,547.8 119.5,547.8 119.9,548.0 120.2,547.8 120.5,547.5 120.9,547.9 121.2,548.0 121.5,548.0 121.8,547.3 122.2,547.5 122.5,547.2 122.8,547.5 123.2,547.8 123.5,547.5 123.8,547.3 124.2,547.4 124.5,547.4 124.8,547.7 125.2,547.3 125.5,547.3 125.8,546.9 126.1,542.6 126.3,538.0 126.5,535.9 126.5,536.0 126.7,537.4 126.8,541.7 127.1,546.7 127.5,547.7 127.8,547.4 128.1,547.2 128.4,547.3 128.8,547.9 129.1,547.7 129.4,547.8 129.8,547.8 130.1,548.1 130.4,548.1 130.8,547.8 131.1,548.2 131.4,547.9 131.8,548.2 132.1,548.1 132.4,548.1 132.7,547.3 133.1,547.6 133.4,547.4 133.7,547.5 134.1,547.6 134.4,547.3 134.7,547.3 135.1,547.6 135.4,547.2 135.7,547.5 136.0,547.9 136.4,547.5 136.7,547.5 137.0,547.2 137.4,544.2 137.4,542.6 137.6,541.7 137.7,542.4 137.8,542.7 138.0,546.3 138.3,547.4 138.7,547.5 139.0,548.0 139.3,548.1 139.7,547.3 140.0,547.4 140.3,547.4 140.7,547.6 141.0,547.6 141.3,548.1 141.7,547.5 142.0,547.6 142.3,548.0 142.6,547.8 143.0,547.4 143.3,547.3 143.6,547.6 144.0,547.4 144.3,547.4 144.6,547.9 144.9,547.0 145.3,546.2 145.6,543.5 145.9,539.8 146.2,537.1 146.3,537.5 146.4,537.2 146.6,537.0 146.6,538.0 146.9,540.8 147.3,544.0 147.6,546.3 147.9,547.2 148.2,548.2 148.6,548.1 148.9,547.5 149.2,547.2 149.6,547.1 149.9,547.2 150.2,547.1 150.6,546.8 150.9,547.1 151.2,547.6 151.6,547.1 151.9,547.5 152.2,547.8 152.5,547.4 152.9,547.4 153.2,547.3 153.5,547.3 153.9,548.0 154.2,547.7 154.5,547.6 154.8,547.7 155.2,547.1 155.5,547.3 155.8,547.8 156.2,547.4 156.5,547.6 156.8,547.0 157.2,547.1 157.5,547.2 157.8,547.2 158.2,546.5 158.5,546.8 158.8,546.5 159.1,547.0 159.5,547.1 159.8,546.5 160.1,545.8 160.5,545.8 160.8,545.1 161.1,543.7 161.4,543.3 161.8,541.5 162.1,540.1 162.3,539.6 162.4,539.0 162.5,539.1 162.7,538.7 162.8,538.7 163.1,540.9 163.4,542.5 163.8,544.2 164.1,545.4 164.4,532.6 164.7,512.9 164.8,507.5 164.8,506.8 164.9,512.6 165.1,524.0 165.4,544.0 165.7,546.9 166.1,546.9 166.4,547.2 166.7,547.5 167.1,547.2 167.4,546.9 167.7,547.3 168.1,547.3 168.4,547.4 168.7,547.6 169.0,547.1 169.4,547.3 169.7,547.7 170.0,546.8 170.4,547.1 170.7,547.5 171.0,547.8 171.3,547.9 171.7,547.5 172.0,548.1 172.3,547.7 172.7,547.7 173.0,547.3 173.3,547.9 173.7,547.8 174.0,548.0 174.0,548.0 174.3,547.0 174.7,547.1 175.0,546.6 175.3,545.7 175.6,545.0 176.0,545.1 176.3,544.6 176.6,544.4 177.0,543.3 177.3,543.7 177.6,541.9 177.9,541.7 178.3,542.1 178.6,541.4 178.7,541.3 178.9,539.8 179.3,539.8 179.6,537.5 179.9,537.0 180.3,534.1 180.6,532.3 180.9,532.6 181.2,530.9 181.6,528.9 181.9,528.1 182.2,526.5 182.3,526.5 182.6,522.3 182.9,520.7 183.2,518.3 183.6,516.5 183.9,511.0 184.0,514.9 184.2,510.3 184.6,505.1 184.9,500.2 185.1,496.9 185.2,493.8 185.5,493.7 185.9,490.7 185.9,487.8 186.2,476.4 186.5,471.1 186.6,476.5 186.9,454.5 187.2,452.8 187.3,446.0 187.5,435.9 187.8,426.3 187.9,417.4 188.2,416.1 188.2,412.1 188.3,403.6 188.4,415.5 188.5,423.4 188.8,440.1 188.8,440.7 189.2,512.4 189.3,519.0 189.5,526.5 189.8,534.0 190.2,537.9 190.5,540.6 190.8,542.5 191.2,543.6 191.5,544.2 191.8,534.9 192.1,516.5 192.1,511.7 192.2,510.5 192.3,515.8 192.5,524.8 192.8,544.7 193.1,546.1 193.5,534.9 193.8,506.7 193.8,503.7 193.9,499.6 194.1,506.8 194.1,513.0 194.4,541.4 194.8,546.6 195.1,547.0 195.4,546.9 195.8,547.0 196.1,546.9 196.4,547.0 196.8,547.2 197.1,547.0 197.4,546.2 197.8,544.2 197.8,543.6 198.0,542.8 198.1,543.1 198.2,543.6 198.4,544.7 198.7,546.8 199.1,547.7 199.4,547.4 199.7,548.1 200.1,547.2 200.4,547.8 200.7,547.6 201.1,547.3 201.4,547.2 201.7,547.6 202.0,547.4 202.4,547.2 202.7,547.3 203.0,546.2 203.4,537.1 203.6,527.1 203.7,523.5 203.7,523.8 203.8,526.5 204.0,535.0 204.3,546.0 204.7,547.3 205.0,547.5 205.3,547.3 205.7,547.6 206.0,547.8 206.3,546.3 206.7,545.5 207.0,544.7 207.3,544.0 207.7,542.4 208.0,541.5 208.3,540.3 208.6,541.2 209.0,538.7 209.0,537.8 209.3,537.2 209.6,536.5 210.0,535.2 210.3,524.1 210.4,520.5 210.6,519.6 210.6,519.1 210.8,521.2 210.9,525.6 211.3,530.0 211.6,529.8 211.9,529.7 212.0,528.8 212.3,527.2 212.4,514.2 212.6,508.0 212.8,513.5 212.9,528.8 213.3,528.6 213.6,527.3 213.9,508.7 213.9,505.7 214.1,499.0 214.2,506.1 214.5,528.7 214.6,530.8 214.9,537.9 215.2,543.0 215.5,547.5 215.6,547.3 215.9,547.5 216.2,547.3 216.6,547.7 216.9,548.0 217.2,547.5 217.6,547.5 217.9,547.4 218.2,548.3 218.5,547.9 218.9,547.3 219.2,547.0 219.5,545.0 219.8,544.0 219.9,543.6 220.0,543.2 220.2,543.2 220.2,543.2 220.5,545.3 220.8,546.4 221.2,547.8 221.5,548.0 221.8,547.6 222.2,547.9 222.5,547.9 222.8,547.9 223.2,547.7 223.5,547.5 223.8,547.7 224.2,547.4 224.5,547.8 224.8,547.8 225.1,547.5 225.5,546.0 225.8,544.8 225.8,544.6 226.0,544.5 226.1,544.2 226.2,544.2 226.5,545.3 226.8,546.3 227.1,547.0 227.4,547.8 227.8,548.0 228.1,547.9 228.4,548.3 228.8,547.6 229.1,548.2 229.4,547.9 229.8,547.5 230.1,547.5 230.4,547.4 230.8,547.6 231.1,548.2 231.4,547.9 231.7,547.4 232.1,547.8 232.4,548.1 232.7,548.1 233.1,547.5 233.4,547.7 233.7,547.5 234.1,547.7 234.4,547.9 234.7,547.4 235.0,547.8 235.4,548.3 235.7,548.1 236.0,547.9 236.4,547.9 236.7,548.2 237.0,547.6 237.3,548.1 237.7,548.1 238.0,547.5 238.3,547.3 238.3,547.5 238.7,545.9 239.0,544.8 239.3,543.0 239.7,541.8 240.0,537.9 240.0,537.6 240.1,536.0 240.2,534.7 240.3,535.2 240.3,536.3 240.7,540.0 241.0,538.4 241.3,536.8 241.6,537.3 242.0,534.2 242.3,535.2 242.6,535.7 243.0,534.3 243.3,535.2 243.6,533.1 243.9,532.7 244.3,532.0 244.6,531.1 244.9,530.8 245.3,530.0 245.6,528.3 245.9,528.5 246.3,524.9 246.5,527.6 246.6,525.2 246.9,524.0 247.2,523.7 247.6,520.9 247.9,517.9 248.2,517.1 248.6,519.6 248.9,520.9 249.2,520.0 249.6,518.0 249.9,515.3 250.2,513.0 250.4,516.4 250.6,513.5 250.9,512.6 251.2,509.4 251.4,511.6 251.5,507.5 251.6,506.3 251.8,505.1 251.9,508.7 252.2,515.0 252.5,509.3 252.9,507.2 253.2,508.1 253.3,509.2 253.5,503.0 253.5,502.6 253.7,509.3 253.8,512.0 254.2,511.0 254.5,512.9 254.8,506.0 255.2,508.1 255.3,510.3 255.5,506.6 255.7,514.4 255.8,529.7 256.1,544.9 256.2,546.1 256.5,547.3 256.8,547.7 257.1,547.7 257.5,547.5 257.8,547.6 258.1,547.7 258.5,547.3 258.8,547.2 259.1,547.4 259.5,547.2 259.8,547.3 260.1,548.1 260.4,547.6 260.8,547.7 261.1,547.8 261.4,547.9 261.8,547.0 261.8,547.3 262.1,547.5 262.4,547.0 262.8,547.5 263.1,547.1 263.4,547.1 263.8,546.3 264.1,546.1 264.4,545.9 264.7,546.2 265.1,545.5 265.4,545.7 265.7,545.1 266.1,545.1 266.4,545.3 266.7,544.9 267.1,544.9 267.4,544.9 267.7,544.7 268.0,543.8 268.0,543.6 268.4,543.9 268.7,543.1 269.0,543.8 269.4,543.1 269.7,543.0 270.0,542.1 270.4,541.9 270.7,541.8 271.0,541.5 271.3,541.6 271.7,540.8 272.0,540.9 272.3,540.9 272.7,541.4 273.0,539.9 273.0,541.2 273.3,538.7 273.6,539.7 274.0,538.1 274.3,536.1 274.6,536.2 275.0,535.8 275.0,536.6 275.3,535.2 275.6,532.3 276.0,525.8 276.3,522.1 276.4,519.2 276.5,522.4 276.6,522.9 276.6,522.2 276.9,522.0 277.3,529.0 277.6,534.4 277.9,535.3 278.0,537.0 278.3,535.8 278.6,537.6 278.9,538.8 279.3,540.2 279.6,540.3 279.9,541.4 280.2,542.1 280.3,542.6 280.6,541.8 280.9,540.9 281.2,539.6 281.6,538.0 281.9,537.9 282.2,536.6 282.6,537.3 282.9,536.2 283.0,536.0 283.2,533.4 283.6,535.7 283.9,532.0 284.2,532.1 284.5,531.9 284.9,533.4 285.2,531.0 285.5,530.4 285.9,512.7 285.9,512.0 286.0,506.4 286.1,512.4 286.2,515.2 286.5,529.0 286.9,526.3 287.2,525.7 287.5,528.4 287.8,523.4 288.2,526.4 288.5,511.0 288.6,489.9 288.8,480.4 288.8,480.4 288.9,489.5 289.2,519.2 289.5,544.9 289.5,544.8 289.8,547.3 290.1,547.1 290.5,546.9 290.8,547.1 291.1,547.4 291.5,547.6 291.8,547.9 292.1,547.7 292.5,547.3 292.8,547.5 293.1,547.5 293.4,548.0 293.8,547.9 294.1,547.6 294.4,548.2 294.8,547.3 295.1,547.3 295.4,547.4 295.8,547.5 296.1,547.5 296.4,547.6 296.8,547.9 297.1,547.4 297.4,547.4 297.7,547.6 298.1,548.2 298.4,547.7 298.7,548.1 299.1,547.5 299.4,547.9 299.5,548.0 299.7,548.0 300.1,547.8 300.4,546.7 300.7,546.7 301.0,546.5 301.4,547.0 301.7,546.4 302.0,546.2 302.4,545.7 302.7,546.0 303.0,546.1 303.4,544.7 303.7,545.3 304.0,544.7 304.3,544.2 304.7,544.2 305.0,544.9 305.3,544.6 305.7,544.0 306.0,544.3 306.3,543.6 306.6,544.2 307.0,544.0 307.3,543.5 307.6,543.3 308.0,543.2 308.3,542.9 308.6,542.2 309.0,541.5 309.3,542.7 309.6,541.4 309.9,542.2 310.0,542.3 310.3,541.4 310.6,540.4 310.9,540.5 311.3,540.0 311.6,540.8 311.9,538.4 311.9,537.7 312.0,538.2 312.1,539.2 312.3,539.5 312.6,540.6 312.9,540.6 313.2,541.0 313.6,540.0 313.9,538.8 314.2,538.3 314.6,537.9 314.9,537.8 314.9,537.1 315.0,536.8 315.1,537.5 315.2,539.1 315.6,539.2 315.9,538.4 316.2,536.2 316.6,536.3 316.9,536.6 317.2,535.6 317.5,536.5 317.9,537.2 318.0,536.7 318.2,534.3 318.4,531.7 318.5,530.1 318.5,530.1 318.6,531.2 318.9,535.6 319.2,536.5 319.5,536.2 319.9,535.9 320.2,536.2 320.5,536.2 320.8,533.4 321.2,533.7 321.5,527.0 321.6,521.8 321.8,520.8 321.8,520.1 321.9,522.3 322.0,524.3 322.2,529.9 322.5,535.8 322.8,534.7 323.1,536.8 323.5,535.8 323.8,535.8 324.1,535.7 324.5,534.8 324.8,536.0 325.1,536.4 325.5,532.7 325.8,522.2 325.8,522.0 325.9,520.0 326.0,521.2 326.1,522.5 326.1,524.1 326.4,536.4 326.8,545.3 327.0,546.3 327.1,546.2 327.4,545.8 327.8,545.0 328.1,544.6 328.4,543.6 328.8,542.4 328.9,541.5 329.1,541.2 329.1,541.6 329.2,541.5 329.4,542.6 329.8,544.0 330.1,544.9 330.4,546.2 330.7,546.4 331.1,546.9 331.4,546.9 331.7,547.2 332.1,547.2 332.4,547.0 332.7,546.5 333.1,546.8 333.4,546.8 333.7,547.5 334.0,547.0 334.4,547.9 334.7,547.8 335.0,548.4 335.4,547.7 335.7,547.9 336.0,547.3 336.4,547.1 336.7,547.8 337.0,547.6 337.3,546.9 337.7,547.3 338.0,547.9 338.3,547.1 338.7,547.8 339.0,547.7 339.3,548.1 339.6,548.1 340.0,548.0 340.3,547.0 340.6,547.8 341.0,546.9 341.3,547.3 341.6,547.8 342.0,547.6 342.3,547.5 342.6,548.3 342.9,548.0 343.3,547.6 343.6,548.3 343.9,548.5 344.3,548.3 344.6,547.6 344.9,543.4 345.3,502.2 345.4,460.5 345.6,446.7 345.6,446.1 345.8,460.4 345.9,497.9 346.2,541.9 346.6,547.3 346.9,548.4 347.2,548.2 347.6,547.8 347.9,547.9 348.2,547.5 348.6,547.7 348.9,548.6 349.2,548.4 349.6,546.7 349.9,543.7 350.1,542.3 350.2,541.5 350.2,541.8 350.4,542.5 350.5,542.9 350.9,545.8 351.2,547.2 351.5,548.0 351.9,548.0 352.2,547.4 352.5,547.6 352.9,548.0 353.2,547.6 353.5,547.3 353.8,547.4 354.2,546.9 354.5,547.5 354.8,546.8 355.2,546.0 355.4,544.1 355.5,543.8 355.5,543.6 355.6,543.8 355.8,544.7 356.1,546.8 356.5,547.5 356.8,548.0 357.1,547.2 357.5,547.7 357.8,547.9 358.1,547.3 358.5,545.8 358.8,544.4 358.9,544.2 359.0,543.5 359.1,544.7 359.1,544.5 359.4,545.9 359.8,546.2 360.1,546.6 360.4,547.5 360.8,548.3 361.1,547.6 361.4,547.4 361.8,547.5 362.1,547.3 362.4,547.5 362.8,547.1 363.1,546.8 363.4,547.1 363.7,544.9 363.9,544.9 364.0,544.0 364.1,544.2 364.1,544.1 364.4,545.3 364.7,547.4 365.1,547.8 365.4,547.1 365.7,547.1 366.1,547.6 366.4,547.7 366.7,547.7 367.0,546.9 367.4,546.9 367.7,547.4 368.0,547.9 368.4,547.9 368.7,546.8 369.0,547.5 369.4,547.0 369.7,547.6 370.0,547.7 370.3,548.1 370.7,547.9 371.0,547.5 371.3,547.3 371.7,547.0 372.0,546.9 372.3,547.1 372.6,546.6 373.0,547.4 373.3,547.8 373.6,548.0 374.0,548.4 374.3,547.9 374.6,547.3 375.0,547.6 375.3,547.6 375.6,547.3 375.9,548.2 376.3,547.3 376.6,547.9 376.9,548.5 377.3,548.6 377.6,548.3 377.9,547.3 378.3,547.5 378.6,548.0 378.9,547.3 379.2,547.0 379.6,547.3 379.9,547.0 380.2,548.5 380.6,547.7 380.9,547.8 381.2,547.2 381.6,547.8 381.9,547.2 382.2,547.2 382.6,548.0 382.9,548.0 383.2,548.1 383.5,548.0 383.9,547.6 384.2,547.8 384.5,547.7 384.9,548.4 385.2,547.9 385.5,547.3 385.9,547.1 386.2,547.4 386.5,547.5 386.8,547.5 387.2,546.5 387.5,546.7 387.8,546.6 388.2,546.9 388.5,547.6 388.8,546.8 389.1,546.5 389.5,547.6 389.8,547.1 390.1,547.7 390.5,548.0 390.8,547.8 391.1,547.6 391.5,546.7 391.8,547.9 392.1,546.7 392.4,547.3 392.8,546.5 393.1,546.7 393.4,547.4 393.8,546.8 394.1,546.5 394.4,545.5 394.8,544.9 395.1,545.0 395.4,545.0 395.8,543.8 396.1,544.3 396.4,543.6 396.7,542.1 397.1,541.1 397.4,539.5 397.7,537.8 398.1,536.4 398.4,536.0 398.4,535.2 398.5,536.4 398.6,534.7 398.7,535.4 399.1,537.0 399.4,538.7 399.7,540.2 400.0,541.1 400.4,542.5 400.7,543.0 401.0,544.1 401.4,545.1 401.7,546.3 402.0,546.4 402.4,545.7 402.7,546.6 403.0,547.2 403.3,546.8 403.7,547.1 404.0,546.5 404.3,547.3 404.7,547.2 405.0,546.9 405.3,547.1 405.6,547.4 406.0,547.2 406.3,547.1 406.6,546.2 407.0,547.3 407.3,546.5 407.6,546.3 408.0,547.4 408.3,547.5 408.6,547.9 408.9,547.6 409.3,546.9 409.6,543.3 409.9,506.0 409.9,505.0 410.1,493.2 410.2,504.8 410.3,508.3 410.6,544.4 410.9,546.9 411.3,547.4 411.6,548.0 411.9,548.1 412.2,547.5 412.6,547.6 412.9,546.7 413.2,547.3 413.6,547.9 413.9,548.1 414.2,547.3 414.6,548.0 414.9,548.3 415.2,547.2 415.6,548.0 415.9,547.6 416.2,548.3 416.5,547.2 416.9,548.0 417.2,547.5 417.5,546.8 417.9,547.0 418.2,546.9 418.5,546.9 418.9,547.7 419.2,546.3 419.5,546.7 419.8,546.3 419.9,545.0 420.0,545.6 420.1,545.6 420.2,545.9 420.5,545.5 420.8,547.2 421.2,547.4 421.5,548.1 421.8,547.7 422.1,547.3 422.5,546.6 422.8,546.7 423.1,547.8 423.5,548.0 423.8,547.4 424.1,546.5 424.5,546.8 424.8,547.0 425.1,546.7 425.4,547.4 425.8,547.1 426.1,547.9 426.4,547.8 426.8,547.9 427.1,548.1 427.4,548.6 427.8,547.1 428.1,547.5 428.4,547.9 428.8,547.3 429.1,547.3 429.4,547.0 429.7,548.0 430.1,548.5 430.4,547.5 430.7,547.7 431.1,547.0 431.4,547.4 431.7,545.3 431.9,545.9 432.0,545.9 432.1,545.6 432.1,546.0 432.4,546.3 432.7,546.3 433.0,547.1 433.4,546.5 433.7,547.9 434.0,547.5 434.4,546.3 434.7,546.5 435.0,546.5 435.4,547.5 435.7,546.9 436.0,546.6 436.3,548.1 436.7,546.9 437.0,547.1 437.3,547.1 437.7,547.5 438.0,546.0 438.3,546.4 438.6,546.7 439.0,546.8 439.3,547.0 439.6,547.5 440.0,547.9 440.3,547.7 440.6,546.9 441.0,548.1 441.3,547.9 441.6,548.3 441.9,547.4 442.3,547.3 442.6,548.7 442.9,548.2 443.3,548.1 443.6,547.8 443.9,547.7 444.3,548.0 444.6,548.6 444.9,548.1 445.2,547.4 445.6,547.1 445.9,547.8 446.2,547.4 446.6,548.1 446.9,548.7 447.2,548.1 447.6,548.5 447.9,548.3 448.2,548.7 448.6,548.0 448.9,548.2 449.2,547.1 449.5,546.4 449.9,544.7 449.9,544.4 450.0,544.5 450.1,544.8 450.2,544.4 450.5,544.7 450.9,545.9 451.2,546.9 451.5,547.6 451.9,547.1 452.2,547.3 452.5,547.0 452.8,547.4 453.2,547.3 453.5,548.0 453.8,547.8 454.2,547.9 454.5,546.9 454.8,548.4 455.1,546.9 455.5,548.3 455.8,547.4 456.1,547.1 456.5,547.0 456.8,547.4 457.1,547.6 457.5,546.8 457.8,546.4 458.1,546.9 458.4,547.7 458.8,547.4 459.1,547.1 459.4,546.9 459.8,546.8 460.1,548.4 460.4,547.8 460.8,547.0 461.1,548.0 461.4,547.2 461.8,547.8 462.1,547.6 462.4,547.0 462.7,547.5 463.1,546.9 463.4,547.8 463.7,546.9 464.1,546.1 464.4,546.5 464.7,546.0 465.1,546.1 465.4,547.2 465.7,547.8 466.0,547.5 466.4,546.9 466.7,546.3 467.0,545.0 467.4,542.8 467.6,541.5 467.7,540.8 467.7,541.0 467.9,540.9 468.0,541.9 468.4,541.9 468.7,540.3 469.0,538.1 469.3,536.1 469.4,533.9 469.6,534.2 469.7,534.5 469.8,536.0 470.0,536.8 470.3,539.7 470.7,541.4 471.0,543.9 471.3,543.6 471.6,545.0 472.0,545.8 472.3,546.5 472.6,546.4 473.0,546.6 473.3,546.8 473.6,547.6 474.0,547.1 474.3,548.5 474.6,547.4 474.9,548.2 475.3,548.6 475.6,547.0 475.9,547.1 476.3,547.8 476.6,546.2 476.9,547.4 477.3,546.9 477.6,547.1 477.9,547.0 478.2,547.1 478.6,546.5 478.9,547.4 479.2,546.8 479.6,547.3 479.9,546.5 480.2,547.9 480.6,547.7 480.9,546.8 481.2,546.6 481.6,547.3 481.9,546.4 482.2,547.5 482.5,546.5 482.9,547.5 483.2,547.6 483.5,547.5 483.9,547.4 484.2,546.9 484.5,546.9 484.9,540.1 485.1,533.9 485.2,532.2 485.2,531.8 485.4,535.0 485.5,539.3 485.8,546.7 486.2,548.0 486.5,547.6 486.8,547.5 487.2,546.2 487.5,539.8 487.6,538.0 487.7,536.9 487.8,538.0 487.9,539.0 488.1,545.7 488.5,547.1 488.8,546.6 489.1,547.1 489.5,545.7 489.8,546.0 490.1,545.3 490.5,545.2 490.8,545.3 491.1,544.6 491.4,543.4 491.8,543.7 492.1,541.9 492.4,539.6 492.8,536.4 493.1,531.4 493.4,523.7 493.6,519.8 493.8,519.6 493.8,518.7 493.9,519.8 494.1,522.4 494.4,529.6 494.8,535.9 495.1,540.4 495.4,542.3 495.7,544.4 496.1,544.5 496.4,545.1 496.7,546.4 497.1,546.1 497.4,547.5 497.7,547.7 498.1,546.1 498.4,546.9 498.7,547.1 499.0,547.0 499.4,544.9 499.7,544.4 499.9,545.1 500.0,545.5 500.0,544.9 500.1,544.8 500.4,545.7 500.7,545.9 501.0,547.1 501.4,546.6 501.7,547.4 502.0,548.0 502.3,548.4 502.7,548.2 503.0,547.2 503.3,547.3 503.7,548.4 504.0,547.0 504.3,546.2 504.6,545.6 504.9,544.6 505.0,545.2 505.0,544.3 505.1,545.4 505.3,545.5 505.6,546.3 506.0,547.7 506.3,548.6 506.6,547.4 507.0,547.4 507.3,547.0 507.6,546.9 507.9,548.1 508.3,547.0 508.6,547.2 508.9,547.8 509.3,547.2 509.6,548.7 509.9,548.2 510.3,547.3 510.6,547.0 510.9,546.5 511.2,546.4 511.6,545.7 511.9,544.8 511.9,545.5 512.0,544.6 512.1,545.3 512.2,544.9 512.6,545.4 512.9,546.5 513.2,547.2 513.6,548.0 513.9,547.6 514.2,547.8 514.5,548.2 514.9,548.3 515.2,548.3 515.5,548.7 515.9,548.2 516.2,547.8 516.5,547.6 516.9,546.9 517.2,547.4 517.5,546.4 517.9,544.7 518.0,545.4 518.1,545.9 518.2,545.0 518.5,545.1 518.8,546.6 519.2,547.5 519.5,547.2 519.8,547.7 520.2,547.8 520.5,547.2 520.8,547.8 521.1,547.9 521.5,547.7 521.8,548.2 522.1,547.2 522.5,548.0 522.8,547.9 523.1,548.3 523.5,547.4 523.8,546.7 524.1,547.3 524.5,546.5 524.8,546.4 525.1,546.9 525.4,545.0 525.8,544.4 526.1,541.7 526.4,538.9 526.8,536.5 526.8,535.2 526.9,535.8 527.0,536.1 527.1,536.3 527.4,539.7 527.8,542.2 528.1,543.5 528.4,540.3 528.6,539.7 528.7,538.7 528.8,538.3 529.0,539.6 529.1,540.6 529.4,543.1 529.7,543.6 530.1,544.9 530.4,546.0 530.7,546.9 531.0,547.0 531.4,546.0 531.7,547.4 532.0,547.2 532.4,546.9 532.7,546.8 533.0,546.7 533.4,546.6 533.7,546.6 534.0,546.7 534.4,546.7 534.7,545.3 534.9,545.3 535.0,545.1 535.0,545.0 535.1,545.2 535.3,545.7 535.7,546.6 536.0,547.5 536.3,547.4 536.7,548.2 537.0,548.4 537.3,548.3 537.6,548.7 538.0,547.9 538.3,548.0 538.6,547.7 539.0,547.2 539.3,547.8 539.6,548.5 540.0,548.2 540.3,548.7 540.6,548.2 541.0,548.5 541.3,548.0 541.6,547.1 541.9,548.0 542.3,547.4" stroke="#ff1a1a" stroke-opacity="0.62"/>
<path d="M41.0,548.3 41.3,548.3 41.7,548.5 42.0,548.3 42.3,548.4 42.6,548.7 43.0,548.7 43.3,548.4 43.6,548.5 44.0,548.5 44.3,548.3 44.6,548.6 45.0,548.4 45.3,548.2 45.6,548.4 46.0,548.3 46.3,548.3 46.6,548.3 46.9,548.3 47.3,548.1 47.6,548.3 47.9,548.5 48.3,548.2 48.6,548.4 48.9,548.5 49.2,548.3 49.6,548.3 49.9,548.0 50.2,548.1 50.6,548.5 50.9,548.1 51.2,548.1 51.6,548.5 51.9,548.3 52.2,548.0 52.5,548.0 52.9,548.1 53.2,548.0 53.5,547.8 53.9,548.1 54.2,548.0 54.5,548.1 54.9,548.1 55.2,547.9 55.5,547.8 55.9,548.4 56.2,548.4 56.5,548.3 56.8,548.0 57.2,548.0 57.5,548.1 57.8,548.3 58.2,548.1 58.5,548.1 58.8,548.2 59.1,548.2 59.5,548.4 59.8,548.2 60.1,548.2 60.5,548.3 60.8,548.4 61.1,548.6 61.5,548.3 61.8,548.1 62.1,548.4 62.5,548.3 62.8,548.5 63.1,547.0 63.4,540.9 63.5,537.8 63.7,536.4 63.8,536.8 63.9,538.1 64.1,544.8 64.4,548.4 64.8,548.3 65.1,548.3 65.4,548.3 65.8,548.0 66.1,547.9 66.4,548.1 66.7,548.2 67.1,548.1 67.4,548.1 67.7,548.3 68.1,548.2 68.4,548.6 68.7,548.7 69.0,548.4 69.4,548.2 69.7,548.4 70.0,548.5 70.4,548.2 70.7,548.0 71.0,548.0 71.4,548.3 71.7,548.3 72.0,548.1 72.3,548.2 72.7,548.3 73.0,548.5 73.3,548.3 73.7,548.1 74.0,548.2 74.3,548.3 74.7,548.4 75.0,548.3 75.3,548.3 75.7,548.3 76.0,548.6 76.3,548.5 76.6,548.6 77.0,548.3 77.3,548.0 77.6,542.8 78.0,527.3 78.0,526.9 78.1,523.6 78.2,527.0 78.3,529.2 78.6,544.0 79.0,548.2 79.3,548.2 79.6,546.5 79.9,541.8 80.0,541.5 80.1,540.1 80.2,541.7 80.3,541.8 80.6,547.0 80.9,548.3 81.3,548.0 81.6,548.0 81.9,547.9 82.2,548.3 82.6,548.2 82.9,547.9 83.2,547.9 83.6,548.1 83.9,548.3 84.2,548.2 84.6,548.3 84.9,548.3 85.2,548.3 85.5,548.3 85.9,547.8 86.2,547.9 86.5,548.5 86.9,548.4 87.2,548.3 87.5,548.2 87.9,548.3 88.2,548.4 88.5,548.5 88.8,548.3 89.2,548.2 89.5,548.1 89.8,548.2 90.2,548.1 90.5,548.1 90.8,548.2 91.2,548.1 91.5,548.4 91.8,548.2 92.2,548.2 92.5,548.2 92.8,548.0 93.1,547.9 93.5,547.9 93.8,548.2 94.1,548.2 94.5,548.2 94.8,548.2 95.1,548.5 95.5,548.1 95.8,548.5 96.1,548.4 96.4,548.3 96.8,548.5 97.1,548.2 97.4,548.1 97.8,548.2 98.1,548.6 98.4,548.2 98.8,548.1 99.1,548.6 99.4,548.6 99.7,548.6 100.1,548.1 100.4,548.3 100.7,547.9 101.1,548.0 101.4,548.2 101.7,547.9 102.0,548.2 102.4,548.1 102.7,548.0 103.0,546.1 103.0,546.5 103.2,546.0 103.3,546.3 103.4,546.6 103.7,547.7 104.0,548.2 104.4,547.9 104.7,548.2 105.0,548.3 105.3,548.1 105.7,547.9 106.0,547.8 106.3,546.1 106.3,546.0 106.5,545.5 106.7,545.8 106.7,545.9 107.0,548.2 107.3,548.3 107.7,548.4 108.0,548.2 108.3,548.3 108.7,548.1 109.0,545.7 109.2,543.4 109.3,542.8 109.3,543.1 109.5,543.5 109.6,545.7 110.0,548.2 110.3,548.6 110.6,548.6 111.0,548.3 111.3,548.1 111.6,548.6 112.0,548.5 112.3,548.5 112.6,548.4 112.9,548.3 113.3,548.5 113.6,548.5 113.9,548.5 114.3,548.3 114.6,548.3 114.9,548.2 115.2,548.4 115.6,548.2 115.9,548.1 116.2,548.3 116.6,548.6 116.9,548.3 117.2,548.2 117.6,548.4 117.9,548.7 118.2,548.6 118.5,548.7 118.9,548.7 119.2,548.7 119.5,548.6 119.9,548.1 120.2,548.1 120.5,548.4 120.9,547.9 121.2,548.1 121.5,548.3 121.8,548.5 122.2,548.2 122.5,548.1 122.8,548.0 123.2,548.2 123.5,548.3 123.8,548.0 124.2,548.2 124.5,548.1 124.8,548.1 125.2,548.2 125.5,548.1 125.8,548.0 126.1,545.3 126.3,542.2 126.5,541.3 126.5,541.6 126.7,542.8 126.8,544.6 127.1,548.3 127.5,548.5 127.8,548.6 128.1,548.4 128.4,548.6 128.8,548.4 129.1,548.4 129.4,548.4 129.8,548.2 130.1,548.3 130.4,548.3 130.8,548.3 131.1,548.4 131.4,548.5 131.8,548.4 132.1,548.1 132.4,548.5 132.7,548.0 133.1,548.2 133.4,548.1 133.7,547.9 134.1,548.5 134.4,548.5 134.7,548.2 135.1,548.2 135.4,548.5 135.7,548.3 136.0,548.2 136.4,548.1 136.7,548.0 137.0,547.7 137.4,545.7 137.4,545.3 137.6,544.6 137.7,545.0 137.8,545.5 138.0,547.0 138.3,548.3 138.7,548.5 139.0,548.3 139.3,548.1 139.7,548.1 140.0,548.3 140.3,548.2 140.7,548.2 141.0,548.4 141.3,548.3 141.7,548.6 142.0,548.6 142.3,548.2 142.6,548.5 143.0,548.2 143.3,548.2 143.6,548.3 144.0,548.6 144.3,548.2 144.6,548.3 144.9,547.9 145.3,547.4 145.6,545.5 145.9,543.8 146.2,541.8 146.3,542.0 146.4,542.0 146.6,542.1 146.6,542.1 146.9,543.7 147.3,545.6 147.6,547.2 147.9,547.9 148.2,548.1 148.6,548.2 148.9,548.4 149.2,548.5 149.6,548.3 149.9,548.5 150.2,548.4 150.6,548.2 150.9,548.5 151.2,548.2 151.6,548.3 151.9,548.4 152.2,548.4 152.5,548.4 152.9,548.2 153.2,548.1 153.5,547.8 153.9,548.0 154.2,548.1 154.5,547.7 154.8,547.5 155.2,548.0 155.5,548.0 155.8,547.7 156.2,547.8 156.5,547.7 156.8,548.1 157.2,548.3 157.5,547.9 157.8,548.2 158.2,547.7 158.5,547.8 158.8,548.1 159.1,548.1 159.5,547.9 159.8,547.8 160.1,547.3 160.5,547.2 160.8,546.8 161.1,545.7 161.4,545.2 161.8,544.6 162.1,543.8 162.3,543.3 162.4,543.4 162.5,543.6 162.7,543.7 162.8,543.7 163.1,544.6 163.4,545.4 163.8,546.4 164.1,546.5 164.4,539.2 164.7,527.1 164.8,524.1 164.8,523.7 164.9,527.1 165.1,533.8 165.4,546.6 165.7,547.4 166.1,547.4 166.4,547.6 166.7,547.5 167.1,547.5 167.4,548.2 167.7,548.1 168.1,547.9 168.4,548.2 168.7,548.1 169.0,548.3 169.4,548.5 169.7,548.6 170.0,548.3 170.4,548.5 170.7,548.3 171.0,548.0 171.3,548.2 171.7,548.3 172.0,548.2 172.3,548.1 172.7,548.1 173.0,547.9 173.3,548.1 173.7,548.2 174.0,548.4 174.0,548.4 174.3,548.4 174.7,547.9 175.0,547.6 175.3,547.5 175.6,546.9 176.0,546.9 176.3,546.6 176.6,546.2 177.0,546.0 177.3,546.1 177.6,546.2 177.9,545.7 178.3,545.7 178.6,545.8 178.7,545.1 178.9,545.1 179.3,544.1 179.6,543.2 179.9,542.8 180.3,542.4 180.6,541.2 180.9,540.8 181.2,540.7 181.6,540.5 181.9,538.9 182.2,539.3 182.3,539.2 182.6,538.2 182.9,537.3 183.2,535.9 183.6,535.1 183.9,534.2 184.0,533.0 184.2,531.5 184.6,529.9 184.9,529.0 185.1,526.8 185.2,526.2 185.5,525.0 185.9,521.0 185.9,516.6 186.2,514.1 186.5,516.8 186.6,514.9 186.9,507.3 187.2,510.2 187.3,505.6 187.5,500.7 187.8,491.8 187.9,489.0 188.2,486.6 188.2,486.1 188.3,491.5 188.4,495.6 188.5,493.7 188.8,509.6 188.8,505.8 189.2,535.9 189.3,538.0 189.5,540.9 189.8,543.9 190.2,544.8 190.5,546.2 190.8,546.7 191.2,546.8 191.5,547.5 191.8,540.8 192.1,529.3 192.1,527.2 192.2,526.5 192.3,529.5 192.5,534.6 192.8,546.5 193.1,547.6 193.5,540.6 193.8,523.0 193.8,521.4 193.9,519.3 194.1,523.3 194.1,527.1 194.4,544.3 194.8,547.7 195.1,547.8 195.4,548.2 195.8,548.2 196.1,547.8 196.4,548.3 196.8,548.0 197.1,548.4 197.4,547.4 197.8,546.4 197.8,546.0 198.0,545.8 198.1,545.3 198.2,545.3 198.4,546.6 198.7,547.7 199.1,548.2 199.4,547.8 199.7,547.7 200.1,548.1 200.4,547.9 200.7,548.0 201.1,547.9 201.4,548.1 201.7,547.8 202.0,548.0 202.4,548.0 202.7,548.1 203.0,547.7 203.4,541.6 203.6,536.3 203.7,534.0 203.7,533.9 203.8,536.0 204.0,541.1 204.3,547.5 204.7,548.0 205.0,548.4 205.3,548.1 205.7,547.8 206.0,548.0 206.3,547.6 206.7,547.1 207.0,546.7 207.3,545.7 207.7,545.9 208.0,545.0 208.3,544.3 208.6,544.5 209.0,543.2 209.0,542.7 209.3,542.4 209.6,542.0 210.0,541.2 210.3,534.5 210.4,532.0 210.6,531.2 210.6,531.5 210.8,532.1 210.9,535.1 211.3,539.8 211.6,538.1 211.9,538.0 212.0,537.5 212.3,537.0 212.4,528.2 212.6,524.7 212.8,527.5 212.9,537.2 213.3,538.1 213.6,537.4 213.9,524.9 213.9,523.7 214.1,519.6 214.2,523.8 214.5,536.7 214.6,539.3 214.9,541.7 215.2,546.0 215.5,548.7 215.6,548.2 215.9,548.4 216.2,548.5 216.6,548.0 216.9,547.8 217.2,547.9 217.6,548.0 217.9,547.9 218.2,548.2 218.5,548.4 218.9,548.0 219.2,547.9 219.5,546.5 219.8,546.0 219.9,546.1 220.0,545.7 220.2,545.6 220.2,545.6 220.5,546.6 220.8,547.5 221.2,548.0 221.5,548.0 221.8,548.3 222.2,548.2 222.5,548.2 222.8,548.4 223.2,548.6 223.5,548.1 223.8,548.1 224.2,548.3 224.5,548.0 224.8,547.6 225.1,547.8 225.5,546.5 225.8,546.3 225.8,545.8 226.0,546.1 226.1,546.1 226.2,546.2 226.5,546.8 226.8,547.7 227.1,547.8 227.4,548.0 227.8,548.3 228.1,548.3 228.4,548.4 228.8,548.1 229.1,548.0 229.4,547.9 229.8,548.5 230.1,548.0 230.4,548.2 230.8,548.0 231.1,548.3 231.4,548.2 231.7,548.3 232.1,547.7 232.4,548.3 232.7,548.0 233.1,547.8 233.4,548.2 233.7,547.7 234.1,548.1 234.4,547.7 234.7,548.0 235.0,548.1 235.4,548.1 235.7,548.4 236.0,548.1 236.4,548.5 236.7,548.1 237.0,548.5 237.3,548.1 237.7,548.4 238.0,548.7 238.3,548.5 238.3,548.4 238.7,547.3 239.0,547.4 239.3,546.2 239.7,546.1 240.0,542.7 240.0,542.6 240.1,542.0 240.2,540.8 240.3,541.6 240.3,541.3 240.7,544.6 241.0,543.9 241.3,543.1 241.6,543.2 242.0,543.2 242.3,542.4 242.6,542.5 243.0,542.8 243.3,542.6 243.6,541.7 243.9,541.0 244.3,541.2 244.6,541.8 244.9,540.5 245.3,540.4 245.6,539.7 245.9,539.7 246.3,539.8 246.5,538.9 246.6,539.0 246.9,537.4 247.2,537.0 247.6,535.9 247.9,535.5 248.2,537.9 248.6,537.6 248.9,537.4 249.2,536.8 249.6,535.0 249.9,534.3 250.2,535.5 250.4,534.8 250.6,532.8 250.9,532.7 251.2,531.4 251.4,527.4 251.5,524.1 251.6,523.8 251.8,527.3 251.9,531.0 252.2,529.9 252.5,529.8 252.9,528.7 253.2,528.5 253.3,524.9 253.5,520.8 253.5,520.8 253.7,524.9 253.8,530.4 254.2,529.1 254.5,529.2 254.8,529.2 255.2,529.4 255.3,528.1 255.5,524.1 255.7,527.6 255.8,536.9 256.1,546.3 256.2,546.9 256.5,547.9 256.8,548.2 257.1,548.0 257.5,548.0 257.8,548.0 258.1,548.3 258.5,548.2 258.8,547.7 259.1,548.2 259.5,548.2 259.8,548.1 260.1,548.2 260.4,548.0 260.8,548.4 261.1,548.0 261.4,548.2 261.8,547.7 261.8,547.8 262.1,548.3 262.4,548.0 262.8,548.2 263.1,548.2 263.4,547.9 263.8,547.8 264.1,548.0 264.4,547.5 264.7,547.1 265.1,547.3 265.4,546.5 265.7,546.5 266.1,546.6 266.4,547.0 266.7,546.6 267.1,546.2 267.4,546.6 267.7,546.6 268.0,546.2 268.0,546.4 268.4,546.5 268.7,545.7 269.0,545.7 269.4,546.1 269.7,546.2 270.0,546.0 270.4,545.2 270.7,544.8 271.0,545.3 271.3,545.3 271.7,544.9 272.0,544.5 272.3,544.6 272.7,544.4 273.0,544.2 273.0,544.8 273.3,543.9 273.6,543.9 274.0,543.6 274.3,543.2 274.6,542.5 275.0,541.9 275.0,542.4 275.3,541.7 275.6,540.8 276.0,538.0 276.3,535.7 276.4,535.5 276.5,535.5 276.6,535.5 276.6,536.3 276.9,537.5 277.3,540.3 277.6,542.1 277.9,542.2 278.0,543.0 278.3,542.6 278.6,542.9 278.9,544.4 279.3,544.6 279.6,545.1 279.9,545.6 280.2,545.8 280.3,545.7 280.6,545.7 280.9,545.0 281.2,544.7 281.6,544.0 281.9,543.8 282.2,542.8 282.6,542.7 282.9,541.6 283.0,541.8 283.2,541.3 283.6,540.4 283.9,540.1 284.2,540.5 284.5,540.3 284.9,539.8 285.2,539.6 285.5,538.5 285.9,526.9 285.9,526.1 286.0,523.3 286.1,527.0 286.2,528.5 286.5,538.3 286.9,539.9 287.2,539.3 287.5,538.0 287.8,537.8 288.2,539.0 288.5,526.0 288.6,513.1 288.8,507.0 288.8,507.4 288.9,512.7 289.2,531.2 289.5,546.1 289.5,546.4 289.8,547.8 290.1,548.3 290.5,548.0 290.8,548.2 291.1,548.1 291.5,548.1 291.8,547.9 292.1,547.8 292.5,548.1 292.8,548.1 293.1,547.7 293.4,547.6 293.8,547.8 294.1,548.1 294.4,547.7 294.8,547.8 295.1,548.0 295.4,548.0 295.8,548.1 296.1,548.0 296.4,548.0 296.8,548.3 297.1,548.0 297.4,547.6 297.7,547.9 298.1,547.7 298.4,548.1 298.7,547.7 299.1,548.2 299.4,547.7 299.5,547.7 299.7,547.8 300.1,547.6 300.4,547.7 300.7,547.6 301.0,547.6 301.4,547.3 301.7,547.6 302.0,547.6 302.4,547.2 302.7,546.9 303.0,546.8 303.4,546.8 303.7,546.9 304.0,547.0 304.3,546.9 304.7,547.0 305.0,546.5 305.3,546.4 305.7,546.4 306.0,546.1 306.3,545.8 306.6,546.2 307.0,546.2 307.3,546.0 307.6,544.9 308.0,545.4 308.3,545.2 308.6,545.9 309.0,545.0 309.3,545.2 309.6,545.4 309.9,545.2 310.0,545.0 310.3,545.1 310.6,545.1 310.9,544.7 311.3,544.5 311.6,544.7 311.9,542.8 311.9,542.3 312.0,542.1 312.1,543.0 312.3,543.1 312.6,543.6 312.9,543.9 313.2,543.7 313.6,544.2 313.9,543.0 314.2,543.8 314.6,542.7 314.9,542.7 314.9,542.3 315.0,541.8 315.1,542.3 315.2,542.8 315.6,541.9 315.9,542.6 316.2,543.2 316.6,542.8 316.9,542.7 317.2,541.7 317.5,541.8 317.9,541.7 318.0,541.4 318.2,540.7 318.4,538.4 318.5,538.1 318.5,537.4 318.6,538.2 318.9,541.3 319.2,541.6 319.5,540.1 319.9,540.4 320.2,540.7 320.5,540.7 320.8,541.4 321.2,539.9 321.5,536.0 321.6,533.0 321.8,531.7 321.8,531.6 321.9,532.6 322.0,533.6 322.2,537.5 322.5,540.9 322.8,540.9 323.1,541.1 323.5,541.9 323.8,540.9 324.1,541.5 324.5,542.4 324.8,542.2 325.1,542.5 325.5,539.1 325.8,533.2 325.8,532.0 325.9,531.3 326.0,531.5 326.1,532.2 326.1,533.7 326.4,541.6 326.8,546.4 327.0,547.1 327.1,547.0 327.4,547.0 327.8,546.8 328.1,546.5 328.4,545.9 328.8,544.4 328.9,544.8 329.1,544.2 329.1,544.8 329.2,544.2 329.4,544.3 329.8,545.6 330.1,545.8 330.4,546.3 330.7,547.1 331.1,546.9 331.4,547.6 331.7,547.9 332.1,547.8 332.4,547.5 332.7,547.8 333.1,548.3 333.4,547.7 333.7,548.3 334.0,548.1 334.4,548.2 334.7,548.2 335.0,548.2 335.4,548.6 335.7,548.5 336.0,547.9 336.4,548.0 336.7,548.5 337.0,548.6 337.3,548.5 337.7,548.2 338.0,548.7 338.3,548.4 338.7,548.1 339.0,547.7 339.3,547.6 339.6,547.9 340.0,548.1 340.3,548.0 340.6,548.5 341.0,548.2 341.3,548.7 341.6,548.7 342.0,548.5 342.3,548.7 342.6,548.2 342.9,548.3 343.3,548.0 343.6,548.1 343.9,548.5 344.3,548.0 344.6,548.2 344.9,544.4 345.3,510.9 345.4,478.4 345.6,466.8 345.6,467.0 345.8,479.0 345.9,508.3 346.2,544.0 346.6,548.5 346.9,548.2 347.2,547.8 347.6,547.8 347.9,548.1 348.2,548.1 348.6,547.5 348.9,548.0 349.2,548.1 349.6,547.4 349.9,546.2 350.1,544.9 350.2,544.6 350.2,544.7 350.4,544.4 350.5,545.8 350.9,546.9 351.2,547.8 351.5,547.8 351.9,547.8 352.2,547.6 352.5,548.1 352.9,548.2 353.2,548.5 353.5,548.3 353.8,548.1 354.2,548.3 354.5,548.6 354.8,547.7 355.2,546.7 355.4,546.7 355.5,546.9 355.5,546.2 355.6,546.4 355.8,547.1 356.1,548.0 356.5,547.9 356.8,548.2 357.1,548.2 357.5,548.1 357.8,548.3 358.1,547.3 358.5,546.8 358.8,545.8 358.9,545.7 359.0,545.8 359.1,546.4 359.1,546.2 359.4,546.7 359.8,548.1 360.1,548.3 360.4,547.9 360.8,547.8 361.1,547.6 361.4,548.1 361.8,548.1 362.1,547.7 362.4,547.8 362.8,547.7 363.1,548.3 363.4,546.8 363.7,545.9 363.9,545.6 364.0,545.9 364.1,546.0 364.1,546.2 364.4,546.7 364.7,547.9 365.1,547.7 365.4,548.3 365.7,547.7 366.1,547.6 366.4,547.5 366.7,547.5 367.0,548.1 367.4,547.7 367.7,548.0 368.0,548.2 368.4,547.5 368.7,548.1 369.0,548.5 369.4,548.3 369.7,548.2 370.0,547.8 370.3,548.5 370.7,548.1 371.0,548.0 371.3,548.7 371.7,548.5 372.0,548.4 372.3,548.0 372.6,548.2 373.0,548.5 373.3,547.9 373.6,548.4 374.0,548.3 374.3,548.6 374.6,548.3 375.0,548.1 375.3,548.3 375.6,547.8 375.9,547.6 376.3,548.7 376.6,548.4 376.9,548.0 377.3,547.7 377.6,547.8 377.9,548.0 378.3,548.0 378.6,548.6 378.9,547.8 379.2,547.9 379.6,548.3 379.9,548.1 380.2,548.4 380.6,548.5 380.9,548.2 381.2,548.5 381.6,548.7 381.9,547.9 382.2,548.3 382.6,548.6 382.9,548.1 383.2,547.9 383.5,548.4 383.9,548.4 384.2,548.0 384.5,547.6 384.9,548.3 385.2,547.6 385.5,547.5 385.9,547.2 386.2,547.1 386.5,548.0 386.8,547.8 387.2,547.4 387.5,548.1 387.8,548.3 388.2,547.6 388.5,548.2 388.8,547.8 389.1,547.9 389.5,547.7 389.8,548.1 390.1,547.7 390.5,548.3 390.8,547.3 391.1,548.0 391.5,547.1 391.8,547.6 392.1,547.3 392.4,548.0 392.8,547.3 393.1,548.3 393.4,547.5 393.8,546.9 394.1,547.0 394.4,546.9 394.8,547.2 395.1,546.7 395.4,546.5 395.8,546.2 396.1,546.4 396.4,546.8 396.7,545.6 397.1,545.4 397.4,545.3 397.7,544.0 398.1,543.0 398.4,542.2 398.4,542.8 398.5,542.8 398.6,541.9 398.7,541.8 399.1,543.8 399.4,544.4 399.7,545.0 400.0,545.3 400.4,546.1 400.7,546.4 401.0,546.3 401.4,546.9 401.7,546.9 402.0,547.0 402.4,546.8 402.7,547.2 403.0,547.0 403.3,546.9 403.7,547.2 404.0,547.6 404.3,547.3 404.7,547.3 405.0,547.0 405.3,547.9 405.6,547.7 406.0,548.0 406.3,547.6 406.6,547.6 407.0,547.6 407.3,548.1 407.6,548.2 408.0,547.8 408.3,548.3 408.6,547.4 408.9,548.0 409.3,547.2 409.6,542.9 409.9,507.9 409.9,507.4 410.1,497.1 410.2,507.8 410.3,509.9 410.6,544.7 410.9,548.1 411.3,547.6 411.6,548.5 411.9,548.3 412.2,547.8 412.6,548.0 412.9,547.2 413.2,547.6 413.6,547.7 413.9,548.7 414.2,548.0 414.6,548.1 414.9,548.6 415.2,547.9 415.6,547.4 415.9,547.4 416.2,547.8 416.5,547.4 416.9,546.9 417.2,547.1 417.5,547.8 417.9,548.7 418.2,547.9 418.5,548.7 418.9,547.7 419.2,548.1 419.5,547.0 419.8,546.1 419.9,546.2 420.0,546.4 420.1,546.4 420.2,546.6 420.5,547.7 420.8,547.2 421.2,548.0 421.5,548.5 421.8,548.7 422.1,548.7 422.5,548.2 422.8,548.2 423.1,548.6 423.5,548.1 423.8,548.5 424.1,547.8 424.5,548.6 424.8,548.4 425.1,548.7 425.4,547.7 425.8,548.2 426.1,548.7 426.4,548.0 426.8,547.7 427.1,548.3 427.4,547.5 427.8,547.8 428.1,548.7 428.4,547.8 428.8,548.3 429.1,548.0 429.4,547.0 429.7,547.3 430.1,547.7 430.4,547.1 430.7,547.1 431.1,546.9 431.4,547.4 431.7,547.0 431.9,546.7 432.0,546.3 432.1,546.0 432.1,546.5 432.4,546.2 432.7,547.0 433.0,548.5 433.4,548.7 433.7,547.7 434.0,547.7 434.4,548.1 434.7,548.3 435.0,547.8 435.4,547.8 435.7,548.0 436.0,548.2 436.3,547.8 436.7,547.8 437.0,548.0 437.3,548.0 437.7,548.3 438.0,547.3 438.3,547.1 438.6,547.7 439.0,548.1 439.3,548.3 439.6,547.3 440.0,548.5 440.3,548.4 440.6,547.7 441.0,547.3 441.3,547.4 441.6,547.7 441.9,548.0 442.3,547.5 442.6,547.9 442.9,548.1 443.3,547.9 443.6,548.4 443.9,547.9 444.3,548.2 444.6,548.0 444.9,548.1 445.2,548.3 445.6,548.6 445.9,548.2 446.2,547.6 446.6,547.8 446.9,548.4 447.2,548.0 447.6,547.7 447.9,547.5 448.2,547.3 448.6,547.6 448.9,546.8 449.2,547.3 449.5,546.1 449.9,546.1 449.9,547.1 450.0,546.0 450.1,546.5 450.2,547.0 450.5,547.7 450.9,548.4 451.2,548.6 451.5,548.1 451.9,548.7 452.2,547.9 452.5,548.6 452.8,548.3 453.2,547.3 453.5,548.2 453.8,547.8 454.2,547.4 454.5,547.8 454.8,547.8 455.1,548.7 455.5,548.5 455.8,548.3 456.1,547.9 456.5,547.8 456.8,547.4 457.1,547.3 457.5,547.6 457.8,547.8 458.1,548.0 458.4,548.0 458.8,548.3 459.1,548.1 459.4,548.1 459.8,547.9 460.1,547.8 460.4,547.9 460.8,547.0 461.1,546.9 461.4,547.1 461.8,547.4 462.1,547.7 462.4,547.4 462.7,548.1 463.1,547.9 463.4,547.2 463.7,547.9 464.1,547.1 464.4,547.1 464.7,548.0 465.1,547.1 465.4,547.2 465.7,546.9 466.0,547.3 466.4,547.2 466.7,546.6 467.0,545.8 467.4,544.6 467.6,543.7 467.7,544.3 467.7,543.8 467.9,543.2 468.0,545.0 468.4,545.3 468.7,544.1 469.0,542.4 469.3,540.9 469.4,539.9 469.6,540.4 469.7,540.7 469.8,539.8 470.0,541.3 470.3,542.4 470.7,544.4 471.0,545.2 471.3,546.0 471.6,546.9 472.0,547.2 472.3,547.0 472.6,547.3 473.0,547.4 473.3,547.3 473.6,547.5 474.0,547.6 474.3,546.9 474.6,547.4 474.9,547.7 475.3,547.3 475.6,547.8 475.9,547.2 476.3,547.7 476.6,547.9 476.9,547.9 477.3,548.1 477.6,548.4 477.9,548.7 478.2,547.4 478.6,548.1 478.9,547.7 479.2,547.6 479.6,547.3 479.9,547.5 480.2,547.7 480.6,547.4 480.9,548.2 481.2,548.4 481.6,548.3 481.9,547.3 482.2,547.3 482.5,548.2 482.9,547.9 483.2,547.4 483.5,547.9 483.9,547.9 484.2,547.9 484.5,547.7 484.9,543.3 485.1,539.0 485.2,538.3 485.2,538.8 485.4,539.4 485.5,542.7 485.8,547.1 486.2,547.1 486.5,548.5 486.8,548.0 487.2,546.7 487.5,542.9 487.6,542.7 487.7,542.1 487.8,542.4 487.9,542.5 488.1,546.4 488.5,547.3 488.8,547.0 489.1,547.1 489.5,547.3 489.8,547.1 490.1,546.9 490.5,547.4 490.8,546.0 491.1,545.8 491.4,545.3 491.8,545.1 492.1,544.5 492.4,542.4 492.8,540.4 493.1,538.0 493.4,533.8 493.6,531.0 493.8,530.9 493.8,530.5 493.9,531.0 494.1,532.2 494.4,536.8 494.8,540.6 495.1,543.6 495.4,544.7 495.7,545.7 496.1,546.5 496.4,546.6 496.7,546.3 497.1,546.3 497.4,546.2 497.7,547.2 498.1,547.0 498.4,547.9 498.7,548.2 499.0,547.2 499.4,547.5 499.7,546.4 499.9,546.6 500.0,546.7 500.0,545.8 500.1,546.1 500.4,546.5 500.7,547.4 501.0,548.0 501.4,547.7 501.7,547.4 502.0,548.4 502.3,547.7 502.7,548.0 503.0,548.6 503.3,548.3 503.7,548.3 504.0,547.9 504.3,547.2 504.6,546.8 504.9,546.2 505.0,546.6 505.0,546.6 505.1,545.5 505.3,546.0 505.6,546.9 506.0,547.5 506.3,547.8 506.6,547.8 507.0,547.5 507.3,548.0 507.6,547.0 507.9,547.3 508.3,548.0 508.6,547.4 508.9,547.3 509.3,546.9 509.6,546.7 509.9,548.0 510.3,547.2 510.6,547.6 510.9,547.6 511.2,547.1 511.6,546.7 511.9,546.6 511.9,546.4 512.0,545.8 512.1,546.4 512.2,546.7 512.6,546.8 512.9,546.7 513.2,547.5 513.6,547.5 513.9,547.0 514.2,546.9 514.5,548.0 514.9,547.9 515.2,547.4 515.5,547.2 515.9,546.9 516.2,546.8 516.5,546.9 516.9,546.7 517.2,546.4 517.5,545.8 517.9,546.6 518.0,546.4 518.1,545.9 518.2,546.7 518.5,546.3 518.8,547.6 519.2,547.5 519.5,547.5 519.8,546.9 520.2,547.6 520.5,547.0 520.8,546.8 521.1,547.1 521.5,547.2 521.8,547.0 522.1,547.5 522.5,547.8 522.8,547.0 523.1,548.1 523.5,547.5 523.8,547.6 524.1,547.1 524.5,547.7 524.8,547.4 525.1,547.1 525.4,546.3 525.8,546.3 526.1,544.9 526.4,542.9 526.8,540.6 526.8,541.3 526.9,540.7 527.0,541.0 527.1,541.4 527.4,542.8 527.8,544.9 528.1,544.9 528.4,543.0 528.6,542.0 528.7,542.0 528.8,541.8 529.0,541.7 529.1,542.5 529.4,544.9 529.7,545.0 530.1,546.5 530.4,547.0 530.7,547.4 531.0,546.6 531.4,547.4 531.7,546.8 532.0,547.4 532.4,547.1 532.7,547.5 533.0,547.8 533.4,547.9 533.7,547.4 534.0,547.4 534.4,546.8 534.7,546.4 534.9,546.3 535.0,546.2 535.0,547.0 535.1,546.6 535.3,546.8 535.7,547.7 536.0,547.7 536.3,547.9 536.7,547.6 537.0,547.6 537.3,547.6 537.6,548.1 538.0,547.3 538.3,547.5 538.6,547.7 539.0,546.6 539.3,547.4 539.6,546.6 540.0,546.8 540.3,547.4 540.6,547.5 541.0,547.9 541.3,547.6 541.6,547.9 541.9,547.9 542.3,547.6" stroke="#303030" stroke-opacity="0.6" stroke-width="0.9"/>
</g>
<path d="M542.9,391.3 V549.3" stroke="#787878" stroke-width="2.0" fill="none"/>
<path d="M40.4,549.3 V391.3 H542.9" stroke="#454545" stroke-width="1.2" fill="none" stroke-linecap="square"/>
<path d="M40.4,549.3 H542.9" stroke="#505050" stroke-width="1.2" fill="none"/>
<line x1="40.4" y1="549.30" x2="42.9" y2="549.30" stroke="#3a3a3a" stroke-width="1"/>
<line x1="40.4" y1="517.70" x2="42.9" y2="517.70" stroke="#3a3a3a" stroke-width="1"/>
<line x1="40.4" y1="486.10" x2="42.9" y2="486.10" stroke="#3a3a3a" stroke-width="1"/>
<line x1="40.4" y1="454.50" x2="42.9" y2="454.50" stroke="#3a3a3a" stroke-width="1"/>
<line x1="40.4" y1="422.90" x2="42.9" y2="422.90" stroke="#3a3a3a" stroke-width="1"/>
<line x1="40.4" y1="391.30" x2="42.9" y2="391.30" stroke="#3a3a3a" stroke-width="1"/>
<line x1="40.4" y1="533.50" x2="41.9" y2="533.50" stroke="#3a3a3a" stroke-width="1"/>
<line x1="40.4" y1="501.90" x2="41.9" y2="501.90" stroke="#3a3a3a" stroke-width="1"/>
<line x1="40.4" y1="470.30" x2="41.9" y2="470.30" stroke="#3a3a3a" stroke-width="1"/>
<line x1="40.4" y1="438.70" x2="41.9" y2="438.70" stroke="#3a3a3a" stroke-width="1"/>
<line x1="40.4" y1="407.10" x2="41.9" y2="407.10" stroke="#3a3a3a" stroke-width="1"/>
<line x1="40.40" y1="549.3" x2="40.40" y2="546.8" stroke="#3a3a3a" stroke-width="1"/>
<line x1="118.90" y1="549.3" x2="118.90" y2="546.8" stroke="#3a3a3a" stroke-width="1"/>
<line x1="197.40" y1="549.3" x2="197.40" y2="546.8" stroke="#3a3a3a" stroke-width="1"/>
<line x1="275.90" y1="549.3" x2="275.90" y2="546.8" stroke="#3a3a3a" stroke-width="1"/>
<line x1="354.40" y1="549.3" x2="354.40" y2="546.8" stroke="#3a3a3a" stroke-width="1"/>
<line x1="432.90" y1="549.3" x2="432.90" y2="546.8" stroke="#3a3a3a" stroke-width="1"/>
<line x1="511.40" y1="549.3" x2="511.40" y2="546.8" stroke="#3a3a3a" stroke-width="1"/>
<line x1="79.65" y1="549.3" x2="79.65" y2="547.8" stroke="#3a3a3a" stroke-width="1"/>
<line x1="158.15" y1="549.3" x2="158.15" y2="547.8" stroke="#3a3a3a" stroke-width="1"/>
<line x1="236.65" y1="549.3" x2="236.65" y2="547.8" stroke="#3a3a3a" stroke-width="1"/>
<line x1="315.15" y1="549.3" x2="315.15" y2="547.8" stroke="#3a3a3a" stroke-width="1"/>
<line x1="393.65" y1="549.3" x2="393.65" y2="547.8" stroke="#3a3a3a" stroke-width="1"/>
<line x1="472.15" y1="549.3" x2="472.15" y2="547.8" stroke="#3a3a3a" stroke-width="1"/>
<text x="39.0" y="551.60" text-anchor="end" font-size="8.4" class="b">0</text>
<text x="39.0" y="520.00" text-anchor="end" font-size="8.4" class="b">5000</text>
<text x="39.0" y="488.40" text-anchor="end" font-size="8.4" class="b">10,000</text>
<text x="39.0" y="456.80" text-anchor="end" font-size="8.4" class="b">15,000</text>
<text x="39.0" y="425.20" text-anchor="end" font-size="8.4" class="b">20,000</text>
<text x="39.0" y="393.60" text-anchor="end" font-size="8.4" class="b">25,000</text>
<text x="40.40" y="558.2" text-anchor="middle" font-size="8" class="b">200</text>
<text x="118.90" y="558.2" text-anchor="middle" font-size="8" class="b">300</text>
<text x="197.40" y="558.2" text-anchor="middle" font-size="8" class="b">400</text>
<text x="275.90" y="558.2" text-anchor="middle" font-size="8" class="b">500</text>
<text x="354.40" y="558.2" text-anchor="middle" font-size="8" class="b">600</text>
<text x="432.90" y="558.2" text-anchor="middle" font-size="8" class="b">700</text>
<text x="511.40" y="558.2" text-anchor="middle" font-size="8" class="b">800</text>
<text x="46.6" y="406.0" font-size="11.8" class="b">(c)</text>
<line x1="457.3" y1="401.5" x2="480.3" y2="401.5" stroke="#ff3b3b" stroke-width="1"/>
<line x1="457.3" y1="414.3" x2="480.3" y2="414.3" stroke="#999" stroke-width="1"/>
<text x="484.1" y="404.80" font-size="10.2" class="b">Vortex</text>
<text x="484.1" y="417.60" font-size="10.2" class="b">Gaussian</text>
<text transform="translate(13.3,470.4) rotate(-90)" text-anchor="middle" font-size="9.2" class="b">Intensity (a.u.)</text>
<text x="295.3" y="567.5" text-anchor="middle" font-size="9.5" class="b">Wavelength (nm)</text>
<line x1="64.5" y1="506.6" x2="64.5" y2="519.80" stroke="#111" stroke-width="1.25"/>
<polygon points="62.30,518.70 64.50,519.70 66.70,518.70 64.50,523.30" fill="#111"/>
<text transform="translate(67.00,497.35) rotate(-90)" text-anchor="middle" font-size="7.5" class="b">Fe II</text>
<line x1="78.1" y1="484.1" x2="78.1" y2="498.10" stroke="#111" stroke-width="1.25"/>
<polygon points="75.90,497.00 78.10,498.00 80.30,497.00 78.10,501.60" fill="#111"/>
<text transform="translate(81.40,476.50) rotate(-90)" text-anchor="middle" font-size="7.5" class="b">C I</text>
<line x1="81.0" y1="516.3" x2="81.0" y2="531.10" stroke="#111" stroke-width="1.25"/>
<polygon points="78.80,530.00 81.00,531.00 83.20,530.00 81.00,534.60" fill="#111"/>
<text transform="translate(83.90,499.80) rotate(-90)" text-anchor="middle" font-size="7.5" class="b">Fe I</text>
<line x1="103.6" y1="525.2" x2="103.6" y2="538.70" stroke="#111" stroke-width="1.25"/>
<polygon points="101.40,537.60 103.60,538.60 105.80,537.60 103.60,542.20" fill="#111"/>
<text transform="translate(106.10,515.10) rotate(-90)" text-anchor="middle" font-size="7.5" class="b">Mg II</text>
<line x1="107.5" y1="499.4" x2="107.5" y2="535.90" stroke="#111" stroke-width="1.25"/>
<polygon points="105.30,534.80 107.50,535.80 109.70,534.80 107.50,539.40" fill="#111"/>
<text transform="translate(110.40,487.90) rotate(-90)" text-anchor="middle" font-size="7.5" class="b">Mg I</text>
<line x1="111.0" y1="513.7" x2="111.0" y2="527.30" stroke="#111" stroke-width="1.25"/>
<polygon points="108.80,526.20 111.00,527.20 113.20,526.20 111.00,530.80" fill="#111"/>
<text transform="translate(114.00,504.40) rotate(-90)" text-anchor="middle" font-size="7.5" class="b">Si I</text>
<line x1="126.5" y1="516.6" x2="126.5" y2="530.10" stroke="#111" stroke-width="1.25"/>
<polygon points="124.30,529.00 126.50,530.00 128.70,529.00 126.50,533.60" fill="#111"/>
<text transform="translate(129.50,507.95) rotate(-90)" text-anchor="middle" font-size="7.5" class="b">Al I</text>
<text transform="translate(198.10,411.30) rotate(-90)" text-anchor="middle" font-size="7.5" class="b">CN</text>
<line x1="193.9" y1="477.8" x2="193.9" y2="491.30" stroke="#111" stroke-width="1.25"/>
<polygon points="191.70,490.20 193.90,491.20 196.10,490.20 193.90,494.80" fill="#111"/>
<text transform="translate(198.10,463.40) rotate(-90)" text-anchor="middle" font-size="7.5" class="b">Ca II</text>
<line x1="203.3" y1="508.4" x2="203.3" y2="520.30" stroke="#111" stroke-width="1.25"/>
<polygon points="201.10,519.20 203.30,520.20 205.50,519.20 203.30,523.80" fill="#111"/>
<text transform="translate(206.10,494.00) rotate(-90)" text-anchor="middle" font-size="7.5" class="b">Al I</text>
<line x1="214.1" y1="481.6" x2="214.1" y2="493.10" stroke="#111" stroke-width="1.25"/>
<polygon points="211.90,492.00 214.10,493.00 216.30,492.00 214.10,496.60" fill="#111"/>
<text transform="translate(216.90,465.60) rotate(-90)" text-anchor="middle" font-size="7.5" class="b">Ca II</text>
<line x1="276.5" y1="493.2" x2="276.5" y2="506.60" stroke="#111" stroke-width="1.25"/>
<polygon points="274.30,505.50 276.50,506.50 278.70,505.50 276.50,510.10" fill="#111"/>
<text transform="translate(279.00,483.75) rotate(-90)" text-anchor="middle" font-size="7.5" class="b">Fe II</text>
<line x1="288.9" y1="456.8" x2="288.9" y2="469.50" stroke="#111" stroke-width="1.25"/>
<polygon points="286.70,468.40 288.90,469.40 291.10,468.40 288.90,473.00" fill="#111"/>
<text transform="translate(292.50,446.60) rotate(-90)" text-anchor="middle" font-size="7.5" class="b">Fe II</text>
<line x1="346.8" y1="424.3" x2="346.8" y2="434.40" stroke="#111" stroke-width="1.25"/>
<polygon points="344.60,433.30 346.80,434.30 349.00,433.30 346.80,437.90" fill="#111"/>
<text transform="translate(349.30,411.50) rotate(-90)" text-anchor="middle" font-size="7.5" class="b">Na I</text>
<line x1="398.6" y1="515" x2="398.6" y2="528.60" stroke="#111" stroke-width="1.25"/>
<polygon points="396.40,527.50 398.60,528.50 400.80,527.50 398.60,532.10" fill="#111"/>
<text transform="translate(401.10,501.80) rotate(-90)" text-anchor="middle" font-size="7.5" class="b">Fe II</text>
<line x1="410.0" y1="471.5" x2="410.0" y2="485.10" stroke="#111" stroke-width="1.25"/>
<polygon points="407.80,484.00 410.00,485.00 412.20,484.00 410.00,488.60" fill="#111"/>
<text transform="translate(412.50,456.50) rotate(-90)" text-anchor="middle" font-size="7.5" class="b">O V</text>
<line x1="494.0" y1="499.4" x2="494.0" y2="512.10" stroke="#111" stroke-width="1.25"/>
<polygon points="491.80,511.00 494.00,512.00 496.20,511.00 494.00,515.60" fill="#111"/>
<text transform="translate(496.50,491.00) rotate(-90)" text-anchor="middle" font-size="7.5" class="b">O I</text>
</svg>
</body></html>
